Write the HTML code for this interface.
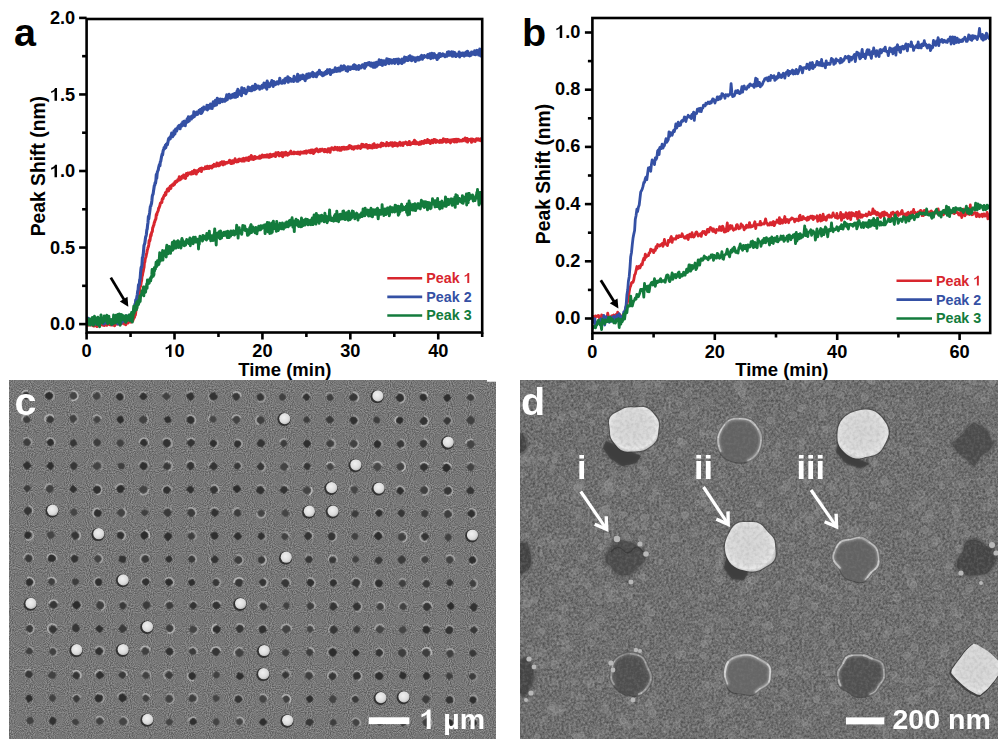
<!DOCTYPE html>
<html><head><meta charset="utf-8"><style>
html,body{margin:0;padding:0;background:#fff;}
#root{position:relative;width:1005px;height:748px;overflow:hidden;background:#fff;font-family:"Liberation Sans",sans-serif;}
.lbl{position:absolute;font-family:"Liberation Sans",sans-serif;font-weight:bold;color:#fff;line-height:1;white-space:nowrap}
</style></head><body><div id="root">
<svg width="1005" height="380" viewBox="0 0 1005 380" style="position:absolute;left:0;top:0">
<defs><clipPath id="ca"><rect x="86.6" y="19.0" width="395.6" height="313.5"/></clipPath>
<clipPath id="cb"><rect x="592.4" y="18.0" width="397.80000000000007" height="315.0"/></clipPath></defs>
<g clip-path="url(#ca)">
<path d="M86.6,324.1 87.0,323.8 87.4,324.4 87.8,325.0 88.2,324.6 88.6,325.1 89.0,324.0 89.4,322.8 89.8,324.6 90.2,324.7 90.6,323.6 91.0,323.7 91.4,324.0 91.7,325.0 92.1,324.1 92.5,323.4 92.9,325.4 93.3,324.6 93.7,326.0 94.1,325.4 94.5,325.9 94.9,324.3 95.3,325.4 95.7,323.8 96.1,323.9 96.5,324.3 96.9,326.6 97.3,324.6 97.7,324.1 98.1,324.0 98.5,325.6 98.9,324.6 99.3,325.1 99.7,324.9 100.1,323.0 100.5,324.9 100.9,324.1 101.3,323.2 101.6,324.7 102.0,324.2 102.4,324.0 102.8,324.0 103.2,325.3 103.6,324.0 104.0,322.7 104.4,325.6 104.8,323.2 105.2,324.0 105.6,324.7 106.0,322.1 106.4,323.3 106.8,325.3 107.2,324.0 107.6,323.5 108.0,324.2 108.4,323.4 108.8,324.1 109.2,323.4 109.6,322.6 110.0,324.7 110.4,323.8 110.8,324.4 111.2,323.8 111.5,325.1 111.9,324.5 112.3,324.1 112.7,323.0 113.1,322.7 113.5,325.1 113.9,324.6 114.3,323.1 114.7,325.7 115.1,324.2 115.5,323.8 115.9,322.4 116.3,322.9 116.7,323.9 117.1,323.9 117.5,323.8 117.9,322.0 118.3,323.9 118.7,323.7 119.1,323.0 119.5,323.5 119.9,323.5 120.3,324.4 120.7,323.2 121.1,323.6 121.4,322.0 121.8,322.5 122.2,323.1 122.6,322.4 123.0,323.3 123.4,321.9 123.8,322.9 124.2,322.2 124.6,324.1 125.0,322.4 125.4,324.4 125.8,324.6 126.2,322.9 126.6,323.4 127.0,322.3 127.4,320.1 127.8,323.1 128.2,322.8 128.6,321.8 129.0,321.4 129.4,321.9 129.8,321.8 130.2,320.7 130.6,320.7 131.0,322.1 131.3,320.9 131.7,320.5 132.1,321.4 132.5,319.8 132.9,320.6 133.3,318.4 133.7,318.5 134.1,317.7 134.5,317.1 134.9,315.1 135.3,315.2 135.7,312.4 136.1,308.9 136.5,309.2 136.9,304.0 137.3,304.4 137.7,299.8 138.1,299.3 138.5,295.7 138.9,294.4 139.3,294.1 139.7,289.3 140.1,287.0 140.5,286.3 140.9,284.3 141.2,282.0 141.6,280.6 142.0,276.2 142.4,275.6 142.8,272.9 143.2,271.4 143.6,269.0 144.0,267.4 144.4,262.7 144.8,262.0 145.2,258.8 145.6,257.8 146.0,256.6 146.4,254.3 146.8,252.8 147.2,250.4 147.6,249.1 148.0,247.3 148.4,246.7 148.8,244.5 149.2,240.4 149.6,241.2 150.0,240.0 150.4,237.0 150.8,234.5 151.1,235.8 151.5,233.1 151.9,232.0 152.3,231.7 152.7,227.8 153.1,227.1 153.5,225.6 153.9,225.0 154.3,222.4 154.7,222.0 155.1,220.2 155.5,219.8 155.9,218.5 156.3,214.6 156.7,215.1 157.1,213.0 157.5,212.1 157.9,211.3 158.3,210.2 158.7,207.9 159.1,207.8 159.5,206.6 159.9,205.5 160.3,203.5 160.7,203.0 161.0,202.5 161.4,202.5 161.8,202.5 162.2,199.3 162.6,198.5 163.0,198.8 163.4,197.3 163.8,196.3 164.2,195.5 164.6,194.7 165.0,195.4 165.4,192.7 165.8,194.8 166.2,192.0 166.6,191.7 167.0,190.7 167.4,189.1 167.8,188.9 168.2,190.9 168.6,190.9 169.0,187.9 169.4,189.2 169.8,187.7 170.2,186.4 170.6,188.4 170.9,188.4 171.3,185.6 171.7,185.4 172.1,185.3 172.5,184.6 172.9,185.1 173.3,185.4 173.7,183.6 174.1,184.1 174.5,184.4 174.9,181.9 175.3,182.1 175.7,181.2 176.1,182.3 176.5,181.6 176.9,181.6 177.3,181.2 177.7,179.8 178.1,180.5 178.5,179.1 178.9,178.8 179.3,176.8 179.7,179.9 180.1,177.4 180.5,178.1 180.8,177.8 181.2,179.0 181.6,177.7 182.0,176.3 182.4,176.9 182.8,176.5 183.2,176.7 183.6,175.0 184.0,176.0 184.4,178.0 184.8,176.3 185.2,177.3 185.6,178.4 186.0,175.5 186.4,173.5 186.8,174.6 187.2,175.7 187.6,175.3 188.0,173.1 188.4,173.9 188.8,173.8 189.2,173.8 189.6,173.6 190.0,172.7 190.4,172.8 190.7,173.0 191.1,174.1 191.5,172.4 191.9,173.5 192.3,171.6 192.7,173.8 193.1,172.5 193.5,172.3 193.9,173.4 194.3,170.3 194.7,170.4 195.1,172.2 195.5,170.8 195.9,171.1 196.3,174.0 196.7,171.0 197.1,171.2 197.5,170.9 197.9,171.9 198.3,171.0 198.7,170.7 199.1,169.3 199.5,170.0 199.9,170.2 200.3,168.5 200.6,170.5 201.0,170.2 201.4,171.5 201.8,168.0 202.2,168.4 202.6,168.4 203.0,168.5 203.4,168.9 203.8,168.7 204.2,169.0 204.6,168.8 205.0,168.4 205.4,166.9 205.8,167.7 206.2,168.2 206.6,168.6 207.0,168.5 207.4,166.2 207.8,167.1 208.2,167.4 208.6,167.7 209.0,168.4 209.4,167.2 209.8,166.2 210.2,167.3 210.5,167.0 210.9,166.9 211.3,166.5 211.7,168.0 212.1,166.6 212.5,167.1 212.9,165.2 213.3,166.8 213.7,165.3 214.1,164.3 214.5,166.0 214.9,166.1 215.3,165.3 215.7,165.3 216.1,166.2 216.5,164.7 216.9,163.0 217.3,165.2 217.7,165.0 218.1,165.7 218.5,164.3 218.9,165.7 219.3,165.5 219.7,163.0 220.1,165.1 220.4,163.0 220.8,162.5 221.2,163.7 221.6,163.3 222.0,161.8 222.4,163.9 222.8,164.2 223.2,164.8 223.6,163.3 224.0,161.8 224.4,162.2 224.8,164.1 225.2,163.9 225.6,163.4 226.0,162.6 226.4,163.0 226.8,162.5 227.2,162.3 227.6,162.8 228.0,162.5 228.4,162.1 228.8,162.3 229.2,161.7 229.6,160.2 230.0,161.4 230.3,161.9 230.7,163.5 231.1,161.4 231.5,163.6 231.9,163.0 232.3,160.7 232.7,160.8 233.1,161.5 233.5,163.0 233.9,161.6 234.3,161.8 234.7,160.4 235.1,158.8 235.5,160.7 235.9,161.6 236.3,161.9 236.7,160.8 237.1,160.8 237.5,161.7 237.9,160.4 238.3,161.6 238.7,159.2 239.1,159.2 239.5,159.1 239.9,160.6 240.2,159.5 240.6,160.1 241.0,160.3 241.4,160.2 241.8,161.1 242.2,161.1 242.6,158.8 243.0,159.7 243.4,159.3 243.8,158.4 244.2,161.1 244.6,160.1 245.0,159.0 245.4,158.8 245.8,159.5 246.2,158.0 246.6,158.7 247.0,160.1 247.4,159.7 247.8,157.9 248.2,158.2 248.6,160.5 249.0,157.2 249.4,157.9 249.8,157.1 250.1,158.7 250.5,158.6 250.9,159.3 251.3,155.6 251.7,158.3 252.1,156.4 252.5,158.6 252.9,157.7 253.3,159.5 253.7,158.1 254.1,156.7 254.5,158.9 254.9,156.5 255.3,157.2 255.7,158.5 256.1,157.9 256.5,157.8 256.9,157.3 257.3,157.7 257.7,158.0 258.1,157.4 258.5,158.0 258.9,158.2 259.3,156.9 259.7,156.0 260.0,158.3 260.4,156.7 260.8,157.3 261.2,157.6 261.6,155.7 262.0,157.0 262.4,154.9 262.8,157.1 263.2,155.9 263.6,156.5 264.0,157.0 264.4,155.6 264.8,156.2 265.2,155.4 265.6,156.0 266.0,157.0 266.4,156.0 266.8,155.8 267.2,154.8 267.6,156.6 268.0,155.7 268.4,157.3 268.8,154.9 269.2,156.6 269.6,157.2 269.9,155.5 270.3,154.2 270.7,156.8 271.1,156.3 271.5,155.9 271.9,156.3 272.3,154.7 272.7,155.8 273.1,155.7 273.5,154.4 273.9,155.6 274.3,154.4 274.7,155.8 275.1,156.0 275.5,156.5 275.9,152.8 276.3,154.9 276.7,154.3 277.1,154.5 277.5,154.3 277.9,154.4 278.3,152.5 278.7,155.4 279.1,155.8 279.5,155.3 279.8,155.5 280.2,153.4 280.6,153.3 281.0,155.0 281.4,155.4 281.8,154.3 282.2,152.6 282.6,156.7 283.0,153.3 283.4,154.9 283.8,152.7 284.2,154.8 284.6,154.0 285.0,155.1 285.4,154.6 285.8,152.2 286.2,152.7 286.6,153.9 287.0,154.3 287.4,155.3 287.8,153.7 288.2,153.3 288.6,153.4 289.0,153.3 289.3,154.3 289.7,153.2 290.1,153.1 290.5,151.8 290.9,151.2 291.3,153.1 291.7,153.7 292.1,153.0 292.5,153.5 292.9,153.6 293.3,152.8 293.7,153.8 294.1,152.1 294.5,152.8 294.9,152.4 295.3,152.8 295.7,153.3 296.1,153.5 296.5,152.7 296.9,153.0 297.3,152.2 297.7,152.4 298.1,153.7 298.5,152.2 298.9,153.6 299.2,152.8 299.6,152.5 300.0,154.2 300.4,152.0 300.8,151.9 301.2,152.2 301.6,152.4 302.0,152.3 302.4,152.9 302.8,152.2 303.2,152.4 303.6,151.7 304.0,153.0 304.4,151.5 304.8,151.6 305.2,151.8 305.6,152.1 306.0,151.1 306.4,153.2 306.8,151.1 307.2,151.3 307.6,151.2 308.0,151.0 308.4,152.0 308.8,151.6 309.1,150.7 309.5,150.9 309.9,151.0 310.3,152.7 310.7,150.7 311.1,150.0 311.5,150.1 311.9,150.9 312.3,152.6 312.7,150.1 313.1,151.1 313.5,153.5 313.9,150.5 314.3,152.4 314.7,152.1 315.1,151.4 315.5,149.5 315.9,151.1 316.3,150.4 316.7,148.9 317.1,149.1 317.5,150.7 317.9,150.8 318.3,151.8 318.7,151.2 319.0,150.1 319.4,150.1 319.8,150.3 320.2,149.4 320.6,151.1 321.0,150.4 321.4,149.6 321.8,149.7 322.2,149.2 322.6,149.8 323.0,150.5 323.4,149.8 323.8,151.1 324.2,151.7 324.6,149.4 325.0,150.0 325.4,149.6 325.8,151.6 326.2,150.3 326.6,150.5 327.0,150.7 327.4,152.0 327.8,150.1 328.2,148.8 328.6,149.3 328.9,150.3 329.3,149.6 329.7,148.8 330.1,152.3 330.5,149.6 330.9,148.9 331.3,148.8 331.7,147.7 332.1,148.3 332.5,149.0 332.9,149.0 333.3,148.5 333.7,149.8 334.1,149.3 334.5,148.3 334.9,147.2 335.3,149.3 335.7,149.1 336.1,148.8 336.5,147.7 336.9,149.0 337.3,147.5 337.7,149.9 338.1,149.1 338.5,149.0 338.8,148.0 339.2,147.7 339.6,150.2 340.0,149.6 340.4,148.3 340.8,149.3 341.2,150.1 341.6,147.5 342.0,148.0 342.4,148.0 342.8,148.9 343.2,147.4 343.6,148.6 344.0,147.3 344.4,149.2 344.8,149.1 345.2,148.0 345.6,148.9 346.0,147.5 346.4,147.9 346.8,149.0 347.2,148.0 347.6,148.4 348.0,147.1 348.4,148.6 348.7,148.4 349.1,146.7 349.5,145.6 349.9,145.8 350.3,147.7 350.7,147.5 351.1,146.2 351.5,147.8 351.9,148.6 352.3,147.5 352.7,147.1 353.1,148.4 353.5,149.1 353.9,148.9 354.3,146.8 354.7,148.1 355.1,147.5 355.5,147.1 355.9,146.7 356.3,147.6 356.7,146.7 357.1,148.1 357.5,147.5 357.9,148.1 358.3,145.9 358.6,147.1 359.0,147.7 359.4,147.3 359.8,147.1 360.2,146.2 360.6,148.4 361.0,147.9 361.4,147.2 361.8,144.2 362.2,145.8 362.6,146.8 363.0,145.9 363.4,144.6 363.8,146.8 364.2,146.9 364.6,145.3 365.0,146.0 365.4,145.8 365.8,146.9 366.2,144.5 366.6,144.6 367.0,145.7 367.4,145.6 367.8,148.2 368.2,145.6 368.5,146.4 368.9,145.7 369.3,145.4 369.7,146.4 370.1,147.7 370.5,145.6 370.9,146.7 371.3,146.3 371.7,146.5 372.1,146.2 372.5,148.1 372.9,144.6 373.3,145.5 373.7,144.6 374.1,143.7 374.5,145.6 374.9,147.4 375.3,146.5 375.7,146.8 376.1,146.0 376.5,145.4 376.9,147.4 377.3,145.1 377.7,146.9 378.1,145.1 378.4,145.4 378.8,145.6 379.2,145.3 379.6,145.8 380.0,145.8 380.4,146.8 380.8,145.2 381.2,143.3 381.6,143.1 382.0,143.7 382.4,144.3 382.8,145.7 383.2,143.5 383.6,145.0 384.0,145.0 384.4,145.1 384.8,144.7 385.2,145.2 385.6,144.9 386.0,145.8 386.4,145.1 386.8,142.4 387.2,144.7 387.6,144.9 388.0,144.1 388.3,143.9 388.7,145.6 389.1,144.7 389.5,143.6 389.9,144.2 390.3,144.3 390.7,142.8 391.1,145.0 391.5,144.3 391.9,144.8 392.3,142.8 392.7,146.2 393.1,144.9 393.5,144.7 393.9,143.5 394.3,143.5 394.7,142.7 395.1,145.6 395.5,143.3 395.9,144.3 396.3,144.7 396.7,143.4 397.1,144.8 397.5,146.0 397.9,144.2 398.2,145.3 398.6,144.5 399.0,143.4 399.4,143.5 399.8,142.2 400.2,143.9 400.6,145.2 401.0,144.4 401.4,144.5 401.8,144.8 402.2,143.1 402.6,144.2 403.0,145.5 403.4,142.8 403.8,143.6 404.2,143.1 404.6,143.3 405.0,142.7 405.4,143.3 405.8,142.1 406.2,142.9 406.6,142.9 407.0,142.8 407.4,144.7 407.8,143.3 408.1,143.4 408.5,142.9 408.9,144.5 409.3,141.4 409.7,142.9 410.1,144.2 410.5,144.7 410.9,143.2 411.3,143.0 411.7,143.6 412.1,142.8 412.5,143.5 412.9,142.3 413.3,143.5 413.7,142.8 414.1,141.8 414.5,140.2 414.9,143.7 415.3,143.1 415.7,143.5 416.1,141.8 416.5,143.7 416.9,143.1 417.3,142.6 417.7,143.5 418.0,143.4 418.4,142.9 418.8,144.5 419.2,143.9 419.6,142.8 420.0,142.2 420.4,142.5 420.8,144.1 421.2,142.8 421.6,141.5 422.0,141.7 422.4,142.3 422.8,143.1 423.2,141.5 423.6,142.7 424.0,143.3 424.4,142.9 424.8,140.6 425.2,141.8 425.6,140.9 426.0,142.5 426.4,141.1 426.8,142.6 427.2,142.1 427.6,139.4 427.9,141.1 428.3,142.4 428.7,141.9 429.1,141.5 429.5,140.6 429.9,142.3 430.3,143.5 430.7,142.0 431.1,141.7 431.5,141.6 431.9,140.4 432.3,141.3 432.7,140.8 433.1,142.7 433.5,140.7 433.9,139.5 434.3,140.8 434.7,141.3 435.1,141.4 435.5,139.7 435.9,142.4 436.3,141.6 436.7,141.0 437.1,140.7 437.5,141.8 437.8,141.1 438.2,141.6 438.6,141.2 439.0,141.4 439.4,142.4 439.8,141.3 440.2,140.4 440.6,142.2 441.0,141.5 441.4,140.5 441.8,142.2 442.2,141.0 442.6,142.2 443.0,140.0 443.4,138.8 443.8,139.1 444.2,141.3 444.6,140.3 445.0,140.9 445.4,140.9 445.8,139.5 446.2,142.3 446.6,139.9 447.0,141.0 447.4,139.5 447.7,140.7 448.1,141.6 448.5,140.6 448.9,140.1 449.3,140.8 449.7,140.4 450.1,141.3 450.5,142.9 450.9,139.9 451.3,140.1 451.7,140.6 452.1,140.7 452.5,139.7 452.9,141.2 453.3,141.4 453.7,140.9 454.1,139.5 454.5,142.0 454.9,139.4 455.3,141.3 455.7,141.7 456.1,139.3 456.5,140.7 456.9,141.9 457.3,140.9 457.6,139.6 458.0,139.3 458.4,140.9 458.8,140.1 459.2,139.8 459.6,141.1 460.0,140.1 460.4,140.5 460.8,140.9 461.2,140.9 461.6,140.3 462.0,140.3 462.4,140.9 462.8,140.8 463.2,139.2 463.6,140.1 464.0,139.4 464.4,139.1 464.8,139.7 465.2,138.0 465.6,141.1 466.0,139.4 466.4,140.5 466.8,138.4 467.2,138.5 467.5,142.1 467.9,141.1 468.3,139.5 468.7,139.4 469.1,139.4 469.5,140.2 469.9,139.6 470.3,139.4 470.7,140.2 471.1,139.0 471.5,142.3 471.9,139.4 472.3,141.1 472.7,139.1 473.1,140.2 473.5,140.9 473.9,139.6 474.3,140.9 474.7,140.9 475.1,141.5 475.5,140.0 475.9,139.4 476.3,138.9 476.7,140.0 477.1,138.9 477.4,139.9 477.8,140.0 478.2,139.3 478.6,138.8 479.0,140.2 479.4,140.1 479.8,140.0 480.2,139.7 480.6,140.7 481.0,138.8 481.4,140.2 481.8,139.3 482.2,140.6" fill="none" stroke="#d8262e" stroke-width="3.0" stroke-linejoin="round"/>
<path d="M86.6,320.5 87.0,320.5 87.4,321.6 87.8,318.1 88.2,320.5 88.6,318.5 89.0,319.6 89.4,322.0 89.8,321.6 90.2,320.4 90.6,320.9 91.0,321.0 91.4,321.5 91.7,323.7 92.1,321.4 92.5,324.3 92.9,320.5 93.3,322.1 93.7,322.1 94.1,321.4 94.5,320.6 94.9,323.1 95.3,323.6 95.7,322.6 96.1,324.0 96.5,322.4 96.9,318.7 97.3,322.6 97.7,320.1 98.1,323.0 98.5,320.6 98.9,321.5 99.3,321.1 99.7,320.2 100.1,318.5 100.5,320.8 100.9,320.9 101.3,322.5 101.6,320.2 102.0,321.4 102.4,319.8 102.8,321.1 103.2,318.5 103.6,323.9 104.0,321.5 104.4,319.8 104.8,321.5 105.2,322.2 105.6,321.4 106.0,323.0 106.4,320.9 106.8,317.5 107.2,319.3 107.6,322.6 108.0,322.3 108.4,321.6 108.8,319.5 109.2,322.2 109.6,322.0 110.0,319.7 110.4,319.7 110.8,321.5 111.2,322.5 111.5,323.1 111.9,321.9 112.3,324.1 112.7,319.7 113.1,321.7 113.5,320.1 113.9,318.0 114.3,319.0 114.7,322.4 115.1,319.4 115.5,319.0 115.9,321.7 116.3,322.0 116.7,320.7 117.1,322.9 117.5,318.4 117.9,324.0 118.3,322.0 118.7,320.8 119.1,320.7 119.5,320.1 119.9,319.9 120.3,320.6 120.7,318.6 121.1,323.3 121.4,320.1 121.8,321.1 122.2,319.8 122.6,319.7 123.0,321.3 123.4,320.8 123.8,318.7 124.2,319.3 124.6,320.7 125.0,316.7 125.4,316.3 125.8,321.7 126.2,319.1 126.6,315.8 127.0,318.2 127.4,318.9 127.8,319.4 128.2,319.7 128.6,319.0 129.0,319.2 129.4,317.1 129.8,318.5 130.2,318.2 130.6,319.0 131.0,317.0 131.3,317.8 131.7,316.3 132.1,313.8 132.5,313.8 132.9,312.4 133.3,311.3 133.7,310.3 134.1,309.0 134.5,307.6 134.9,304.3 135.3,305.2 135.7,300.0 136.1,300.1 136.5,299.3 136.9,296.8 137.3,294.8 137.7,291.3 138.1,290.1 138.5,284.9 138.9,285.1 139.3,284.6 139.7,279.8 140.1,279.0 140.5,273.5 140.9,269.3 141.2,267.3 141.6,267.6 142.0,264.1 142.4,257.6 142.8,257.0 143.2,254.6 143.6,250.3 144.0,245.5 144.4,244.4 144.8,243.3 145.2,240.2 145.6,237.1 146.0,236.2 146.4,234.2 146.8,230.1 147.2,229.0 147.6,225.1 148.0,222.4 148.4,216.6 148.8,218.8 149.2,215.2 149.6,212.9 150.0,209.6 150.4,206.4 150.8,206.3 151.1,204.6 151.5,203.6 151.9,200.4 152.3,196.1 152.7,194.7 153.1,194.1 153.5,191.1 153.9,188.5 154.3,185.7 154.7,185.3 155.1,182.8 155.5,183.2 155.9,180.3 156.3,174.5 156.7,178.3 157.1,173.8 157.5,171.4 157.9,170.7 158.3,169.8 158.7,167.3 159.1,165.8 159.5,164.5 159.9,165.8 160.3,161.9 160.7,161.6 161.0,159.8 161.4,157.4 161.8,155.6 162.2,154.0 162.6,154.8 163.0,151.5 163.4,150.0 163.8,149.0 164.2,147.5 164.6,148.7 165.0,147.7 165.4,145.3 165.8,147.6 166.2,144.4 166.6,144.6 167.0,143.6 167.4,144.8 167.8,142.8 168.2,140.9 168.6,138.9 169.0,138.1 169.4,139.0 169.8,138.6 170.2,138.9 170.6,136.6 170.9,136.9 171.3,135.2 171.7,133.0 172.1,135.0 172.5,136.7 172.9,135.3 173.3,135.6 173.7,134.8 174.1,130.7 174.5,131.8 174.9,133.9 175.3,130.3 175.7,129.0 176.1,131.0 176.5,131.0 176.9,130.1 177.3,128.8 177.7,127.9 178.1,126.7 178.5,126.3 178.9,125.9 179.3,125.3 179.7,126.0 180.1,128.8 180.5,126.4 180.8,125.4 181.2,126.0 181.6,123.8 182.0,125.3 182.4,125.8 182.8,122.0 183.2,122.8 183.6,123.1 184.0,121.7 184.4,121.2 184.8,121.9 185.2,125.7 185.6,122.8 186.0,122.2 186.4,122.6 186.8,120.6 187.2,118.9 187.6,121.0 188.0,121.7 188.4,116.8 188.8,120.1 189.2,120.9 189.6,118.5 190.0,118.0 190.4,119.3 190.7,116.9 191.1,118.4 191.5,118.8 191.9,116.9 192.3,115.8 192.7,117.6 193.1,115.9 193.5,116.2 193.9,111.7 194.3,116.6 194.7,113.3 195.1,115.1 195.5,115.0 195.9,113.5 196.3,113.0 196.7,112.2 197.1,113.3 197.5,114.4 197.9,114.0 198.3,112.2 198.7,111.9 199.1,110.4 199.5,111.6 199.9,110.4 200.3,109.5 200.6,111.2 201.0,113.4 201.4,112.7 201.8,112.8 202.2,108.2 202.6,111.5 203.0,108.2 203.4,108.9 203.8,107.0 204.2,107.8 204.6,109.2 205.0,109.1 205.4,108.5 205.8,108.1 206.2,108.9 206.6,107.9 207.0,105.3 207.4,109.9 207.8,106.8 208.2,108.3 208.6,106.5 209.0,105.3 209.4,106.4 209.8,105.0 210.2,108.2 210.5,104.0 210.9,106.3 211.3,104.3 211.7,104.7 212.1,108.5 212.5,105.7 212.9,104.0 213.3,101.9 213.7,103.5 214.1,103.4 214.5,105.6 214.9,101.2 215.3,100.5 215.7,102.9 216.1,103.0 216.5,104.9 216.9,101.0 217.3,98.2 217.7,100.9 218.1,99.9 218.5,100.8 218.9,102.8 219.3,99.2 219.7,102.8 220.1,101.1 220.4,100.2 220.8,99.1 221.2,99.6 221.6,99.5 222.0,101.0 222.4,101.5 222.8,99.4 223.2,100.3 223.6,101.0 224.0,100.8 224.4,99.5 224.8,101.3 225.2,100.4 225.6,100.6 226.0,97.8 226.4,97.3 226.8,94.8 227.2,99.7 227.6,98.4 228.0,95.9 228.4,97.3 228.8,97.3 229.2,94.2 229.6,97.0 230.0,98.0 230.3,98.1 230.7,95.5 231.1,95.4 231.5,97.7 231.9,97.0 232.3,94.6 232.7,94.4 233.1,96.0 233.5,94.0 233.9,93.9 234.3,97.2 234.7,94.9 235.1,93.7 235.5,94.9 235.9,97.1 236.3,94.2 236.7,92.6 237.1,91.2 237.5,96.5 237.9,89.4 238.3,94.7 238.7,91.5 239.1,91.0 239.5,91.2 239.9,92.3 240.2,94.0 240.6,91.3 241.0,93.1 241.4,95.6 241.8,87.7 242.2,90.6 242.6,88.9 243.0,92.7 243.4,89.1 243.8,88.8 244.2,88.7 244.6,90.9 245.0,92.5 245.4,90.9 245.8,93.7 246.2,92.9 246.6,90.1 247.0,91.6 247.4,90.3 247.8,90.1 248.2,87.0 248.6,87.8 249.0,89.6 249.4,87.7 249.8,90.5 250.1,89.7 250.5,87.8 250.9,90.8 251.3,89.3 251.7,90.7 252.1,88.5 252.5,86.2 252.9,89.5 253.3,88.0 253.7,89.5 254.1,89.8 254.5,89.8 254.9,85.8 255.3,84.4 255.7,87.0 256.1,88.7 256.5,86.5 256.9,87.9 257.3,86.1 257.7,86.8 258.1,86.7 258.5,86.1 258.9,87.8 259.3,87.4 259.7,89.2 260.0,87.3 260.4,88.6 260.8,86.6 261.2,87.7 261.6,86.1 262.0,85.5 262.4,88.1 262.8,87.2 263.2,87.2 263.6,84.7 264.0,83.2 264.4,84.4 264.8,86.0 265.2,83.3 265.6,87.5 266.0,83.1 266.4,86.1 266.8,89.1 267.2,81.1 267.6,82.6 268.0,86.3 268.4,84.4 268.8,84.9 269.2,84.4 269.6,86.6 269.9,85.3 270.3,83.6 270.7,83.8 271.1,82.3 271.5,83.9 271.9,80.5 272.3,84.8 272.7,83.3 273.1,86.4 273.5,85.3 273.9,81.5 274.3,84.7 274.7,82.5 275.1,83.3 275.5,84.6 275.9,83.5 276.3,83.7 276.7,83.6 277.1,81.7 277.5,81.7 277.9,83.4 278.3,83.8 278.7,82.0 279.1,82.5 279.5,80.8 279.8,78.3 280.2,80.9 280.6,82.1 281.0,82.2 281.4,83.1 281.8,83.1 282.2,83.2 282.6,82.2 283.0,82.2 283.4,80.4 283.8,82.0 284.2,81.6 284.6,83.0 285.0,78.8 285.4,80.3 285.8,78.4 286.2,79.8 286.6,78.7 287.0,81.1 287.4,79.6 287.8,76.7 288.2,82.3 288.6,78.7 289.0,77.9 289.3,79.7 289.7,79.1 290.1,78.3 290.5,81.0 290.9,79.4 291.3,81.2 291.7,80.8 292.1,80.6 292.5,79.9 292.9,79.3 293.3,78.8 293.7,81.5 294.1,76.4 294.5,77.5 294.9,78.1 295.3,79.6 295.7,79.1 296.1,78.1 296.5,78.2 296.9,81.2 297.3,77.5 297.7,74.2 298.1,81.2 298.5,76.9 298.9,77.7 299.2,78.4 299.6,76.1 300.0,79.8 300.4,77.7 300.8,75.7 301.2,78.1 301.6,78.3 302.0,77.4 302.4,78.2 302.8,75.1 303.2,78.7 303.6,75.9 304.0,79.0 304.4,76.0 304.8,77.1 305.2,80.7 305.6,76.8 306.0,78.3 306.4,77.3 306.8,74.2 307.2,78.1 307.6,77.9 308.0,74.1 308.4,76.0 308.8,73.7 309.1,75.5 309.5,77.2 309.9,75.9 310.3,73.8 310.7,74.2 311.1,75.5 311.5,75.3 311.9,75.5 312.3,76.1 312.7,72.2 313.1,75.0 313.5,76.6 313.9,75.6 314.3,73.7 314.7,73.7 315.1,74.8 315.5,75.5 315.9,74.4 316.3,76.8 316.7,76.2 317.1,72.9 317.5,74.8 317.9,73.4 318.3,72.0 318.7,72.8 319.0,73.6 319.4,70.4 319.8,72.5 320.2,73.9 320.6,72.2 321.0,72.6 321.4,74.4 321.8,72.9 322.2,73.2 322.6,75.8 323.0,73.0 323.4,73.1 323.8,73.3 324.2,75.0 324.6,73.0 325.0,72.4 325.4,72.1 325.8,73.9 326.2,71.2 326.6,73.8 327.0,72.3 327.4,69.9 327.8,72.8 328.2,72.4 328.6,70.0 328.9,72.1 329.3,71.9 329.7,71.0 330.1,69.7 330.5,74.5 330.9,72.4 331.3,72.5 331.7,72.6 332.1,72.2 332.5,72.1 332.9,70.3 333.3,72.0 333.7,70.4 334.1,69.9 334.5,71.5 334.9,70.2 335.3,67.8 335.7,69.7 336.1,71.1 336.5,70.2 336.9,71.4 337.3,69.5 337.7,68.6 338.1,71.0 338.5,70.0 338.8,68.0 339.2,70.3 339.6,69.2 340.0,70.9 340.4,70.6 340.8,70.0 341.2,66.0 341.6,69.7 342.0,69.8 342.4,69.8 342.8,69.2 343.2,67.9 343.6,68.5 344.0,65.7 344.4,68.3 344.8,66.5 345.2,68.1 345.6,67.6 346.0,70.5 346.4,68.5 346.8,68.3 347.2,68.5 347.6,71.2 348.0,66.8 348.4,68.5 348.7,68.5 349.1,68.2 349.5,68.1 349.9,67.1 350.3,69.5 350.7,68.9 351.1,67.1 351.5,67.2 351.9,67.9 352.3,68.1 352.7,68.4 353.1,67.3 353.5,65.4 353.9,68.6 354.3,64.8 354.7,65.7 355.1,67.5 355.5,65.6 355.9,68.8 356.3,69.2 356.7,68.5 357.1,67.1 357.5,66.9 357.9,67.1 358.3,66.2 358.6,69.4 359.0,65.5 359.4,68.2 359.8,67.0 360.2,66.6 360.6,67.6 361.0,67.9 361.4,67.3 361.8,65.8 362.2,64.9 362.6,64.8 363.0,67.0 363.4,66.7 363.8,66.8 364.2,64.7 364.6,68.3 365.0,63.5 365.4,65.9 365.8,66.3 366.2,64.6 366.6,63.5 367.0,64.5 367.4,63.4 367.8,64.7 368.2,63.0 368.5,62.9 368.9,64.8 369.3,62.5 369.7,64.3 370.1,64.4 370.5,65.8 370.9,64.8 371.3,63.2 371.7,66.2 372.1,63.3 372.5,63.6 372.9,63.7 373.3,67.2 373.7,64.1 374.1,63.0 374.5,65.0 374.9,63.7 375.3,67.2 375.7,62.7 376.1,64.6 376.5,62.3 376.9,66.2 377.3,62.5 377.7,63.8 378.1,62.2 378.4,64.6 378.8,64.1 379.2,59.9 379.6,64.3 380.0,64.1 380.4,63.4 380.8,64.4 381.2,61.2 381.6,60.3 382.0,63.8 382.4,65.3 382.8,61.0 383.2,61.0 383.6,61.4 384.0,60.8 384.4,63.7 384.8,62.7 385.2,64.4 385.6,64.4 386.0,60.8 386.4,63.2 386.8,58.8 387.2,62.0 387.6,63.0 388.0,60.8 388.3,59.3 388.7,61.2 389.1,63.6 389.5,61.2 389.9,59.7 390.3,62.4 390.7,62.7 391.1,60.1 391.5,61.3 391.9,63.1 392.3,62.0 392.7,62.4 393.1,60.9 393.5,61.1 393.9,59.5 394.3,60.1 394.7,63.4 395.1,60.4 395.5,59.7 395.9,60.3 396.3,59.4 396.7,61.6 397.1,62.1 397.5,59.4 397.9,62.2 398.2,63.8 398.6,59.1 399.0,61.6 399.4,60.9 399.8,62.4 400.2,62.3 400.6,62.0 401.0,60.8 401.4,59.7 401.8,63.5 402.2,59.0 402.6,61.8 403.0,61.5 403.4,59.0 403.8,60.0 404.2,62.1 404.6,57.1 405.0,61.0 405.4,59.3 405.8,59.3 406.2,57.5 406.6,60.2 407.0,58.0 407.4,60.5 407.8,57.7 408.1,60.4 408.5,59.8 408.9,56.5 409.3,58.7 409.7,59.0 410.1,55.8 410.5,58.5 410.9,60.2 411.3,57.9 411.7,60.6 412.1,57.2 412.5,57.0 412.9,59.6 413.3,59.6 413.7,58.4 414.1,58.6 414.5,60.0 414.9,57.7 415.3,61.4 415.7,59.0 416.1,58.9 416.5,58.7 416.9,57.8 417.3,60.0 417.7,57.3 418.0,58.4 418.4,59.0 418.8,60.0 419.2,59.7 419.6,57.4 420.0,59.3 420.4,57.7 420.8,56.2 421.2,56.2 421.6,55.4 422.0,58.1 422.4,59.2 422.8,56.1 423.2,57.1 423.6,55.8 424.0,57.4 424.4,55.6 424.8,56.1 425.2,56.3 425.6,56.5 426.0,56.6 426.4,56.8 426.8,56.8 427.2,55.6 427.6,57.8 427.9,54.5 428.3,57.1 428.7,55.5 429.1,57.0 429.5,57.2 429.9,53.8 430.3,57.2 430.7,58.6 431.1,57.7 431.5,57.1 431.9,53.4 432.3,56.2 432.7,55.1 433.1,57.9 433.5,55.9 433.9,55.4 434.3,53.7 434.7,57.3 435.1,55.4 435.5,55.8 435.9,57.7 436.3,56.2 436.7,56.5 437.1,59.5 437.5,55.2 437.8,55.2 438.2,56.6 438.6,57.9 439.0,53.7 439.4,55.5 439.8,54.3 440.2,53.7 440.6,56.5 441.0,54.5 441.4,56.0 441.8,55.7 442.2,55.7 442.6,55.6 443.0,53.9 443.4,55.3 443.8,55.7 444.2,55.8 444.6,54.9 445.0,56.7 445.4,56.1 445.8,55.4 446.2,56.1 446.6,55.4 447.0,56.1 447.4,52.2 447.7,53.2 448.1,54.4 448.5,55.1 448.9,51.8 449.3,54.5 449.7,55.1 450.1,54.5 450.5,54.5 450.9,52.8 451.3,54.9 451.7,51.8 452.1,56.1 452.5,53.7 452.9,56.2 453.3,52.0 453.7,55.1 454.1,54.7 454.5,53.2 454.9,52.7 455.3,56.1 455.7,55.0 456.1,56.5 456.5,54.2 456.9,54.6 457.3,54.9 457.6,55.3 458.0,54.9 458.4,55.4 458.8,53.5 459.2,52.0 459.6,57.0 460.0,54.3 460.4,54.8 460.8,53.4 461.2,55.5 461.6,54.3 462.0,55.5 462.4,53.0 462.8,53.8 463.2,54.2 463.6,53.4 464.0,54.3 464.4,56.1 464.8,53.0 465.2,53.4 465.6,54.0 466.0,52.3 466.4,52.0 466.8,55.3 467.2,54.8 467.5,51.4 467.9,51.6 468.3,54.7 468.7,55.3 469.1,54.5 469.5,54.3 469.9,55.8 470.3,53.4 470.7,55.3 471.1,55.2 471.5,52.1 471.9,54.4 472.3,53.5 472.7,52.4 473.1,52.1 473.5,53.8 473.9,53.2 474.3,54.4 474.7,50.7 475.1,52.2 475.5,54.8 475.9,53.1 476.3,52.1 476.7,52.4 477.1,50.4 477.4,51.1 477.8,53.8 478.2,53.1 478.6,54.9 479.0,52.6 479.4,52.7 479.8,49.0 480.2,52.8 480.6,55.9 481.0,53.8 481.4,52.7 481.8,54.7 482.2,54.1" fill="none" stroke="#3450a4" stroke-width="3.1" stroke-linejoin="round"/>
<path d="M86.6,322.0 87.0,320.1 87.3,321.4 87.7,323.3 88.0,318.9 88.4,322.4 88.8,322.3 89.1,324.5 89.5,323.0 89.8,319.2 90.2,325.1 90.6,321.1 90.9,319.0 91.3,321.9 91.6,320.2 92.0,323.8 92.4,317.4 92.7,317.9 93.1,320.2 93.4,325.4 93.8,323.5 94.2,318.2 94.5,316.3 94.9,320.0 95.2,317.5 95.6,322.3 96.0,321.2 96.3,320.7 96.7,319.5 97.0,324.6 97.4,318.2 97.8,317.2 98.1,323.6 98.5,324.1 98.8,319.6 99.2,322.2 99.6,326.7 99.9,318.4 100.3,320.1 100.6,321.7 101.0,314.9 101.4,320.1 101.7,322.4 102.1,320.1 102.4,323.1 102.8,322.3 103.2,319.3 103.5,321.7 103.9,321.5 104.2,315.9 104.6,318.0 105.0,318.1 105.3,318.8 105.7,318.9 106.0,316.4 106.4,320.2 106.8,315.3 107.1,322.6 107.5,320.8 107.8,323.7 108.2,321.0 108.6,318.7 108.9,316.3 109.3,321.8 109.6,320.0 110.0,320.9 110.4,321.9 110.7,323.1 111.1,319.8 111.4,324.5 111.8,319.6 112.2,319.9 112.5,321.6 112.9,322.5 113.2,323.5 113.6,315.0 114.0,323.3 114.3,315.8 114.7,318.2 115.0,320.7 115.4,322.8 115.8,317.0 116.1,315.2 116.5,322.1 116.8,320.4 117.2,316.9 117.6,318.8 117.9,314.4 118.3,321.1 118.6,318.1 119.0,322.8 119.4,314.0 119.7,321.4 120.1,325.2 120.4,319.7 120.8,319.7 121.2,314.4 121.5,320.2 121.9,319.3 122.2,317.7 122.6,315.1 123.0,319.3 123.3,316.4 123.7,317.7 124.0,319.8 124.4,318.8 124.8,318.9 125.1,321.3 125.5,315.7 125.8,322.4 126.2,315.7 126.6,316.2 126.9,318.8 127.3,320.4 127.6,318.9 128.0,316.9 128.4,316.0 128.7,317.0 129.1,314.9 129.4,318.7 129.8,316.4 130.2,320.8 130.5,314.5 130.9,315.8 131.2,316.9 131.6,312.5 132.0,313.4 132.3,322.1 132.7,314.2 133.0,317.5 133.4,310.4 133.8,306.1 134.1,313.3 134.5,311.0 134.8,311.2 135.2,308.8 135.6,307.3 135.9,304.8 136.3,309.9 136.6,302.4 137.0,308.1 137.4,304.1 137.7,301.0 138.1,301.3 138.4,304.7 138.8,303.3 139.2,301.8 139.5,299.9 139.9,296.0 140.2,301.5 140.6,296.2 141.0,295.1 141.3,294.5 141.7,294.0 142.0,290.6 142.4,292.5 142.8,290.8 143.1,290.9 143.5,287.0 143.8,295.9 144.2,286.9 144.6,290.1 144.9,289.5 145.3,290.6 145.6,292.2 146.0,287.6 146.4,287.7 146.7,283.9 147.1,288.3 147.4,280.0 147.8,282.3 148.2,282.9 148.5,283.4 148.9,282.9 149.2,283.1 149.6,280.8 150.0,278.7 150.3,278.4 150.7,280.9 151.0,277.2 151.4,278.1 151.8,274.7 152.1,269.5 152.5,272.0 152.8,273.7 153.2,276.3 153.6,275.0 153.9,274.9 154.3,267.8 154.6,270.9 155.0,268.0 155.4,269.0 155.7,266.3 156.1,262.2 156.4,266.8 156.8,265.2 157.2,265.7 157.5,260.6 157.9,264.9 158.2,264.5 158.6,264.5 159.0,264.0 159.3,258.5 159.7,252.6 160.0,261.4 160.4,255.8 160.8,257.2 161.1,260.2 161.5,257.6 161.8,257.0 162.2,257.8 162.6,250.5 162.9,260.1 163.3,253.7 163.6,253.5 164.0,255.4 164.4,253.1 164.7,250.9 165.1,252.4 165.4,251.3 165.8,250.2 166.2,257.0 166.5,247.5 166.9,245.1 167.2,248.2 167.6,247.8 168.0,253.8 168.3,250.2 168.7,251.7 169.0,250.8 169.4,246.5 169.8,250.9 170.1,248.9 170.5,253.3 170.8,248.6 171.2,247.7 171.6,249.6 171.9,249.4 172.3,242.5 172.6,250.3 173.0,249.7 173.4,248.9 173.7,243.5 174.1,241.0 174.4,245.5 174.8,248.0 175.2,247.1 175.5,243.1 175.9,248.1 176.2,241.8 176.6,241.7 177.0,245.1 177.3,243.4 177.7,243.0 178.0,240.8 178.4,247.5 178.8,241.5 179.1,245.4 179.5,246.3 179.8,244.0 180.2,244.7 180.6,246.6 180.9,248.0 181.3,246.2 181.6,239.9 182.0,238.4 182.4,241.7 182.7,240.2 183.1,244.5 183.4,243.3 183.8,242.2 184.2,245.7 184.5,245.3 184.9,242.4 185.2,243.4 185.6,245.2 185.9,241.3 186.3,242.9 186.7,239.5 187.0,242.1 187.4,242.8 187.7,241.5 188.1,242.2 188.5,243.4 188.8,242.7 189.2,239.6 189.5,239.8 189.9,238.0 190.3,245.7 190.6,242.2 191.0,242.2 191.3,240.6 191.7,242.1 192.1,242.2 192.4,238.8 192.8,240.2 193.1,243.7 193.5,237.1 193.9,237.9 194.2,241.9 194.6,238.1 194.9,242.1 195.3,237.2 195.7,240.6 196.0,242.1 196.4,240.9 196.7,241.8 197.1,239.3 197.5,239.2 197.8,239.5 198.2,241.0 198.5,249.0 198.9,239.1 199.3,244.2 199.6,238.6 200.0,236.2 200.3,238.4 200.7,240.0 201.1,239.4 201.4,239.2 201.8,240.2 202.1,240.2 202.5,241.0 202.9,235.5 203.2,238.5 203.6,235.9 203.9,239.0 204.3,238.1 204.7,238.7 205.0,236.9 205.4,235.9 205.7,237.4 206.1,239.7 206.5,239.9 206.8,233.5 207.2,238.4 207.5,238.4 207.9,233.8 208.3,234.7 208.6,236.0 209.0,238.4 209.3,231.2 209.7,236.2 210.1,235.7 210.4,237.5 210.8,240.7 211.1,240.4 211.5,235.8 211.9,235.8 212.2,237.4 212.6,239.7 212.9,240.4 213.3,237.4 213.7,240.3 214.0,234.1 214.4,233.3 214.7,228.9 215.1,233.9 215.5,237.7 215.8,238.3 216.2,245.0 216.5,237.5 216.9,236.3 217.3,233.3 217.6,234.1 218.0,234.1 218.3,235.0 218.7,233.8 219.1,231.7 219.4,238.1 219.8,236.5 220.1,238.8 220.5,230.9 220.9,231.7 221.2,233.0 221.6,238.0 221.9,234.4 222.3,235.4 222.7,234.5 223.0,235.1 223.4,233.2 223.7,235.5 224.1,232.2 224.5,233.7 224.8,235.0 225.2,234.5 225.5,235.2 225.9,231.9 226.3,234.6 226.6,233.1 227.0,234.8 227.3,237.6 227.7,231.3 228.1,236.3 228.4,231.7 228.8,232.3 229.1,237.6 229.5,235.7 229.9,234.5 230.2,235.2 230.6,236.1 230.9,231.0 231.3,233.5 231.7,231.7 232.0,233.8 232.4,231.8 232.7,234.5 233.1,232.5 233.5,230.8 233.8,232.2 234.2,233.4 234.5,235.0 234.9,231.6 235.3,231.1 235.6,232.6 236.0,233.8 236.3,230.3 236.7,225.2 237.1,232.4 237.4,230.7 237.8,230.5 238.1,238.1 238.5,231.0 238.9,233.1 239.2,227.6 239.6,231.8 239.9,233.1 240.3,231.6 240.7,230.5 241.0,232.3 241.4,230.9 241.7,234.3 242.1,231.3 242.5,228.6 242.8,225.4 243.2,228.7 243.5,229.7 243.9,227.3 244.3,227.7 244.6,225.9 245.0,227.4 245.3,230.5 245.7,229.5 246.1,229.6 246.4,229.2 246.8,229.5 247.1,232.0 247.5,235.4 247.9,231.6 248.2,235.1 248.6,229.6 248.9,229.7 249.3,234.0 249.7,227.8 250.0,227.3 250.4,229.3 250.7,225.2 251.1,224.6 251.5,232.6 251.8,226.7 252.2,228.2 252.5,228.2 252.9,226.9 253.3,231.1 253.6,230.8 254.0,231.3 254.3,231.1 254.7,229.4 255.1,232.9 255.4,231.8 255.8,227.5 256.1,229.2 256.5,228.0 256.9,233.8 257.2,230.9 257.6,230.3 257.9,228.7 258.3,230.3 258.7,226.3 259.0,228.9 259.4,228.6 259.7,228.6 260.1,226.8 260.5,229.8 260.8,225.6 261.2,227.3 261.5,228.1 261.9,228.4 262.3,227.1 262.6,225.8 263.0,225.9 263.3,227.4 263.7,226.0 264.1,228.0 264.4,225.0 264.8,228.3 265.1,233.6 265.5,224.6 265.9,227.8 266.2,231.1 266.6,228.5 266.9,230.3 267.3,222.5 267.7,226.6 268.0,231.9 268.4,226.4 268.7,228.8 269.1,222.8 269.5,230.4 269.8,233.5 270.2,227.4 270.5,228.5 270.9,228.6 271.3,233.1 271.6,226.3 272.0,223.0 272.3,232.3 272.7,224.3 273.1,228.7 273.4,221.1 273.8,226.0 274.1,227.6 274.5,224.2 274.9,225.6 275.2,228.5 275.6,225.0 275.9,228.2 276.3,231.4 276.7,221.4 277.0,227.6 277.4,228.2 277.7,225.7 278.1,230.6 278.5,230.0 278.8,227.7 279.2,227.7 279.5,226.1 279.9,223.3 280.3,227.4 280.6,224.8 281.0,224.5 281.3,228.8 281.7,225.3 282.1,228.3 282.4,223.0 282.8,224.5 283.1,225.6 283.5,229.1 283.9,225.2 284.2,227.5 284.6,223.6 284.9,225.7 285.3,227.4 285.7,222.8 286.0,223.3 286.4,226.7 286.7,222.0 287.1,225.8 287.5,225.7 287.8,224.5 288.2,226.8 288.5,225.9 288.9,225.1 289.3,220.6 289.6,220.7 290.0,225.2 290.3,220.2 290.7,224.5 291.1,223.3 291.4,221.9 291.8,223.4 292.1,217.8 292.5,223.4 292.9,227.1 293.2,220.6 293.6,225.0 293.9,224.6 294.3,231.6 294.7,221.1 295.0,221.5 295.4,221.5 295.7,221.0 296.1,219.1 296.5,223.5 296.8,220.9 297.2,225.2 297.5,224.2 297.9,220.4 298.3,222.1 298.6,226.5 299.0,222.1 299.3,223.4 299.7,225.0 300.1,221.7 300.4,223.8 300.8,226.8 301.1,225.6 301.5,218.0 301.9,226.5 302.2,221.9 302.6,220.8 302.9,220.7 303.3,225.5 303.7,223.1 304.0,221.8 304.4,220.0 304.7,223.7 305.1,225.0 305.5,219.3 305.8,219.0 306.2,220.9 306.5,223.4 306.9,220.7 307.3,221.4 307.6,219.4 308.0,224.8 308.3,221.2 308.7,221.8 309.1,224.2 309.4,220.7 309.8,221.1 310.1,222.2 310.5,220.1 310.9,224.7 311.2,221.1 311.6,219.8 311.9,220.1 312.3,218.0 312.7,223.9 313.0,224.6 313.4,220.0 313.7,219.4 314.1,215.0 314.5,218.9 314.8,222.7 315.2,218.2 315.5,222.5 315.9,224.1 316.3,213.4 316.6,219.3 317.0,218.2 317.3,218.5 317.7,215.2 318.1,219.1 318.4,216.6 318.8,222.4 319.1,223.3 319.5,215.9 319.9,215.7 320.2,218.2 320.6,218.9 320.9,219.0 321.3,221.1 321.7,215.3 322.0,217.5 322.4,217.9 322.7,218.1 323.1,216.3 323.5,217.7 323.8,217.0 324.2,221.9 324.5,217.5 324.9,213.1 325.3,220.1 325.6,219.0 326.0,216.3 326.3,216.1 326.7,216.9 327.1,222.7 327.4,217.1 327.8,221.4 328.1,220.4 328.5,216.8 328.9,219.0 329.2,216.0 329.6,209.9 329.9,216.0 330.3,216.1 330.7,220.2 331.0,219.5 331.4,220.6 331.7,219.1 332.1,220.5 332.5,219.4 332.8,218.1 333.2,220.2 333.5,221.2 333.9,221.0 334.3,216.2 334.6,217.2 335.0,214.6 335.3,214.5 335.7,218.1 336.1,215.4 336.4,220.8 336.8,211.1 337.1,213.9 337.5,217.5 337.9,219.9 338.2,215.9 338.6,221.7 338.9,218.8 339.3,214.8 339.7,216.5 340.0,217.9 340.4,214.1 340.7,219.2 341.1,215.7 341.5,217.7 341.8,218.6 342.2,215.1 342.5,218.9 342.9,211.3 343.3,217.7 343.6,211.0 344.0,218.9 344.3,214.5 344.7,219.1 345.1,219.5 345.4,215.5 345.8,214.1 346.1,219.1 346.5,212.7 346.9,217.8 347.2,215.3 347.6,214.7 347.9,214.1 348.3,220.2 348.7,211.3 349.0,214.0 349.4,216.5 349.7,218.0 350.1,219.7 350.5,218.8 350.8,213.8 351.2,216.1 351.5,218.1 351.9,216.5 352.3,211.0 352.6,215.9 353.0,216.5 353.3,211.4 353.7,213.7 354.1,214.8 354.4,216.4 354.8,218.8 355.1,217.8 355.5,215.9 355.9,215.2 356.2,213.7 356.6,213.1 356.9,213.9 357.3,213.9 357.7,217.1 358.0,220.0 358.4,215.7 358.7,216.8 359.1,216.0 359.5,215.0 359.8,217.4 360.2,217.0 360.5,214.4 360.9,213.8 361.3,215.7 361.6,212.7 362.0,214.5 362.3,216.6 362.7,213.8 363.1,208.9 363.4,215.5 363.8,210.7 364.1,210.1 364.5,209.8 364.9,215.8 365.2,208.3 365.6,213.2 365.9,214.1 366.3,214.0 366.7,211.8 367.0,213.2 367.4,213.8 367.7,209.9 368.1,215.1 368.5,215.9 368.8,211.1 369.2,211.3 369.5,210.2 369.9,215.8 370.3,210.2 370.6,211.7 371.0,208.3 371.3,216.1 371.7,212.3 372.1,213.5 372.4,216.9 372.8,214.6 373.1,209.7 373.5,213.8 373.9,214.4 374.2,210.3 374.6,209.9 374.9,209.9 375.3,214.4 375.7,212.5 376.0,209.6 376.4,214.0 376.7,214.2 377.1,210.0 377.5,208.1 377.8,215.1 378.2,218.8 378.5,215.8 378.9,214.6 379.3,212.3 379.6,210.3 380.0,212.2 380.3,213.6 380.7,211.3 381.1,214.2 381.4,211.8 381.8,213.3 382.1,204.6 382.5,209.4 382.9,213.6 383.2,214.0 383.6,212.5 383.9,215.6 384.3,213.2 384.6,213.2 385.0,208.9 385.4,212.2 385.7,213.1 386.1,214.5 386.4,214.1 386.8,211.1 387.2,211.5 387.5,207.9 387.9,212.4 388.2,208.0 388.6,210.0 389.0,210.7 389.3,215.8 389.7,213.9 390.0,208.6 390.4,206.8 390.8,209.9 391.1,208.4 391.5,211.4 391.8,211.2 392.2,211.9 392.6,207.6 392.9,209.2 393.3,210.7 393.6,210.9 394.0,208.5 394.4,209.1 394.7,212.0 395.1,205.3 395.4,209.1 395.8,209.7 396.2,205.8 396.5,206.9 396.9,209.8 397.2,208.1 397.6,212.2 398.0,211.1 398.3,215.2 398.7,206.1 399.0,214.2 399.4,207.4 399.8,211.3 400.1,211.6 400.5,209.5 400.8,208.3 401.2,207.3 401.6,204.2 401.9,207.9 402.3,206.4 402.6,210.2 403.0,206.8 403.4,208.2 403.7,209.7 404.1,208.7 404.4,208.6 404.8,207.9 405.2,207.3 405.5,209.6 405.9,210.1 406.2,206.2 406.6,212.5 407.0,209.6 407.3,203.9 407.7,215.0 408.0,209.7 408.4,206.0 408.8,212.0 409.1,200.9 409.5,214.4 409.8,203.8 410.2,203.5 410.6,205.1 410.9,208.0 411.3,206.4 411.6,209.6 412.0,205.1 412.4,210.1 412.7,207.8 413.1,204.5 413.4,209.9 413.8,207.9 414.2,206.5 414.5,210.3 414.9,203.8 415.2,205.8 415.6,210.6 416.0,206.7 416.3,208.6 416.7,208.2 417.0,206.3 417.4,208.2 417.8,203.8 418.1,208.1 418.5,203.7 418.8,206.3 419.2,203.9 419.6,207.5 419.9,207.3 420.3,208.9 420.6,204.4 421.0,203.4 421.4,200.3 421.7,202.4 422.1,205.0 422.4,206.1 422.8,204.5 423.2,205.6 423.5,201.6 423.9,202.9 424.2,207.5 424.6,207.1 425.0,201.6 425.3,204.3 425.7,205.7 426.0,201.9 426.4,206.0 426.8,205.7 427.1,206.1 427.5,209.9 427.8,202.5 428.2,207.8 428.6,206.1 428.9,206.5 429.3,202.6 429.6,204.7 430.0,204.4 430.4,208.7 430.7,204.5 431.1,208.1 431.4,203.4 431.8,203.2 432.2,204.1 432.5,198.7 432.9,202.6 433.2,202.4 433.6,203.5 434.0,204.3 434.3,201.2 434.7,200.8 435.0,207.0 435.4,200.9 435.8,202.2 436.1,201.0 436.5,202.2 436.8,206.6 437.2,206.4 437.6,198.5 437.9,202.6 438.3,206.9 438.6,202.2 439.0,204.0 439.4,207.8 439.7,208.9 440.1,207.1 440.4,202.1 440.8,202.9 441.2,203.4 441.5,202.0 441.9,201.1 442.2,208.1 442.6,203.3 443.0,204.6 443.3,205.7 443.7,203.8 444.0,202.7 444.4,203.0 444.8,206.0 445.1,203.4 445.5,196.9 445.8,204.8 446.2,206.4 446.6,201.3 446.9,200.4 447.3,200.7 447.6,204.7 448.0,199.2 448.4,203.8 448.7,204.6 449.1,203.2 449.4,201.9 449.8,199.7 450.2,199.9 450.5,201.5 450.9,198.9 451.2,201.1 451.6,198.9 452.0,204.9 452.3,205.3 452.7,199.1 453.0,204.7 453.4,201.8 453.8,201.2 454.1,202.2 454.5,202.1 454.8,197.2 455.2,207.4 455.6,198.4 455.9,194.7 456.3,200.6 456.6,200.6 457.0,198.6 457.4,195.7 457.7,203.5 458.1,200.2 458.4,200.8 458.8,198.8 459.2,199.8 459.5,198.5 459.9,201.2 460.2,200.0 460.6,201.8 461.0,201.7 461.3,200.3 461.7,200.3 462.0,202.9 462.4,195.7 462.8,200.1 463.1,203.3 463.5,196.8 463.8,201.5 464.2,198.2 464.6,199.5 464.9,198.8 465.3,199.0 465.6,200.9 466.0,199.2 466.4,194.0 466.7,205.0 467.1,199.0 467.4,198.0 467.8,201.8 468.2,202.6 468.5,193.4 468.9,199.9 469.2,193.5 469.6,197.4 470.0,198.6 470.3,197.5 470.7,197.0 471.0,195.6 471.4,197.5 471.8,198.2 472.1,198.0 472.5,194.9 472.8,196.3 473.2,201.0 473.6,200.0 473.9,197.4 474.3,199.8 474.6,199.1 475.0,200.6 475.4,198.7 475.7,196.9 476.1,195.4 476.4,197.9 476.8,192.5 477.2,198.0 477.5,189.5 477.9,195.1 478.2,196.4 478.6,198.9 479.0,205.0 479.3,198.0 479.7,197.0 480.0,192.5 480.4,201.0 480.8,192.4 481.1,198.0 481.5,195.4 481.8,203.8 482.2,196.8" fill="none" stroke="#137b3c" stroke-width="2.9" stroke-linejoin="round"/>
</g>
<rect x="86.6" y="19.0" width="395.6" height="313.5" fill="none" stroke="#000" stroke-width="2.6"/>
<line x1="79.1" y1="324.1" x2="86.6" y2="324.1" stroke="#000" stroke-width="2.6"/>
<text x="75.2" y="330.3" text-anchor="end" font-size="18.2" font-family="Liberation Sans, sans-serif" font-weight="bold">0.0</text>
<line x1="79.1" y1="247.55" x2="86.6" y2="247.55" stroke="#000" stroke-width="2.6"/>
<text x="75.2" y="253.75" text-anchor="end" font-size="18.2" font-family="Liberation Sans, sans-serif" font-weight="bold">0.5</text>
<line x1="79.1" y1="171.00000000000003" x2="86.6" y2="171.00000000000003" stroke="#000" stroke-width="2.6"/>
<text id="t1_1" x="75.2" y="177.20000000000002" text-anchor="end" font-size="18.2" font-family="Liberation Sans, sans-serif" font-weight="bold"> .0</text><path d="M800,0 L800,1409 L578,1409 C550,1338 502,1272 432,1212 C352,1146 252,1098 140,1064 L140,850 C262,890 420,958 520,1046 L520,0 Z" transform="translate(49.90,177.20) scale(0.00889,-0.00889)" fill="#000"/>
<line x1="79.1" y1="94.45000000000005" x2="86.6" y2="94.45000000000005" stroke="#000" stroke-width="2.6"/>
<text id="t1_2" x="75.2" y="100.65000000000005" text-anchor="end" font-size="18.2" font-family="Liberation Sans, sans-serif" font-weight="bold"> .5</text><path d="M800,0 L800,1409 L578,1409 C550,1338 502,1272 432,1212 C352,1146 252,1098 140,1064 L140,850 C262,890 420,958 520,1046 L520,0 Z" transform="translate(49.90,100.65) scale(0.00889,-0.00889)" fill="#000"/>
<line x1="79.1" y1="17.900000000000034" x2="86.6" y2="17.900000000000034" stroke="#000" stroke-width="2.6"/>
<text x="75.2" y="24.100000000000033" text-anchor="end" font-size="18.2" font-family="Liberation Sans, sans-serif" font-weight="bold">2.0</text>
<line x1="82.1" y1="285.82500000000005" x2="86.6" y2="285.82500000000005" stroke="#000" stroke-width="2.6"/>
<line x1="82.1" y1="209.27500000000003" x2="86.6" y2="209.27500000000003" stroke="#000" stroke-width="2.6"/>
<line x1="82.1" y1="132.72500000000002" x2="86.6" y2="132.72500000000002" stroke="#000" stroke-width="2.6"/>
<line x1="82.1" y1="56.17500000000001" x2="86.6" y2="56.17500000000001" stroke="#000" stroke-width="2.6"/>
<line x1="86.6" y1="332.5" x2="86.6" y2="339.5" stroke="#000" stroke-width="2.6"/>
<text x="86.6" y="357.0" text-anchor="middle" font-size="18.2" font-family="Liberation Sans, sans-serif" font-weight="bold">0</text>
<line x1="174.51111111111112" y1="332.5" x2="174.51111111111112" y2="339.5" stroke="#000" stroke-width="2.6"/>
<text id="t1_3" x="174.51111111111112" y="357.0" text-anchor="middle" font-size="18.2" font-family="Liberation Sans, sans-serif" font-weight="bold"> 0</text><path d="M800,0 L800,1409 L578,1409 C550,1338 502,1272 432,1212 C352,1146 252,1098 140,1064 L140,850 C262,890 420,958 520,1046 L520,0 Z" transform="translate(164.39,357.00) scale(0.00889,-0.00889)" fill="#000"/>
<line x1="262.4222222222222" y1="332.5" x2="262.4222222222222" y2="339.5" stroke="#000" stroke-width="2.6"/>
<text x="262.4222222222222" y="357.0" text-anchor="middle" font-size="18.2" font-family="Liberation Sans, sans-serif" font-weight="bold">20</text>
<line x1="350.33333333333337" y1="332.5" x2="350.33333333333337" y2="339.5" stroke="#000" stroke-width="2.6"/>
<text x="350.33333333333337" y="357.0" text-anchor="middle" font-size="18.2" font-family="Liberation Sans, sans-serif" font-weight="bold">30</text>
<line x1="438.2444444444444" y1="332.5" x2="438.2444444444444" y2="339.5" stroke="#000" stroke-width="2.6"/>
<text x="438.2444444444444" y="357.0" text-anchor="middle" font-size="18.2" font-family="Liberation Sans, sans-serif" font-weight="bold">40</text>
<line x1="130.55555555555554" y1="332.5" x2="130.55555555555554" y2="337.0" stroke="#000" stroke-width="2.6"/>
<line x1="218.46666666666667" y1="332.5" x2="218.46666666666667" y2="337.0" stroke="#000" stroke-width="2.6"/>
<line x1="306.37777777777774" y1="332.5" x2="306.37777777777774" y2="337.0" stroke="#000" stroke-width="2.6"/>
<line x1="394.2888888888889" y1="332.5" x2="394.2888888888889" y2="337.0" stroke="#000" stroke-width="2.6"/>
<line x1="482.20000000000005" y1="332.5" x2="482.20000000000005" y2="337.0" stroke="#000" stroke-width="2.6"/>
<text x="284.8" y="375.8" text-anchor="middle" font-size="18.5" font-family="Liberation Sans, sans-serif" font-weight="bold">Time (min)</text>
<text transform="translate(44.8,166.2) rotate(-90)" text-anchor="middle" font-size="19.3" font-family="Liberation Sans, sans-serif" font-weight="bold">Peak Shift (nm)</text>
<text x="14" y="46" font-size="39.5" font-family="Liberation Sans, sans-serif" font-weight="bold">a</text>
<line x1="387.3" y1="278.3" x2="422.2" y2="278.3" stroke="#d8262e" stroke-width="2.6"/>
<text id="t1_4" x="426.3" y="282.90000000000003" font-size="14.3" fill="#d8262e" font-family="Liberation Sans, sans-serif" font-weight="bold">Peak  </text><path d="M800,0 L800,1409 L578,1409 C550,1338 502,1272 432,1212 C352,1146 252,1098 140,1064 L140,850 C262,890 420,958 520,1046 L520,0 Z" transform="translate(463.66,282.90) scale(0.00698,-0.00698)" fill="#d8262e"/>
<line x1="387.3" y1="296.90000000000003" x2="422.2" y2="296.90000000000003" stroke="#3450a4" stroke-width="2.6"/>
<text x="426.3" y="301.50000000000006" font-size="14.3" fill="#3450a4" font-family="Liberation Sans, sans-serif" font-weight="bold">Peak 2</text>
<line x1="387.3" y1="315.5" x2="422.2" y2="315.5" stroke="#137b3c" stroke-width="2.6"/>
<text x="426.3" y="320.1" font-size="14.3" fill="#137b3c" font-family="Liberation Sans, sans-serif" font-weight="bold">Peak 3</text>
<line x1="110.8" y1="277.6" x2="124.2" y2="299.9" stroke="#000" stroke-width="2.8"/><polygon points="128.3,306.8 119.8,301.4 127.5,296.8" fill="#000"/>
<g clip-path="url(#cb)">
<path d="M592.4,318.3 593.2,316.4 593.9,317.5 594.7,319.7 595.5,315.8 596.2,316.3 597.0,316.5 597.8,315.7 598.5,315.5 599.3,317.6 600.1,320.0 600.8,320.1 601.6,314.9 602.4,316.1 603.1,317.2 603.9,318.2 604.7,317.3 605.4,317.3 606.2,317.9 607.0,318.6 607.7,313.2 608.5,316.8 609.3,318.3 610.0,319.6 610.8,318.5 611.6,315.8 612.3,315.7 613.1,317.5 613.9,315.0 614.6,317.5 615.4,319.0 616.2,314.4 616.9,316.1 617.7,312.1 618.5,318.1 619.2,316.8 620.0,314.8 620.8,316.8 621.5,318.8 622.3,317.8 623.1,315.2 623.8,313.8 624.6,313.4 625.4,309.6 626.1,306.5 626.9,304.3 627.7,301.2 628.4,297.5 629.2,291.8 630.0,287.3 630.7,285.9 631.5,282.8 632.3,282.2 633.0,282.3 633.8,279.8 634.6,274.9 635.3,274.0 636.1,270.3 636.9,266.5 637.6,269.0 638.4,266.8 639.2,266.2 639.9,268.0 640.7,265.9 641.5,264.0 642.2,264.7 643.0,260.6 643.8,258.3 644.5,259.8 645.3,254.1 646.1,257.3 646.8,256.3 647.6,255.5 648.4,255.6 649.1,252.8 649.9,252.8 650.7,249.1 651.4,250.5 652.2,250.0 653.0,250.9 653.7,252.6 654.5,249.6 655.3,250.5 656.0,246.7 656.8,248.1 657.6,244.5 658.3,245.8 659.1,245.2 659.8,246.0 660.6,244.7 661.4,244.5 662.1,243.6 662.9,246.3 663.7,243.7 664.4,239.4 665.2,244.1 666.0,244.1 666.7,244.5 667.5,245.6 668.3,240.3 669.0,242.1 669.8,241.3 670.6,238.1 671.3,236.5 672.1,242.4 672.9,238.5 673.6,238.9 674.4,239.0 675.2,238.5 675.9,239.1 676.7,235.8 677.5,237.3 678.2,237.6 679.0,235.6 679.8,236.0 680.5,236.6 681.3,236.6 682.1,233.8 682.8,235.9 683.6,236.8 684.4,238.0 685.1,236.9 685.9,238.1 686.7,235.8 687.4,235.3 688.2,239.5 689.0,235.5 689.7,234.2 690.5,234.9 691.3,236.9 692.0,232.6 692.8,236.1 693.6,237.0 694.3,236.5 695.1,234.4 695.9,232.4 696.6,231.9 697.4,233.5 698.2,236.0 698.9,234.8 699.7,235.1 700.5,233.6 701.2,236.4 702.0,232.7 702.8,231.5 703.5,232.8 704.3,231.4 705.1,233.8 705.8,234.6 706.6,232.9 707.4,229.4 708.1,229.4 708.9,232.0 709.7,228.8 710.4,227.5 711.2,227.9 712.0,229.7 712.7,231.3 713.5,228.9 714.3,231.7 715.0,231.8 715.8,232.7 716.6,229.4 717.3,229.8 718.1,229.8 718.9,230.3 719.6,226.7 720.4,230.1 721.2,230.5 721.9,226.8 722.7,226.3 723.5,228.2 724.2,232.0 725.0,229.8 725.8,231.7 726.5,228.4 727.3,223.0 728.1,230.8 728.8,226.9 729.6,229.2 730.4,225.5 731.1,228.0 731.9,225.9 732.7,228.9 733.4,230.2 734.2,229.5 735.0,228.5 735.7,229.2 736.5,225.0 737.3,224.6 738.0,227.2 738.8,228.8 739.6,227.0 740.3,228.0 741.1,223.9 741.9,225.9 742.6,225.5 743.4,227.0 744.2,229.9 744.9,227.5 745.7,228.1 746.5,225.2 747.2,225.6 748.0,227.2 748.8,226.3 749.5,222.6 750.3,227.2 751.1,227.0 751.8,225.7 752.6,226.5 753.4,225.9 754.1,224.0 754.9,221.7 755.7,228.5 756.4,224.7 757.2,224.5 758.0,224.7 758.7,224.8 759.5,224.9 760.3,221.4 761.0,225.0 761.8,224.3 762.6,223.9 763.3,223.6 764.1,224.1 764.9,221.8 765.6,218.8 766.4,223.1 767.2,223.4 767.9,225.1 768.7,224.7 769.5,225.0 770.2,222.6 771.0,224.2 771.8,224.7 772.5,222.2 773.3,221.5 774.1,225.7 774.8,224.5 775.6,222.1 776.4,222.3 777.1,220.0 777.9,221.7 778.7,222.9 779.4,217.6 780.2,223.5 781.0,221.6 781.7,219.8 782.5,223.2 783.3,221.3 784.0,220.3 784.8,216.5 785.6,222.5 786.3,220.8 787.1,219.4 787.9,220.4 788.6,222.7 789.4,219.6 790.2,220.0 790.9,219.3 791.7,218.0 792.4,218.1 793.2,219.1 794.0,219.2 794.7,221.8 795.5,219.9 796.3,219.1 797.0,220.2 797.8,219.2 798.6,220.8 799.3,216.4 800.1,215.2 800.9,219.8 801.6,218.3 802.4,219.4 803.2,216.5 803.9,218.0 804.7,218.5 805.5,219.0 806.2,218.3 807.0,220.3 807.8,217.1 808.5,219.7 809.3,217.3 810.1,217.9 810.8,216.1 811.6,218.1 812.4,216.1 813.1,219.6 813.9,216.7 814.7,218.2 815.4,217.4 816.2,217.5 817.0,215.8 817.7,221.3 818.5,216.9 819.3,220.2 820.0,215.1 820.8,221.0 821.6,219.1 822.3,220.3 823.1,214.1 823.9,219.5 824.6,216.8 825.4,218.0 826.2,220.3 826.9,217.5 827.7,215.6 828.5,217.1 829.2,215.0 830.0,217.3 830.8,216.6 831.5,217.3 832.3,215.9 833.1,212.9 833.8,215.7 834.6,216.0 835.4,217.5 836.1,217.7 836.9,213.5 837.7,218.3 838.4,217.9 839.2,216.3 840.0,216.9 840.7,212.4 841.5,220.4 842.3,215.3 843.0,214.6 843.8,217.9 844.6,217.0 845.3,215.0 846.1,212.7 846.9,217.4 847.6,218.6 848.4,213.8 849.2,212.7 849.9,216.1 850.7,219.6 851.5,212.7 852.2,215.8 853.0,213.3 853.8,215.4 854.5,215.9 855.3,216.0 856.1,212.4 856.8,212.5 857.6,219.0 858.4,216.8 859.1,211.7 859.9,215.6 860.7,217.3 861.4,214.8 862.2,217.1 863.0,215.0 863.7,215.6 864.5,215.3 865.3,215.5 866.0,214.0 866.8,216.1 867.6,215.1 868.3,214.8 869.1,212.0 869.9,213.7 870.6,214.6 871.4,213.4 872.2,213.6 872.9,208.9 873.7,213.3 874.5,210.9 875.2,211.7 876.0,214.2 876.8,214.9 877.5,212.5 878.3,213.1 879.1,214.3 879.8,216.8 880.6,217.4 881.4,213.4 882.1,212.6 882.9,212.5 883.7,216.4 884.4,212.0 885.2,214.9 886.0,213.2 886.7,213.1 887.5,215.4 888.3,215.0 889.0,217.7 889.8,215.6 890.6,217.2 891.3,213.0 892.1,213.7 892.9,212.1 893.6,213.1 894.4,216.2 895.2,213.1 895.9,214.5 896.7,212.6 897.5,211.8 898.2,215.6 899.0,213.7 899.8,213.6 900.5,214.2 901.3,212.0 902.1,210.5 902.8,214.3 903.6,214.2 904.4,218.9 905.1,213.8 905.9,214.3 906.7,217.5 907.4,212.9 908.2,212.3 909.0,214.8 909.7,214.1 910.5,215.1 911.3,211.9 912.0,216.1 912.8,213.8 913.6,209.5 914.3,213.0 915.1,212.2 915.9,213.3 916.6,215.1 917.4,212.9 918.2,212.1 918.9,214.7 919.7,212.1 920.5,210.4 921.2,210.6 922.0,215.5 922.8,214.3 923.5,215.5 924.3,210.4 925.0,211.2 925.8,211.0 926.6,213.9 927.3,214.4 928.1,212.1 928.9,212.0 929.6,213.8 930.4,211.9 931.2,210.9 931.9,211.7 932.7,214.0 933.5,216.0 934.2,212.6 935.0,211.8 935.8,212.6 936.5,212.9 937.3,213.5 938.1,208.9 938.8,212.3 939.6,212.0 940.4,214.1 941.1,213.5 941.9,212.1 942.7,214.3 943.4,214.8 944.2,213.1 945.0,210.3 945.7,212.2 946.5,209.9 947.3,213.0 948.0,213.3 948.8,215.4 949.6,213.9 950.3,210.3 951.1,212.4 951.9,211.7 952.6,211.8 953.4,213.2 954.2,213.6 954.9,213.0 955.7,212.0 956.5,212.5 957.2,212.4 958.0,213.1 958.8,214.9 959.5,214.0 960.3,215.3 961.1,211.7 961.8,217.5 962.6,214.0 963.4,209.2 964.1,214.3 964.9,215.7 965.7,213.7 966.4,211.3 967.2,214.0 968.0,212.6 968.7,213.6 969.5,214.5 970.3,205.0 971.0,213.7 971.8,214.8 972.6,214.7 973.3,213.1 974.1,213.1 974.9,212.5 975.6,213.6 976.4,216.6 977.2,213.0 977.9,215.7 978.7,214.5 979.5,216.7 980.2,215.1 981.0,215.4 981.8,214.1 982.5,216.7 983.3,214.0 984.1,213.8 984.8,216.1 985.6,215.2 986.4,215.7 987.1,212.4 987.9,218.8 988.7,214.6 989.4,217.2 990.2,219.0" fill="none" stroke="#d8262e" stroke-width="2.8" stroke-linejoin="round"/>
<path d="M592.4,320.7 593.2,319.4 593.9,322.4 594.7,318.7 595.5,325.4 596.2,324.9 597.0,323.8 597.8,321.7 598.5,320.6 599.3,320.7 600.1,320.6 600.8,318.8 601.6,321.3 602.4,322.9 603.1,322.8 603.9,315.5 604.7,325.0 605.4,320.2 606.2,316.7 607.0,318.7 607.7,321.5 608.5,319.6 609.3,322.4 610.0,317.0 610.8,321.4 611.6,317.8 612.3,318.9 613.1,317.0 613.9,316.3 614.6,320.0 615.4,322.3 616.2,318.3 616.9,315.2 617.7,317.5 618.5,318.4 619.2,313.6 620.0,320.8 620.8,316.5 621.5,319.3 622.3,317.3 623.1,316.3 623.8,311.9 624.6,313.8 625.4,308.4 626.1,305.4 626.9,294.8 627.7,290.1 628.4,281.2 629.2,276.7 630.0,267.1 630.7,256.7 631.5,252.5 632.3,244.3 633.0,238.3 633.8,234.1 634.6,230.5 635.3,219.2 636.1,215.5 636.9,209.1 637.6,211.6 638.4,207.3 639.2,205.0 639.9,199.2 640.7,192.2 641.5,190.6 642.2,189.2 643.0,186.4 643.8,182.5 644.5,182.4 645.3,178.6 646.1,176.9 646.8,179.7 647.6,173.8 648.4,168.0 649.1,169.9 649.9,167.5 650.7,171.3 651.4,164.8 652.2,159.8 653.0,161.3 653.7,161.5 654.5,164.6 655.3,157.8 656.0,159.5 656.8,157.9 657.6,151.1 658.3,150.0 659.1,154.5 659.8,147.4 660.6,147.0 661.4,148.6 662.1,144.2 662.9,148.2 663.7,146.2 664.4,145.7 665.2,142.2 666.0,138.7 666.7,142.4 667.5,141.0 668.3,139.6 669.0,131.9 669.8,136.3 670.6,132.7 671.3,135.0 672.1,135.3 672.9,132.6 673.6,130.4 674.4,131.5 675.2,128.0 675.9,123.8 676.7,128.0 677.5,125.8 678.2,122.2 679.0,125.7 679.8,125.4 680.5,125.2 681.3,121.4 682.1,120.5 682.8,121.2 683.6,120.2 684.4,117.0 685.1,117.2 685.9,121.5 686.7,118.0 687.4,117.2 688.2,115.3 689.0,116.8 689.7,117.2 690.5,116.2 691.3,118.6 692.0,114.3 692.8,115.0 693.6,112.2 694.3,120.3 695.1,113.1 695.9,113.7 696.6,113.4 697.4,109.1 698.2,111.0 698.9,108.6 699.7,111.4 700.5,108.3 701.2,111.6 702.0,108.5 702.8,108.1 703.5,105.2 704.3,105.6 705.1,105.9 705.8,103.3 706.6,104.2 707.4,103.0 708.1,102.1 708.9,103.4 709.7,103.5 710.4,101.7 711.2,102.9 712.0,100.8 712.7,98.9 713.5,99.1 714.3,101.4 715.0,103.0 715.8,100.0 716.6,99.8 717.3,96.9 718.1,99.7 718.9,99.0 719.6,96.7 720.4,99.0 721.2,98.0 721.9,93.7 722.7,93.8 723.5,95.4 724.2,95.9 725.0,98.2 725.8,94.6 726.5,95.4 727.3,94.8 728.1,96.1 728.8,94.7 729.6,94.7 730.4,93.4 731.1,83.7 731.9,92.7 732.7,96.7 733.4,94.9 734.2,95.9 735.0,93.9 735.7,90.8 736.5,90.8 737.3,92.7 738.0,90.5 738.8,92.4 739.6,93.6 740.3,93.2 741.1,91.8 741.9,86.6 742.6,92.2 743.4,86.4 744.2,85.9 744.9,88.9 745.7,88.3 746.5,89.2 747.2,87.7 748.0,85.9 748.8,87.0 749.5,84.6 750.3,83.9 751.1,85.4 751.8,85.2 752.6,85.7 753.4,84.5 754.1,87.4 754.9,83.8 755.7,78.1 756.4,86.0 757.2,79.2 758.0,85.6 758.7,85.1 759.5,82.4 760.3,86.8 761.0,84.1 761.8,85.4 762.6,83.9 763.3,81.8 764.1,80.6 764.9,78.6 765.6,79.0 766.4,77.9 767.2,78.9 767.9,80.9 768.7,77.2 769.5,80.4 770.2,80.4 771.0,75.5 771.8,76.8 772.5,77.7 773.3,76.3 774.1,75.8 774.8,80.3 775.6,77.3 776.4,79.3 777.1,76.3 777.9,77.7 778.7,73.1 779.4,74.6 780.2,77.2 781.0,75.2 781.7,77.5 782.5,74.6 783.3,73.2 784.0,73.6 784.8,78.1 785.6,74.4 786.3,72.3 787.1,72.5 787.9,70.5 788.6,75.5 789.4,71.4 790.2,73.7 790.9,71.6 791.7,71.0 792.4,70.1 793.2,74.1 794.0,70.8 794.7,73.5 795.5,73.8 796.3,69.4 797.0,70.5 797.8,73.7 798.6,71.8 799.3,69.8 800.1,66.3 800.9,67.2 801.6,67.5 802.4,72.9 803.2,69.1 803.9,67.6 804.7,67.6 805.5,67.4 806.2,68.6 807.0,64.2 807.8,64.6 808.5,67.8 809.3,69.5 810.1,62.8 810.8,68.2 811.6,64.3 812.4,62.5 813.1,68.5 813.9,65.6 814.7,66.8 815.4,64.8 816.2,65.0 817.0,61.3 817.7,64.0 818.5,65.1 819.3,62.5 820.0,65.3 820.8,65.3 821.6,59.5 822.3,65.8 823.1,64.9 823.9,63.6 824.6,65.7 825.4,67.8 826.2,60.8 826.9,64.6 827.7,63.9 828.5,63.3 829.2,64.4 830.0,64.4 830.8,61.6 831.5,58.4 832.3,59.9 833.1,59.7 833.8,64.4 834.6,61.0 835.4,63.3 836.1,58.9 836.9,60.9 837.7,60.2 838.4,60.3 839.2,61.1 840.0,63.0 840.7,58.3 841.5,62.4 842.3,61.8 843.0,59.7 843.8,60.4 844.6,58.2 845.3,56.4 846.1,57.9 846.9,57.9 847.6,58.1 848.4,56.1 849.2,61.8 849.9,56.9 850.7,59.5 851.5,60.0 852.2,57.2 853.0,58.2 853.8,55.7 854.5,54.4 855.3,61.6 856.1,56.6 856.8,52.1 857.6,54.3 858.4,52.9 859.1,55.7 859.9,58.8 860.7,58.0 861.4,53.9 862.2,49.3 863.0,56.7 863.7,55.6 864.5,54.3 865.3,58.5 866.0,55.3 866.8,50.9 867.6,49.6 868.3,54.3 869.1,50.0 869.9,54.9 870.6,55.4 871.4,58.3 872.2,51.3 872.9,54.0 873.7,48.0 874.5,52.1 875.2,52.3 876.0,56.4 876.8,50.7 877.5,53.0 878.3,52.4 879.1,56.7 879.8,49.8 880.6,49.5 881.4,52.8 882.1,51.1 882.9,50.4 883.7,49.0 884.4,50.7 885.2,47.1 886.0,51.2 886.7,51.8 887.5,51.4 888.3,55.7 889.0,51.8 889.8,47.8 890.6,49.3 891.3,51.5 892.1,48.8 892.9,53.8 893.6,50.0 894.4,48.1 895.2,47.6 895.9,55.1 896.7,46.9 897.5,44.8 898.2,49.6 899.0,47.0 899.8,51.8 900.5,52.5 901.3,46.9 902.1,48.0 902.8,46.2 903.6,49.1 904.4,48.4 905.1,45.9 905.9,43.9 906.7,47.9 907.4,50.9 908.2,44.5 909.0,45.8 909.7,45.5 910.5,46.5 911.3,41.8 912.0,46.5 912.8,45.5 913.6,50.4 914.3,47.6 915.1,47.7 915.9,46.2 916.6,45.2 917.4,47.5 918.2,42.0 918.9,47.9 919.7,46.5 920.5,44.9 921.2,48.0 922.0,44.0 922.8,43.7 923.5,45.6 924.3,40.7 925.0,44.5 925.8,44.0 926.6,46.5 927.3,48.0 928.1,45.6 928.9,44.8 929.6,45.0 930.4,50.5 931.2,48.9 931.9,46.1 932.7,47.5 933.5,40.5 934.2,44.5 935.0,43.7 935.8,45.4 936.5,41.0 937.3,43.7 938.1,37.6 938.8,45.7 939.6,40.0 940.4,41.5 941.1,41.1 941.9,39.5 942.7,42.4 943.4,42.3 944.2,40.2 945.0,40.8 945.7,42.1 946.5,41.3 947.3,42.4 948.0,39.7 948.8,39.1 949.6,40.9 950.3,36.8 951.1,44.0 951.9,41.1 952.6,36.8 953.4,41.3 954.2,43.7 954.9,37.1 955.7,38.8 956.5,42.5 957.2,38.1 958.0,41.9 958.8,42.5 959.5,39.8 960.3,40.4 961.1,41.6 961.8,39.9 962.6,41.2 963.4,38.8 964.1,38.9 964.9,37.2 965.7,39.6 966.4,41.4 967.2,41.3 968.0,38.9 968.7,35.0 969.5,36.4 970.3,39.5 971.0,36.0 971.8,40.4 972.6,35.7 973.3,38.6 974.1,36.0 974.9,36.2 975.6,38.1 976.4,36.7 977.2,39.6 977.9,37.4 978.7,34.8 979.5,28.3 980.2,35.5 981.0,36.7 981.8,39.0 982.5,34.5 983.3,40.2 984.1,38.3 984.8,35.8 985.6,39.0 986.4,33.1 987.1,34.0 987.9,37.5 988.7,37.4 989.4,38.9 990.2,39.0" fill="none" stroke="#3450a4" stroke-width="2.8" stroke-linejoin="round"/>
<path d="M592.4,328.7 593.2,328.1 593.9,326.3 594.7,326.5 595.5,327.8 596.2,325.6 597.0,324.8 597.8,321.3 598.5,320.1 599.3,322.5 600.1,324.9 600.8,324.6 601.6,329.6 602.4,319.3 603.1,321.5 603.9,322.2 604.7,323.7 605.4,319.8 606.2,321.0 607.0,321.7 607.7,321.2 608.5,317.5 609.3,321.7 610.0,317.4 610.8,318.4 611.6,321.0 612.3,319.1 613.1,321.3 613.9,322.9 614.6,321.6 615.4,323.0 616.2,319.6 616.9,320.7 617.7,319.3 618.5,318.6 619.2,327.5 620.0,319.5 620.8,324.2 621.5,319.5 622.3,321.7 623.1,318.7 623.8,314.2 624.6,319.1 625.4,312.6 626.1,310.8 626.9,312.7 627.7,305.6 628.4,305.9 629.2,306.2 630.0,305.9 630.7,296.1 631.5,303.6 632.3,306.0 633.0,303.1 633.8,300.8 634.6,299.8 635.3,297.9 636.1,299.0 636.9,294.3 637.6,295.6 638.4,296.7 639.2,294.6 639.9,292.8 640.7,289.3 641.5,289.4 642.2,290.6 643.0,289.2 643.8,297.1 644.5,283.5 645.3,289.2 646.1,286.3 646.8,288.8 647.6,291.5 648.4,285.8 649.1,291.8 649.9,286.7 650.7,284.1 651.4,282.7 652.2,282.2 653.0,285.0 653.7,283.9 654.5,278.6 655.3,286.3 656.0,282.9 656.8,281.1 657.6,282.5 658.3,281.0 659.1,281.8 659.8,280.2 660.6,278.7 661.4,281.8 662.1,280.5 662.9,280.8 663.7,281.3 664.4,280.1 665.2,282.3 666.0,277.7 666.7,275.2 667.5,274.9 668.3,275.6 669.0,280.4 669.8,281.6 670.6,279.3 671.3,277.5 672.1,272.9 672.9,279.4 673.6,274.7 674.4,275.8 675.2,274.4 675.9,277.9 676.7,274.7 677.5,276.4 678.2,272.7 679.0,272.0 679.8,277.6 680.5,275.3 681.3,274.5 682.1,276.1 682.8,275.5 683.6,272.3 684.4,272.5 685.1,275.2 685.9,272.2 686.7,269.2 687.4,272.5 688.2,271.3 689.0,265.0 689.7,265.0 690.5,271.2 691.3,270.0 692.0,265.5 692.8,268.6 693.6,265.9 694.3,265.9 695.1,263.0 695.9,269.6 696.6,268.3 697.4,265.6 698.2,259.9 698.9,262.1 699.7,265.1 700.5,259.6 701.2,258.7 702.0,260.4 702.8,260.2 703.5,258.1 704.3,256.0 705.1,258.2 705.8,257.1 706.6,258.2 707.4,258.7 708.1,259.8 708.9,256.9 709.7,258.1 710.4,257.8 711.2,254.9 712.0,255.8 712.7,254.8 713.5,260.3 714.3,255.3 715.0,257.7 715.8,258.1 716.6,258.1 717.3,253.3 718.1,254.0 718.9,257.5 719.6,258.3 720.4,255.6 721.2,256.6 721.9,251.6 722.7,258.6 723.5,259.3 724.2,255.5 725.0,254.7 725.8,254.2 726.5,252.5 727.3,249.2 728.1,254.4 728.8,254.5 729.6,256.9 730.4,251.9 731.1,250.2 731.9,252.3 732.7,248.6 733.4,250.9 734.2,247.1 735.0,249.5 735.7,252.3 736.5,251.0 737.3,252.8 738.0,253.0 738.8,248.2 739.6,246.6 740.3,243.9 741.1,248.3 741.9,248.5 742.6,250.3 743.4,245.3 744.2,246.5 744.9,248.6 745.7,245.5 746.5,245.6 747.2,251.0 748.0,244.8 748.8,246.0 749.5,247.0 750.3,246.9 751.1,241.7 751.8,242.0 752.6,241.1 753.4,247.6 754.1,246.2 754.9,242.4 755.7,246.9 756.4,245.5 757.2,247.7 758.0,239.0 758.7,240.5 759.5,241.6 760.3,241.9 761.0,246.3 761.8,242.8 762.6,240.2 763.3,243.0 764.1,238.3 764.9,242.0 765.6,242.7 766.4,237.6 767.2,240.7 767.9,238.9 768.7,241.0 769.5,245.0 770.2,238.5 771.0,242.7 771.8,237.0 772.5,242.8 773.3,243.4 774.1,238.3 774.8,237.9 775.6,238.5 776.4,241.4 777.1,236.5 777.9,241.8 778.7,239.4 779.4,240.0 780.2,238.9 781.0,236.0 781.7,239.3 782.5,236.4 783.3,236.0 784.0,241.4 784.8,240.0 785.6,238.1 786.3,238.5 787.1,236.3 787.9,241.3 788.6,235.2 789.4,235.0 790.2,237.0 790.9,239.7 791.7,236.4 792.4,237.5 793.2,234.9 794.0,236.3 794.7,234.3 795.5,243.7 796.3,232.5 797.0,241.0 797.8,237.9 798.6,234.4 799.3,238.9 800.1,233.6 800.9,238.0 801.6,234.9 802.4,237.1 803.2,236.0 803.9,234.5 804.7,225.8 805.5,235.5 806.2,229.6 807.0,234.4 807.8,236.6 808.5,232.1 809.3,232.2 810.1,231.2 810.8,229.8 811.6,235.3 812.4,231.2 813.1,230.9 813.9,233.4 814.7,232.7 815.4,240.0 816.2,234.3 817.0,228.8 817.7,236.9 818.5,233.9 819.3,231.8 820.0,231.0 820.8,228.5 821.6,236.1 822.3,231.8 823.1,229.8 823.9,234.6 824.6,231.5 825.4,227.0 826.2,228.1 826.9,231.0 827.7,236.8 828.5,230.9 829.2,229.5 830.0,230.9 830.8,230.2 831.5,222.8 832.3,230.2 833.1,231.7 833.8,228.8 834.6,229.9 835.4,229.7 836.1,229.0 836.9,226.8 837.7,227.9 838.4,230.9 839.2,228.3 840.0,226.7 840.7,228.6 841.5,224.7 842.3,225.4 843.0,229.2 843.8,226.0 844.6,222.0 845.3,222.8 846.1,226.3 846.9,223.9 847.6,227.4 848.4,229.0 849.2,224.3 849.9,224.9 850.7,224.2 851.5,225.3 852.2,224.4 853.0,226.3 853.8,223.9 854.5,223.0 855.3,225.0 856.1,222.9 856.8,228.8 857.6,226.5 858.4,221.3 859.1,220.5 859.9,223.9 860.7,224.7 861.4,227.3 862.2,223.5 863.0,222.5 863.7,227.6 864.5,222.9 865.3,223.0 866.0,223.0 866.8,226.6 867.6,222.7 868.3,227.3 869.1,220.4 869.9,223.5 870.6,226.4 871.4,220.6 872.2,220.9 872.9,225.0 873.7,218.4 874.5,225.7 875.2,222.6 876.0,220.5 876.8,228.3 877.5,218.1 878.3,223.1 879.1,222.9 879.8,225.2 880.6,221.8 881.4,225.0 882.1,224.6 882.9,223.2 883.7,224.9 884.4,218.3 885.2,224.8 886.0,223.4 886.7,222.2 887.5,221.3 888.3,219.4 889.0,219.1 889.8,221.5 890.6,221.6 891.3,220.4 892.1,218.5 892.9,218.6 893.6,221.2 894.4,224.5 895.2,214.8 895.9,217.3 896.7,218.7 897.5,218.4 898.2,223.3 899.0,221.1 899.8,219.4 900.5,219.0 901.3,219.8 902.1,221.5 902.8,218.8 903.6,216.6 904.4,218.9 905.1,217.6 905.9,222.3 906.7,217.9 907.4,217.5 908.2,220.0 909.0,221.0 909.7,216.0 910.5,218.6 911.3,215.6 912.0,217.5 912.8,215.0 913.6,217.1 914.3,219.7 915.1,216.3 915.9,216.8 916.6,214.4 917.4,216.8 918.2,216.6 918.9,213.6 919.7,212.8 920.5,213.6 921.2,212.9 922.0,214.1 922.8,213.3 923.5,212.9 924.3,213.9 925.0,214.6 925.8,214.3 926.6,209.0 927.3,214.4 928.1,214.9 928.9,215.1 929.6,214.2 930.4,213.4 931.2,216.5 931.9,218.3 932.7,213.0 933.5,217.2 934.2,212.8 935.0,213.0 935.8,210.6 936.5,209.3 937.3,212.1 938.1,214.1 938.8,215.4 939.6,214.4 940.4,212.3 941.1,217.0 941.9,212.0 942.7,212.1 943.4,210.4 944.2,212.5 945.0,211.4 945.7,213.2 946.5,206.2 947.3,215.3 948.0,210.8 948.8,207.4 949.6,216.7 950.3,209.9 951.1,212.9 951.9,212.5 952.6,212.1 953.4,208.4 954.2,209.9 954.9,212.2 955.7,207.6 956.5,209.8 957.2,209.3 958.0,208.6 958.8,209.6 959.5,210.3 960.3,208.3 961.1,210.2 961.8,209.1 962.6,210.7 963.4,212.5 964.1,210.5 964.9,210.1 965.7,208.8 966.4,206.1 967.2,212.6 968.0,208.3 968.7,213.6 969.5,210.9 970.3,209.6 971.0,213.5 971.8,212.6 972.6,207.9 973.3,208.0 974.1,208.4 974.9,209.9 975.6,203.1 976.4,208.3 977.2,209.9 977.9,204.0 978.7,206.4 979.5,208.6 980.2,205.0 981.0,207.3 981.8,206.1 982.5,207.0 983.3,209.9 984.1,205.3 984.8,207.1 985.6,209.7 986.4,209.1 987.1,205.2 987.9,208.2 988.7,207.2 989.4,205.8 990.2,207.0" fill="none" stroke="#137b3c" stroke-width="2.8" stroke-linejoin="round"/>
</g>
<rect x="592.4" y="18.0" width="397.80000000000007" height="315.0" fill="none" stroke="#000" stroke-width="2.6"/>
<line x1="584.9" y1="318.5" x2="592.4" y2="318.5" stroke="#000" stroke-width="2.6"/>
<text x="580.4" y="323.9" text-anchor="end" font-size="18.2" font-family="Liberation Sans, sans-serif" font-weight="bold">0.0</text>
<line x1="584.9" y1="261.3" x2="592.4" y2="261.3" stroke="#000" stroke-width="2.6"/>
<text x="580.4" y="266.7" text-anchor="end" font-size="18.2" font-family="Liberation Sans, sans-serif" font-weight="bold">0.2</text>
<line x1="584.9" y1="204.1" x2="592.4" y2="204.1" stroke="#000" stroke-width="2.6"/>
<text x="580.4" y="209.5" text-anchor="end" font-size="18.2" font-family="Liberation Sans, sans-serif" font-weight="bold">0.4</text>
<line x1="584.9" y1="146.9" x2="592.4" y2="146.9" stroke="#000" stroke-width="2.6"/>
<text x="580.4" y="152.3" text-anchor="end" font-size="18.2" font-family="Liberation Sans, sans-serif" font-weight="bold">0.6</text>
<line x1="584.9" y1="89.69999999999999" x2="592.4" y2="89.69999999999999" stroke="#000" stroke-width="2.6"/>
<text x="580.4" y="95.1" text-anchor="end" font-size="18.2" font-family="Liberation Sans, sans-serif" font-weight="bold">0.8</text>
<line x1="584.9" y1="32.5" x2="592.4" y2="32.5" stroke="#000" stroke-width="2.6"/>
<text id="t1_5" x="580.4" y="37.9" text-anchor="end" font-size="18.2" font-family="Liberation Sans, sans-serif" font-weight="bold"> .0</text><path d="M800,0 L800,1409 L578,1409 C550,1338 502,1272 432,1212 C352,1146 252,1098 140,1064 L140,850 C262,890 420,958 520,1046 L520,0 Z" transform="translate(555.10,37.90) scale(0.00889,-0.00889)" fill="#000"/>
<line x1="587.9" y1="289.9" x2="592.4" y2="289.9" stroke="#000" stroke-width="2.6"/>
<line x1="587.9" y1="232.7" x2="592.4" y2="232.7" stroke="#000" stroke-width="2.6"/>
<line x1="587.9" y1="175.5" x2="592.4" y2="175.5" stroke="#000" stroke-width="2.6"/>
<line x1="587.9" y1="118.30000000000001" x2="592.4" y2="118.30000000000001" stroke="#000" stroke-width="2.6"/>
<line x1="587.9" y1="61.099999999999966" x2="592.4" y2="61.099999999999966" stroke="#000" stroke-width="2.6"/>
<line x1="592.4" y1="333.0" x2="592.4" y2="340.0" stroke="#000" stroke-width="2.6"/>
<text x="592.4" y="357.5" text-anchor="middle" font-size="18.2" font-family="Liberation Sans, sans-serif" font-weight="bold">0</text>
<line x1="714.8" y1="333.0" x2="714.8" y2="340.0" stroke="#000" stroke-width="2.6"/>
<text x="714.8" y="357.5" text-anchor="middle" font-size="18.2" font-family="Liberation Sans, sans-serif" font-weight="bold">20</text>
<line x1="837.2" y1="333.0" x2="837.2" y2="340.0" stroke="#000" stroke-width="2.6"/>
<text x="837.2" y="357.5" text-anchor="middle" font-size="18.2" font-family="Liberation Sans, sans-serif" font-weight="bold">40</text>
<line x1="959.6" y1="333.0" x2="959.6" y2="340.0" stroke="#000" stroke-width="2.6"/>
<text x="959.6" y="357.5" text-anchor="middle" font-size="18.2" font-family="Liberation Sans, sans-serif" font-weight="bold">60</text>
<line x1="653.6" y1="333.0" x2="653.6" y2="337.5" stroke="#000" stroke-width="2.6"/>
<line x1="776.0" y1="333.0" x2="776.0" y2="337.5" stroke="#000" stroke-width="2.6"/>
<line x1="898.4000000000001" y1="333.0" x2="898.4000000000001" y2="337.5" stroke="#000" stroke-width="2.6"/>
<text x="781.8" y="375.6" text-anchor="middle" font-size="18.5" font-family="Liberation Sans, sans-serif" font-weight="bold">Time (min)</text>
<text transform="translate(550,174) rotate(-90)" text-anchor="middle" font-size="19.3" font-family="Liberation Sans, sans-serif" font-weight="bold">Peak Shift (nm)</text>
<text x="522" y="46" font-size="39.5" font-family="Liberation Sans, sans-serif" font-weight="bold">b</text>
<line x1="896.5" y1="280.7" x2="932" y2="280.7" stroke="#d8262e" stroke-width="2.6"/>
<text id="t1_6" x="935.9" y="285.59999999999997" font-size="14.3" fill="#d8262e" font-family="Liberation Sans, sans-serif" font-weight="bold">Peak  </text><path d="M800,0 L800,1409 L578,1409 C550,1338 502,1272 432,1212 C352,1146 252,1098 140,1064 L140,850 C262,890 420,958 520,1046 L520,0 Z" transform="translate(973.26,285.60) scale(0.00698,-0.00698)" fill="#d8262e"/>
<line x1="896.5" y1="299.59999999999997" x2="932" y2="299.59999999999997" stroke="#3450a4" stroke-width="2.6"/>
<text x="935.9" y="304.49999999999994" font-size="14.3" fill="#3450a4" font-family="Liberation Sans, sans-serif" font-weight="bold">Peak 2</text>
<line x1="896.5" y1="318.5" x2="932" y2="318.5" stroke="#137b3c" stroke-width="2.6"/>
<text x="935.9" y="323.4" font-size="14.3" fill="#137b3c" font-family="Liberation Sans, sans-serif" font-weight="bold">Peak 3</text>
<line x1="600.8" y1="280.2" x2="614.2" y2="301.7" stroke="#000" stroke-width="2.8"/><polygon points="618.4,308.5 609.8,303.2 617.5,298.5" fill="#000"/>
</svg>
<svg width="487" height="359" viewBox="9 380 487 359" style="position:absolute;left:9px;top:380px;filter:blur(0.4px)">
<defs><filter id="nc" x="0" y="0" width="1" height="1" color-interpolation-filters="sRGB">
<feTurbulence type="fractalNoise" baseFrequency="0.95" numOctaves="1" seed="4"/>
<feColorMatrix type="matrix" values="0.46 0 0 0 0.236  0.46 0 0 0 0.236  0.46 0 0 0 0.236  0 0 0 0 1"/>
</filter>
<radialGradient id="pb" cx="0.42" cy="0.4" r="0.6"><stop offset="0" stop-color="#f0f0f0"/><stop offset="0.7" stop-color="#dcdcdc"/><stop offset="1" stop-color="#bdbdbd"/></radialGradient>
</defs>
<rect x="9" y="380" width="487" height="359" filter="url(#nc)"/>
<polygon points="29.6,395.4 29.1,396.7 28.2,397.6 27.3,398.6 26.0,399.4 24.7,398.7 23.9,397.5 23.2,396.6 22.1,395.4 22.8,394.1 24.0,393.4 24.8,392.4 26.0,392.2 27.3,392.4 28.2,393.2 28.9,394.2" fill="rgb(51,51,51)" stroke="rgb(66,66,66)" stroke-width="0.8" stroke-linejoin="round"/>
<path d="M22.3,392.4 A4.9,4.9 0 0 1 27.4,390.8" fill="none" stroke="rgb(188,188,188)" stroke-width="1.5" opacity="0.80" stroke-linecap="round"/>
<polygon points="52.8,395.9 52.3,397.2 51.5,398.3 50.4,399.1 49.1,399.5 47.8,398.9 46.8,398.1 45.6,397.4 45.6,395.9 45.6,394.5 46.5,393.3 47.9,392.9 49.1,392.1 50.3,392.9 51.6,393.4 52.6,394.5" fill="rgb(44,44,44)" stroke="rgb(59,59,59)" stroke-width="0.8" stroke-linejoin="round"/>
<path d="M44.7,393.3 A5.1,5.1 0 1 1 52.6,399.6" fill="none" stroke="rgb(168,168,168)" stroke-width="1.5" opacity="0.79" stroke-linecap="round"/>
<polygon points="76.8,395.7 77.0,397.2 75.6,398.1 74.6,398.8 73.3,399.3 72.0,398.7 71.0,398.0 70.1,397.0 70.0,395.7 70.1,394.4 71.0,393.4 72.0,392.6 73.3,392.4 74.6,392.6 75.6,393.4 76.2,394.5" fill="rgb(68,68,68)" stroke="rgb(83,83,83)" stroke-width="0.8" stroke-linejoin="round"/>
<path d="M73.2,390.9 A4.8,4.8 0 1 1 71.9,400.3" fill="none" stroke="rgb(199,199,199)" stroke-width="1.5" opacity="0.74" stroke-linecap="round"/>
<polygon points="100.2,396.1 99.7,397.3 99.2,398.5 97.9,399.0 96.7,399.8 95.4,399.3 94.4,398.4 93.6,397.4 92.6,396.1 93.6,394.8 94.5,393.9 95.6,393.3 96.7,392.3 98.0,392.9 99.1,393.6 99.8,394.8" fill="rgb(66,66,66)" stroke="rgb(81,81,81)" stroke-width="0.8" stroke-linejoin="round"/>
<path d="M91.7,395.6 A5.0,5.0 0 1 1 101.7,396.6" fill="none" stroke="rgb(169,169,169)" stroke-width="1.5" opacity="0.66" stroke-linecap="round"/>
<polygon points="123.3,396.9 122.9,398.2 122.3,399.4 121.0,400.0 119.8,400.3 118.5,400.1 117.6,399.1 116.7,398.2 116.1,396.9 116.5,395.6 117.4,394.5 118.4,393.5 119.8,393.8 121.2,393.6 122.1,394.7 122.6,395.8" fill="rgb(46,46,46)" stroke="rgb(61,61,61)" stroke-width="0.8" stroke-linejoin="round"/>
<path d="M116.1,393.7 A4.9,4.9 0 0 1 124.3,398.8" fill="none" stroke="rgb(189,189,189)" stroke-width="1.5" opacity="0.45" stroke-linecap="round"/>
<polygon points="147.2,396.5 146.4,397.8 145.5,398.7 144.6,399.5 143.4,399.7 142.2,399.4 141.1,398.8 140.4,397.7 139.5,396.5 140.4,395.3 141.4,394.5 142.0,393.2 143.4,392.8 144.5,393.7 145.7,394.1 146.2,395.3" fill="rgb(49,49,49)" stroke="rgb(64,64,64)" stroke-width="0.8" stroke-linejoin="round"/>
<path d="M139.0,394.8 A4.6,4.6 0 0 1 146.0,392.7" fill="none" stroke="rgb(182,182,182)" stroke-width="1.5" opacity="0.47" stroke-linecap="round"/>
<polygon points="170.3,396.4 169.6,397.7 168.5,398.5 167.5,399.2 166.4,400.1 165.2,399.3 164.2,398.5 163.7,397.5 162.2,396.4 163.1,395.0 164.3,394.3 165.0,393.1 166.4,392.3 167.4,393.8 168.6,394.2 169.3,395.1" fill="rgb(65,65,65)" stroke="rgb(80,80,80)" stroke-width="0.8" stroke-linejoin="round"/>
<path d="M162.5,393.5 A4.8,4.8 0 0 1 167.3,391.6" fill="none" stroke="rgb(165,165,165)" stroke-width="1.5" opacity="0.55" stroke-linecap="round"/>
<polygon points="194.1,396.4 193.7,397.7 193.0,398.8 191.9,399.7 190.6,400.5 189.2,399.7 188.3,398.6 187.3,397.7 186.7,396.4 186.9,394.9 188.2,394.0 189.4,393.5 190.6,392.9 192.1,392.8 192.9,394.1 193.3,395.3" fill="rgb(50,50,50)" stroke="rgb(65,65,65)" stroke-width="0.8" stroke-linejoin="round"/>
<path d="M186.9,393.0 A5.0,5.0 0 0 1 192.2,391.7" fill="none" stroke="rgb(172,172,172)" stroke-width="1.5" opacity="0.62" stroke-linecap="round"/>
<polygon points="217.4,396.4 217.1,397.9 216.2,399.1 214.8,399.6 213.5,400.1 212.1,399.7 211.0,398.9 210.3,397.7 209.0,396.4 210.0,395.0 210.7,393.7 212.0,392.9 213.5,392.8 215.0,392.6 215.6,394.3 216.7,395.1" fill="rgb(50,50,50)" stroke="rgb(65,65,65)" stroke-width="0.8" stroke-linejoin="round"/>
<path d="M212.7,401.5 A5.1,5.1 0 0 1 209.0,393.9" fill="none" stroke="rgb(167,167,167)" stroke-width="1.5" opacity="0.56" stroke-linecap="round"/>
<polygon points="239.8,396.6 239.2,397.9 238.5,398.9 237.5,400.0 236.2,400.4 234.8,399.9 233.9,398.9 233.4,397.8 232.7,396.6 232.9,395.3 233.8,394.3 235.0,393.7 236.2,393.4 237.5,393.4 238.4,394.4 239.2,395.4" fill="rgb(55,55,55)" stroke="rgb(70,70,70)" stroke-width="0.8" stroke-linejoin="round"/>
<path d="M233.5,392.5 A4.9,4.9 0 0 1 241.0,396.2" fill="none" stroke="rgb(190,190,190)" stroke-width="1.5" opacity="0.74" stroke-linecap="round"/>
<polygon points="263.9,397.1 263.6,398.5 262.8,399.6 261.5,400.0 260.4,400.3 259.0,400.5 258.1,399.4 257.2,398.4 257.1,397.1 256.9,395.7 258.0,394.8 259.1,394.2 260.4,393.6 261.7,394.0 262.6,394.9 263.3,395.9" fill="rgb(54,54,54)" stroke="rgb(69,69,69)" stroke-width="0.8" stroke-linejoin="round"/>
<path d="M261.8,392.6 A4.8,4.8 0 1 1 258.3,401.4" fill="none" stroke="rgb(169,169,169)" stroke-width="1.5" opacity="0.66" stroke-linecap="round"/>
<polygon points="285.9,397.1 285.6,398.5 284.6,399.3 283.6,400.0 282.4,400.6 281.2,400.2 280.1,399.5 279.5,398.3 279.2,397.1 279.2,395.8 280.4,395.1 281.1,393.9 282.4,393.5 283.6,394.2 284.6,395.0 285.5,395.8" fill="rgb(64,64,64)" stroke="rgb(79,79,79)" stroke-width="0.8" stroke-linejoin="round"/>
<polygon points="309.6,397.4 309.1,398.4 308.6,399.4 307.7,400.2 306.6,400.4 305.3,400.3 304.8,399.1 303.8,398.5 302.8,397.4 303.5,396.1 304.3,395.1 305.3,394.2 306.6,393.6 307.8,394.4 308.7,395.2 309.3,396.2" fill="rgb(50,50,50)" stroke="rgb(65,65,65)" stroke-width="0.8" stroke-linejoin="round"/>
<path d="M301.9,397.0 A4.7,4.7 0 0 1 310.6,395.0" fill="none" stroke="rgb(171,171,171)" stroke-width="1.5" opacity="0.55" stroke-linecap="round"/>
<polygon points="333.1,397.4 333.3,398.8 332.2,399.8 331.1,400.5 329.9,400.8 328.7,400.3 327.7,399.6 327.1,398.6 327.0,397.4 326.8,396.2 327.9,395.4 328.8,394.9 329.9,394.1 331.2,394.3 332.0,395.3 332.5,396.3" fill="rgb(62,62,62)" stroke="rgb(77,77,77)" stroke-width="0.8" stroke-linejoin="round"/>
<path d="M325.5,395.7 A4.7,4.7 0 0 1 332.4,393.5" fill="none" stroke="rgb(173,173,173)" stroke-width="1.5" opacity="0.51" stroke-linecap="round"/>
<polygon points="357.5,397.4 356.7,398.8 355.9,399.9 354.6,400.2 353.5,400.6 352.1,400.8 350.9,399.9 349.7,399.0 349.4,397.4 350.1,396.0 351.0,394.9 352.2,394.4 353.5,393.3 354.8,394.3 356.0,394.8 356.9,396.0" fill="rgb(55,55,55)" stroke="rgb(70,70,70)" stroke-width="0.8" stroke-linejoin="round"/>
<path d="M353.3,392.3 A5.1,5.1 0 0 1 356.9,401.2" fill="none" stroke="rgb(192,192,192)" stroke-width="1.5" opacity="0.67" stroke-linecap="round"/>
<circle cx="377.2" cy="396.6" r="6.7" fill="#262626" opacity="0.85"/>
<circle cx="377.9" cy="395.9" r="5.6" fill="url(#pb)"/>
<polygon points="403.5,397.8 403.5,399.3 402.7,400.6 401.2,401.0 399.9,401.7 398.6,401.1 397.4,400.4 396.9,399.1 395.6,397.8 396.6,396.4 397.7,395.6 398.4,394.1 399.9,393.7 401.4,394.3 402.5,395.2 403.1,396.5" fill="rgb(48,48,48)" stroke="rgb(63,63,63)" stroke-width="0.8" stroke-linejoin="round"/>
<path d="M399.0,392.7 A5.2,5.2 0 1 1 400.5,403.0" fill="none" stroke="rgb(194,194,194)" stroke-width="1.5" opacity="0.61" stroke-linecap="round"/>
<polygon points="426.8,397.4 426.6,398.8 425.6,399.8 424.6,400.7 423.3,400.8 422.0,400.4 421.1,399.6 420.1,398.7 420.0,397.4 420.0,396.1 420.9,395.1 421.9,394.3 423.3,394.1 424.5,394.4 425.7,395.0 426.0,396.3" fill="rgb(46,46,46)" stroke="rgb(61,61,61)" stroke-width="0.8" stroke-linejoin="round"/>
<path d="M422.3,392.7 A4.8,4.8 0 0 1 427.8,395.9" fill="none" stroke="rgb(194,194,194)" stroke-width="1.5" opacity="0.76" stroke-linecap="round"/>
<polygon points="451.1,397.8 450.1,399.0 449.4,400.0 448.5,401.0 447.2,401.6 445.9,401.0 444.8,400.2 444.4,399.0 443.6,397.8 444.3,396.6 444.9,395.4 446.0,394.9 447.2,394.4 448.5,394.6 449.8,395.2 450.0,396.6" fill="rgb(46,46,46)" stroke="rgb(61,61,61)" stroke-width="0.8" stroke-linejoin="round"/>
<polygon points="474.0,397.6 473.7,398.9 472.7,399.8 471.7,400.5 470.5,401.1 469.5,400.1 468.5,399.5 467.4,398.8 466.9,397.6 467.6,396.3 468.3,395.4 469.4,394.8 470.5,394.0 471.6,394.9 472.7,395.4 473.2,396.4" fill="rgb(61,61,61)" stroke="rgb(76,76,76)" stroke-width="0.8" stroke-linejoin="round"/>
<path d="M468.6,393.4 A4.6,4.6 0 0 1 475.1,397.8" fill="none" stroke="rgb(173,173,173)" stroke-width="1.5" opacity="0.62" stroke-linecap="round"/>
<polygon points="30.3,419.6 30.0,421.0 28.9,421.9 27.9,422.6 26.6,422.8 25.3,422.7 24.4,421.9 24.0,420.7 23.4,419.6 23.7,418.4 24.4,417.4 25.7,417.3 26.6,416.1 27.9,416.6 28.8,417.4 29.6,418.4" fill="rgb(62,62,62)" stroke="rgb(77,77,77)" stroke-width="0.8" stroke-linejoin="round"/>
<path d="M22.0,420.4 A4.7,4.7 0 0 1 28.5,415.3" fill="none" stroke="rgb(174,174,174)" stroke-width="1.5" opacity="0.78" stroke-linecap="round"/>
<polygon points="53.7,419.7 52.8,420.9 52.2,422.0 51.2,422.8 49.9,422.9 48.9,422.2 47.7,422.0 46.7,421.1 47.1,419.7 47.2,418.6 47.8,417.6 48.6,416.6 49.9,416.3 51.2,416.6 52.4,417.3 53.4,418.3" fill="rgb(56,56,56)" stroke="rgb(71,71,71)" stroke-width="0.8" stroke-linejoin="round"/>
<path d="M45.4,421.2 A4.7,4.7 0 0 1 53.6,416.7" fill="none" stroke="rgb(193,193,193)" stroke-width="1.5" opacity="0.76" stroke-linecap="round"/>
<polygon points="76.8,418.6 76.2,419.9 75.2,420.6 74.5,421.8 73.2,422.6 71.8,422.1 70.9,420.9 70.2,419.9 69.8,418.6 69.9,417.2 70.7,416.1 72.0,415.7 73.2,414.9 74.5,415.5 75.4,416.4 75.7,417.6" fill="rgb(65,65,65)" stroke="rgb(80,80,80)" stroke-width="0.8" stroke-linejoin="round"/>
<path d="M71.9,414.0 A4.8,4.8 0 0 1 74.6,423.3" fill="none" stroke="rgb(168,168,168)" stroke-width="1.5" opacity="0.54" stroke-linecap="round"/>
<polygon points="100.4,419.6 99.8,420.7 99.1,421.7 98.2,422.5 97.0,423.0 95.7,422.7 95.1,421.5 94.1,420.8 93.8,419.6 94.4,418.5 95.3,417.8 95.8,416.6 97.0,416.5 98.1,416.9 99.2,417.4 99.7,418.5" fill="rgb(67,67,67)" stroke="rgb(82,82,82)" stroke-width="0.8" stroke-linejoin="round"/>
<path d="M93.4,416.8 A4.6,4.6 0 0 1 101.4,418.3" fill="none" stroke="rgb(190,190,190)" stroke-width="1.5" opacity="0.63" stroke-linecap="round"/>
<polygon points="123.5,419.5 123.4,420.8 122.7,421.9 121.5,422.4 120.3,423.5 119.0,422.4 118.0,421.7 117.4,420.7 116.9,419.5 117.4,418.3 118.1,417.3 119.0,416.5 120.3,416.2 121.6,416.2 122.7,417.0 122.9,418.4" fill="rgb(44,44,44)" stroke="rgb(59,59,59)" stroke-width="0.8" stroke-linejoin="round"/>
<polygon points="147.4,419.7 146.2,420.9 145.9,422.3 144.6,422.8 143.4,423.7 142.0,423.0 140.7,422.3 139.6,421.2 139.1,419.7 139.7,418.2 141.0,417.3 142.0,416.3 143.4,415.5 144.6,416.7 146.2,416.9 146.5,418.4" fill="rgb(65,65,65)" stroke="rgb(80,80,80)" stroke-width="0.8" stroke-linejoin="round"/>
<path d="M146.4,415.6 A5.1,5.1 0 0 1 147.3,423.0" fill="none" stroke="rgb(170,170,170)" stroke-width="1.5" opacity="0.61" stroke-linecap="round"/>
<polygon points="171.0,419.7 171.0,421.1 170.1,422.1 168.9,422.6 167.7,422.8 166.6,422.5 165.5,422.0 165.2,420.8 164.6,419.7 164.3,418.3 165.5,417.5 166.6,417.0 167.7,416.6 169.1,416.5 170.0,417.5 170.3,418.7" fill="rgb(48,48,48)" stroke="rgb(63,63,63)" stroke-width="0.8" stroke-linejoin="round"/>
<polygon points="194.0,420.1 194.1,421.5 193.1,422.5 192.0,423.4 190.6,423.5 189.3,423.2 188.2,422.5 187.2,421.5 187.2,420.1 187.3,418.7 187.9,417.3 189.2,416.7 190.6,416.6 192.0,416.6 192.8,417.8 194.0,418.6" fill="rgb(48,48,48)" stroke="rgb(63,63,63)" stroke-width="0.8" stroke-linejoin="round"/>
<path d="M187.4,416.1 A5.1,5.1 0 0 1 194.3,423.5" fill="none" stroke="rgb(185,185,185)" stroke-width="1.5" opacity="0.66" stroke-linecap="round"/>
<polygon points="216.2,419.3 215.9,420.5 215.2,421.5 214.2,422.3 213.0,422.3 211.8,422.1 210.9,421.3 210.2,420.4 209.5,419.3 210.4,418.2 210.6,416.9 211.7,416.1 213.0,416.2 214.1,416.4 215.3,417.0 215.7,418.1" fill="rgb(69,69,69)" stroke="rgb(84,84,84)" stroke-width="0.8" stroke-linejoin="round"/>
<path d="M208.5,420.2 A4.6,4.6 0 0 1 209.8,415.9" fill="none" stroke="rgb(192,192,192)" stroke-width="1.5" opacity="0.60" stroke-linecap="round"/>
<polygon points="239.9,419.8 239.7,421.1 238.8,422.1 237.8,422.9 236.5,424.0 235.1,423.1 234.4,421.9 233.6,421.0 232.4,419.8 233.4,418.5 234.1,417.4 235.2,416.8 236.5,416.3 237.8,416.6 239.0,417.3 239.6,418.5" fill="rgb(66,66,66)" stroke="rgb(81,81,81)" stroke-width="0.8" stroke-linejoin="round"/>
<path d="M232.3,417.4 A4.8,4.8 0 0 1 240.6,417.3" fill="none" stroke="rgb(191,191,191)" stroke-width="1.5" opacity="0.64" stroke-linecap="round"/>
<polygon points="264.6,420.2 264.1,421.5 263.2,422.6 262.0,423.2 260.8,424.3 259.5,423.4 258.6,422.4 257.5,421.6 257.0,420.2 257.2,418.7 258.3,417.7 259.5,416.9 260.8,416.5 262.1,417.0 263.4,417.6 263.9,418.9" fill="rgb(63,63,63)" stroke="rgb(78,78,78)" stroke-width="0.8" stroke-linejoin="round"/>
<path d="M258.4,424.6 A5.0,5.0 0 0 1 258.2,415.9" fill="none" stroke="rgb(177,177,177)" stroke-width="1.5" opacity="0.72" stroke-linecap="round"/>
<circle cx="284.1" cy="419.3" r="6.7" fill="#262626" opacity="0.85"/>
<circle cx="284.8" cy="418.6" r="5.6" fill="url(#pb)"/>
<polygon points="309.8,419.9 309.5,421.2 308.7,422.1 307.6,422.5 306.5,422.6 305.5,422.6 304.7,421.8 303.9,421.1 303.5,419.9 303.9,418.8 304.4,417.8 305.4,417.2 306.5,416.6 307.9,416.8 308.6,417.9 309.2,418.8" fill="rgb(61,61,61)" stroke="rgb(76,76,76)" stroke-width="0.8" stroke-linejoin="round"/>
<polygon points="333.6,419.8 333.2,421.2 332.0,422.0 331.1,422.8 329.8,423.1 328.5,423.0 327.5,422.1 326.9,421.0 326.1,419.8 326.0,418.3 327.7,417.7 328.5,416.6 329.8,416.0 331.2,416.4 332.0,417.7 333.1,418.5" fill="rgb(58,58,58)" stroke="rgb(73,73,73)" stroke-width="0.8" stroke-linejoin="round"/>
<polygon points="357.8,420.4 356.8,421.7 356.0,422.9 354.8,423.4 353.5,424.3 352.2,423.7 351.3,422.7 350.7,421.6 350.1,420.4 350.2,419.0 350.9,417.8 352.2,417.1 353.5,417.0 354.9,417.2 355.9,418.0 356.6,419.1" fill="rgb(48,48,48)" stroke="rgb(63,63,63)" stroke-width="0.8" stroke-linejoin="round"/>
<path d="M353.4,415.4 A5.0,5.0 0 0 1 357.1,423.9" fill="none" stroke="rgb(176,176,176)" stroke-width="1.5" opacity="0.54" stroke-linecap="round"/>
<polygon points="380.1,420.0 379.6,421.1 379.3,422.5 378.1,423.2 376.8,422.9 375.6,422.9 374.6,422.2 373.8,421.2 373.6,420.0 373.8,418.8 374.5,417.7 375.5,416.8 376.8,416.9 378.0,417.2 378.8,418.0 379.5,418.9" fill="rgb(61,61,61)" stroke="rgb(76,76,76)" stroke-width="0.8" stroke-linejoin="round"/>
<polygon points="402.8,420.5 402.6,421.6 401.9,422.5 400.9,423.1 399.9,424.1 398.7,423.3 397.6,422.8 396.1,422.0 396.4,420.5 396.9,419.3 397.6,418.2 398.6,417.5 399.9,417.2 401.1,417.6 402.3,418.1 402.9,419.2" fill="rgb(44,44,44)" stroke="rgb(59,59,59)" stroke-width="0.8" stroke-linejoin="round"/>
<path d="M395.7,422.7 A4.8,4.8 0 0 1 397.3,416.5" fill="none" stroke="rgb(196,196,196)" stroke-width="1.5" opacity="0.79" stroke-linecap="round"/>
<polygon points="427.8,421.1 426.6,422.3 426.4,423.7 424.9,424.0 423.7,424.7 422.3,424.6 421.4,423.5 420.1,422.6 419.8,421.1 420.7,419.9 421.3,418.7 422.4,418.0 423.7,416.8 425.3,417.5 426.3,418.6 426.9,419.8" fill="rgb(51,51,51)" stroke="rgb(66,66,66)" stroke-width="0.8" stroke-linejoin="round"/>
<path d="M424.3,416.1 A5.0,5.0 0 1 1 421.1,425.4" fill="none" stroke="rgb(194,194,194)" stroke-width="1.5" opacity="0.67" stroke-linecap="round"/>
<polygon points="450.6,420.8 450.0,421.9 449.3,422.8 448.4,423.5 447.2,424.5 445.9,424.0 445.2,422.7 444.0,422.1 443.6,420.8 444.4,419.6 445.4,419.0 446.0,417.7 447.2,417.5 448.5,417.7 449.4,418.6 450.4,419.5" fill="rgb(56,56,56)" stroke="rgb(71,71,71)" stroke-width="0.8" stroke-linejoin="round"/>
<path d="M446.8,416.1 A4.7,4.7 0 0 1 450.7,423.9" fill="none" stroke="rgb(173,173,173)" stroke-width="1.5" opacity="0.51" stroke-linecap="round"/>
<polygon points="474.6,420.4 474.2,421.9 473.2,423.1 472.2,424.3 470.6,424.3 469.2,423.6 468.0,422.9 467.4,421.7 466.3,420.4 467.3,419.0 468.0,417.8 469.1,416.8 470.6,416.0 472.0,416.9 473.3,417.6 474.2,418.9" fill="rgb(64,64,64)" stroke="rgb(79,79,79)" stroke-width="0.8" stroke-linejoin="round"/>
<polygon points="30.7,442.4 30.0,443.7 29.4,444.9 28.3,445.7 26.9,445.9 25.7,445.3 24.6,444.8 24.1,443.6 23.2,442.4 23.8,441.1 24.5,440.0 25.6,439.3 26.9,438.4 28.1,439.5 29.3,440.1 29.8,441.2" fill="rgb(61,61,61)" stroke="rgb(76,76,76)" stroke-width="0.8" stroke-linejoin="round"/>
<path d="M23.9,438.7 A4.8,4.8 0 0 1 31.1,444.8" fill="none" stroke="rgb(195,195,195)" stroke-width="1.5" opacity="0.47" stroke-linecap="round"/>
<polygon points="53.7,442.5 53.5,443.8 52.5,444.7 51.4,445.2 50.3,446.1 49.1,445.3 48.1,444.7 47.8,443.5 47.0,442.5 47.3,441.3 48.3,440.5 49.1,439.7 50.3,439.0 51.5,439.6 52.7,440.1 53.1,441.4" fill="rgb(45,45,45)" stroke="rgb(60,60,60)" stroke-width="0.8" stroke-linejoin="round"/>
<path d="M46.6,439.8 A4.6,4.6 0 0 1 54.7,443.9" fill="none" stroke="rgb(177,177,177)" stroke-width="1.5" opacity="0.73" stroke-linecap="round"/>
<polygon points="76.8,443.0 76.8,444.4 75.4,445.1 74.6,446.0 73.4,446.6 72.1,446.2 71.0,445.4 70.3,444.3 70.0,443.0 70.5,441.8 71.1,440.7 72.2,440.2 73.4,439.4 74.8,439.7 75.6,440.8 76.1,441.9" fill="rgb(54,54,54)" stroke="rgb(69,69,69)" stroke-width="0.8" stroke-linejoin="round"/>
<polygon points="100.8,442.6 100.3,443.9 99.7,445.1 98.5,445.7 97.2,446.3 95.9,445.6 94.7,445.1 94.4,443.8 93.6,442.6 93.8,441.2 94.6,440.0 95.9,439.5 97.2,438.5 98.3,439.8 99.6,440.1 100.4,441.3" fill="rgb(61,61,61)" stroke="rgb(76,76,76)" stroke-width="0.8" stroke-linejoin="round"/>
<path d="M93.8,446.1 A4.9,4.9 0 0 1 92.5,441.1" fill="none" stroke="rgb(170,170,170)" stroke-width="1.5" opacity="0.48" stroke-linecap="round"/>
<polygon points="123.8,443.0 123.5,444.4 122.5,445.2 121.7,446.3 120.3,446.7 118.8,446.5 118.0,445.3 117.2,444.3 116.7,443.0 117.2,441.8 117.7,440.4 119.1,440.1 120.3,439.6 121.5,440.0 122.7,440.7 123.2,441.8" fill="rgb(65,65,65)" stroke="rgb(80,80,80)" stroke-width="0.8" stroke-linejoin="round"/>
<polygon points="147.2,442.8 147.1,444.1 146.3,445.2 145.1,445.7 143.9,446.3 142.8,445.3 141.8,444.9 140.8,444.1 140.3,442.8 140.9,441.6 141.6,440.5 142.6,439.8 143.9,439.3 145.2,439.5 145.8,440.9 146.6,441.7" fill="rgb(48,48,48)" stroke="rgb(63,63,63)" stroke-width="0.8" stroke-linejoin="round"/>
<path d="M139.2,442.3 A4.7,4.7 0 0 1 148.6,443.3" fill="none" stroke="rgb(187,187,187)" stroke-width="1.5" opacity="0.69" stroke-linecap="round"/>
<polygon points="170.5,443.1 170.1,444.5 169.6,445.8 168.4,446.6 166.9,447.3 165.5,446.6 164.3,445.8 163.7,444.5 162.8,443.1 163.5,441.7 164.1,440.3 165.5,439.6 166.9,439.2 168.3,439.9 169.4,440.6 170.0,441.9" fill="rgb(50,50,50)" stroke="rgb(65,65,65)" stroke-width="0.8" stroke-linejoin="round"/>
<path d="M163.1,439.8 A5.1,5.1 0 1 1 169.0,447.8" fill="none" stroke="rgb(190,190,190)" stroke-width="1.5" opacity="0.61" stroke-linecap="round"/>
<polygon points="194.7,442.8 194.1,444.2 193.1,445.0 192.1,445.6 191.0,446.9 189.7,445.9 188.6,445.2 187.8,444.2 187.1,442.8 188.0,441.6 188.8,440.6 189.8,440.2 191.0,439.2 192.2,439.9 193.2,440.6 194.4,441.4" fill="rgb(52,52,52)" stroke="rgb(67,67,67)" stroke-width="0.8" stroke-linejoin="round"/>
<path d="M187.7,439.4 A4.8,4.8 0 0 1 194.3,439.4" fill="none" stroke="rgb(197,197,197)" stroke-width="1.5" opacity="0.59" stroke-linecap="round"/>
<polygon points="216.6,443.3 216.2,444.4 215.4,445.2 214.8,446.6 213.4,447.1 212.2,446.2 211.1,445.5 210.4,444.5 209.8,443.3 210.4,442.0 211.2,441.1 212.2,440.3 213.4,440.1 214.5,440.5 215.5,441.2 216.4,442.0" fill="rgb(47,47,47)" stroke="rgb(62,62,62)" stroke-width="0.8" stroke-linejoin="round"/>
<path d="M217.0,440.2 A4.7,4.7 0 0 1 214.6,447.8" fill="none" stroke="rgb(187,187,187)" stroke-width="1.5" opacity="0.51" stroke-linecap="round"/>
<polygon points="241.1,443.9 240.3,445.1 239.7,446.1 238.6,446.8 237.4,447.7 236.1,447.0 235.1,446.2 234.5,445.1 234.3,443.9 234.8,442.8 235.2,441.7 236.1,440.8 237.4,441.1 238.6,441.1 239.7,441.5 240.5,442.6" fill="rgb(48,48,48)" stroke="rgb(63,63,63)" stroke-width="0.8" stroke-linejoin="round"/>
<path d="M236.3,439.4 A4.6,4.6 0 0 1 240.5,447.3" fill="none" stroke="rgb(174,174,174)" stroke-width="1.5" opacity="0.73" stroke-linecap="round"/>
<polygon points="264.9,443.1 264.5,444.7 263.3,445.7 262.4,446.9 260.8,446.8 259.4,446.4 258.1,445.8 257.2,444.6 257.0,443.1 257.9,441.9 258.5,440.9 259.4,439.7 260.8,439.5 262.2,439.9 263.2,440.7 264.3,441.7" fill="rgb(52,52,52)" stroke="rgb(67,67,67)" stroke-width="0.8" stroke-linejoin="round"/>
<polygon points="287.2,443.4 286.7,444.6 286.0,445.4 285.1,446.3 283.9,446.9 282.6,446.7 281.8,445.5 280.8,444.7 280.7,443.4 281.0,442.2 281.9,441.4 282.7,440.5 283.9,439.9 285.2,440.5 286.0,441.4 286.5,442.4" fill="rgb(61,61,61)" stroke="rgb(76,76,76)" stroke-width="0.8" stroke-linejoin="round"/>
<path d="M279.8,441.4 A4.6,4.6 0 0 1 285.6,439.1" fill="none" stroke="rgb(180,180,180)" stroke-width="1.5" opacity="0.72" stroke-linecap="round"/>
<polygon points="310.7,443.7 310.1,445.0 309.1,445.8 308.3,446.9 307.0,447.5 305.5,447.1 304.8,445.9 303.9,445.0 303.5,443.7 303.8,442.3 304.7,441.4 305.6,440.4 307.0,440.0 308.3,440.4 309.2,441.4 310.2,442.3" fill="rgb(47,47,47)" stroke="rgb(62,62,62)" stroke-width="0.8" stroke-linejoin="round"/>
<polygon points="333.8,443.6 333.3,444.9 332.3,445.6 331.5,446.5 330.3,446.9 329.1,446.7 328.0,445.9 326.9,445.0 326.6,443.6 326.9,442.2 328.3,441.6 329.0,440.4 330.3,440.0 331.5,440.9 332.4,441.6 333.6,442.3" fill="rgb(62,62,62)" stroke="rgb(77,77,77)" stroke-width="0.8" stroke-linejoin="round"/>
<path d="M331.7,439.0 A4.8,4.8 0 0 1 331.6,448.3" fill="none" stroke="rgb(181,181,181)" stroke-width="1.5" opacity="0.66" stroke-linecap="round"/>
<polygon points="357.5,443.8 356.8,445.1 356.1,446.3 354.9,446.7 353.7,447.7 352.5,446.7 351.6,445.9 350.3,445.2 349.8,443.8 350.3,442.4 351.3,441.5 352.3,440.6 353.7,440.0 355.0,440.6 355.9,441.6 357.1,442.4" fill="rgb(65,65,65)" stroke="rgb(80,80,80)" stroke-width="0.8" stroke-linejoin="round"/>
<path d="M356.8,440.1 A4.9,4.9 0 0 1 351.0,447.9" fill="none" stroke="rgb(180,180,180)" stroke-width="1.5" opacity="0.65" stroke-linecap="round"/>
<polygon points="381.2,444.3 380.0,445.4 379.8,446.8 378.7,447.6 377.4,447.6 376.1,447.4 374.9,446.7 374.5,445.5 373.8,444.3 374.3,443.0 375.0,441.9 376.0,441.0 377.4,440.6 378.7,441.2 379.8,441.9 380.6,443.0" fill="rgb(45,45,45)" stroke="rgb(60,60,60)" stroke-width="0.8" stroke-linejoin="round"/>
<path d="M379.2,439.8 A4.9,4.9 0 0 1 382.2,444.9" fill="none" stroke="rgb(174,174,174)" stroke-width="1.5" opacity="0.56" stroke-linecap="round"/>
<polygon points="404.1,444.0 403.9,445.4 402.9,446.4 401.5,446.6 400.4,447.6 399.0,447.3 398.2,446.2 397.3,445.3 396.9,444.0 397.2,442.6 398.4,441.9 399.3,441.3 400.4,440.5 401.7,440.8 402.9,441.5 403.4,442.7" fill="rgb(56,56,56)" stroke="rgb(71,71,71)" stroke-width="0.8" stroke-linejoin="round"/>
<path d="M400.5,439.1 A4.9,4.9 0 0 1 401.2,448.8" fill="none" stroke="rgb(199,199,199)" stroke-width="1.5" opacity="0.45" stroke-linecap="round"/>
<polygon points="426.9,443.7 426.4,445.0 425.6,446.0 424.7,447.1 423.3,447.6 421.9,447.0 420.8,446.2 420.4,444.9 419.9,443.7 420.2,442.5 420.8,441.2 422.0,440.7 423.3,440.0 424.6,440.4 426.0,440.9 426.7,442.3" fill="rgb(56,56,56)" stroke="rgb(71,71,71)" stroke-width="0.8" stroke-linejoin="round"/>
<path d="M424.1,438.7 A5.1,5.1 0 0 1 428.1,442.3" fill="none" stroke="rgb(183,183,183)" stroke-width="1.5" opacity="0.57" stroke-linecap="round"/>
<circle cx="447.6" cy="442.8" r="6.7" fill="#262626" opacity="0.85"/>
<circle cx="448.3" cy="442.1" r="5.6" fill="url(#pb)"/>
<polygon points="474.6,444.5 474.0,445.9 473.1,446.9 472.1,448.0 470.7,448.7 469.3,447.9 468.4,446.8 467.0,446.0 467.1,444.5 467.4,443.1 468.0,441.8 469.3,441.2 470.7,440.1 472.2,440.7 473.4,441.7 474.2,443.0" fill="rgb(68,68,68)" stroke="rgb(83,83,83)" stroke-width="0.8" stroke-linejoin="round"/>
<path d="M465.7,443.1 A5.2,5.2 0 0 1 472.8,439.8" fill="none" stroke="rgb(197,197,197)" stroke-width="1.5" opacity="0.65" stroke-linecap="round"/>
<polygon points="31.4,465.5 30.4,466.9 29.4,467.9 28.4,468.9 27.0,469.5 25.6,468.8 24.6,467.8 24.1,466.7 23.1,465.5 23.3,464.0 24.9,463.4 25.7,462.5 27.0,461.5 28.3,462.2 29.4,463.0 29.7,464.4" fill="rgb(48,48,48)" stroke="rgb(63,63,63)" stroke-width="0.8" stroke-linejoin="round"/>
<polygon points="53.8,465.9 53.4,467.1 52.5,468.0 51.8,469.3 50.4,469.4 49.1,469.0 48.5,467.8 47.1,467.3 46.7,465.9 47.7,464.7 48.4,463.8 49.0,462.5 50.4,462.5 51.9,462.3 52.7,463.7 53.0,464.8" fill="rgb(46,46,46)" stroke="rgb(61,61,61)" stroke-width="0.8" stroke-linejoin="round"/>
<polygon points="77.2,466.0 76.6,467.2 76.3,468.5 75.0,469.0 73.8,470.0 72.5,469.2 71.5,468.3 70.7,467.3 70.7,466.0 70.3,464.5 71.5,463.8 72.5,462.9 73.8,462.0 75.2,462.7 76.3,463.5 77.0,464.7" fill="rgb(55,55,55)" stroke="rgb(70,70,70)" stroke-width="0.8" stroke-linejoin="round"/>
<polygon points="100.8,466.0 100.7,467.5 99.2,468.1 98.4,469.3 97.1,470.0 95.6,469.4 94.6,468.4 93.4,467.5 92.5,466.0 93.8,464.6 94.9,463.8 95.8,462.9 97.1,462.2 98.4,462.6 99.5,463.5 100.6,464.5" fill="rgb(67,67,67)" stroke="rgb(82,82,82)" stroke-width="0.8" stroke-linejoin="round"/>
<path d="M93.1,462.7 A5.2,5.2 0 1 1 100.4,469.9" fill="none" stroke="rgb(166,166,166)" stroke-width="1.5" opacity="0.47" stroke-linecap="round"/>
<polygon points="124.5,465.9 124.2,467.1 123.8,468.5 122.6,469.1 121.3,468.9 120.1,468.9 119.0,468.2 118.3,467.2 118.2,465.9 117.9,464.5 118.9,463.5 120.2,463.3 121.3,463.0 122.4,463.2 123.6,463.7 124.3,464.7" fill="rgb(63,63,63)" stroke="rgb(78,78,78)" stroke-width="0.8" stroke-linejoin="round"/>
<polygon points="147.1,466.0 146.9,467.5 146.0,468.5 145.0,469.6 143.5,469.5 142.1,469.4 141.3,468.2 140.0,467.5 140.0,466.0 140.3,464.7 141.2,463.7 142.0,462.4 143.5,462.4 144.7,463.0 146.0,463.5 147.0,464.6" fill="rgb(46,46,46)" stroke="rgb(61,61,61)" stroke-width="0.8" stroke-linejoin="round"/>
<path d="M138.5,465.1 A5.1,5.1 0 0 1 148.6,465.9" fill="none" stroke="rgb(169,169,169)" stroke-width="1.5" opacity="0.61" stroke-linecap="round"/>
<polygon points="170.5,466.3 169.9,467.5 169.5,468.8 168.2,469.2 167.0,470.0 165.8,469.0 164.5,468.7 163.5,467.7 163.5,466.3 164.1,465.1 164.8,464.1 165.6,462.9 167.0,463.0 168.0,463.7 169.0,464.2 170.4,464.8" fill="rgb(56,56,56)" stroke="rgb(71,71,71)" stroke-width="0.8" stroke-linejoin="round"/>
<path d="M165.1,461.8 A4.9,4.9 0 1 1 168.2,470.9" fill="none" stroke="rgb(187,187,187)" stroke-width="1.5" opacity="0.60" stroke-linecap="round"/>
<polygon points="194.0,466.0 193.6,467.3 193.0,468.5 191.8,469.0 190.5,470.0 189.1,469.5 188.5,468.0 187.7,467.1 186.6,466.0 187.5,464.7 188.1,463.6 189.1,462.7 190.5,462.3 191.9,462.6 193.1,463.4 193.8,464.6" fill="rgb(52,52,52)" stroke="rgb(67,67,67)" stroke-width="0.8" stroke-linejoin="round"/>
<path d="M186.4,463.2 A4.9,4.9 0 0 1 195.4,466.3" fill="none" stroke="rgb(186,186,186)" stroke-width="1.5" opacity="0.57" stroke-linecap="round"/>
<polygon points="217.3,466.4 216.8,467.7 216.0,468.8 214.8,469.5 213.5,470.0 212.2,469.6 211.4,468.5 210.2,467.7 209.7,466.4 210.4,465.0 211.6,464.4 212.0,462.7 213.5,462.2 214.9,463.0 215.9,464.0 216.8,465.0" fill="rgb(51,51,51)" stroke="rgb(66,66,66)" stroke-width="0.8" stroke-linejoin="round"/>
<path d="M208.7,465.6 A4.9,4.9 0 0 1 212.2,461.7" fill="none" stroke="rgb(166,166,166)" stroke-width="1.5" opacity="0.76" stroke-linecap="round"/>
<polygon points="240.6,466.1 240.1,467.3 239.1,467.9 238.4,468.9 237.3,469.3 236.1,468.9 234.9,468.5 234.5,467.3 234.3,466.1 234.5,465.0 235.2,464.0 236.2,463.4 237.3,462.9 238.6,462.9 239.4,464.0 240.1,464.9" fill="rgb(55,55,55)" stroke="rgb(70,70,70)" stroke-width="0.8" stroke-linejoin="round"/>
<path d="M236.4,461.7 A4.5,4.5 0 0 1 240.9,468.8" fill="none" stroke="rgb(166,166,166)" stroke-width="1.5" opacity="0.66" stroke-linecap="round"/>
<polygon points="264.5,466.6 263.4,467.7 263.1,469.0 262.0,469.8 260.7,470.1 259.4,469.6 258.4,468.8 257.7,467.8 256.8,466.6 257.8,465.4 258.6,464.5 259.5,463.6 260.7,462.5 261.9,463.6 262.8,464.5 263.5,465.4" fill="rgb(55,55,55)" stroke="rgb(70,70,70)" stroke-width="0.8" stroke-linejoin="round"/>
<path d="M262.0,462.0 A4.8,4.8 0 0 1 262.0,471.1" fill="none" stroke="rgb(165,165,165)" stroke-width="1.5" opacity="0.82" stroke-linecap="round"/>
<polygon points="288.6,466.7 287.0,467.9 286.3,468.9 285.5,470.3 284.0,470.6 282.7,469.9 281.6,469.2 280.5,468.2 280.3,466.7 280.9,465.4 281.8,464.4 282.7,463.5 284.0,463.0 285.5,463.2 286.5,464.2 287.5,465.3" fill="rgb(67,67,67)" stroke="rgb(82,82,82)" stroke-width="0.8" stroke-linejoin="round"/>
<path d="M284.8,461.7 A5.1,5.1 0 0 1 287.5,470.4" fill="none" stroke="rgb(171,171,171)" stroke-width="1.5" opacity="0.49" stroke-linecap="round"/>
<polygon points="310.3,466.4 309.6,467.4 309.1,468.4 308.4,469.7 307.0,469.5 305.8,469.3 305.1,468.3 304.1,467.6 303.8,466.4 304.3,465.2 304.8,464.2 305.7,463.1 307.0,463.2 308.3,463.4 309.2,464.2 310.1,465.1" fill="rgb(52,52,52)" stroke="rgb(67,67,67)" stroke-width="0.8" stroke-linejoin="round"/>
<path d="M302.5,465.8 A4.5,4.5 0 0 1 305.3,462.2" fill="none" stroke="rgb(172,172,172)" stroke-width="1.5" opacity="0.55" stroke-linecap="round"/>
<polygon points="333.4,466.8 333.1,468.0 332.4,469.0 331.4,469.7 330.2,469.9 329.1,469.6 328.4,468.7 327.5,467.9 326.7,466.8 327.3,465.6 328.1,464.7 329.1,464.1 330.2,463.6 331.5,463.7 332.0,465.0 332.9,465.7" fill="rgb(69,69,69)" stroke="rgb(84,84,84)" stroke-width="0.8" stroke-linejoin="round"/>
<path d="M326.7,464.0 A4.5,4.5 0 0 1 334.2,464.7" fill="none" stroke="rgb(191,191,191)" stroke-width="1.5" opacity="0.80" stroke-linecap="round"/>
<circle cx="355.2" cy="465.5" r="6.7" fill="#262626" opacity="0.85"/>
<circle cx="355.9" cy="464.8" r="5.6" fill="url(#pb)"/>
<polygon points="381.0,466.9 380.8,468.4 379.9,469.5 378.7,470.2 377.3,471.1 376.0,470.2 374.9,469.3 373.7,468.4 373.2,466.9 374.1,465.6 375.1,464.7 375.9,463.5 377.3,463.1 378.8,463.4 379.7,464.6 380.9,465.4" fill="rgb(69,69,69)" stroke="rgb(84,84,84)" stroke-width="0.8" stroke-linejoin="round"/>
<path d="M373.9,463.0 A5.1,5.1 0 0 1 382.0,464.7" fill="none" stroke="rgb(194,194,194)" stroke-width="1.5" opacity="0.73" stroke-linecap="round"/>
<polygon points="404.0,466.6 403.5,467.9 402.9,469.2 401.6,469.6 400.3,470.2 398.9,470.1 397.9,468.9 396.9,468.0 396.8,466.6 397.1,465.2 398.0,464.2 399.2,463.7 400.3,463.3 401.8,463.1 402.4,464.5 403.7,465.2" fill="rgb(66,66,66)" stroke="rgb(81,81,81)" stroke-width="0.8" stroke-linejoin="round"/>
<path d="M401.8,461.9 A4.9,4.9 0 0 1 402.2,471.1" fill="none" stroke="rgb(198,198,198)" stroke-width="1.5" opacity="0.79" stroke-linecap="round"/>
<polygon points="427.9,467.2 427.3,468.5 426.2,469.4 425.1,469.9 424.0,471.4 422.8,470.2 421.8,469.4 420.7,468.6 420.2,467.2 420.6,465.8 421.6,464.8 422.7,464.1 424.0,463.7 425.3,464.0 426.5,464.7 427.4,465.8" fill="rgb(51,51,51)" stroke="rgb(66,66,66)" stroke-width="0.8" stroke-linejoin="round"/>
<path d="M420.4,463.8 A5.0,5.0 0 0 1 428.3,464.5" fill="none" stroke="rgb(194,194,194)" stroke-width="1.5" opacity="0.75" stroke-linecap="round"/>
<polygon points="450.4,467.8 449.8,469.2 448.9,470.2 447.8,471.1 446.5,471.9 445.1,471.2 443.6,470.6 443.2,469.2 442.7,467.8 443.3,466.5 444.0,465.3 445.1,464.5 446.5,463.8 447.8,464.5 448.9,465.4 449.9,466.4" fill="rgb(44,44,44)" stroke="rgb(59,59,59)" stroke-width="0.8" stroke-linejoin="round"/>
<path d="M444.3,463.2 A5.1,5.1 0 0 1 451.2,466.0" fill="none" stroke="rgb(193,193,193)" stroke-width="1.5" opacity="0.82" stroke-linecap="round"/>
<polygon points="474.1,467.3 473.7,468.5 473.0,469.5 472.2,470.6 470.8,471.0 469.6,470.3 468.4,469.7 467.6,468.6 466.7,467.3 467.5,466.0 468.4,464.9 469.5,464.2 470.8,463.3 472.0,464.3 472.9,465.2 474.2,465.9" fill="rgb(66,66,66)" stroke="rgb(81,81,81)" stroke-width="0.8" stroke-linejoin="round"/>
<path d="M467.3,463.8 A4.9,4.9 0 0 1 474.2,463.8" fill="none" stroke="rgb(189,189,189)" stroke-width="1.5" opacity="0.50" stroke-linecap="round"/>
<polygon points="30.5,488.5 29.9,489.6 29.3,490.5 28.3,490.9 27.2,491.9 25.9,491.6 25.3,490.3 24.6,489.6 23.6,488.5 24.3,487.2 25.2,486.4 26.0,485.4 27.2,485.5 28.4,485.6 29.3,486.3 30.0,487.3" fill="rgb(59,59,59)" stroke="rgb(74,74,74)" stroke-width="0.8" stroke-linejoin="round"/>
<polygon points="53.3,488.9 52.9,490.2 52.2,491.4 51.0,491.9 49.8,492.5 48.3,492.4 47.4,491.3 46.2,490.4 46.0,488.9 46.5,487.6 47.5,486.7 48.5,485.8 49.8,484.9 51.2,485.4 52.5,486.2 53.3,487.5" fill="rgb(65,65,65)" stroke="rgb(80,80,80)" stroke-width="0.8" stroke-linejoin="round"/>
<path d="M44.7,488.4 A5.1,5.1 0 0 1 51.2,484.1" fill="none" stroke="rgb(188,188,188)" stroke-width="1.5" opacity="0.62" stroke-linecap="round"/>
<polygon points="76.6,489.1 76.4,490.5 75.0,491.0 74.3,492.0 73.1,492.9 72.1,491.7 71.1,491.2 70.3,490.3 69.8,489.1 70.7,488.1 71.0,487.0 71.9,486.2 73.1,485.2 74.3,486.4 75.1,487.1 76.0,487.9" fill="rgb(48,48,48)" stroke="rgb(63,63,63)" stroke-width="0.8" stroke-linejoin="round"/>
<polygon points="101.1,489.7 100.1,490.9 99.9,492.3 98.5,492.8 97.2,493.4 95.7,493.2 94.8,492.1 94.0,491.0 92.9,489.7 93.9,488.3 94.6,487.1 95.9,486.5 97.2,486.2 98.5,486.4 99.8,487.0 100.4,488.3" fill="rgb(47,47,47)" stroke="rgb(62,62,62)" stroke-width="0.8" stroke-linejoin="round"/>
<path d="M96.4,484.7 A5.0,5.0 0 1 1 97.1,494.7" fill="none" stroke="rgb(191,191,191)" stroke-width="1.5" opacity="0.62" stroke-linecap="round"/>
<polygon points="124.6,489.0 123.2,490.1 123.0,491.5 121.9,492.3 120.5,492.4 118.9,492.8 118.0,491.5 117.4,490.3 116.7,489.0 117.1,487.6 118.1,486.6 119.3,486.1 120.5,485.2 122.0,485.6 123.1,486.5 124.0,487.6" fill="rgb(45,45,45)" stroke="rgb(60,60,60)" stroke-width="0.8" stroke-linejoin="round"/>
<path d="M115.5,488.0 A5.1,5.1 0 0 1 122.7,484.4" fill="none" stroke="rgb(175,175,175)" stroke-width="1.5" opacity="0.77" stroke-linecap="round"/>
<polygon points="147.3,489.5 146.6,490.8 146.0,492.0 144.8,492.7 143.5,493.1 142.2,492.7 140.9,492.1 139.9,491.0 139.3,489.5 139.9,488.0 141.1,487.1 142.2,486.2 143.5,485.8 144.8,486.4 146.3,486.8 147.0,488.1" fill="rgb(67,67,67)" stroke="rgb(82,82,82)" stroke-width="0.8" stroke-linejoin="round"/>
<path d="M148.6,489.7 A5.1,5.1 0 0 1 140.4,493.6" fill="none" stroke="rgb(198,198,198)" stroke-width="1.5" opacity="0.58" stroke-linecap="round"/>
<polygon points="171.0,489.8 169.6,490.9 169.4,492.2 168.3,493.2 166.9,493.4 165.6,493.0 164.2,492.5 163.7,491.1 163.4,489.8 163.6,488.4 164.5,487.3 165.7,486.8 166.9,486.1 168.2,486.7 169.0,487.7 169.9,488.5" fill="rgb(48,48,48)" stroke="rgb(63,63,63)" stroke-width="0.8" stroke-linejoin="round"/>
<path d="M162.3,491.1 A4.8,4.8 0 1 1 171.8,489.7" fill="none" stroke="rgb(166,166,166)" stroke-width="1.5" opacity="0.75" stroke-linecap="round"/>
<polygon points="193.7,489.6 193.5,490.9 192.3,491.5 191.8,492.9 190.4,493.1 189.2,492.4 188.4,491.6 187.6,490.7 186.3,489.6 187.4,488.3 188.2,487.3 189.1,486.5 190.4,486.2 191.8,486.2 192.3,487.7 193.7,488.2" fill="rgb(48,48,48)" stroke="rgb(63,63,63)" stroke-width="0.8" stroke-linejoin="round"/>
<polygon points="217.6,489.7 217.1,491.0 216.2,492.0 215.3,493.1 213.9,493.5 212.4,493.2 211.4,492.2 211.2,490.8 210.2,489.7 210.4,488.2 211.7,487.5 212.8,486.9 213.9,486.6 215.4,486.0 216.1,487.5 217.1,488.4" fill="rgb(53,53,53)" stroke="rgb(68,68,68)" stroke-width="0.8" stroke-linejoin="round"/>
<path d="M211.8,485.2 A5.0,5.0 0 0 1 218.1,492.3" fill="none" stroke="rgb(181,181,181)" stroke-width="1.5" opacity="0.70" stroke-linecap="round"/>
<polygon points="240.7,489.0 240.1,490.3 239.0,491.0 238.3,492.1 237.0,492.5 235.6,492.2 234.9,491.1 234.0,490.2 233.0,489.0 233.4,487.5 234.5,486.5 235.7,485.9 237.0,485.6 238.3,485.8 239.3,486.7 240.0,487.7" fill="rgb(44,44,44)" stroke="rgb(59,59,59)" stroke-width="0.8" stroke-linejoin="round"/>
<polygon points="264.5,490.2 263.7,491.6 262.9,492.8 261.7,493.7 260.3,493.9 259.1,493.2 257.8,492.6 256.6,491.7 256.5,490.2 257.2,488.9 257.4,487.3 259.1,487.2 260.3,486.3 261.6,487.0 262.6,487.8 263.5,488.8" fill="rgb(49,49,49)" stroke="rgb(64,64,64)" stroke-width="0.8" stroke-linejoin="round"/>
<path d="M257.2,486.0 A5.1,5.1 0 0 1 265.4,490.1" fill="none" stroke="rgb(181,181,181)" stroke-width="1.5" opacity="0.47" stroke-linecap="round"/>
<polygon points="287.9,489.9 286.9,491.1 286.1,492.0 285.2,492.7 284.0,493.9 282.8,492.8 281.7,492.2 280.7,491.3 279.8,489.9 281.0,488.7 281.7,487.6 282.7,486.8 284.0,486.5 285.2,487.0 286.7,487.2 287.1,488.7" fill="rgb(51,51,51)" stroke="rgb(66,66,66)" stroke-width="0.8" stroke-linejoin="round"/>
<path d="M283.4,485.1 A4.8,4.8 0 0 1 288.5,488.0" fill="none" stroke="rgb(189,189,189)" stroke-width="1.5" opacity="0.51" stroke-linecap="round"/>
<polygon points="310.5,490.5 310.3,491.9 309.3,492.9 308.1,493.4 306.9,494.0 305.5,493.8 304.8,492.5 303.5,491.9 302.9,490.5 303.5,489.1 304.4,488.0 305.7,487.7 306.9,486.6 308.4,486.9 309.4,487.9 310.3,489.0" fill="rgb(67,67,67)" stroke="rgb(82,82,82)" stroke-width="0.8" stroke-linejoin="round"/>
<path d="M311.2,487.7 A5.1,5.1 0 0 1 309.5,494.9" fill="none" stroke="rgb(197,197,197)" stroke-width="1.5" opacity="0.85" stroke-linecap="round"/>
<circle cx="331.0" cy="488.3" r="6.7" fill="#262626" opacity="0.85"/>
<circle cx="331.7" cy="487.6" r="5.6" fill="url(#pb)"/>
<polygon points="357.7,489.7 357.1,490.9 356.5,491.9 355.9,493.4 354.3,493.5 352.9,493.0 352.3,491.7 351.6,490.8 351.0,489.7 351.0,488.3 351.8,487.1 353.1,486.9 354.3,486.5 355.7,486.4 356.7,487.3 357.7,488.3" fill="rgb(69,69,69)" stroke="rgb(84,84,84)" stroke-width="0.8" stroke-linejoin="round"/>
<path d="M349.5,490.7 A5.0,5.0 0 0 1 352.9,484.9" fill="none" stroke="rgb(167,167,167)" stroke-width="1.5" opacity="0.66" stroke-linecap="round"/>
<circle cx="378.4" cy="488.8" r="6.7" fill="#262626" opacity="0.85"/>
<circle cx="379.1" cy="488.1" r="5.6" fill="url(#pb)"/>
<polygon points="403.4,490.8 403.2,492.1 402.2,492.9 401.4,493.9 400.1,494.5 398.9,493.7 398.2,492.7 397.0,492.1 396.8,490.8 397.5,489.7 397.9,488.6 398.8,487.8 400.1,487.3 401.4,487.7 402.0,488.9 403.2,489.5" fill="rgb(46,46,46)" stroke="rgb(61,61,61)" stroke-width="0.8" stroke-linejoin="round"/>
<path d="M396.3,488.0 A4.7,4.7 0 0 1 404.7,489.8" fill="none" stroke="rgb(174,174,174)" stroke-width="1.5" opacity="0.79" stroke-linecap="round"/>
<polygon points="427.7,490.1 427.9,491.7 426.4,492.5 425.4,493.4 424.0,493.4 422.7,493.3 421.6,492.5 420.8,491.5 420.3,490.1 420.9,488.8 421.7,487.8 422.8,487.0 424.0,486.6 425.4,486.8 426.6,487.6 427.4,488.7" fill="rgb(63,63,63)" stroke="rgb(78,78,78)" stroke-width="0.8" stroke-linejoin="round"/>
<path d="M425.8,485.5 A5.0,5.0 0 0 1 423.0,495.0" fill="none" stroke="rgb(174,174,174)" stroke-width="1.5" opacity="0.81" stroke-linecap="round"/>
<polygon points="451.6,490.8 451.0,492.1 449.9,492.9 449.2,494.1 447.8,494.4 446.6,493.8 445.1,493.5 444.4,492.2 444.2,490.8 444.3,489.3 445.4,488.4 446.4,487.5 447.8,487.6 449.2,487.5 450.4,488.2 451.6,489.2" fill="rgb(55,55,55)" stroke="rgb(70,70,70)" stroke-width="0.8" stroke-linejoin="round"/>
<path d="M448.4,485.8 A5.0,5.0 0 1 1 446.8,495.7" fill="none" stroke="rgb(181,181,181)" stroke-width="1.5" opacity="0.70" stroke-linecap="round"/>
<polygon points="474.1,490.7 473.6,492.1 473.1,493.5 471.6,493.8 470.3,494.0 469.1,493.5 467.7,493.2 467.0,492.0 466.6,490.7 467.4,489.5 467.9,488.4 469.0,487.7 470.3,486.8 471.6,487.5 472.6,488.4 473.5,489.3" fill="rgb(53,53,53)" stroke="rgb(68,68,68)" stroke-width="0.8" stroke-linejoin="round"/>
<polygon points="31.5,510.8 31.0,512.2 30.1,513.2 29.1,514.1 27.7,515.3 26.3,514.1 25.2,513.4 24.6,512.1 23.9,510.8 24.7,509.6 25.3,508.4 26.4,507.6 27.7,506.9 29.1,507.4 30.2,508.3 31.2,509.4" fill="rgb(53,53,53)" stroke="rgb(68,68,68)" stroke-width="0.8" stroke-linejoin="round"/>
<path d="M29.4,505.9 A5.2,5.2 0 0 1 32.7,512.2" fill="none" stroke="rgb(191,191,191)" stroke-width="1.5" opacity="0.66" stroke-linecap="round"/>
<circle cx="52.0" cy="510.9" r="6.7" fill="#262626" opacity="0.85"/>
<circle cx="52.7" cy="510.2" r="5.6" fill="url(#pb)"/>
<polygon points="77.0,512.2 77.1,513.6 76.0,514.5 75.1,515.7 73.7,515.8 72.4,515.3 71.4,514.5 71.0,513.3 70.0,512.2 71.0,511.1 71.5,510.0 72.5,509.2 73.7,508.5 75.0,509.1 76.2,509.7 76.9,510.9" fill="rgb(69,69,69)" stroke="rgb(84,84,84)" stroke-width="0.8" stroke-linejoin="round"/>
<polygon points="101.2,513.2 100.9,514.4 100.3,515.6 99.3,516.5 97.9,516.6 96.7,516.2 95.4,515.7 94.3,514.7 94.2,513.2 94.6,511.8 95.5,510.7 96.5,509.6 97.9,510.0 99.1,510.3 100.3,510.9 101.2,511.8" fill="rgb(47,47,47)" stroke="rgb(62,62,62)" stroke-width="0.8" stroke-linejoin="round"/>
<path d="M95.0,517.0 A4.8,4.8 0 0 1 98.8,508.4" fill="none" stroke="rgb(179,179,179)" stroke-width="1.5" opacity="0.84" stroke-linecap="round"/>
<polygon points="124.9,512.8 124.5,514.2 123.4,515.2 122.4,516.2 121.0,516.5 119.6,516.0 118.8,515.0 117.8,514.1 116.8,512.8 117.9,511.5 118.6,510.4 119.6,509.5 121.0,509.0 122.4,509.3 123.2,510.6 124.4,511.4" fill="rgb(67,67,67)" stroke="rgb(82,82,82)" stroke-width="0.8" stroke-linejoin="round"/>
<path d="M124.2,508.9 A5.0,5.0 0 0 1 123.3,517.3" fill="none" stroke="rgb(186,186,186)" stroke-width="1.5" opacity="0.69" stroke-linecap="round"/>
<polygon points="147.9,512.8 147.3,513.9 146.6,514.7 145.8,515.5 144.6,516.0 143.6,515.4 142.6,514.9 142.0,513.9 141.1,512.8 141.7,511.6 142.4,510.6 143.6,510.3 144.6,509.7 145.7,510.2 146.8,510.6 148.1,511.4" fill="rgb(64,64,64)" stroke="rgb(79,79,79)" stroke-width="0.8" stroke-linejoin="round"/>
<polygon points="171.4,512.7 170.5,513.9 170.1,515.2 169.1,516.3 167.6,516.8 166.3,515.8 165.2,515.1 164.4,514.0 163.4,512.7 164.3,511.3 165.0,510.0 166.3,509.4 167.6,508.8 169.2,509.0 169.9,510.4 170.7,511.4" fill="rgb(58,58,58)" stroke="rgb(73,73,73)" stroke-width="0.8" stroke-linejoin="round"/>
<path d="M164.9,508.3 A5.1,5.1 0 0 1 172.0,510.0" fill="none" stroke="rgb(177,177,177)" stroke-width="1.5" opacity="0.50" stroke-linecap="round"/>
<polygon points="195.0,512.8 195.1,514.4 193.4,515.1 192.8,516.7 191.1,516.7 189.7,516.2 188.9,515.0 187.6,514.2 187.6,512.8 188.2,511.5 188.5,510.1 189.8,509.6 191.1,509.1 192.5,509.4 193.4,510.5 194.2,511.5" fill="rgb(60,60,60)" stroke="rgb(75,75,75)" stroke-width="0.8" stroke-linejoin="round"/>
<path d="M188.4,508.5 A5.1,5.1 0 0 1 195.0,516.0" fill="none" stroke="rgb(188,188,188)" stroke-width="1.5" opacity="0.68" stroke-linecap="round"/>
<polygon points="218.2,512.7 218.2,514.1 217.0,515.0 216.1,515.9 214.7,516.7 213.4,515.8 212.3,515.1 211.6,513.9 211.3,512.7 211.8,511.4 212.5,510.4 213.2,508.9 214.7,509.1 215.9,509.9 217.0,510.4 218.3,511.2" fill="rgb(50,50,50)" stroke="rgb(65,65,65)" stroke-width="0.8" stroke-linejoin="round"/>
<path d="M210.7,509.4 A5.1,5.1 0 0 1 217.8,508.5" fill="none" stroke="rgb(199,199,199)" stroke-width="1.5" opacity="0.48" stroke-linecap="round"/>
<polygon points="240.5,513.0 241.2,514.5 239.9,515.3 238.8,516.2 237.5,516.4 236.3,515.8 235.2,515.2 234.3,514.3 234.2,513.0 234.4,511.7 235.2,510.7 236.2,509.9 237.5,509.4 238.8,509.7 239.8,510.6 240.2,511.8" fill="rgb(60,60,60)" stroke="rgb(75,75,75)" stroke-width="0.8" stroke-linejoin="round"/>
<path d="M232.8,511.9 A4.8,4.8 0 0 1 238.4,508.2" fill="none" stroke="rgb(181,181,181)" stroke-width="1.5" opacity="0.71" stroke-linecap="round"/>
<polygon points="264.7,513.2 263.9,514.3 263.4,515.4 262.2,515.7 261.2,516.4 260.0,515.9 259.0,515.4 258.5,514.3 257.9,513.2 258.3,512.0 259.1,511.1 260.0,510.4 261.2,509.9 262.3,510.5 263.4,510.9 264.1,511.9" fill="rgb(68,68,68)" stroke="rgb(83,83,83)" stroke-width="0.8" stroke-linejoin="round"/>
<path d="M265.3,511.2 A4.6,4.6 0 1 1 256.6,513.2" fill="none" stroke="rgb(192,192,192)" stroke-width="1.5" opacity="0.56" stroke-linecap="round"/>
<polygon points="288.8,513.2 288.5,514.5 287.9,515.7 286.6,516.2 285.3,516.8 284.1,516.0 283.2,515.3 282.1,514.5 281.8,513.2 282.2,511.9 282.9,510.7 284.1,510.2 285.3,509.2 286.6,510.2 287.5,511.0 288.2,512.0" fill="rgb(69,69,69)" stroke="rgb(84,84,84)" stroke-width="0.8" stroke-linejoin="round"/>
<circle cx="308.7" cy="511.9" r="6.7" fill="#262626" opacity="0.85"/>
<circle cx="309.4" cy="511.2" r="5.6" fill="url(#pb)"/>
<circle cx="332.4" cy="511.8" r="6.7" fill="#262626" opacity="0.85"/>
<circle cx="333.1" cy="511.1" r="5.6" fill="url(#pb)"/>
<polygon points="358.6,513.9 357.8,515.0 357.3,516.2 356.2,517.0 354.9,517.2 353.8,516.5 352.6,516.2 351.6,515.2 351.8,513.9 352.0,512.7 353.0,511.9 353.6,510.6 354.9,510.8 356.2,510.7 357.3,511.5 358.2,512.5" fill="rgb(60,60,60)" stroke="rgb(75,75,75)" stroke-width="0.8" stroke-linejoin="round"/>
<polygon points="382.0,513.1 382.2,514.5 381.2,515.2 380.2,515.8 379.1,516.7 377.9,516.0 376.8,515.4 376.4,514.2 375.5,513.1 376.0,511.9 377.0,511.1 377.9,510.4 379.1,509.9 380.3,510.2 381.1,511.0 382.3,511.8" fill="rgb(46,46,46)" stroke="rgb(61,61,61)" stroke-width="0.8" stroke-linejoin="round"/>
<path d="M374.8,511.2 A4.7,4.7 0 0 1 382.8,510.3" fill="none" stroke="rgb(181,181,181)" stroke-width="1.5" opacity="0.45" stroke-linecap="round"/>
<polygon points="404.8,513.3 404.1,514.5 403.7,515.7 402.6,516.4 401.3,516.9 400.2,516.2 399.4,515.3 398.5,514.5 397.9,513.3 398.3,512.1 399.0,511.0 400.0,510.1 401.3,509.7 402.6,510.3 403.7,511.0 404.4,512.0" fill="rgb(54,54,54)" stroke="rgb(69,69,69)" stroke-width="0.8" stroke-linejoin="round"/>
<polygon points="428.0,513.6 427.6,514.9 427.1,516.0 426.0,516.9 424.7,517.5 423.6,516.3 422.1,516.2 421.7,514.9 421.4,513.6 421.6,512.3 422.4,511.3 423.3,510.4 424.7,510.1 426.0,510.5 427.2,511.2 428.0,512.2" fill="rgb(62,62,62)" stroke="rgb(77,77,77)" stroke-width="0.8" stroke-linejoin="round"/>
<polygon points="451.6,514.2 451.7,515.8 450.1,516.6 449.1,517.3 447.8,517.7 446.3,518.0 445.5,516.6 444.6,515.6 444.5,514.2 444.8,513.0 445.3,511.7 446.5,510.9 447.8,510.3 449.2,510.8 450.2,511.9 450.9,513.0" fill="rgb(62,62,62)" stroke="rgb(77,77,77)" stroke-width="0.8" stroke-linejoin="round"/>
<path d="M443.3,512.2 A5.0,5.0 0 1 1 451.5,517.7" fill="none" stroke="rgb(166,166,166)" stroke-width="1.5" opacity="0.68" stroke-linecap="round"/>
<polygon points="474.6,513.5 474.7,514.9 473.9,516.1 472.7,516.7 471.4,517.5 470.2,516.4 469.1,515.8 468.0,514.9 467.7,513.5 468.2,512.2 469.5,511.7 470.0,510.3 471.4,510.1 472.6,510.5 473.4,511.5 474.3,512.3" fill="rgb(48,48,48)" stroke="rgb(63,63,63)" stroke-width="0.8" stroke-linejoin="round"/>
<path d="M470.0,508.9 A4.8,4.8 0 0 1 473.0,518.1" fill="none" stroke="rgb(193,193,193)" stroke-width="1.5" opacity="0.63" stroke-linecap="round"/>
<polygon points="31.1,535.2 30.9,536.4 29.8,537.1 29.1,538.0 27.9,538.4 26.7,538.2 25.5,537.6 24.8,536.5 24.5,535.2 25.1,534.0 25.5,532.8 26.6,532.0 27.9,531.9 29.2,532.3 30.2,532.9 31.2,533.8" fill="rgb(45,45,45)" stroke="rgb(60,60,60)" stroke-width="0.8" stroke-linejoin="round"/>
<path d="M30.4,531.1 A4.7,4.7 0 0 1 26.7,539.8" fill="none" stroke="rgb(189,189,189)" stroke-width="1.5" opacity="0.66" stroke-linecap="round"/>
<polygon points="54.6,535.1 54.2,536.5 53.2,537.4 52.2,538.3 50.8,538.6 49.3,538.7 48.4,537.5 47.6,536.4 47.3,535.1 46.9,533.4 48.2,532.4 49.5,531.9 50.8,531.6 52.3,531.5 53.4,532.5 53.8,533.9" fill="rgb(69,69,69)" stroke="rgb(84,84,84)" stroke-width="0.8" stroke-linejoin="round"/>
<polygon points="78.8,535.6 78.7,537.0 77.7,538.0 76.6,538.7 75.3,539.5 73.8,539.2 73.2,537.6 72.0,536.9 71.5,535.6 71.6,534.0 72.7,533.0 74.0,532.4 75.3,531.8 76.6,532.2 77.4,533.4 78.4,534.3" fill="rgb(54,54,54)" stroke="rgb(69,69,69)" stroke-width="0.8" stroke-linejoin="round"/>
<path d="M78.8,531.9 A5.0,5.0 0 0 1 78.6,539.4" fill="none" stroke="rgb(186,186,186)" stroke-width="1.5" opacity="0.75" stroke-linecap="round"/>
<circle cx="98.1" cy="534.4" r="6.7" fill="#262626" opacity="0.85"/>
<circle cx="98.8" cy="533.7" r="5.6" fill="url(#pb)"/>
<polygon points="124.0,535.5 123.2,536.5 123.0,537.8 122.1,538.9 120.7,538.8 119.5,538.2 118.4,537.8 117.3,536.9 117.2,535.5 117.5,534.1 118.1,532.9 119.3,532.2 120.7,532.2 121.8,532.7 122.9,533.2 123.8,534.2" fill="rgb(48,48,48)" stroke="rgb(63,63,63)" stroke-width="0.8" stroke-linejoin="round"/>
<path d="M118.4,531.3 A4.7,4.7 0 1 1 122.8,539.7" fill="none" stroke="rgb(183,183,183)" stroke-width="1.5" opacity="0.78" stroke-linecap="round"/>
<polygon points="147.9,535.4 147.9,536.8 146.9,537.8 145.7,538.3 144.5,539.5 143.0,539.0 142.0,537.9 141.1,536.8 140.9,535.4 140.9,533.9 142.1,533.0 143.1,532.1 144.5,531.4 145.9,532.0 146.8,533.1 147.8,534.0" fill="rgb(44,44,44)" stroke="rgb(59,59,59)" stroke-width="0.8" stroke-linejoin="round"/>
<path d="M145.7,530.5 A5.1,5.1 0 0 1 148.9,537.9" fill="none" stroke="rgb(199,199,199)" stroke-width="1.5" opacity="0.77" stroke-linecap="round"/>
<polygon points="171.8,536.5 171.1,537.8 170.4,538.9 169.3,539.7 168.0,541.0 166.5,540.1 165.9,538.6 164.7,537.9 164.2,536.5 164.6,535.1 165.5,534.0 166.6,533.2 168.0,532.4 169.3,533.3 170.7,533.8 171.3,535.1" fill="rgb(46,46,46)" stroke="rgb(61,61,61)" stroke-width="0.8" stroke-linejoin="round"/>
<polygon points="194.7,536.1 194.4,537.4 193.6,538.4 192.4,538.7 191.3,539.5 190.1,538.9 189.0,538.4 188.3,537.4 187.9,536.1 188.4,534.9 189.1,533.9 190.3,533.7 191.3,532.6 192.7,532.8 193.3,534.1 194.0,535.0" fill="rgb(62,62,62)" stroke="rgb(77,77,77)" stroke-width="0.8" stroke-linejoin="round"/>
<path d="M189.3,531.8 A4.7,4.7 0 0 1 194.8,539.3" fill="none" stroke="rgb(167,167,167)" stroke-width="1.5" opacity="0.66" stroke-linecap="round"/>
<polygon points="218.2,535.7 217.9,537.1 217.1,538.2 215.9,539.0 214.5,539.2 213.1,539.0 212.2,537.9 211.4,536.9 211.1,535.7 210.8,534.1 212.0,533.2 213.3,532.6 214.5,532.3 215.9,532.2 217.0,533.1 217.6,534.4" fill="rgb(47,47,47)" stroke="rgb(62,62,62)" stroke-width="0.8" stroke-linejoin="round"/>
<polygon points="241.8,536.2 241.0,537.5 240.3,538.6 239.1,539.1 237.9,540.0 236.6,539.2 235.7,538.4 234.7,537.5 233.9,536.2 234.8,534.9 235.6,533.9 236.5,532.9 237.9,532.8 239.3,532.9 240.0,534.1 240.5,535.1" fill="rgb(47,47,47)" stroke="rgb(62,62,62)" stroke-width="0.8" stroke-linejoin="round"/>
<polygon points="264.5,536.1 264.2,537.3 263.3,538.1 262.5,538.9 261.3,539.4 260.0,539.2 259.2,538.2 258.1,537.4 258.0,536.1 258.7,535.0 258.9,533.6 260.2,533.4 261.3,532.3 262.4,533.4 263.6,533.8 264.1,534.9" fill="rgb(49,49,49)" stroke="rgb(64,64,64)" stroke-width="0.8" stroke-linejoin="round"/>
<path d="M265.2,533.5 A4.7,4.7 0 0 1 264.0,539.9" fill="none" stroke="rgb(166,166,166)" stroke-width="1.5" opacity="0.60" stroke-linecap="round"/>
<polygon points="288.3,536.6 287.4,537.8 286.8,538.9 285.9,539.6 284.6,540.0 283.5,539.4 282.5,538.7 282.0,537.7 281.5,536.6 282.0,535.5 282.3,534.3 283.4,533.7 284.6,533.3 285.6,534.1 286.8,534.5 287.9,535.3" fill="rgb(65,65,65)" stroke="rgb(80,80,80)" stroke-width="0.8" stroke-linejoin="round"/>
<path d="M284.8,532.0 A4.6,4.6 0 0 1 289.1,535.9" fill="none" stroke="rgb(170,170,170)" stroke-width="1.5" opacity="0.74" stroke-linecap="round"/>
<polygon points="311.8,536.1 311.0,537.3 310.4,538.5 309.2,538.9 308.0,539.8 306.6,539.5 305.7,538.4 305.0,537.3 304.2,536.1 304.8,534.7 305.8,533.9 306.6,532.6 308.0,532.2 309.4,532.7 310.4,533.7 311.3,534.7" fill="rgb(51,51,51)" stroke="rgb(66,66,66)" stroke-width="0.8" stroke-linejoin="round"/>
<path d="M307.8,531.1 A4.9,4.9 0 0 1 312.5,538.1" fill="none" stroke="rgb(183,183,183)" stroke-width="1.5" opacity="0.68" stroke-linecap="round"/>
<polygon points="334.9,536.3 335.0,537.7 334.2,538.9 333.1,540.0 331.6,540.1 330.1,539.9 329.2,538.7 328.3,537.6 328.1,536.3 328.3,534.9 329.2,533.9 330.2,533.0 331.6,532.7 332.9,533.0 333.8,534.0 335.1,534.8" fill="rgb(53,53,53)" stroke="rgb(68,68,68)" stroke-width="0.8" stroke-linejoin="round"/>
<path d="M334.9,532.4 A5.1,5.1 0 0 1 331.9,541.3" fill="none" stroke="rgb(181,181,181)" stroke-width="1.5" opacity="0.61" stroke-linecap="round"/>
<polygon points="358.2,536.2 357.7,537.3 357.2,538.5 356.3,539.4 354.9,539.5 353.6,539.3 352.8,538.3 352.0,537.4 351.5,536.2 352.1,535.0 352.8,534.1 353.8,533.4 354.9,532.7 356.0,533.5 357.1,534.0 357.7,535.0" fill="rgb(65,65,65)" stroke="rgb(80,80,80)" stroke-width="0.8" stroke-linejoin="round"/>
<polygon points="382.0,536.1 381.8,537.6 380.5,538.4 379.6,539.5 378.2,540.0 377.0,539.0 375.7,538.6 375.3,537.3 374.1,536.1 374.9,534.7 375.7,533.7 376.9,533.0 378.2,531.8 379.7,532.5 380.4,533.8 381.3,534.8" fill="rgb(44,44,44)" stroke="rgb(59,59,59)" stroke-width="0.8" stroke-linejoin="round"/>
<path d="M373.5,534.4 A5.0,5.0 0 0 1 383.2,536.1" fill="none" stroke="rgb(181,181,181)" stroke-width="1.5" opacity="0.53" stroke-linecap="round"/>
<polygon points="405.9,537.0 405.1,538.4 404.2,539.5 403.0,540.3 401.7,540.5 400.2,540.4 399.0,539.6 398.2,538.4 398.1,537.0 398.5,535.7 399.0,534.3 400.4,534.0 401.7,533.3 403.2,533.2 403.9,534.7 404.8,535.7" fill="rgb(65,65,65)" stroke="rgb(80,80,80)" stroke-width="0.8" stroke-linejoin="round"/>
<path d="M401.0,531.9 A5.1,5.1 0 0 1 403.0,541.9" fill="none" stroke="rgb(194,194,194)" stroke-width="1.5" opacity="0.66" stroke-linecap="round"/>
<polygon points="428.7,536.6 428.2,537.9 427.0,538.6 426.2,539.6 425.0,540.4 423.7,539.7 422.9,538.6 422.3,537.7 421.7,536.6 421.8,535.3 422.8,534.4 423.7,533.6 425.0,533.4 426.3,533.4 427.1,534.5 428.2,535.3" fill="rgb(52,52,52)" stroke="rgb(67,67,67)" stroke-width="0.8" stroke-linejoin="round"/>
<path d="M426.7,541.0 A4.7,4.7 0 0 1 422.6,532.5" fill="none" stroke="rgb(195,195,195)" stroke-width="1.5" opacity="0.58" stroke-linecap="round"/>
<polygon points="451.3,537.4 451.0,538.5 450.3,539.4 449.4,540.1 448.2,541.6 446.9,540.4 446.2,539.4 445.1,538.7 444.7,537.4 445.6,536.3 445.9,535.0 447.1,534.5 448.2,533.8 449.6,534.0 450.2,535.3 451.4,536.1" fill="rgb(63,63,63)" stroke="rgb(78,78,78)" stroke-width="0.8" stroke-linejoin="round"/>
<circle cx="471.8" cy="535.7" r="6.7" fill="#262626" opacity="0.85"/>
<circle cx="472.5" cy="535.0" r="5.6" fill="url(#pb)"/>
<polygon points="32.2,558.6 31.6,559.9 30.7,560.9 29.9,562.0 28.5,562.1 27.2,561.5 26.3,560.7 25.6,559.8 24.9,558.6 25.8,557.5 26.1,556.3 27.1,555.4 28.5,554.4 29.7,555.7 31.0,556.0 31.8,557.2" fill="rgb(58,58,58)" stroke="rgb(73,73,73)" stroke-width="0.8" stroke-linejoin="round"/>
<path d="M23.5,557.8 A5.0,5.0 0 1 1 33.4,559.4" fill="none" stroke="rgb(196,196,196)" stroke-width="1.5" opacity="0.50" stroke-linecap="round"/>
<polygon points="55.6,558.4 55.1,559.7 54.3,560.8 53.2,561.4 52.0,561.6 50.7,561.6 49.3,561.0 48.2,560.0 48.3,558.4 48.8,557.1 49.3,555.7 50.4,554.6 52.0,554.6 53.3,555.3 54.3,556.0 55.2,557.1" fill="rgb(46,46,46)" stroke="rgb(61,61,61)" stroke-width="0.8" stroke-linejoin="round"/>
<path d="M47.0,557.3 A5.1,5.1 0 0 1 56.9,559.5" fill="none" stroke="rgb(181,181,181)" stroke-width="1.5" opacity="0.78" stroke-linecap="round"/>
<polygon points="77.8,558.7 77.9,560.1 77.0,561.1 75.9,561.8 74.6,562.3 73.2,562.2 72.3,561.0 71.6,560.0 71.0,558.7 71.5,557.4 72.3,556.4 73.3,555.5 74.6,555.0 75.8,555.9 77.0,556.3 78.0,557.3" fill="rgb(50,50,50)" stroke="rgb(65,65,65)" stroke-width="0.8" stroke-linejoin="round"/>
<path d="M70.9,555.6 A4.9,4.9 0 0 1 75.3,553.9" fill="none" stroke="rgb(178,178,178)" stroke-width="1.5" opacity="0.50" stroke-linecap="round"/>
<polygon points="101.6,558.8 100.9,560.0 100.0,560.9 99.2,561.8 97.9,562.7 96.5,562.1 95.6,561.0 94.9,560.0 94.1,558.8 94.8,557.5 95.6,556.4 96.6,555.7 97.9,555.5 99.0,556.1 100.1,556.5 100.7,557.6" fill="rgb(67,67,67)" stroke="rgb(82,82,82)" stroke-width="0.8" stroke-linejoin="round"/>
<path d="M98.1,554.0 A4.8,4.8 0 0 1 100.2,562.9" fill="none" stroke="rgb(174,174,174)" stroke-width="1.5" opacity="0.80" stroke-linecap="round"/>
<polygon points="126.0,559.0 125.5,560.4 125.1,561.8 123.8,562.7 122.3,562.5 121.0,562.1 119.9,561.4 118.7,560.5 119.3,559.0 119.4,557.8 119.6,556.4 121.0,556.0 122.3,556.0 123.5,556.0 124.7,556.6 125.8,557.6" fill="rgb(51,51,51)" stroke="rgb(66,66,66)" stroke-width="0.8" stroke-linejoin="round"/>
<polygon points="149.0,559.2 148.6,560.6 147.8,561.7 146.5,562.0 145.3,562.6 143.8,562.8 143.3,561.2 142.0,560.6 141.9,559.2 142.2,557.9 143.0,556.9 144.0,555.9 145.3,555.8 146.7,555.8 148.0,556.5 148.0,558.1" fill="rgb(57,57,57)" stroke="rgb(72,72,72)" stroke-width="0.8" stroke-linejoin="round"/>
<path d="M141.2,562.1 A5.0,5.0 0 0 1 149.3,556.2" fill="none" stroke="rgb(173,173,173)" stroke-width="1.5" opacity="0.74" stroke-linecap="round"/>
<polygon points="172.1,559.2 171.8,560.3 170.9,561.1 170.2,562.0 169.0,562.2 167.9,562.0 166.8,561.4 166.3,560.3 165.6,559.2 166.1,557.9 167.1,557.2 167.9,556.3 169.0,556.0 170.3,556.0 171.0,557.2 171.9,558.0" fill="rgb(49,49,49)" stroke="rgb(64,64,64)" stroke-width="0.8" stroke-linejoin="round"/>
<polygon points="195.7,559.4 194.4,560.6 193.9,561.7 192.7,562.1 191.6,562.8 190.5,562.0 189.1,561.9 189.2,560.4 188.1,559.4 188.8,558.2 189.4,557.1 190.5,556.6 191.6,555.4 192.9,556.3 193.8,557.2 194.6,558.2" fill="rgb(58,58,58)" stroke="rgb(73,73,73)" stroke-width="0.8" stroke-linejoin="round"/>
<path d="M189.9,555.1 A4.6,4.6 0 0 1 195.5,561.9" fill="none" stroke="rgb(167,167,167)" stroke-width="1.5" opacity="0.81" stroke-linecap="round"/>
<polygon points="218.6,559.5 217.7,560.6 217.2,561.9 216.1,562.6 214.8,563.0 213.4,562.9 212.5,561.8 211.9,560.6 210.8,559.5 211.7,558.2 213.0,557.6 213.5,556.2 214.8,555.7 216.1,556.3 217.1,557.2 217.8,558.2" fill="rgb(51,51,51)" stroke="rgb(66,66,66)" stroke-width="0.8" stroke-linejoin="round"/>
<path d="M211.1,562.6 A4.9,4.9 0 0 1 210.2,557.9" fill="none" stroke="rgb(185,185,185)" stroke-width="1.5" opacity="0.55" stroke-linecap="round"/>
<polygon points="242.2,560.1 242.0,561.5 240.8,562.3 239.8,563.2 238.5,563.7 237.2,563.2 236.1,562.5 234.8,561.6 234.5,560.1 234.9,558.6 236.1,557.6 237.1,556.6 238.5,556.4 239.8,557.0 241.2,557.3 241.8,558.7" fill="rgb(61,61,61)" stroke="rgb(76,76,76)" stroke-width="0.8" stroke-linejoin="round"/>
<path d="M237.5,555.1 A5.0,5.0 0 1 1 238.5,565.1" fill="none" stroke="rgb(175,175,175)" stroke-width="1.5" opacity="0.72" stroke-linecap="round"/>
<polygon points="265.4,559.9 264.4,561.1 263.6,561.9 262.9,563.0 261.6,563.4 260.3,562.9 259.2,562.4 258.4,561.3 258.3,559.9 258.3,558.5 259.1,557.4 260.4,557.1 261.6,556.3 262.7,557.1 264.0,557.5 264.5,558.7" fill="rgb(57,57,57)" stroke="rgb(72,72,72)" stroke-width="0.8" stroke-linejoin="round"/>
<path d="M264.5,556.3 A4.7,4.7 0 0 1 261.8,564.6" fill="none" stroke="rgb(180,180,180)" stroke-width="1.5" opacity="0.84" stroke-linecap="round"/>
<circle cx="285.6" cy="557.9" r="6.7" fill="#262626" opacity="0.85"/>
<circle cx="286.3" cy="557.2" r="5.6" fill="url(#pb)"/>
<polygon points="312.4,559.4 311.9,560.7 311.2,561.7 310.2,562.5 309.0,563.0 307.7,562.6 306.5,561.9 305.8,560.7 305.3,559.4 306.0,558.2 307.0,557.5 307.7,556.4 309.0,556.3 310.2,556.4 311.2,557.2 312.0,558.2" fill="rgb(54,54,54)" stroke="rgb(69,69,69)" stroke-width="0.8" stroke-linejoin="round"/>
<path d="M305.3,556.4 A4.7,4.7 0 0 1 311.9,555.7" fill="none" stroke="rgb(177,177,177)" stroke-width="1.5" opacity="0.51" stroke-linecap="round"/>
<polygon points="335.9,560.1 335.2,561.1 334.8,562.2 333.8,562.9 332.6,563.0 331.5,562.8 330.3,562.3 329.7,561.3 329.4,560.1 329.7,558.9 330.4,557.9 331.5,557.4 332.6,557.0 333.8,557.2 334.7,557.9 336.0,558.7" fill="rgb(56,56,56)" stroke="rgb(71,71,71)" stroke-width="0.8" stroke-linejoin="round"/>
<path d="M328.1,560.0 A4.6,4.6 0 1 1 337.0,561.5" fill="none" stroke="rgb(199,199,199)" stroke-width="1.5" opacity="0.54" stroke-linecap="round"/>
<polygon points="359.0,559.4 358.6,560.6 357.7,561.4 356.8,562.1 355.6,562.8 354.5,562.2 353.4,561.6 352.8,560.6 352.5,559.4 352.7,558.1 353.6,557.4 354.4,556.3 355.6,556.1 356.9,556.4 357.8,557.2 358.5,558.2" fill="rgb(65,65,65)" stroke="rgb(80,80,80)" stroke-width="0.8" stroke-linejoin="round"/>
<polygon points="382.4,560.5 381.6,561.7 381.0,562.8 379.9,563.4 378.7,564.0 377.3,563.8 376.5,562.6 375.1,561.9 374.9,560.5 375.7,559.2 376.2,557.9 377.5,557.6 378.7,556.7 380.0,557.3 381.1,558.0 382.2,559.0" fill="rgb(56,56,56)" stroke="rgb(71,71,71)" stroke-width="0.8" stroke-linejoin="round"/>
<polygon points="405.8,559.6 405.0,560.9 404.4,562.3 403.0,562.6 401.7,564.1 400.2,563.2 399.1,562.2 398.4,561.0 397.8,559.6 398.4,558.2 399.3,557.2 400.4,556.4 401.7,555.8 403.2,556.0 404.2,557.1 405.2,558.2" fill="rgb(59,59,59)" stroke="rgb(74,74,74)" stroke-width="0.8" stroke-linejoin="round"/>
<polygon points="428.3,559.8 428.0,561.0 427.3,562.0 426.2,562.5 425.1,562.8 423.8,563.1 422.9,562.0 422.3,561.0 421.3,559.8 421.7,558.4 422.9,557.6 423.9,556.9 425.1,555.7 426.3,556.9 427.5,557.4 428.2,558.5" fill="rgb(66,66,66)" stroke="rgb(81,81,81)" stroke-width="0.8" stroke-linejoin="round"/>
<path d="M420.5,560.3 A4.7,4.7 0 0 1 425.6,555.2" fill="none" stroke="rgb(171,171,171)" stroke-width="1.5" opacity="0.51" stroke-linecap="round"/>
<polygon points="453.4,559.9 452.7,561.0 452.0,562.1 451.0,562.9 449.8,563.6 448.5,563.1 447.4,562.2 446.8,561.1 446.1,559.9 446.6,558.6 447.4,557.4 448.5,556.7 449.8,556.6 451.1,556.7 452.0,557.7 452.8,558.6" fill="rgb(66,66,66)" stroke="rgb(81,81,81)" stroke-width="0.8" stroke-linejoin="round"/>
<path d="M446.8,556.1 A4.8,4.8 0 0 1 454.6,560.1" fill="none" stroke="rgb(175,175,175)" stroke-width="1.5" opacity="0.79" stroke-linecap="round"/>
<polygon points="475.9,560.0 475.5,561.3 474.7,562.4 473.3,562.6 472.3,563.5 470.9,563.3 469.9,562.3 469.6,561.1 468.8,560.0 469.3,558.7 470.2,558.0 470.9,556.7 472.3,556.9 473.7,556.5 474.5,557.8 475.2,558.8" fill="rgb(46,46,46)" stroke="rgb(61,61,61)" stroke-width="0.8" stroke-linejoin="round"/>
<path d="M473.4,555.3 A4.8,4.8 0 1 1 470.0,564.2" fill="none" stroke="rgb(183,183,183)" stroke-width="1.5" opacity="0.57" stroke-linecap="round"/>
<polygon points="33.4,582.2 32.3,583.4 31.8,584.7 30.6,585.2 29.4,585.7 28.0,585.5 27.0,584.6 26.6,583.4 26.2,582.2 26.3,581.0 27.0,579.9 28.1,579.2 29.4,578.4 30.6,579.2 31.6,580.0 32.6,580.9" fill="rgb(46,46,46)" stroke="rgb(61,61,61)" stroke-width="0.8" stroke-linejoin="round"/>
<path d="M27.6,577.7 A4.9,4.9 0 0 1 32.8,585.7" fill="none" stroke="rgb(188,188,188)" stroke-width="1.5" opacity="0.81" stroke-linecap="round"/>
<polygon points="54.9,581.9 54.1,582.9 53.7,584.1 52.7,584.7 51.5,585.3 50.4,584.6 49.6,583.8 48.5,583.1 48.1,581.9 48.7,580.7 49.3,579.7 50.2,578.7 51.5,578.5 52.7,578.9 53.9,579.5 54.3,580.7" fill="rgb(63,63,63)" stroke="rgb(78,78,78)" stroke-width="0.8" stroke-linejoin="round"/>
<path d="M48.3,578.6 A4.6,4.6 0 0 1 56.1,582.4" fill="none" stroke="rgb(196,196,196)" stroke-width="1.5" opacity="0.67" stroke-linecap="round"/>
<polygon points="78.8,581.8 78.5,583.1 77.5,583.9 76.6,584.6 75.4,585.2 74.1,584.9 73.3,583.9 72.6,582.9 72.3,581.8 72.2,580.5 73.1,579.5 74.0,578.6 75.4,579.2 76.7,578.6 77.6,579.5 78.7,580.4" fill="rgb(60,60,60)" stroke="rgb(75,75,75)" stroke-width="0.8" stroke-linejoin="round"/>
<polygon points="101.9,582.1 101.6,583.3 101.2,584.6 100.0,585.3 98.7,585.4 97.3,585.6 96.4,584.4 95.8,583.3 95.1,582.1 95.6,580.8 96.3,579.6 97.4,579.0 98.7,578.7 100.0,579.1 101.1,579.7 101.6,580.9" fill="rgb(46,46,46)" stroke="rgb(61,61,61)" stroke-width="0.8" stroke-linejoin="round"/>
<path d="M97.9,586.9 A4.8,4.8 0 1 1 99.7,577.4" fill="none" stroke="rgb(169,169,169)" stroke-width="1.5" opacity="0.70" stroke-linecap="round"/>
<circle cx="122.6" cy="580.6" r="6.7" fill="#262626" opacity="0.85"/>
<circle cx="123.3" cy="579.9" r="5.6" fill="url(#pb)"/>
<polygon points="149.2,581.8 148.9,583.2 147.9,584.0 147.1,585.1 145.7,585.5 144.4,584.9 143.5,584.0 142.8,583.0 141.9,581.8 142.8,580.6 143.5,579.7 144.6,579.3 145.7,578.4 147.1,578.4 148.0,579.5 149.0,580.4" fill="rgb(49,49,49)" stroke="rgb(64,64,64)" stroke-width="0.8" stroke-linejoin="round"/>
<path d="M141.5,584.0 A4.7,4.7 0 1 1 150.2,580.4" fill="none" stroke="rgb(186,186,186)" stroke-width="1.5" opacity="0.51" stroke-linecap="round"/>
<polygon points="172.9,582.3 172.2,583.6 171.1,584.4 170.1,584.9 169.0,585.9 167.8,585.2 166.6,584.7 166.1,583.4 165.1,582.3 166.0,581.0 166.5,579.8 167.7,579.2 169.0,579.1 170.0,579.7 171.3,579.9 171.8,581.1" fill="rgb(44,44,44)" stroke="rgb(59,59,59)" stroke-width="0.8" stroke-linejoin="round"/>
<path d="M165.3,579.1 A4.8,4.8 0 1 1 172.6,585.5" fill="none" stroke="rgb(186,186,186)" stroke-width="1.5" opacity="0.68" stroke-linecap="round"/>
<polygon points="194.9,582.6 194.7,583.8 194.0,584.8 192.7,585.0 191.7,585.5 190.3,585.9 189.8,584.5 189.0,583.7 188.7,582.6 188.5,581.3 189.7,580.6 190.7,580.1 191.7,579.6 193.1,579.3 193.7,580.6 194.6,581.4" fill="rgb(46,46,46)" stroke="rgb(61,61,61)" stroke-width="0.8" stroke-linejoin="round"/>
<path d="M189.4,578.7 A4.5,4.5 0 0 1 194.4,579.0" fill="none" stroke="rgb(167,167,167)" stroke-width="1.5" opacity="0.48" stroke-linecap="round"/>
<polygon points="219.5,582.6 218.5,583.7 218.2,585.0 217.1,585.6 215.9,586.5 214.7,585.4 213.7,584.8 213.3,583.7 212.6,582.6 213.1,581.4 213.7,580.5 214.6,579.6 215.9,579.3 217.0,579.8 218.1,580.4 218.4,581.6" fill="rgb(55,55,55)" stroke="rgb(70,70,70)" stroke-width="0.8" stroke-linejoin="round"/>
<path d="M215.1,578.2 A4.5,4.5 0 1 1 216.0,587.1" fill="none" stroke="rgb(169,169,169)" stroke-width="1.5" opacity="0.66" stroke-linecap="round"/>
<polygon points="242.4,582.8 241.9,584.0 241.5,585.4 240.6,586.6 239.0,586.5 237.7,586.1 236.4,585.4 235.4,584.3 235.3,582.8 235.8,581.5 236.3,580.1 237.7,579.6 239.0,579.3 240.4,579.6 242.0,579.9 242.3,581.5" fill="rgb(55,55,55)" stroke="rgb(70,70,70)" stroke-width="0.8" stroke-linejoin="round"/>
<path d="M234.0,582.3 A5.1,5.1 0 0 1 243.0,579.6" fill="none" stroke="rgb(199,199,199)" stroke-width="1.5" opacity="0.80" stroke-linecap="round"/>
<polygon points="265.9,582.5 265.6,583.7 264.9,584.8 263.9,585.6 262.6,585.9 261.5,585.4 260.7,584.5 260.1,583.6 259.1,582.5 259.4,581.2 260.4,580.2 261.4,579.4 262.6,579.0 263.9,579.5 264.9,580.3 266.0,581.2" fill="rgb(52,52,52)" stroke="rgb(67,67,67)" stroke-width="0.8" stroke-linejoin="round"/>
<path d="M264.0,578.0 A4.7,4.7 0 1 1 261.1,587.0" fill="none" stroke="rgb(177,177,177)" stroke-width="1.5" opacity="0.80" stroke-linecap="round"/>
<polygon points="289.4,583.3 288.4,584.6 288.0,586.0 286.8,586.9 285.4,587.0 284.1,586.4 283.2,585.5 282.4,584.6 281.1,583.3 281.9,581.9 282.7,580.6 283.9,579.9 285.4,579.2 286.8,579.9 287.7,581.0 288.7,581.9" fill="rgb(55,55,55)" stroke="rgb(70,70,70)" stroke-width="0.8" stroke-linejoin="round"/>
<path d="M282.7,579.1 A5.0,5.0 0 0 1 290.3,584.2" fill="none" stroke="rgb(170,170,170)" stroke-width="1.5" opacity="0.72" stroke-linecap="round"/>
<polygon points="314.3,582.6 313.3,583.9 312.7,585.0 311.6,585.7 310.3,586.4 309.1,585.7 308.2,584.8 307.4,583.8 306.9,582.6 307.3,581.4 308.0,580.3 309.0,579.5 310.3,579.2 311.5,579.7 312.5,580.4 313.6,581.2" fill="rgb(47,47,47)" stroke="rgb(62,62,62)" stroke-width="0.8" stroke-linejoin="round"/>
<path d="M308.6,578.2 A4.8,4.8 0 0 1 313.1,586.5" fill="none" stroke="rgb(199,199,199)" stroke-width="1.5" opacity="0.54" stroke-linecap="round"/>
<polygon points="337.0,583.0 336.2,584.2 335.2,585.0 334.4,586.0 333.2,586.4 332.0,586.0 331.0,585.2 330.6,584.1 329.8,583.0 330.3,581.8 331.0,580.7 332.0,580.1 333.2,579.6 334.5,579.8 335.6,580.6 336.1,581.8" fill="rgb(49,49,49)" stroke="rgb(64,64,64)" stroke-width="0.8" stroke-linejoin="round"/>
<path d="M328.6,582.0 A4.7,4.7 0 0 1 337.8,583.8" fill="none" stroke="rgb(168,168,168)" stroke-width="1.5" opacity="0.45" stroke-linecap="round"/>
<polygon points="359.6,583.2 359.1,584.5 358.2,585.4 357.7,587.3 356.0,586.8 354.9,586.1 353.7,585.6 352.5,584.7 352.2,583.2 352.8,581.9 353.7,580.9 354.4,579.2 356.0,579.5 357.5,579.6 358.8,580.5 359.8,581.7" fill="rgb(54,54,54)" stroke="rgb(69,69,69)" stroke-width="0.8" stroke-linejoin="round"/>
<path d="M351.7,580.4 A5.2,5.2 0 1 1 359.2,587.3" fill="none" stroke="rgb(193,193,193)" stroke-width="1.5" opacity="0.49" stroke-linecap="round"/>
<polygon points="382.5,583.3 382.1,584.6 381.5,585.9 380.4,586.8 378.9,587.0 377.6,586.5 376.4,585.8 375.9,584.6 375.1,583.3 375.6,581.9 376.4,580.8 377.6,580.1 378.9,579.8 380.1,580.3 381.5,580.7 382.2,582.0" fill="rgb(46,46,46)" stroke="rgb(61,61,61)" stroke-width="0.8" stroke-linejoin="round"/>
<path d="M376.6,587.8 A5.0,5.0 0 0 1 375.7,579.4" fill="none" stroke="rgb(168,168,168)" stroke-width="1.5" opacity="0.72" stroke-linecap="round"/>
<polygon points="405.9,583.5 405.5,584.9 404.7,585.9 403.6,586.5 402.3,587.0 401.1,586.6 400.5,585.4 399.4,584.7 398.9,583.5 399.2,582.2 400.3,581.5 401.0,580.3 402.3,580.0 403.6,580.4 404.8,581.1 405.4,582.3" fill="rgb(63,63,63)" stroke="rgb(78,78,78)" stroke-width="0.8" stroke-linejoin="round"/>
<path d="M399.7,579.6 A4.8,4.8 0 0 1 405.8,580.2" fill="none" stroke="rgb(190,190,190)" stroke-width="1.5" opacity="0.50" stroke-linecap="round"/>
<polygon points="430.0,583.8 429.6,585.2 428.7,586.2 427.7,587.2 426.3,587.3 425.1,586.9 423.9,586.3 423.2,585.1 422.6,583.8 423.4,582.6 424.2,581.7 425.0,580.6 426.3,580.4 427.6,580.8 428.7,581.5 429.4,582.5" fill="rgb(58,58,58)" stroke="rgb(73,73,73)" stroke-width="0.8" stroke-linejoin="round"/>
<path d="M422.0,581.9 A4.7,4.7 0 0 1 427.8,579.3" fill="none" stroke="rgb(171,171,171)" stroke-width="1.5" opacity="0.53" stroke-linecap="round"/>
<polygon points="453.0,582.8 452.7,584.0 451.6,584.6 451.0,585.8 449.8,585.8 448.5,585.7 447.8,584.8 446.7,584.0 446.7,582.8 447.1,581.7 447.4,580.5 448.7,580.1 449.8,579.4 451.0,579.8 451.7,580.9 452.8,581.5" fill="rgb(54,54,54)" stroke="rgb(69,69,69)" stroke-width="0.8" stroke-linejoin="round"/>
<polygon points="475.9,583.7 475.4,584.8 475.1,586.0 474.0,586.7 472.8,586.6 471.6,586.6 470.6,585.8 470.5,584.6 469.6,583.7 469.6,582.4 470.8,581.7 471.5,580.6 472.8,579.9 474.0,580.8 474.8,581.7 475.6,582.5" fill="rgb(63,63,63)" stroke="rgb(78,78,78)" stroke-width="0.8" stroke-linejoin="round"/>
<path d="M474.2,579.3 A4.6,4.6 0 0 1 473.4,588.2" fill="none" stroke="rgb(173,173,173)" stroke-width="1.5" opacity="0.68" stroke-linecap="round"/>
<circle cx="30.3" cy="604.1" r="6.7" fill="#262626" opacity="0.85"/>
<circle cx="31.0" cy="603.4" r="5.6" fill="url(#pb)"/>
<polygon points="57.1,604.8 57.1,606.3 55.8,607.2 54.7,607.9 53.5,608.2 52.3,607.7 51.0,607.3 50.2,606.2 49.4,604.8 50.5,603.6 51.0,602.4 52.3,602.0 53.5,601.0 54.8,601.6 55.8,602.5 56.5,603.6" fill="rgb(54,54,54)" stroke="rgb(69,69,69)" stroke-width="0.8" stroke-linejoin="round"/>
<path d="M49.0,602.9 A4.9,4.9 0 0 1 57.7,602.4" fill="none" stroke="rgb(197,197,197)" stroke-width="1.5" opacity="0.69" stroke-linecap="round"/>
<polygon points="80.7,605.1 80.1,606.6 78.9,607.5 77.9,608.2 76.6,609.2 75.2,608.4 74.0,607.7 73.2,606.5 72.5,605.1 73.0,603.7 74.1,602.6 75.2,601.7 76.6,601.2 78.1,601.5 79.1,602.6 79.7,603.9" fill="rgb(44,44,44)" stroke="rgb(59,59,59)" stroke-width="0.8" stroke-linejoin="round"/>
<path d="M80.3,601.7 A5.1,5.1 0 0 1 79.4,609.3" fill="none" stroke="rgb(171,171,171)" stroke-width="1.5" opacity="0.54" stroke-linecap="round"/>
<polygon points="104.1,605.4 103.0,606.6 102.4,607.9 101.6,609.3 100.0,609.1 98.5,608.8 97.4,607.9 96.7,606.7 96.5,605.4 96.7,604.0 97.6,603.1 98.4,601.6 100.0,601.6 101.1,602.5 102.5,602.8 103.4,604.0" fill="rgb(62,62,62)" stroke="rgb(77,77,77)" stroke-width="0.8" stroke-linejoin="round"/>
<path d="M99.5,600.3 A5.1,5.1 0 0 1 101.5,610.2" fill="none" stroke="rgb(186,186,186)" stroke-width="1.5" opacity="0.66" stroke-linecap="round"/>
<polygon points="126.0,605.8 125.8,607.1 124.8,607.9 124.1,609.1 122.7,609.2 121.5,608.9 120.5,608.0 120.1,606.9 119.8,605.8 119.7,604.6 120.4,603.4 121.5,602.8 122.7,602.5 124.0,602.7 124.9,603.7 125.9,604.5" fill="rgb(56,56,56)" stroke="rgb(71,71,71)" stroke-width="0.8" stroke-linejoin="round"/>
<path d="M120.4,601.8 A4.7,4.7 0 0 1 125.8,602.3" fill="none" stroke="rgb(167,167,167)" stroke-width="1.5" opacity="0.64" stroke-linecap="round"/>
<polygon points="150.0,605.3 149.8,606.6 148.9,607.7 147.7,608.1 146.5,609.4 145.1,608.7 144.0,607.8 143.4,606.6 142.8,605.3 143.1,603.8 144.0,602.8 145.2,602.1 146.5,601.2 147.9,602.0 149.2,602.6 149.9,603.9" fill="rgb(59,59,59)" stroke="rgb(74,74,74)" stroke-width="0.8" stroke-linejoin="round"/>
<polygon points="173.2,605.6 173.0,607.1 171.6,607.7 170.7,608.5 169.5,609.1 168.1,608.9 167.2,607.9 166.6,606.8 166.6,605.6 166.0,604.2 167.1,603.2 168.3,602.7 169.5,602.2 170.8,602.5 172.0,603.2 172.5,604.4" fill="rgb(60,60,60)" stroke="rgb(75,75,75)" stroke-width="0.8" stroke-linejoin="round"/>
<path d="M164.8,604.3 A4.8,4.8 0 0 1 171.9,601.4" fill="none" stroke="rgb(181,181,181)" stroke-width="1.5" opacity="0.62" stroke-linecap="round"/>
<polygon points="196.3,605.8 196.0,607.0 195.3,608.0 194.3,608.6 193.1,609.4 192.0,608.5 191.1,607.8 190.0,607.1 190.0,605.8 190.1,604.6 191.0,603.7 191.9,603.0 193.1,602.1 194.5,602.5 195.3,603.6 196.3,604.5" fill="rgb(51,51,51)" stroke="rgb(66,66,66)" stroke-width="0.8" stroke-linejoin="round"/>
<path d="M190.2,602.2 A4.6,4.6 0 0 1 196.9,603.2" fill="none" stroke="rgb(176,176,176)" stroke-width="1.5" opacity="0.48" stroke-linecap="round"/>
<polygon points="220.3,605.6 219.8,607.0 218.6,607.9 217.6,608.5 216.3,609.3 215.1,608.7 214.2,607.8 213.1,606.9 212.9,605.6 213.1,604.2 213.6,602.9 215.0,602.4 216.3,601.8 217.7,602.3 218.6,603.4 219.6,604.2" fill="rgb(50,50,50)" stroke="rgb(65,65,65)" stroke-width="0.8" stroke-linejoin="round"/>
<path d="M212.2,602.9 A5.0,5.0 0 0 1 220.8,603.3" fill="none" stroke="rgb(196,196,196)" stroke-width="1.5" opacity="0.51" stroke-linecap="round"/>
<circle cx="239.9" cy="604.2" r="6.7" fill="#262626" opacity="0.85"/>
<circle cx="240.6" cy="603.5" r="5.6" fill="url(#pb)"/>
<polygon points="267.2,606.6 266.5,607.9 265.8,609.0 264.6,609.7 263.3,610.2 262.0,609.7 261.3,608.6 260.4,607.8 260.1,606.6 259.9,605.1 260.9,604.2 261.9,603.1 263.3,603.4 264.5,603.7 265.6,604.3 266.4,605.3" fill="rgb(57,57,57)" stroke="rgb(72,72,72)" stroke-width="0.8" stroke-linejoin="round"/>
<path d="M258.7,608.3 A4.9,4.9 0 0 1 267.5,603.9" fill="none" stroke="rgb(167,167,167)" stroke-width="1.5" opacity="0.64" stroke-linecap="round"/>
<polygon points="289.0,605.8 289.3,607.0 288.4,607.8 287.7,608.9 286.4,609.1 285.2,608.6 284.6,607.6 283.5,606.9 283.1,605.8 283.7,604.6 284.2,603.6 285.1,602.8 286.4,602.6 287.6,602.9 288.7,603.4 289.3,604.5" fill="rgb(65,65,65)" stroke="rgb(80,80,80)" stroke-width="0.8" stroke-linejoin="round"/>
<polygon points="314.0,606.0 313.6,607.4 312.4,608.2 311.4,608.9 310.2,609.5 308.9,609.2 307.9,608.3 307.3,607.2 307.3,606.0 307.1,604.7 307.9,603.7 308.9,602.9 310.2,602.6 311.3,603.5 312.4,603.9 313.1,604.8" fill="rgb(62,62,62)" stroke="rgb(77,77,77)" stroke-width="0.8" stroke-linejoin="round"/>
<path d="M312.8,602.0 A4.8,4.8 0 0 1 314.5,608.2" fill="none" stroke="rgb(175,175,175)" stroke-width="1.5" opacity="0.83" stroke-linecap="round"/>
<polygon points="337.1,606.5 336.8,607.9 335.6,608.8 334.6,609.6 333.3,610.6 331.9,609.8 330.9,608.9 329.7,608.0 330.2,606.5 330.4,605.3 331.0,604.2 331.9,603.0 333.3,602.3 334.7,603.2 335.6,604.2 336.2,605.3" fill="rgb(52,52,52)" stroke="rgb(67,67,67)" stroke-width="0.8" stroke-linejoin="round"/>
<path d="M332.0,601.7 A4.9,4.9 0 0 1 338.2,606.3" fill="none" stroke="rgb(177,177,177)" stroke-width="1.5" opacity="0.75" stroke-linecap="round"/>
<polygon points="360.4,606.5 360.3,608.0 359.0,608.8 358.2,610.2 356.6,610.6 355.2,610.0 354.3,608.9 353.6,607.8 352.9,606.5 353.3,605.1 354.3,604.2 355.3,603.3 356.6,603.1 358.2,602.6 358.7,604.4 360.2,605.0" fill="rgb(51,51,51)" stroke="rgb(66,66,66)" stroke-width="0.8" stroke-linejoin="round"/>
<path d="M358.6,601.9 A5.0,5.0 0 0 1 356.0,611.5" fill="none" stroke="rgb(168,168,168)" stroke-width="1.5" opacity="0.76" stroke-linecap="round"/>
<polygon points="383.4,606.6 383.3,608.0 382.4,608.9 381.4,609.6 380.1,609.9 378.9,609.7 378.1,608.7 377.0,607.9 376.7,606.6 377.7,605.6 377.9,604.4 378.9,603.7 380.1,603.3 381.4,603.5 382.1,604.7 383.1,605.4" fill="rgb(63,63,63)" stroke="rgb(78,78,78)" stroke-width="0.8" stroke-linejoin="round"/>
<path d="M378.0,602.6 A4.6,4.6 0 0 1 384.5,608.1" fill="none" stroke="rgb(185,185,185)" stroke-width="1.5" opacity="0.75" stroke-linecap="round"/>
<polygon points="406.4,606.6 406.0,607.8 405.2,608.8 404.4,609.8 403.0,609.9 401.8,609.5 401.1,608.5 399.8,607.9 399.8,606.6 400.2,605.4 401.1,604.6 401.8,603.5 403.0,603.1 404.3,603.6 405.0,604.5 405.9,605.4" fill="rgb(65,65,65)" stroke="rgb(80,80,80)" stroke-width="0.8" stroke-linejoin="round"/>
<path d="M399.0,609.0 A4.7,4.7 0 1 1 407.5,604.9" fill="none" stroke="rgb(172,172,172)" stroke-width="1.5" opacity="0.60" stroke-linecap="round"/>
<polygon points="431.2,606.8 430.4,608.2 429.4,609.0 428.5,610.1 427.2,610.7 425.7,610.4 424.5,609.5 423.7,608.3 423.1,606.8 423.9,605.5 424.5,604.2 425.7,603.3 427.2,603.1 428.5,603.6 429.4,604.6 430.3,605.5" fill="rgb(53,53,53)" stroke="rgb(68,68,68)" stroke-width="0.8" stroke-linejoin="round"/>
<path d="M423.0,603.9 A5.1,5.1 0 0 1 432.2,606.5" fill="none" stroke="rgb(196,196,196)" stroke-width="1.5" opacity="0.63" stroke-linecap="round"/>
<polygon points="454.1,606.1 453.7,607.4 453.2,608.5 451.9,608.9 450.7,609.7 449.5,609.1 449.0,607.8 448.0,607.3 447.2,606.1 447.9,604.9 448.6,604.0 449.6,603.5 450.7,602.2 452.0,603.1 452.9,604.0 453.5,605.0" fill="rgb(44,44,44)" stroke="rgb(59,59,59)" stroke-width="0.8" stroke-linejoin="round"/>
<polygon points="477.0,607.1 476.5,608.2 476.2,609.5 475.2,610.8 473.7,611.2 472.3,610.6 471.4,609.4 470.5,608.4 469.6,607.1 470.8,605.9 471.4,604.7 472.4,603.9 473.7,602.9 475.2,603.4 476.1,604.7 477.4,605.6" fill="rgb(50,50,50)" stroke="rgb(65,65,65)" stroke-width="0.8" stroke-linejoin="round"/>
<polygon points="32.7,628.7 31.9,629.7 32.1,631.3 30.8,631.9 29.5,632.5 28.4,631.3 27.5,630.6 26.1,630.1 26.2,628.7 26.6,627.5 27.3,626.5 28.3,625.9 29.5,625.5 30.9,625.3 31.5,626.6 32.9,627.3" fill="rgb(58,58,58)" stroke="rgb(73,73,73)" stroke-width="0.8" stroke-linejoin="round"/>
<path d="M29.0,624.0 A4.7,4.7 0 1 1 28.1,633.2" fill="none" stroke="rgb(189,189,189)" stroke-width="1.5" opacity="0.58" stroke-linecap="round"/>
<polygon points="56.8,629.3 56.2,630.6 55.3,631.6 54.4,632.6 53.0,633.1 51.7,632.5 50.6,631.7 50.1,630.5 49.4,629.3 49.8,627.9 50.6,626.9 51.6,625.8 53.0,626.1 54.2,626.3 55.2,627.1 56.1,628.0" fill="rgb(53,53,53)" stroke="rgb(68,68,68)" stroke-width="0.8" stroke-linejoin="round"/>
<path d="M49.6,632.7 A4.9,4.9 0 1 1 56.5,625.9" fill="none" stroke="rgb(194,194,194)" stroke-width="1.5" opacity="0.69" stroke-linecap="round"/>
<polygon points="79.6,628.2 79.1,629.5 78.6,630.9 77.4,631.9 75.9,631.9 74.5,631.4 73.3,630.7 72.4,629.6 72.2,628.2 72.4,626.7 73.2,625.5 74.3,624.5 75.9,623.7 77.3,624.6 78.3,625.7 78.9,626.9" fill="rgb(54,54,54)" stroke="rgb(69,69,69)" stroke-width="0.8" stroke-linejoin="round"/>
<polygon points="103.3,628.9 102.2,630.0 101.6,631.1 100.7,632.1 99.3,632.5 98.2,631.6 97.3,630.9 96.5,630.1 95.7,628.9 96.3,627.6 97.2,626.8 98.1,625.8 99.3,625.3 100.4,626.2 101.4,626.8 102.4,627.6" fill="rgb(48,48,48)" stroke="rgb(63,63,63)" stroke-width="0.8" stroke-linejoin="round"/>
<polygon points="126.6,628.6 126.4,630.1 125.1,630.9 124.1,631.6 122.9,632.7 121.3,632.4 120.4,631.1 119.4,630.1 118.7,628.6 119.6,627.3 120.6,626.3 121.4,625.1 122.9,624.7 124.1,625.7 125.1,626.4 126.0,627.3" fill="rgb(58,58,58)" stroke="rgb(73,73,73)" stroke-width="0.8" stroke-linejoin="round"/>
<circle cx="146.9" cy="627.3" r="6.7" fill="#262626" opacity="0.85"/>
<circle cx="147.6" cy="626.6" r="5.6" fill="url(#pb)"/>
<polygon points="173.2,628.3 172.5,629.5 171.8,630.5 171.0,631.9 169.5,631.6 168.4,631.0 167.4,630.4 166.5,629.5 166.0,628.3 166.4,627.0 167.1,625.8 168.2,625.2 169.5,624.7 170.7,625.5 171.8,626.1 172.8,626.9" fill="rgb(62,62,62)" stroke="rgb(77,77,77)" stroke-width="0.8" stroke-linejoin="round"/>
<path d="M172.8,624.7 A4.8,4.8 0 0 1 168.0,632.8" fill="none" stroke="rgb(190,190,190)" stroke-width="1.5" opacity="0.79" stroke-linecap="round"/>
<polygon points="196.9,629.5 196.1,630.7 195.1,631.4 194.3,632.4 193.1,633.0 191.9,632.5 190.5,632.0 189.8,630.8 189.7,629.5 189.9,628.1 190.8,627.2 191.6,625.8 193.1,625.9 194.3,626.5 195.5,627.1 196.7,628.0" fill="rgb(67,67,67)" stroke="rgb(82,82,82)" stroke-width="0.8" stroke-linejoin="round"/>
<path d="M195.7,625.3 A4.9,4.9 0 0 1 193.9,634.3" fill="none" stroke="rgb(177,177,177)" stroke-width="1.5" opacity="0.47" stroke-linecap="round"/>
<polygon points="220.0,629.3 220.2,630.8 219.3,631.8 218.2,632.6 216.8,633.5 215.7,632.1 214.5,631.7 213.2,630.8 212.9,629.3 213.3,627.9 214.4,626.9 215.6,626.3 216.8,625.8 218.2,626.1 219.0,627.2 220.5,627.8" fill="rgb(46,46,46)" stroke="rgb(61,61,61)" stroke-width="0.8" stroke-linejoin="round"/>
<path d="M213.7,633.3 A5.1,5.1 0 0 1 216.2,624.3" fill="none" stroke="rgb(197,197,197)" stroke-width="1.5" opacity="0.75" stroke-linecap="round"/>
<polygon points="243.2,628.9 243.1,630.3 241.8,631.0 241.0,632.2 239.7,632.4 238.2,632.4 237.5,631.1 236.7,630.1 235.9,628.9 236.3,627.5 237.3,626.5 238.3,625.5 239.7,625.1 241.0,625.6 242.4,626.1 243.1,627.4" fill="rgb(54,54,54)" stroke="rgb(69,69,69)" stroke-width="0.8" stroke-linejoin="round"/>
<path d="M237.1,624.5 A5.1,5.1 0 0 1 244.2,626.6" fill="none" stroke="rgb(198,198,198)" stroke-width="1.5" opacity="0.60" stroke-linecap="round"/>
<polygon points="266.0,629.5 266.5,631.1 264.9,631.8 263.9,632.6 262.6,633.0 261.0,633.1 259.9,632.1 259.4,630.8 259.4,629.5 258.9,628.0 260.4,627.3 261.1,626.1 262.6,625.8 264.1,625.7 265.0,627.1 265.8,628.1" fill="rgb(48,48,48)" stroke="rgb(63,63,63)" stroke-width="0.8" stroke-linejoin="round"/>
<path d="M257.6,628.8 A5.0,5.0 0 0 1 267.2,627.8" fill="none" stroke="rgb(182,182,182)" stroke-width="1.5" opacity="0.50" stroke-linecap="round"/>
<polygon points="290.6,629.3 289.8,630.8 288.5,631.5 287.5,632.1 286.3,633.2 284.9,632.7 283.8,631.8 283.1,630.6 281.7,629.3 283.1,628.0 283.6,626.6 285.1,626.4 286.3,625.2 287.6,626.1 288.9,626.7 290.2,627.7" fill="rgb(66,66,66)" stroke="rgb(81,81,81)" stroke-width="0.8" stroke-linejoin="round"/>
<path d="M281.3,628.3 A5.1,5.1 0 0 1 291.4,629.5" fill="none" stroke="rgb(179,179,179)" stroke-width="1.5" opacity="0.75" stroke-linecap="round"/>
<polygon points="312.8,629.1 312.9,630.4 312.0,631.3 311.0,631.9 309.8,632.5 308.8,631.6 307.7,631.3 307.3,630.2 307.2,629.1 307.0,628.0 307.7,627.0 308.9,626.8 309.8,625.9 311.0,626.4 311.8,627.2 312.8,627.9" fill="rgb(67,67,67)" stroke="rgb(82,82,82)" stroke-width="0.8" stroke-linejoin="round"/>
<path d="M308.8,624.8 A4.5,4.5 0 0 1 314.3,628.8" fill="none" stroke="rgb(179,179,179)" stroke-width="1.5" opacity="0.80" stroke-linecap="round"/>
<polygon points="337.7,629.7 337.0,631.1 336.2,632.3 334.9,632.8 333.6,634.1 332.2,632.9 331.0,632.2 330.3,631.0 330.2,629.7 330.4,628.4 331.2,627.3 332.3,626.6 333.6,625.1 334.9,626.6 336.0,627.2 336.9,628.3" fill="rgb(54,54,54)" stroke="rgb(69,69,69)" stroke-width="0.8" stroke-linejoin="round"/>
<path d="M329.3,632.3 A5.0,5.0 0 0 1 333.5,624.7" fill="none" stroke="rgb(189,189,189)" stroke-width="1.5" opacity="0.47" stroke-linecap="round"/>
<polygon points="359.8,629.6 359.4,630.8 358.8,631.7 358.0,632.7 356.7,632.9 355.6,632.2 354.2,632.1 354.0,630.7 353.4,629.6 353.8,628.5 354.8,627.8 355.4,626.5 356.7,625.9 358.0,626.4 358.9,627.4 360.2,628.2" fill="rgb(59,59,59)" stroke="rgb(74,74,74)" stroke-width="0.8" stroke-linejoin="round"/>
<polygon points="383.7,629.5 383.0,630.8 382.3,631.9 381.3,632.8 379.9,633.3 378.5,633.0 377.6,631.9 376.4,631.0 375.7,629.5 376.7,628.2 377.7,627.3 378.5,626.2 379.9,625.3 381.0,626.8 382.3,627.2 383.7,627.9" fill="rgb(68,68,68)" stroke="rgb(83,83,83)" stroke-width="0.8" stroke-linejoin="round"/>
<path d="M374.9,629.2 A5.0,5.0 0 0 1 383.8,626.3" fill="none" stroke="rgb(170,170,170)" stroke-width="1.5" opacity="0.82" stroke-linecap="round"/>
<polygon points="406.6,629.8 405.9,631.0 405.0,632.0 404.1,632.9 402.8,633.3 401.4,633.1 400.3,632.2 399.4,631.2 399.0,629.8 399.6,628.4 400.5,627.5 401.7,627.1 402.8,626.2 404.3,626.2 405.2,627.4 405.7,628.6" fill="rgb(68,68,68)" stroke="rgb(83,83,83)" stroke-width="0.8" stroke-linejoin="round"/>
<polygon points="429.8,629.8 429.8,631.2 428.6,632.0 427.9,633.3 426.5,633.1 425.1,633.1 424.0,632.3 422.9,631.3 422.9,629.8 423.3,628.5 423.6,627.0 425.0,626.3 426.5,626.5 427.8,626.6 428.7,627.6 429.8,628.5" fill="rgb(46,46,46)" stroke="rgb(61,61,61)" stroke-width="0.8" stroke-linejoin="round"/>
<path d="M423.3,625.8 A5.1,5.1 0 0 1 429.7,625.9" fill="none" stroke="rgb(175,175,175)" stroke-width="1.5" opacity="0.64" stroke-linecap="round"/>
<polygon points="453.0,630.3 452.3,631.5 451.8,632.8 450.7,633.7 449.3,633.8 447.8,633.8 446.7,632.9 445.8,631.7 445.5,630.3 446.1,628.9 447.2,628.1 448.0,627.0 449.3,626.5 450.6,627.1 452.1,627.5 452.6,628.9" fill="rgb(50,50,50)" stroke="rgb(65,65,65)" stroke-width="0.8" stroke-linejoin="round"/>
<path d="M445.8,626.7 A5.0,5.0 0 0 1 453.4,627.3" fill="none" stroke="rgb(180,180,180)" stroke-width="1.5" opacity="0.64" stroke-linecap="round"/>
<polygon points="477.6,630.2 476.6,631.4 475.9,632.3 474.9,633.1 473.7,633.3 472.6,632.8 471.9,632.0 470.7,631.4 470.4,630.2 470.6,628.9 471.6,628.1 472.7,627.6 473.7,626.8 475.0,627.1 475.8,628.1 476.6,629.0" fill="rgb(56,56,56)" stroke="rgb(71,71,71)" stroke-width="0.8" stroke-linejoin="round"/>
<path d="M469.5,628.4 A4.6,4.6 0 1 1 477.9,632.0" fill="none" stroke="rgb(174,174,174)" stroke-width="1.5" opacity="0.46" stroke-linecap="round"/>
<polygon points="32.8,651.1 32.2,652.4 31.4,653.4 30.3,654.0 29.1,654.0 27.9,654.0 27.1,653.1 26.1,652.4 25.9,651.1 26.5,650.1 27.3,649.4 27.9,648.2 29.1,647.8 30.3,648.3 31.3,648.9 31.6,650.1" fill="rgb(63,63,63)" stroke="rgb(78,78,78)" stroke-width="0.8" stroke-linejoin="round"/>
<path d="M29.2,646.6 A4.5,4.5 0 0 1 33.3,649.5" fill="none" stroke="rgb(195,195,195)" stroke-width="1.5" opacity="0.46" stroke-linecap="round"/>
<polygon points="56.6,651.8 55.5,652.9 54.9,654.0 53.9,654.7 52.8,655.4 51.7,654.4 50.6,653.9 50.2,652.9 49.4,651.8 50.0,650.6 50.6,649.6 51.5,648.7 52.8,648.2 54.0,648.8 55.0,649.6 55.6,650.6" fill="rgb(65,65,65)" stroke="rgb(80,80,80)" stroke-width="0.8" stroke-linejoin="round"/>
<path d="M50.5,647.7 A4.6,4.6 0 1 1 53.2,656.4" fill="none" stroke="rgb(166,166,166)" stroke-width="1.5" opacity="0.62" stroke-linecap="round"/>
<circle cx="76.1" cy="650.4" r="6.7" fill="#262626" opacity="0.85"/>
<circle cx="76.8" cy="649.7" r="5.6" fill="url(#pb)"/>
<polygon points="103.0,651.3 101.9,652.5 101.3,653.5 100.5,654.7 99.1,654.9 97.9,654.3 96.7,653.8 95.7,652.7 95.5,651.3 95.9,650.0 96.8,649.0 97.8,648.2 99.1,647.6 100.4,648.3 101.1,649.3 102.2,650.0" fill="rgb(48,48,48)" stroke="rgb(63,63,63)" stroke-width="0.8" stroke-linejoin="round"/>
<path d="M95.6,647.9 A4.9,4.9 0 0 1 103.1,654.3" fill="none" stroke="rgb(185,185,185)" stroke-width="1.5" opacity="0.64" stroke-linecap="round"/>
<circle cx="122.5" cy="650.2" r="6.7" fill="#262626" opacity="0.85"/>
<circle cx="123.2" cy="649.5" r="5.6" fill="url(#pb)"/>
<polygon points="149.0,651.4 148.6,652.7 147.4,653.5 146.7,654.8 145.3,654.6 143.8,655.0 142.9,653.8 142.5,652.5 141.4,651.4 142.4,650.2 142.9,648.9 143.8,647.6 145.3,647.5 146.4,648.6 147.7,649.0 148.5,650.0" fill="rgb(64,64,64)" stroke="rgb(79,79,79)" stroke-width="0.8" stroke-linejoin="round"/>
<path d="M140.8,649.3 A4.9,4.9 0 0 1 150.0,649.8" fill="none" stroke="rgb(199,199,199)" stroke-width="1.5" opacity="0.67" stroke-linecap="round"/>
<polygon points="173.2,651.7 172.6,652.9 172.0,654.0 170.8,654.7 169.6,655.1 168.3,654.8 167.1,654.1 166.6,652.9 165.7,651.7 166.2,650.2 167.1,649.1 168.2,648.3 169.6,647.9 170.9,648.5 172.1,649.1 172.4,650.5" fill="rgb(49,49,49)" stroke="rgb(64,64,64)" stroke-width="0.8" stroke-linejoin="round"/>
<path d="M170.6,646.8 A5.0,5.0 0 0 1 171.3,656.3" fill="none" stroke="rgb(166,166,166)" stroke-width="1.5" opacity="0.65" stroke-linecap="round"/>
<polygon points="195.9,651.7 195.9,653.1 195.0,654.1 193.7,654.3 192.7,654.8 191.5,654.6 190.6,653.8 190.0,652.9 189.4,651.7 189.6,650.5 190.4,649.4 191.6,649.2 192.7,648.3 193.9,648.8 194.6,649.8 195.4,650.6" fill="rgb(59,59,59)" stroke="rgb(74,74,74)" stroke-width="0.8" stroke-linejoin="round"/>
<path d="M189.6,648.4 A4.5,4.5 0 0 1 196.9,653.3" fill="none" stroke="rgb(185,185,185)" stroke-width="1.5" opacity="0.62" stroke-linecap="round"/>
<polygon points="220.1,652.0 219.1,653.3 218.3,654.3 217.4,655.5 216.0,656.0 214.6,655.1 213.4,654.5 212.7,653.3 211.9,652.0 212.5,650.5 213.5,649.5 214.6,648.7 216.0,647.8 217.4,648.4 218.5,649.5 219.3,650.6" fill="rgb(53,53,53)" stroke="rgb(68,68,68)" stroke-width="0.8" stroke-linejoin="round"/>
<path d="M210.9,651.1 A5.1,5.1 0 0 1 220.7,650.2" fill="none" stroke="rgb(196,196,196)" stroke-width="1.5" opacity="0.66" stroke-linecap="round"/>
<polygon points="243.4,652.8 243.0,654.3 242.1,655.5 240.8,656.2 239.4,657.1 238.0,656.2 236.6,655.6 236.2,654.1 235.6,652.8 235.6,651.2 237.2,650.6 237.9,649.3 239.4,648.6 240.7,649.7 241.8,650.4 242.9,651.3" fill="rgb(65,65,65)" stroke="rgb(80,80,80)" stroke-width="0.8" stroke-linejoin="round"/>
<path d="M234.7,655.0 A5.2,5.2 0 0 1 242.1,648.4" fill="none" stroke="rgb(196,196,196)" stroke-width="1.5" opacity="0.63" stroke-linecap="round"/>
<circle cx="263.6" cy="651.2" r="6.7" fill="#262626" opacity="0.85"/>
<circle cx="264.3" cy="650.5" r="5.6" fill="url(#pb)"/>
<polygon points="289.2,652.9 288.5,654.0 287.9,655.1 287.0,656.1 285.7,656.3 284.4,655.8 283.4,655.1 282.5,654.2 282.2,652.9 282.5,651.6 283.2,650.4 284.5,650.0 285.7,649.4 286.9,649.8 288.2,650.4 288.8,651.6" fill="rgb(64,64,64)" stroke="rgb(79,79,79)" stroke-width="0.8" stroke-linejoin="round"/>
<polygon points="313.1,652.5 312.3,653.6 311.8,654.6 310.9,655.6 309.6,656.2 308.5,655.2 307.6,654.5 306.5,653.8 306.5,652.5 306.4,651.2 307.3,650.2 308.2,649.1 309.6,649.3 310.9,649.3 311.8,650.4 312.6,651.3" fill="rgb(61,61,61)" stroke="rgb(76,76,76)" stroke-width="0.8" stroke-linejoin="round"/>
<path d="M309.6,647.8 A4.7,4.7 0 0 1 314.3,652.0" fill="none" stroke="rgb(185,185,185)" stroke-width="1.5" opacity="0.77" stroke-linecap="round"/>
<polygon points="336.8,652.5 336.0,653.8 335.4,655.1 334.2,656.0 332.8,656.4 331.4,655.9 330.3,655.0 329.5,653.8 329.0,652.5 329.1,651.0 330.4,650.1 331.3,648.9 332.8,648.4 334.2,649.0 335.4,649.9 336.2,651.1" fill="rgb(44,44,44)" stroke="rgb(59,59,59)" stroke-width="0.8" stroke-linejoin="round"/>
<path d="M328.6,655.4 A5.1,5.1 0 0 1 335.5,648.1" fill="none" stroke="rgb(185,185,185)" stroke-width="1.5" opacity="0.45" stroke-linecap="round"/>
<polygon points="359.1,652.9 358.6,654.0 358.1,655.0 357.1,655.6 356.0,656.3 354.8,655.8 354.0,654.9 353.2,654.0 352.7,652.9 353.0,651.6 353.8,650.7 354.8,650.1 356.0,649.6 357.0,650.3 358.0,650.8 358.7,651.8" fill="rgb(44,44,44)" stroke="rgb(59,59,59)" stroke-width="0.8" stroke-linejoin="round"/>
<polygon points="383.1,652.8 381.9,653.9 381.4,654.9 380.5,655.7 379.3,656.5 378.1,655.7 376.8,655.2 375.8,654.2 376.2,652.8 376.0,651.4 376.9,650.4 377.9,649.5 379.3,649.0 380.5,649.8 381.5,650.6 382.3,651.6" fill="rgb(51,51,51)" stroke="rgb(66,66,66)" stroke-width="0.8" stroke-linejoin="round"/>
<path d="M376.4,648.9 A4.8,4.8 0 1 1 381.4,657.1" fill="none" stroke="rgb(196,196,196)" stroke-width="1.5" opacity="0.45" stroke-linecap="round"/>
<polygon points="406.4,652.9 405.4,654.3 404.7,655.4 403.7,656.6 402.2,657.1 400.7,656.4 399.8,655.3 398.6,654.4 398.2,652.9 398.5,651.4 399.3,650.1 400.8,649.7 402.2,648.8 403.6,649.5 404.9,650.1 405.2,651.6" fill="rgb(62,62,62)" stroke="rgb(77,77,77)" stroke-width="0.8" stroke-linejoin="round"/>
<path d="M403.2,647.8 A5.2,5.2 0 0 1 407.1,654.5" fill="none" stroke="rgb(170,170,170)" stroke-width="1.5" opacity="0.65" stroke-linecap="round"/>
<polygon points="430.2,653.0 429.4,654.3 428.7,655.5 427.7,656.5 426.3,656.7 424.9,656.3 424.1,655.2 423.0,654.4 422.2,653.0 422.8,651.6 423.3,650.0 425.0,649.9 426.3,649.1 427.6,649.8 428.5,650.7 429.5,651.7" fill="rgb(62,62,62)" stroke="rgb(77,77,77)" stroke-width="0.8" stroke-linejoin="round"/>
<path d="M421.9,650.5 A5.0,5.0 0 0 1 431.0,654.7" fill="none" stroke="rgb(197,197,197)" stroke-width="1.5" opacity="0.80" stroke-linecap="round"/>
<polygon points="453.8,653.7 452.8,654.9 452.5,656.2 451.2,656.7 450.0,657.5 448.5,657.1 447.6,656.0 447.2,654.8 446.8,653.7 446.6,652.3 447.8,651.5 448.8,650.9 450.0,650.2 451.3,650.5 452.5,651.1 452.8,652.5" fill="rgb(64,64,64)" stroke="rgb(79,79,79)" stroke-width="0.8" stroke-linejoin="round"/>
<path d="M446.9,649.9 A4.9,4.9 0 0 1 454.6,652.1" fill="none" stroke="rgb(190,190,190)" stroke-width="1.5" opacity="0.60" stroke-linecap="round"/>
<polygon points="476.3,653.3 476.0,654.7 475.0,655.6 473.9,656.1 472.8,656.6 471.6,656.2 470.6,655.5 470.1,654.4 469.7,653.3 469.7,652.1 470.5,651.1 471.5,650.2 472.8,650.1 474.0,650.3 475.0,651.1 475.7,652.1" fill="rgb(56,56,56)" stroke="rgb(71,71,71)" stroke-width="0.8" stroke-linejoin="round"/>
<polygon points="32.3,674.4 32.0,675.7 31.3,676.8 30.4,677.8 29.0,678.0 27.8,677.3 26.8,676.6 25.5,675.9 25.5,674.4 26.1,673.3 26.4,671.9 27.5,671.0 29.0,671.0 30.2,671.4 31.2,672.3 32.2,673.1" fill="rgb(54,54,54)" stroke="rgb(69,69,69)" stroke-width="0.8" stroke-linejoin="round"/>
<path d="M24.8,671.8 A4.9,4.9 0 0 1 30.2,669.7" fill="none" stroke="rgb(179,179,179)" stroke-width="1.5" opacity="0.70" stroke-linecap="round"/>
<polygon points="56.1,675.2 55.3,676.5 54.9,678.0 53.5,678.6 52.1,678.4 50.9,678.1 49.6,677.6 48.3,676.8 48.0,675.2 49.0,673.9 49.8,672.9 50.9,672.2 52.1,671.2 53.3,672.4 54.6,672.6 55.6,673.7" fill="rgb(65,65,65)" stroke="rgb(80,80,80)" stroke-width="0.8" stroke-linejoin="round"/>
<polygon points="79.4,675.6 79.0,676.8 78.4,677.9 77.6,679.2 76.1,678.9 75.0,678.4 74.0,677.7 72.9,676.9 72.6,675.6 73.4,674.5 73.9,673.4 74.8,672.4 76.1,672.2 77.4,672.6 78.2,673.5 79.1,674.3" fill="rgb(52,52,52)" stroke="rgb(67,67,67)" stroke-width="0.8" stroke-linejoin="round"/>
<path d="M73.4,671.6 A4.8,4.8 0 0 1 80.5,677.6" fill="none" stroke="rgb(196,196,196)" stroke-width="1.5" opacity="0.77" stroke-linecap="round"/>
<polygon points="103.8,675.2 103.3,676.6 102.1,677.5 100.9,678.0 99.8,678.9 98.4,678.6 97.4,677.6 96.6,676.5 96.3,675.2 96.6,673.9 97.5,672.9 98.6,672.2 99.8,671.1 101.1,672.1 102.1,672.9 103.3,673.8" fill="rgb(48,48,48)" stroke="rgb(63,63,63)" stroke-width="0.8" stroke-linejoin="round"/>
<path d="M95.1,673.7 A4.9,4.9 0 0 1 102.1,670.8" fill="none" stroke="rgb(194,194,194)" stroke-width="1.5" opacity="0.72" stroke-linecap="round"/>
<polygon points="125.3,675.1 125.3,676.3 124.4,677.2 123.6,678.2 122.3,678.5 121.1,677.8 120.3,677.1 119.1,676.4 118.7,675.1 119.2,673.8 120.1,672.9 121.2,672.4 122.3,671.7 123.5,672.1 124.5,672.8 125.4,673.8" fill="rgb(58,58,58)" stroke="rgb(73,73,73)" stroke-width="0.8" stroke-linejoin="round"/>
<path d="M122.2,670.4 A4.7,4.7 0 0 1 126.9,675.2" fill="none" stroke="rgb(191,191,191)" stroke-width="1.5" opacity="0.67" stroke-linecap="round"/>
<polygon points="149.6,675.4 148.9,676.6 148.3,677.7 147.3,678.5 146.0,678.4 144.6,678.8 144.1,677.4 142.7,676.8 142.4,675.4 143.3,674.3 143.8,673.2 144.8,672.6 146.0,671.8 147.1,672.8 148.1,673.3 148.4,674.4" fill="rgb(65,65,65)" stroke="rgb(80,80,80)" stroke-width="0.8" stroke-linejoin="round"/>
<path d="M141.6,674.1 A4.6,4.6 0 0 1 150.5,676.6" fill="none" stroke="rgb(176,176,176)" stroke-width="1.5" opacity="0.61" stroke-linecap="round"/>
<polygon points="172.8,675.2 171.9,676.4 171.2,677.4 170.3,678.4 168.9,679.0 167.8,677.9 166.7,677.4 166.1,676.4 165.3,675.2 165.9,673.9 167.0,673.2 167.8,672.3 168.9,671.8 170.3,672.0 170.9,673.2 172.2,673.8" fill="rgb(59,59,59)" stroke="rgb(74,74,74)" stroke-width="0.8" stroke-linejoin="round"/>
<path d="M165.5,678.6 A4.8,4.8 0 0 1 171.7,671.2" fill="none" stroke="rgb(180,180,180)" stroke-width="1.5" opacity="0.61" stroke-linecap="round"/>
<polygon points="195.8,676.0 195.3,677.2 194.5,678.3 193.6,679.1 192.3,679.5 190.9,679.3 189.9,678.3 189.1,677.3 188.8,676.0 188.7,674.5 189.9,673.6 190.9,672.7 192.3,672.5 193.5,672.9 194.6,673.7 195.3,674.7" fill="rgb(47,47,47)" stroke="rgb(62,62,62)" stroke-width="0.8" stroke-linejoin="round"/>
<path d="M193.7,680.6 A4.9,4.9 0 0 1 188.1,673.4" fill="none" stroke="rgb(185,185,185)" stroke-width="1.5" opacity="0.69" stroke-linecap="round"/>
<polygon points="219.5,675.3 219.1,676.4 218.4,677.3 217.5,678.0 216.4,678.1 215.3,678.1 214.4,677.3 213.5,676.5 213.1,675.3 213.8,674.2 214.2,673.1 215.2,672.3 216.4,671.5 217.7,672.2 218.7,673.0 219.6,674.0" fill="rgb(65,65,65)" stroke="rgb(80,80,80)" stroke-width="0.8" stroke-linejoin="round"/>
<polygon points="243.9,676.2 243.0,677.5 242.1,678.4 241.1,679.1 239.9,679.6 238.6,679.2 237.6,678.4 236.5,677.6 236.4,676.2 237.1,675.0 237.5,673.8 238.3,672.4 239.9,673.3 241.1,673.2 242.3,673.8 242.9,674.9" fill="rgb(46,46,46)" stroke="rgb(61,61,61)" stroke-width="0.8" stroke-linejoin="round"/>
<circle cx="263.0" cy="674.4" r="6.7" fill="#262626" opacity="0.85"/>
<circle cx="263.7" cy="673.7" r="5.6" fill="url(#pb)"/>
<polygon points="289.2,675.1 288.4,676.3 287.5,677.0 286.7,677.8 285.6,678.3 284.4,678.0 283.5,677.2 282.8,676.2 282.1,675.1 282.7,673.9 283.6,673.1 284.5,672.5 285.6,671.7 286.7,672.4 287.7,672.9 288.2,674.0" fill="rgb(54,54,54)" stroke="rgb(69,69,69)" stroke-width="0.8" stroke-linejoin="round"/>
<path d="M281.9,672.4 A4.5,4.5 0 0 1 289.9,676.6" fill="none" stroke="rgb(192,192,192)" stroke-width="1.5" opacity="0.46" stroke-linecap="round"/>
<polygon points="312.7,675.7 312.0,677.0 311.3,678.0 310.4,679.1 309.0,680.0 307.8,678.6 306.6,678.1 305.5,677.2 305.3,675.7 305.9,674.5 306.1,672.9 307.6,672.4 309.0,672.2 310.1,673.0 311.2,673.5 312.1,674.4" fill="rgb(62,62,62)" stroke="rgb(77,77,77)" stroke-width="0.8" stroke-linejoin="round"/>
<path d="M305.4,672.3 A5.0,5.0 0 0 1 314.0,675.8" fill="none" stroke="rgb(180,180,180)" stroke-width="1.5" opacity="0.69" stroke-linecap="round"/>
<polygon points="336.0,676.2 335.6,677.5 334.9,678.6 333.9,679.4 332.5,680.0 331.2,679.6 330.2,678.5 329.2,677.6 328.7,676.2 329.6,675.0 330.3,674.0 331.4,673.5 332.5,672.7 333.6,673.6 334.7,674.1 335.8,674.8" fill="rgb(54,54,54)" stroke="rgb(69,69,69)" stroke-width="0.8" stroke-linejoin="round"/>
<path d="M328.1,678.3 A4.9,4.9 0 1 1 337.4,676.0" fill="none" stroke="rgb(181,181,181)" stroke-width="1.5" opacity="0.77" stroke-linecap="round"/>
<polygon points="360.6,675.9 360.3,677.4 359.2,678.3 358.1,679.1 356.8,679.1 355.3,679.5 354.1,678.6 353.8,677.2 353.3,675.9 353.4,674.6 354.4,673.6 355.6,673.1 356.8,672.6 358.2,672.5 359.4,673.3 359.8,674.7" fill="rgb(49,49,49)" stroke="rgb(64,64,64)" stroke-width="0.8" stroke-linejoin="round"/>
<path d="M354.7,671.4 A5.0,5.0 0 1 1 358.7,680.6" fill="none" stroke="rgb(189,189,189)" stroke-width="1.5" opacity="0.60" stroke-linecap="round"/>
<polygon points="383.3,676.0 382.5,677.4 382.0,678.8 380.6,679.5 379.2,679.8 377.8,679.3 376.7,678.5 375.5,677.5 375.3,676.0 375.6,674.5 376.6,673.4 377.9,672.9 379.2,671.9 380.5,672.8 381.6,673.6 382.5,674.6" fill="rgb(46,46,46)" stroke="rgb(61,61,61)" stroke-width="0.8" stroke-linejoin="round"/>
<path d="M375.0,672.9 A5.2,5.2 0 0 1 381.5,671.4" fill="none" stroke="rgb(175,175,175)" stroke-width="1.5" opacity="0.64" stroke-linecap="round"/>
<polygon points="406.2,675.7 405.9,677.0 405.0,677.9 404.2,679.0 402.8,678.9 401.7,678.5 400.5,678.0 399.8,677.0 399.4,675.7 400.1,674.6 400.4,673.3 401.2,671.8 402.8,672.4 404.1,672.7 405.1,673.4 406.1,674.3" fill="rgb(47,47,47)" stroke="rgb(62,62,62)" stroke-width="0.8" stroke-linejoin="round"/>
<polygon points="430.0,676.1 429.3,677.3 428.8,678.4 427.7,678.9 426.5,679.6 425.0,679.6 424.2,678.3 423.6,677.3 422.9,676.1 423.5,674.8 424.2,673.8 425.1,672.7 426.5,672.2 427.8,672.9 428.8,673.8 429.7,674.7" fill="rgb(47,47,47)" stroke="rgb(62,62,62)" stroke-width="0.8" stroke-linejoin="round"/>
<polygon points="452.5,676.1 452.6,677.4 451.4,678.1 450.5,678.7 449.4,679.7 448.1,679.2 447.3,678.1 446.7,677.2 445.9,676.1 446.5,674.9 447.1,673.8 448.1,673.1 449.4,672.8 450.3,673.7 451.5,673.9 452.2,674.9" fill="rgb(62,62,62)" stroke="rgb(77,77,77)" stroke-width="0.8" stroke-linejoin="round"/>
<polygon points="475.8,676.4 475.4,677.6 474.7,678.6 473.6,679.1 472.5,679.5 471.2,679.5 470.4,678.5 469.6,677.6 468.9,676.4 469.4,675.1 470.5,674.5 471.4,673.8 472.5,673.5 473.7,673.6 474.5,674.4 475.4,675.2" fill="rgb(60,60,60)" stroke="rgb(75,75,75)" stroke-width="0.8" stroke-linejoin="round"/>
<path d="M470.7,672.2 A4.6,4.6 0 1 1 472.5,681.0" fill="none" stroke="rgb(168,168,168)" stroke-width="1.5" opacity="0.48" stroke-linecap="round"/>
<polygon points="32.3,698.4 32.2,699.6 31.5,700.7 30.2,701.0 29.1,702.3 27.7,701.8 27.1,700.4 26.4,699.5 25.9,698.4 26.1,697.1 27.1,696.3 27.8,695.1 29.1,695.0 30.3,695.4 31.4,696.1 31.9,697.2" fill="rgb(45,45,45)" stroke="rgb(60,60,60)" stroke-width="0.8" stroke-linejoin="round"/>
<polygon points="55.9,698.1 55.5,699.3 54.5,700.1 53.8,701.3 52.5,701.8 51.3,701.0 50.3,700.3 49.8,699.2 48.8,698.1 49.7,696.9 50.1,695.7 51.3,695.3 52.5,694.1 53.7,695.1 54.6,696.0 55.6,696.7" fill="rgb(65,65,65)" stroke="rgb(80,80,80)" stroke-width="0.8" stroke-linejoin="round"/>
<polygon points="79.9,698.8 79.0,699.8 78.6,700.9 77.6,701.5 76.5,702.3 75.2,701.9 74.6,700.7 74.0,699.8 73.2,698.8 73.7,697.6 74.3,696.6 75.4,696.1 76.5,695.2 77.9,695.6 78.4,696.9 79.1,697.7" fill="rgb(58,58,58)" stroke="rgb(73,73,73)" stroke-width="0.8" stroke-linejoin="round"/>
<path d="M72.6,696.5 A4.5,4.5 0 0 1 80.7,697.1" fill="none" stroke="rgb(187,187,187)" stroke-width="1.5" opacity="0.52" stroke-linecap="round"/>
<polygon points="102.3,698.4 101.9,699.7 101.2,700.9 100.0,701.6 98.6,702.1 97.3,701.7 96.0,701.0 95.4,699.7 94.9,698.4 95.3,697.0 96.1,695.9 97.1,694.7 98.6,695.0 99.9,695.3 101.6,695.5 102.5,696.8" fill="rgb(45,45,45)" stroke="rgb(60,60,60)" stroke-width="0.8" stroke-linejoin="round"/>
<path d="M96.4,693.7 A5.1,5.1 0 0 1 101.5,702.7" fill="none" stroke="rgb(182,182,182)" stroke-width="1.5" opacity="0.58" stroke-linecap="round"/>
<polygon points="126.3,697.7 126.2,699.2 125.3,700.5 123.8,700.8 122.5,702.2 121.0,701.2 119.9,700.2 118.9,699.2 119.2,697.7 119.1,696.3 119.7,694.9 121.1,694.4 122.5,693.4 123.8,694.5 124.8,695.4 126.0,696.2" fill="rgb(45,45,45)" stroke="rgb(60,60,60)" stroke-width="0.8" stroke-linejoin="round"/>
<path d="M117.5,696.6 A5.1,5.1 0 0 1 124.1,692.8" fill="none" stroke="rgb(188,188,188)" stroke-width="1.5" opacity="0.52" stroke-linecap="round"/>
<polygon points="149.1,698.4 148.5,699.5 147.9,700.4 147.1,701.4 145.9,701.7 144.8,701.2 144.0,700.4 143.1,699.6 142.7,698.4 143.3,697.3 143.7,696.3 144.6,695.2 145.9,695.0 147.0,695.9 147.9,696.4 148.9,697.2" fill="rgb(64,64,64)" stroke="rgb(79,79,79)" stroke-width="0.8" stroke-linejoin="round"/>
<path d="M142.9,695.0 A4.5,4.5 0 0 1 150.0,696.6" fill="none" stroke="rgb(189,189,189)" stroke-width="1.5" opacity="0.71" stroke-linecap="round"/>
<polygon points="173.1,698.7 172.1,700.0 171.5,701.1 170.4,702.1 169.0,702.4 167.7,701.9 166.5,701.2 165.8,700.0 165.8,698.7 166.0,697.4 166.7,696.4 167.7,695.5 169.0,694.7 170.2,695.9 171.5,696.2 172.0,697.5" fill="rgb(65,65,65)" stroke="rgb(80,80,80)" stroke-width="0.8" stroke-linejoin="round"/>
<path d="M167.2,694.1 A5.0,5.0 0 1 1 169.2,703.7" fill="none" stroke="rgb(169,169,169)" stroke-width="1.5" opacity="0.68" stroke-linecap="round"/>
<polygon points="196.0,698.4 195.7,699.7 195.0,700.9 193.5,700.9 192.5,701.9 191.2,701.7 190.0,700.9 188.9,699.9 189.0,698.4 189.7,697.3 190.1,696.1 191.1,695.1 192.5,695.0 193.7,695.5 194.7,696.3 195.9,697.0" fill="rgb(62,62,62)" stroke="rgb(77,77,77)" stroke-width="0.8" stroke-linejoin="round"/>
<path d="M189.1,694.8 A5.0,5.0 0 1 1 195.4,702.5" fill="none" stroke="rgb(174,174,174)" stroke-width="1.5" opacity="0.71" stroke-linecap="round"/>
<polygon points="219.3,698.2 219.1,699.5 218.2,700.4 217.1,700.8 216.0,701.7 214.6,701.5 214.1,700.0 213.0,699.4 213.2,698.2 212.9,696.9 213.6,695.8 214.9,695.5 216.0,695.0 217.2,695.2 217.6,696.5 219.2,696.9" fill="rgb(67,67,67)" stroke="rgb(82,82,82)" stroke-width="0.8" stroke-linejoin="round"/>
<polygon points="242.4,699.3 241.6,700.6 240.6,701.4 239.7,702.4 238.4,702.6 237.0,702.6 236.1,701.6 235.0,700.7 235.1,699.3 235.3,698.0 235.8,696.6 237.2,696.2 238.4,695.6 239.7,696.3 240.6,697.1 241.6,697.9" fill="rgb(51,51,51)" stroke="rgb(66,66,66)" stroke-width="0.8" stroke-linejoin="round"/>
<path d="M233.5,699.5 A4.9,4.9 0 1 1 243.3,699.2" fill="none" stroke="rgb(166,166,166)" stroke-width="1.5" opacity="0.55" stroke-linecap="round"/>
<polygon points="266.4,699.0 265.9,700.3 265.3,701.5 264.3,702.5 262.8,702.5 261.5,702.2 260.5,701.3 259.9,700.2 259.4,699.0 259.7,697.7 260.5,696.6 261.4,695.7 262.8,695.6 264.1,696.0 264.8,697.0 266.2,697.6" fill="rgb(68,68,68)" stroke="rgb(83,83,83)" stroke-width="0.8" stroke-linejoin="round"/>
<path d="M260.4,694.7 A4.9,4.9 0 0 1 267.7,698.4" fill="none" stroke="rgb(186,186,186)" stroke-width="1.5" opacity="0.61" stroke-linecap="round"/>
<polygon points="289.6,699.1 289.2,700.3 288.5,701.3 287.5,701.9 286.3,702.8 285.1,702.2 284.1,701.4 284.0,700.1 283.1,699.1 283.2,697.8 284.2,697.0 285.1,696.2 286.3,695.5 287.5,696.3 288.4,697.1 289.1,698.0" fill="rgb(65,65,65)" stroke="rgb(80,80,80)" stroke-width="0.8" stroke-linejoin="round"/>
<path d="M282.3,696.8 A4.6,4.6 0 1 1 289.3,702.7" fill="none" stroke="rgb(199,199,199)" stroke-width="1.5" opacity="0.73" stroke-linecap="round"/>
<polygon points="312.9,699.1 312.5,700.3 311.9,701.3 310.8,701.8 309.7,702.6 308.4,702.3 307.7,701.1 307.1,700.2 306.4,699.1 306.5,697.8 307.5,696.9 308.5,696.2 309.7,695.7 311.0,695.9 311.7,697.1 312.8,697.8" fill="rgb(46,46,46)" stroke="rgb(61,61,61)" stroke-width="0.8" stroke-linejoin="round"/>
<polygon points="336.4,699.3 335.5,700.4 335.3,701.9 334.1,702.8 332.6,703.0 331.2,702.6 330.4,701.5 329.6,700.5 329.0,699.3 329.5,698.0 330.5,697.1 331.2,695.8 332.6,695.3 334.1,695.7 335.2,696.7 336.1,697.8" fill="rgb(67,67,67)" stroke="rgb(82,82,82)" stroke-width="0.8" stroke-linejoin="round"/>
<polygon points="358.8,699.5 358.2,700.7 357.5,701.7 356.4,702.2 355.3,702.5 354.1,702.3 353.2,701.6 353.0,700.5 351.9,699.5 351.9,698.1 353.0,697.3 354.1,696.8 355.3,695.9 356.5,696.6 357.4,697.4 358.0,698.4" fill="rgb(58,58,58)" stroke="rgb(73,73,73)" stroke-width="0.8" stroke-linejoin="round"/>
<path d="M351.0,701.1 A4.6,4.6 0 0 1 358.0,695.9" fill="none" stroke="rgb(175,175,175)" stroke-width="1.5" opacity="0.56" stroke-linecap="round"/>
<circle cx="380.3" cy="698.3" r="6.7" fill="#262626" opacity="0.85"/>
<circle cx="381.0" cy="697.6" r="5.6" fill="url(#pb)"/>
<circle cx="403.3" cy="697.5" r="6.7" fill="#262626" opacity="0.85"/>
<circle cx="404.0" cy="696.8" r="5.6" fill="url(#pb)"/>
<polygon points="430.0,699.2 428.8,700.3 428.4,701.6 427.4,702.4 426.0,703.5 424.7,702.5 423.5,701.7 422.8,700.5 421.8,699.2 423.0,697.9 423.4,696.5 424.6,695.7 426.0,695.8 427.3,696.1 428.6,696.6 429.5,697.8" fill="rgb(60,60,60)" stroke="rgb(75,75,75)" stroke-width="0.8" stroke-linejoin="round"/>
<polygon points="452.7,699.9 453.2,701.4 452.2,702.6 450.7,702.9 449.5,703.2 448.1,703.2 447.0,702.3 446.1,701.2 445.9,699.9 446.4,698.6 446.8,697.2 448.2,696.9 449.5,696.5 450.8,696.7 452.0,697.3 452.5,698.6" fill="rgb(50,50,50)" stroke="rgb(65,65,65)" stroke-width="0.8" stroke-linejoin="round"/>
<path d="M449.7,694.9 A5.0,5.0 0 0 1 453.4,702.9" fill="none" stroke="rgb(178,178,178)" stroke-width="1.5" opacity="0.50" stroke-linecap="round"/>
<polygon points="476.2,699.8 475.6,700.9 475.4,702.1 474.3,702.9 473.1,703.5 471.8,702.8 470.9,701.9 469.7,701.2 470.0,699.8 470.0,698.6 470.7,697.5 471.8,696.9 473.1,696.8 474.2,697.0 475.1,697.8 476.1,698.6" fill="rgb(46,46,46)" stroke="rgb(61,61,61)" stroke-width="0.8" stroke-linejoin="round"/>
<path d="M470.8,695.8 A4.6,4.6 0 0 1 477.5,701.0" fill="none" stroke="rgb(177,177,177)" stroke-width="1.5" opacity="0.58" stroke-linecap="round"/>
<polygon points="33.5,720.6 33.4,722.0 32.5,723.1 31.2,723.6 29.9,724.4 28.5,724.0 27.7,722.8 27.0,721.8 26.2,720.6 27.1,719.4 27.6,718.3 28.7,717.6 29.9,717.1 31.2,717.3 32.6,717.9 32.9,719.3" fill="rgb(65,65,65)" stroke="rgb(80,80,80)" stroke-width="0.8" stroke-linejoin="round"/>
<polygon points="55.9,720.9 55.8,722.2 55.0,723.2 54.1,724.2 52.7,724.9 51.4,724.0 50.2,723.3 49.6,722.1 49.5,720.9 49.8,719.7 50.4,718.6 51.2,717.4 52.7,717.1 54.1,717.4 54.9,718.6 56.2,719.4" fill="rgb(49,49,49)" stroke="rgb(64,64,64)" stroke-width="0.8" stroke-linejoin="round"/>
<polygon points="79.0,721.9 78.6,723.2 77.7,724.1 76.7,724.9 75.4,725.1 74.4,724.3 73.3,723.9 72.9,722.9 72.2,721.9 72.4,720.6 73.3,719.7 74.3,719.3 75.4,718.9 76.5,719.3 77.6,719.7 77.8,720.9" fill="rgb(65,65,65)" stroke="rgb(80,80,80)" stroke-width="0.8" stroke-linejoin="round"/>
<polygon points="103.6,721.2 102.8,722.5 102.1,723.7 100.8,724.1 99.6,724.8 98.3,724.3 97.6,723.2 96.6,722.4 96.1,721.2 96.6,719.9 97.4,719.0 98.5,718.6 99.6,717.6 100.8,718.3 101.8,718.9 102.4,720.0" fill="rgb(64,64,64)" stroke="rgb(79,79,79)" stroke-width="0.8" stroke-linejoin="round"/>
<path d="M96.3,717.7 A4.8,4.8 0 0 1 104.0,719.5" fill="none" stroke="rgb(176,176,176)" stroke-width="1.5" opacity="0.78" stroke-linecap="round"/>
<polygon points="127.1,721.7 126.3,723.1 125.5,724.2 124.3,724.9 123.0,725.4 121.7,724.7 120.3,724.3 119.6,723.1 119.0,721.7 119.7,720.3 120.5,719.2 121.7,718.5 123.0,717.5 124.4,718.2 125.5,719.2 126.2,720.3" fill="rgb(68,68,68)" stroke="rgb(83,83,83)" stroke-width="0.8" stroke-linejoin="round"/>
<path d="M121.7,716.7 A5.1,5.1 0 0 1 127.2,724.5" fill="none" stroke="rgb(184,184,184)" stroke-width="1.5" opacity="0.56" stroke-linecap="round"/>
<circle cx="147.0" cy="720.1" r="6.7" fill="#262626" opacity="0.85"/>
<circle cx="147.7" cy="719.4" r="5.6" fill="url(#pb)"/>
<polygon points="173.0,722.1 172.0,723.1 171.6,724.2 170.6,724.8 169.5,725.0 168.2,725.4 167.4,724.2 166.3,723.4 165.9,722.1 166.4,720.8 167.4,719.9 168.4,719.3 169.5,718.2 170.6,719.6 171.4,720.2 172.7,720.8" fill="rgb(67,67,67)" stroke="rgb(82,82,82)" stroke-width="0.8" stroke-linejoin="round"/>
<polygon points="196.4,721.7 196.4,723.0 195.2,723.8 194.4,724.6 193.1,724.8 191.9,724.7 190.8,724.0 190.1,722.9 189.7,721.7 190.2,720.5 191.1,719.7 192.0,718.9 193.1,718.2 194.4,718.6 195.1,719.7 196.2,720.4" fill="rgb(47,47,47)" stroke="rgb(62,62,62)" stroke-width="0.8" stroke-linejoin="round"/>
<path d="M188.6,721.0 A4.6,4.6 0 0 1 195.8,718.0" fill="none" stroke="rgb(194,194,194)" stroke-width="1.5" opacity="0.61" stroke-linecap="round"/>
<polygon points="219.1,722.0 219.0,723.2 218.4,724.2 217.4,725.0 216.2,725.7 215.0,724.8 214.2,724.0 213.2,723.2 212.7,722.0 213.5,720.9 213.8,719.6 214.9,718.9 216.2,718.5 217.6,718.4 218.2,719.9 219.2,720.8" fill="rgb(67,67,67)" stroke="rgb(82,82,82)" stroke-width="0.8" stroke-linejoin="round"/>
<polygon points="242.6,721.8 242.3,722.9 241.5,723.7 240.6,724.4 239.5,724.9 238.4,724.5 237.2,724.1 236.9,722.9 236.4,721.8 236.2,720.4 237.3,719.6 238.6,719.6 239.5,718.6 240.7,719.0 241.4,720.0 242.0,720.8" fill="rgb(68,68,68)" stroke="rgb(83,83,83)" stroke-width="0.8" stroke-linejoin="round"/>
<path d="M237.4,717.8 A4.5,4.5 0 0 1 243.9,723.0" fill="none" stroke="rgb(186,186,186)" stroke-width="1.5" opacity="0.74" stroke-linecap="round"/>
<polygon points="266.9,722.1 266.1,723.4 265.1,724.2 264.3,725.3 263.0,725.3 261.8,725.0 260.7,724.3 259.9,723.4 259.3,722.1 260.3,721.0 260.7,719.8 261.7,719.0 263.0,718.7 264.4,718.7 265.2,719.9 265.9,720.8" fill="rgb(46,46,46)" stroke="rgb(61,61,61)" stroke-width="0.8" stroke-linejoin="round"/>
<circle cx="287.0" cy="721.0" r="6.7" fill="#262626" opacity="0.85"/>
<circle cx="287.7" cy="720.3" r="5.6" fill="url(#pb)"/>
<polygon points="313.5,722.3 312.2,723.5 311.6,724.6 310.9,725.8 309.4,725.9 308.3,725.0 306.9,724.8 305.9,723.8 305.9,722.3 306.4,721.1 307.0,720.0 308.1,719.2 309.4,719.1 310.7,719.2 312.1,719.7 313.0,720.8" fill="rgb(55,55,55)" stroke="rgb(70,70,70)" stroke-width="0.8" stroke-linejoin="round"/>
<polygon points="336.3,722.5 336.3,723.8 335.2,724.5 334.3,725.1 333.3,726.1 332.1,725.3 331.1,724.7 330.0,723.9 330.2,722.5 330.4,721.4 331.1,720.4 332.1,719.6 333.3,719.3 334.4,719.8 335.4,720.3 336.1,721.4" fill="rgb(62,62,62)" stroke="rgb(77,77,77)" stroke-width="0.8" stroke-linejoin="round"/>
<polygon points="359.2,722.5 359.2,723.8 358.1,724.6 357.2,725.5 355.9,726.5 354.8,725.3 353.8,724.6 353.2,723.6 352.8,722.5 352.7,721.2 353.7,720.3 354.7,719.5 355.9,718.9 357.1,719.7 358.1,720.3 359.0,721.2" fill="rgb(67,67,67)" stroke="rgb(82,82,82)" stroke-width="0.8" stroke-linejoin="round"/>
<path d="M352.2,719.7 A4.7,4.7 0 0 1 359.8,725.1" fill="none" stroke="rgb(174,174,174)" stroke-width="1.5" opacity="0.67" stroke-linecap="round"/>
<polygon points="383.7,722.4 383.2,723.7 382.1,724.5 381.2,725.1 380.1,725.8 378.7,725.7 377.7,724.8 377.0,723.7 376.0,722.4 377.0,721.1 377.8,720.2 378.8,719.3 380.1,718.8 381.3,719.4 382.5,720.0 383.1,721.1" fill="rgb(69,69,69)" stroke="rgb(84,84,84)" stroke-width="0.8" stroke-linejoin="round"/>
<path d="M378.0,718.1 A4.8,4.8 0 0 1 384.2,720.0" fill="none" stroke="rgb(167,167,167)" stroke-width="1.5" opacity="0.58" stroke-linecap="round"/>
<polygon points="406.1,722.4 405.9,723.6 405.4,724.9 404.1,725.3 402.9,726.2 401.6,725.6 401.0,724.3 399.8,723.7 399.4,722.4 400.4,721.4 400.6,720.1 401.7,719.3 402.9,718.9 404.3,719.1 405.2,720.1 406.1,721.1" fill="rgb(48,48,48)" stroke="rgb(63,63,63)" stroke-width="0.8" stroke-linejoin="round"/>
<path d="M402.2,717.7 A4.8,4.8 0 0 1 407.2,724.6" fill="none" stroke="rgb(184,184,184)" stroke-width="1.5" opacity="0.65" stroke-linecap="round"/>
<polygon points="431.1,722.7 429.9,724.1 428.9,725.0 428.0,726.3 426.6,726.5 425.2,726.1 424.0,725.3 423.3,724.0 422.6,722.7 423.0,721.2 423.8,720.0 425.3,719.6 426.6,718.1 428.0,719.2 428.9,720.3 429.7,721.4" fill="rgb(64,64,64)" stroke="rgb(79,79,79)" stroke-width="0.8" stroke-linejoin="round"/>
<path d="M430.3,719.1 A5.2,5.2 0 0 1 430.6,725.9" fill="none" stroke="rgb(171,171,171)" stroke-width="1.5" opacity="0.74" stroke-linecap="round"/>
<polygon points="453.1,723.0 452.6,724.3 451.7,725.4 450.9,726.5 449.4,726.5 448.3,725.8 447.4,725.0 446.1,724.4 446.0,723.0 446.2,721.7 447.0,720.6 448.0,719.7 449.4,719.6 450.7,720.0 451.9,720.5 452.5,721.8" fill="rgb(44,44,44)" stroke="rgb(59,59,59)" stroke-width="0.8" stroke-linejoin="round"/>
<path d="M445.3,720.3 A4.9,4.9 0 0 1 451.7,718.7" fill="none" stroke="rgb(175,175,175)" stroke-width="1.5" opacity="0.53" stroke-linecap="round"/>
<polygon points="476.9,722.9 476.1,724.2 475.5,725.3 474.3,725.8 473.1,726.8 471.8,726.1 470.7,725.3 470.1,724.2 469.4,722.9 469.8,721.5 470.4,720.3 471.7,719.6 473.1,719.0 474.4,719.9 475.6,720.4 476.1,721.7" fill="rgb(46,46,46)" stroke="rgb(61,61,61)" stroke-width="0.8" stroke-linejoin="round"/>
<path d="M468.5,721.0 A5.0,5.0 0 0 1 477.0,719.8" fill="none" stroke="rgb(184,184,184)" stroke-width="1.5" opacity="0.82" stroke-linecap="round"/>
<rect x="487" y="380" width="9" height="1.7" fill="#fff"/>
<text x="14.5" y="415.3" font-size="39.5" font-family="Liberation Sans, sans-serif" font-weight="bold" fill="#fff">c</text>
<rect x="368.7" y="717.3" width="40.7" height="6.8" fill="#fff"/>
<text id="t1_c" x="419.5" y="729.1" font-size="28.5" font-family="Liberation Sans, sans-serif" font-weight="bold" fill="#fff">  µm</text><path d="M800,0 L800,1409 L578,1409 C550,1338 502,1272 432,1212 C352,1146 252,1098 140,1064 L140,850 C262,890 420,958 520,1046 L520,0 Z" transform="translate(419.50,729.10) scale(0.01392,-0.01392)" fill="#fff"/>
</svg>
<svg width="478" height="359" viewBox="520 380 478 359" style="position:absolute;left:520px;top:380px;filter:blur(0.45px)">
<defs>
<filter id="nd" x="0" y="0" width="1" height="1" color-interpolation-filters="sRGB">
<feTurbulence type="fractalNoise" baseFrequency="0.42" numOctaves="3" seed="9"/>
<feColorMatrix type="matrix" values="0.36 0 0 0 0.253  0.36 0 0 0 0.253  0.36 0 0 0 0.253  0 0 0 0 1"/>
</filter>
<filter id="tx" x="-0.1" y="-0.1" width="1.2" height="1.2" color-interpolation-filters="sRGB">
<feTurbulence type="fractalNoise" baseFrequency="0.35" numOctaves="2" seed="3" result="t"/>
<feColorMatrix in="t" type="matrix" values="0 0 0 0 0.5  0 0 0 0 0.5  0 0 0 0 0.5  0.9 0 0 0 -0.35" result="tt"/>
<feComposite in="tt" in2="SourceGraphic" operator="in" result="tc"/>
<feMerge><feMergeNode in="SourceGraphic"/><feMergeNode in="tc"/></feMerge>
</filter>
<filter id="tx2" x="-0.1" y="-0.1" width="1.2" height="1.2" color-interpolation-filters="sRGB">
<feTurbulence type="fractalNoise" baseFrequency="0.3" numOctaves="2" seed="5" result="t"/>
<feColorMatrix in="t" type="matrix" values="0 0 0 0 0.62  0 0 0 0 0.62  0 0 0 0 0.62  0.7 0 0 0 -0.27" result="tt"/>
<feComposite in="tt" in2="SourceGraphic" operator="in" result="tc"/>
<feMerge><feMergeNode in="SourceGraphic"/><feMergeNode in="tc"/></feMerge>
</filter>
<filter id="bs" x="-0.2" y="-0.2" width="1.4" height="1.4"><feGaussianBlur stdDeviation="0.9"/></filter>
<filter id="bl" x="-0.3" y="-0.3" width="1.6" height="1.6"><feGaussianBlur stdDeviation="1.6"/></filter>
<radialGradient id="gb" cx="0.48" cy="0.45" r="0.55"><stop offset="0" stop-color="#d6d6d6"/><stop offset="0.7" stop-color="#dbdbdb"/><stop offset="0.9" stop-color="#e8e8e8"/><stop offset="1" stop-color="#c8c8c8"/></radialGradient>
<radialGradient id="gr" cx="0.5" cy="0.52" r="0.52"><stop offset="0" stop-color="#606060"/><stop offset="0.72" stop-color="#6a6a6a"/><stop offset="0.9" stop-color="#909090"/><stop offset="1" stop-color="#b8b8b8"/></radialGradient>
<radialGradient id="gk" cx="0.5" cy="0.5" r="0.52"><stop offset="0" stop-color="#4c4c4c"/><stop offset="0.8" stop-color="#525252"/><stop offset="1" stop-color="#7a7a7a"/></radialGradient>
</defs>
<rect x="520" y="380" width="478" height="359" filter="url(#nd)"/>
<circle cx="581.5" cy="559.2" r="3.3" fill="rgb(132,132,132)" fill-opacity="0.15" stroke="#a8a8a8" stroke-width="0.8" stroke-opacity="0.38"/>
<circle cx="553.7" cy="426.6" r="3.9" fill="rgb(150,150,150)" fill-opacity="0.19" stroke="#a8a8a8" stroke-width="0.8" stroke-opacity="0.28"/>
<circle cx="836.8" cy="478.8" r="2.4" fill="rgb(155,155,155)" fill-opacity="0.25" stroke="#a8a8a8" stroke-width="0.8" stroke-opacity="0.28"/>
<circle cx="910.4" cy="577.1" r="4.0" fill="rgb(138,138,138)" fill-opacity="0.23" stroke="#a8a8a8" stroke-width="0.8" stroke-opacity="0.27"/>
<circle cx="688.9" cy="592.4" r="2.6" fill="rgb(156,156,156)" fill-opacity="0.29" stroke="#a8a8a8" stroke-width="0.8" stroke-opacity="0.18"/>
<circle cx="743.3" cy="479.5" r="2.3" fill="rgb(158,158,158)" fill-opacity="0.21" stroke="#a8a8a8" stroke-width="0.8" stroke-opacity="0.19"/>
<circle cx="841.9" cy="452.6" r="3.8" fill="rgb(138,138,138)" fill-opacity="0.13" stroke="#a8a8a8" stroke-width="0.8" stroke-opacity="0.20"/>
<circle cx="685.3" cy="548.3" r="3.8" fill="rgb(152,152,152)" fill-opacity="0.19" stroke="#a8a8a8" stroke-width="0.8" stroke-opacity="0.15"/>
<circle cx="596.4" cy="737.7" r="3.0" fill="rgb(152,152,152)" fill-opacity="0.13" stroke="#a8a8a8" stroke-width="0.8" stroke-opacity="0.16"/>
<circle cx="924.3" cy="591.0" r="2.8" fill="rgb(141,141,141)" fill-opacity="0.14" stroke="#a8a8a8" stroke-width="0.8" stroke-opacity="0.19"/>
<circle cx="531.8" cy="681.2" r="3.0" fill="rgb(135,135,135)" fill-opacity="0.27" stroke="#a8a8a8" stroke-width="0.8" stroke-opacity="0.20"/>
<circle cx="549.6" cy="594.8" r="3.8" fill="rgb(132,132,132)" fill-opacity="0.28" stroke="#a8a8a8" stroke-width="0.8" stroke-opacity="0.20"/>
<circle cx="564.4" cy="386.4" r="2.7" fill="rgb(153,153,153)" fill-opacity="0.22" stroke="#a8a8a8" stroke-width="0.8" stroke-opacity="0.36"/>
<circle cx="623.8" cy="493.2" r="2.7" fill="rgb(161,161,161)" fill-opacity="0.31" stroke="#a8a8a8" stroke-width="0.8" stroke-opacity="0.24"/>
<circle cx="728.4" cy="492.8" r="3.5" fill="rgb(133,133,133)" fill-opacity="0.13" stroke="#a8a8a8" stroke-width="0.8" stroke-opacity="0.25"/>
<circle cx="637.2" cy="683.4" r="3.5" fill="rgb(148,148,148)" fill-opacity="0.25" stroke="#a8a8a8" stroke-width="0.8" stroke-opacity="0.32"/>
<circle cx="893.3" cy="713.0" r="2.5" fill="rgb(150,150,150)" fill-opacity="0.15" stroke="#a8a8a8" stroke-width="0.8" stroke-opacity="0.26"/>
<circle cx="895.8" cy="701.2" r="3.6" fill="rgb(133,133,133)" fill-opacity="0.19" stroke="#a8a8a8" stroke-width="0.8" stroke-opacity="0.19"/>
<circle cx="997.4" cy="431.7" r="2.6" fill="rgb(142,142,142)" fill-opacity="0.13" stroke="#a8a8a8" stroke-width="0.8" stroke-opacity="0.37"/>
<circle cx="824.2" cy="437.3" r="3.1" fill="rgb(134,134,134)" fill-opacity="0.24" stroke="#a8a8a8" stroke-width="0.8" stroke-opacity="0.21"/>
<circle cx="538.5" cy="421.4" r="3.2" fill="rgb(151,151,151)" fill-opacity="0.18" stroke="#a8a8a8" stroke-width="0.8" stroke-opacity="0.31"/>
<circle cx="688.3" cy="426.9" r="2.8" fill="rgb(143,143,143)" fill-opacity="0.30" stroke="#a8a8a8" stroke-width="0.8" stroke-opacity="0.18"/>
<circle cx="561.2" cy="581.6" r="3.9" fill="rgb(159,159,159)" fill-opacity="0.26" stroke="#a8a8a8" stroke-width="0.8" stroke-opacity="0.17"/>
<circle cx="905.5" cy="625.3" r="2.5" fill="rgb(145,145,145)" fill-opacity="0.13" stroke="#a8a8a8" stroke-width="0.8" stroke-opacity="0.35"/>
<circle cx="863.5" cy="668.9" r="3.6" fill="rgb(140,140,140)" fill-opacity="0.28" stroke="#a8a8a8" stroke-width="0.8" stroke-opacity="0.21"/>
<circle cx="585.9" cy="520.2" r="3.1" fill="rgb(140,140,140)" fill-opacity="0.24" stroke="#a8a8a8" stroke-width="0.8" stroke-opacity="0.30"/>
<circle cx="634.6" cy="603.5" r="2.8" fill="rgb(154,154,154)" fill-opacity="0.18" stroke="#a8a8a8" stroke-width="0.8" stroke-opacity="0.35"/>
<circle cx="718.4" cy="578.6" r="3.4" fill="rgb(147,147,147)" fill-opacity="0.17" stroke="#a8a8a8" stroke-width="0.8" stroke-opacity="0.39"/>
<circle cx="565.9" cy="496.6" r="3.2" fill="rgb(132,132,132)" fill-opacity="0.15" stroke="#a8a8a8" stroke-width="0.8" stroke-opacity="0.35"/>
<circle cx="894.7" cy="608.7" r="3.8" fill="rgb(154,154,154)" fill-opacity="0.18" stroke="#a8a8a8" stroke-width="0.8" stroke-opacity="0.31"/>
<circle cx="682.6" cy="649.2" r="2.9" fill="rgb(136,136,136)" fill-opacity="0.30" stroke="#a8a8a8" stroke-width="0.8" stroke-opacity="0.32"/>
<circle cx="876.0" cy="580.9" r="3.6" fill="rgb(145,145,145)" fill-opacity="0.23" stroke="#a8a8a8" stroke-width="0.8" stroke-opacity="0.17"/>
<circle cx="785.3" cy="672.4" r="3.5" fill="rgb(156,156,156)" fill-opacity="0.22" stroke="#a8a8a8" stroke-width="0.8" stroke-opacity="0.37"/>
<circle cx="571.8" cy="694.4" r="2.9" fill="rgb(134,134,134)" fill-opacity="0.24" stroke="#a8a8a8" stroke-width="0.8" stroke-opacity="0.26"/>
<circle cx="724.8" cy="685.9" r="2.4" fill="rgb(150,150,150)" fill-opacity="0.20" stroke="#a8a8a8" stroke-width="0.8" stroke-opacity="0.28"/>
<circle cx="758.7" cy="428.2" r="3.1" fill="rgb(157,157,157)" fill-opacity="0.15" stroke="#a8a8a8" stroke-width="0.8" stroke-opacity="0.15"/>
<circle cx="552.3" cy="545.1" r="4.0" fill="rgb(133,133,133)" fill-opacity="0.32" stroke="#a8a8a8" stroke-width="0.8" stroke-opacity="0.28"/>
<circle cx="577.4" cy="530.3" r="2.6" fill="rgb(153,153,153)" fill-opacity="0.23" stroke="#a8a8a8" stroke-width="0.8" stroke-opacity="0.22"/>
<circle cx="642.1" cy="691.2" r="3.6" fill="rgb(145,145,145)" fill-opacity="0.20" stroke="#a8a8a8" stroke-width="0.8" stroke-opacity="0.33"/>
<circle cx="984.0" cy="408.6" r="2.5" fill="rgb(142,142,142)" fill-opacity="0.22" stroke="#a8a8a8" stroke-width="0.8" stroke-opacity="0.17"/>
<circle cx="545.6" cy="458.8" r="2.9" fill="rgb(154,154,154)" fill-opacity="0.24" stroke="#a8a8a8" stroke-width="0.8" stroke-opacity="0.16"/>
<circle cx="541.5" cy="542.3" r="3.8" fill="rgb(159,159,159)" fill-opacity="0.19" stroke="#a8a8a8" stroke-width="0.8" stroke-opacity="0.37"/>
<circle cx="964.1" cy="526.0" r="3.5" fill="rgb(142,142,142)" fill-opacity="0.15" stroke="#a8a8a8" stroke-width="0.8" stroke-opacity="0.29"/>
<circle cx="561.3" cy="618.1" r="3.7" fill="rgb(159,159,159)" fill-opacity="0.21" stroke="#a8a8a8" stroke-width="0.8" stroke-opacity="0.18"/>
<circle cx="951.4" cy="692.5" r="3.9" fill="rgb(149,149,149)" fill-opacity="0.25" stroke="#a8a8a8" stroke-width="0.8" stroke-opacity="0.24"/>
<circle cx="607.5" cy="484.7" r="3.5" fill="rgb(141,141,141)" fill-opacity="0.26" stroke="#a8a8a8" stroke-width="0.8" stroke-opacity="0.28"/>
<circle cx="734.6" cy="727.4" r="2.5" fill="rgb(146,146,146)" fill-opacity="0.15" stroke="#a8a8a8" stroke-width="0.8" stroke-opacity="0.38"/>
<circle cx="753.6" cy="499.2" r="2.5" fill="rgb(149,149,149)" fill-opacity="0.20" stroke="#a8a8a8" stroke-width="0.8" stroke-opacity="0.18"/>
<circle cx="535.5" cy="520.5" r="3.2" fill="rgb(147,147,147)" fill-opacity="0.30" stroke="#a8a8a8" stroke-width="0.8" stroke-opacity="0.38"/>
<circle cx="967.6" cy="667.1" r="3.1" fill="rgb(147,147,147)" fill-opacity="0.20" stroke="#a8a8a8" stroke-width="0.8" stroke-opacity="0.25"/>
<circle cx="539.9" cy="666.8" r="2.6" fill="rgb(132,132,132)" fill-opacity="0.21" stroke="#a8a8a8" stroke-width="0.8" stroke-opacity="0.33"/>
<circle cx="728.4" cy="510.7" r="3.4" fill="rgb(136,136,136)" fill-opacity="0.12" stroke="#a8a8a8" stroke-width="0.8" stroke-opacity="0.30"/>
<circle cx="773.6" cy="690.8" r="2.9" fill="rgb(155,155,155)" fill-opacity="0.12" stroke="#a8a8a8" stroke-width="0.8" stroke-opacity="0.16"/>
<circle cx="806.1" cy="461.2" r="2.3" fill="rgb(135,135,135)" fill-opacity="0.19" stroke="#a8a8a8" stroke-width="0.8" stroke-opacity="0.23"/>
<circle cx="789.5" cy="698.6" r="2.9" fill="rgb(137,137,137)" fill-opacity="0.24" stroke="#a8a8a8" stroke-width="0.8" stroke-opacity="0.15"/>
<circle cx="703.9" cy="493.9" r="2.9" fill="rgb(133,133,133)" fill-opacity="0.23" stroke="#a8a8a8" stroke-width="0.8" stroke-opacity="0.31"/>
<circle cx="878.2" cy="723.7" r="2.8" fill="rgb(151,151,151)" fill-opacity="0.21" stroke="#a8a8a8" stroke-width="0.8" stroke-opacity="0.20"/>
<circle cx="945.1" cy="647.8" r="3.9" fill="rgb(156,156,156)" fill-opacity="0.30" stroke="#a8a8a8" stroke-width="0.8" stroke-opacity="0.18"/>
<circle cx="527.5" cy="451.3" r="2.9" fill="rgb(152,152,152)" fill-opacity="0.21" stroke="#a8a8a8" stroke-width="0.8" stroke-opacity="0.28"/>
<circle cx="883.8" cy="405.3" r="3.4" fill="rgb(133,133,133)" fill-opacity="0.17" stroke="#a8a8a8" stroke-width="0.8" stroke-opacity="0.33"/>
<circle cx="846.5" cy="525.5" r="2.7" fill="rgb(156,156,156)" fill-opacity="0.17" stroke="#a8a8a8" stroke-width="0.8" stroke-opacity="0.16"/>
<circle cx="638.2" cy="387.6" r="3.7" fill="rgb(135,135,135)" fill-opacity="0.31" stroke="#a8a8a8" stroke-width="0.8" stroke-opacity="0.20"/>
<circle cx="666.3" cy="590.1" r="2.8" fill="rgb(143,143,143)" fill-opacity="0.14" stroke="#a8a8a8" stroke-width="0.8" stroke-opacity="0.25"/>
<circle cx="532.1" cy="460.4" r="3.8" fill="rgb(140,140,140)" fill-opacity="0.17" stroke="#a8a8a8" stroke-width="0.8" stroke-opacity="0.32"/>
<circle cx="942.0" cy="486.2" r="2.9" fill="rgb(153,153,153)" fill-opacity="0.28" stroke="#a8a8a8" stroke-width="0.8" stroke-opacity="0.30"/>
<circle cx="605.6" cy="444.9" r="3.6" fill="rgb(153,153,153)" fill-opacity="0.30" stroke="#a8a8a8" stroke-width="0.8" stroke-opacity="0.34"/>
<circle cx="721.3" cy="427.8" r="3.8" fill="rgb(152,152,152)" fill-opacity="0.24" stroke="#a8a8a8" stroke-width="0.8" stroke-opacity="0.32"/>
<circle cx="704.1" cy="503.2" r="3.2" fill="rgb(146,146,146)" fill-opacity="0.26" stroke="#a8a8a8" stroke-width="0.8" stroke-opacity="0.38"/>
<circle cx="925.0" cy="519.1" r="2.9" fill="rgb(159,159,159)" fill-opacity="0.20" stroke="#a8a8a8" stroke-width="0.8" stroke-opacity="0.35"/>
<circle cx="564.3" cy="541.9" r="3.1" fill="rgb(156,156,156)" fill-opacity="0.30" stroke="#a8a8a8" stroke-width="0.8" stroke-opacity="0.19"/>
<circle cx="815.0" cy="605.9" r="2.5" fill="rgb(157,157,157)" fill-opacity="0.23" stroke="#a8a8a8" stroke-width="0.8" stroke-opacity="0.39"/>
<circle cx="609.1" cy="568.5" r="2.8" fill="rgb(151,151,151)" fill-opacity="0.24" stroke="#a8a8a8" stroke-width="0.8" stroke-opacity="0.28"/>
<circle cx="675.3" cy="560.9" r="2.9" fill="rgb(158,158,158)" fill-opacity="0.21" stroke="#a8a8a8" stroke-width="0.8" stroke-opacity="0.27"/>
<circle cx="643.6" cy="471.1" r="3.9" fill="rgb(141,141,141)" fill-opacity="0.29" stroke="#a8a8a8" stroke-width="0.8" stroke-opacity="0.30"/>
<circle cx="988.7" cy="438.9" r="3.9" fill="rgb(155,155,155)" fill-opacity="0.23" stroke="#a8a8a8" stroke-width="0.8" stroke-opacity="0.33"/>
<circle cx="865.3" cy="541.0" r="3.3" fill="rgb(138,138,138)" fill-opacity="0.12" stroke="#a8a8a8" stroke-width="0.8" stroke-opacity="0.32"/>
<circle cx="746.8" cy="705.1" r="2.7" fill="rgb(156,156,156)" fill-opacity="0.32" stroke="#a8a8a8" stroke-width="0.8" stroke-opacity="0.37"/>
<circle cx="981.0" cy="437.1" r="2.5" fill="rgb(138,138,138)" fill-opacity="0.19" stroke="#a8a8a8" stroke-width="0.8" stroke-opacity="0.18"/>
<circle cx="592.0" cy="386.6" r="3.9" fill="rgb(142,142,142)" fill-opacity="0.25" stroke="#a8a8a8" stroke-width="0.8" stroke-opacity="0.26"/>
<circle cx="875.2" cy="669.4" r="2.9" fill="rgb(148,148,148)" fill-opacity="0.14" stroke="#a8a8a8" stroke-width="0.8" stroke-opacity="0.22"/>
<circle cx="626.5" cy="490.8" r="2.8" fill="rgb(149,149,149)" fill-opacity="0.19" stroke="#a8a8a8" stroke-width="0.8" stroke-opacity="0.23"/>
<circle cx="917.4" cy="384.4" r="2.2" fill="rgb(133,133,133)" fill-opacity="0.29" stroke="#a8a8a8" stroke-width="0.8" stroke-opacity="0.31"/>
<circle cx="868.0" cy="723.8" r="2.6" fill="rgb(159,159,159)" fill-opacity="0.17" stroke="#a8a8a8" stroke-width="0.8" stroke-opacity="0.28"/>
<circle cx="845.6" cy="666.2" r="2.6" fill="rgb(146,146,146)" fill-opacity="0.13" stroke="#a8a8a8" stroke-width="0.8" stroke-opacity="0.22"/>
<circle cx="988.9" cy="704.9" r="3.2" fill="rgb(155,155,155)" fill-opacity="0.30" stroke="#a8a8a8" stroke-width="0.8" stroke-opacity="0.23"/>
<circle cx="988.7" cy="541.0" r="2.5" fill="rgb(147,147,147)" fill-opacity="0.24" stroke="#a8a8a8" stroke-width="0.8" stroke-opacity="0.32"/>
<circle cx="840.7" cy="394.9" r="3.4" fill="rgb(159,159,159)" fill-opacity="0.25" stroke="#a8a8a8" stroke-width="0.8" stroke-opacity="0.39"/>
<circle cx="764.5" cy="670.9" r="2.5" fill="rgb(158,158,158)" fill-opacity="0.21" stroke="#a8a8a8" stroke-width="0.8" stroke-opacity="0.37"/>
<circle cx="673.4" cy="604.1" r="3.7" fill="rgb(153,153,153)" fill-opacity="0.24" stroke="#a8a8a8" stroke-width="0.8" stroke-opacity="0.39"/>
<circle cx="562.1" cy="416.6" r="3.2" fill="rgb(160,160,160)" fill-opacity="0.26" stroke="#a8a8a8" stroke-width="0.8" stroke-opacity="0.23"/>
<circle cx="571.5" cy="540.9" r="3.1" fill="rgb(146,146,146)" fill-opacity="0.24" stroke="#a8a8a8" stroke-width="0.8" stroke-opacity="0.22"/>
<circle cx="940.8" cy="483.5" r="2.4" fill="rgb(142,142,142)" fill-opacity="0.31" stroke="#a8a8a8" stroke-width="0.8" stroke-opacity="0.19"/>
<circle cx="652.7" cy="712.6" r="2.8" fill="rgb(157,157,157)" fill-opacity="0.13" stroke="#a8a8a8" stroke-width="0.8" stroke-opacity="0.37"/>
<circle cx="633.4" cy="444.8" r="3.5" fill="rgb(161,161,161)" fill-opacity="0.31" stroke="#a8a8a8" stroke-width="0.8" stroke-opacity="0.34"/>
<circle cx="957.0" cy="734.4" r="3.2" fill="rgb(136,136,136)" fill-opacity="0.29" stroke="#a8a8a8" stroke-width="0.8" stroke-opacity="0.25"/>
<circle cx="669.4" cy="559.8" r="2.3" fill="rgb(132,132,132)" fill-opacity="0.17" stroke="#a8a8a8" stroke-width="0.8" stroke-opacity="0.30"/>
<circle cx="878.2" cy="723.6" r="3.7" fill="rgb(160,160,160)" fill-opacity="0.25" stroke="#a8a8a8" stroke-width="0.8" stroke-opacity="0.33"/>
<circle cx="800.8" cy="409.2" r="2.3" fill="rgb(154,154,154)" fill-opacity="0.16" stroke="#a8a8a8" stroke-width="0.8" stroke-opacity="0.35"/>
<circle cx="741.8" cy="382.5" r="3.2" fill="rgb(145,145,145)" fill-opacity="0.13" stroke="#a8a8a8" stroke-width="0.8" stroke-opacity="0.22"/>
<circle cx="666.6" cy="504.1" r="3.5" fill="rgb(137,137,137)" fill-opacity="0.21" stroke="#a8a8a8" stroke-width="0.8" stroke-opacity="0.30"/>
<circle cx="972.3" cy="421.3" r="2.3" fill="rgb(137,137,137)" fill-opacity="0.16" stroke="#a8a8a8" stroke-width="0.8" stroke-opacity="0.19"/>
<circle cx="556.3" cy="455.2" r="2.6" fill="rgb(146,146,146)" fill-opacity="0.25" stroke="#a8a8a8" stroke-width="0.8" stroke-opacity="0.24"/>
<circle cx="600.4" cy="414.0" r="2.7" fill="rgb(137,137,137)" fill-opacity="0.22" stroke="#a8a8a8" stroke-width="0.8" stroke-opacity="0.37"/>
<circle cx="862.5" cy="453.0" r="2.3" fill="rgb(134,134,134)" fill-opacity="0.21" stroke="#a8a8a8" stroke-width="0.8" stroke-opacity="0.24"/>
<circle cx="846.2" cy="410.1" r="2.7" fill="rgb(152,152,152)" fill-opacity="0.23" stroke="#a8a8a8" stroke-width="0.8" stroke-opacity="0.28"/>
<circle cx="951.0" cy="420.7" r="2.6" fill="rgb(148,148,148)" fill-opacity="0.23" stroke="#a8a8a8" stroke-width="0.8" stroke-opacity="0.40"/>
<circle cx="987.2" cy="590.8" r="3.6" fill="rgb(152,152,152)" fill-opacity="0.15" stroke="#a8a8a8" stroke-width="0.8" stroke-opacity="0.30"/>
<circle cx="666.2" cy="508.9" r="2.5" fill="rgb(132,132,132)" fill-opacity="0.29" stroke="#a8a8a8" stroke-width="0.8" stroke-opacity="0.33"/>
<circle cx="879.6" cy="483.4" r="3.0" fill="rgb(137,137,137)" fill-opacity="0.24" stroke="#a8a8a8" stroke-width="0.8" stroke-opacity="0.36"/>
<circle cx="892.3" cy="715.2" r="2.7" fill="rgb(153,153,153)" fill-opacity="0.15" stroke="#a8a8a8" stroke-width="0.8" stroke-opacity="0.28"/>
<circle cx="572.7" cy="574.0" r="3.2" fill="rgb(142,142,142)" fill-opacity="0.19" stroke="#a8a8a8" stroke-width="0.8" stroke-opacity="0.33"/>
<circle cx="749.9" cy="526.3" r="2.4" fill="rgb(140,140,140)" fill-opacity="0.29" stroke="#a8a8a8" stroke-width="0.8" stroke-opacity="0.39"/>
<circle cx="698.4" cy="692.6" r="3.8" fill="rgb(138,138,138)" fill-opacity="0.17" stroke="#a8a8a8" stroke-width="0.8" stroke-opacity="0.32"/>
<circle cx="666.3" cy="723.0" r="2.9" fill="rgb(153,153,153)" fill-opacity="0.26" stroke="#a8a8a8" stroke-width="0.8" stroke-opacity="0.20"/>
<circle cx="933.9" cy="498.0" r="2.4" fill="rgb(133,133,133)" fill-opacity="0.21" stroke="#a8a8a8" stroke-width="0.8" stroke-opacity="0.31"/>
<circle cx="649.7" cy="682.2" r="2.7" fill="rgb(157,157,157)" fill-opacity="0.13" stroke="#a8a8a8" stroke-width="0.8" stroke-opacity="0.22"/>
<circle cx="596.2" cy="540.7" r="2.8" fill="rgb(143,143,143)" fill-opacity="0.29" stroke="#a8a8a8" stroke-width="0.8" stroke-opacity="0.29"/>
<circle cx="809.4" cy="520.0" r="3.7" fill="rgb(147,147,147)" fill-opacity="0.27" stroke="#a8a8a8" stroke-width="0.8" stroke-opacity="0.38"/>
<circle cx="812.5" cy="536.2" r="2.7" fill="rgb(159,159,159)" fill-opacity="0.27" stroke="#a8a8a8" stroke-width="0.8" stroke-opacity="0.35"/>
<circle cx="625.8" cy="536.8" r="3.8" fill="rgb(139,139,139)" fill-opacity="0.28" stroke="#a8a8a8" stroke-width="0.8" stroke-opacity="0.28"/>
<circle cx="624.6" cy="514.8" r="2.3" fill="rgb(152,152,152)" fill-opacity="0.27" stroke="#a8a8a8" stroke-width="0.8" stroke-opacity="0.16"/>
<circle cx="664.1" cy="656.0" r="2.6" fill="rgb(148,148,148)" fill-opacity="0.28" stroke="#a8a8a8" stroke-width="0.8" stroke-opacity="0.29"/>
<circle cx="578.4" cy="706.4" r="3.5" fill="rgb(148,148,148)" fill-opacity="0.19" stroke="#a8a8a8" stroke-width="0.8" stroke-opacity="0.30"/>
<circle cx="707.2" cy="422.6" r="2.4" fill="rgb(133,133,133)" fill-opacity="0.15" stroke="#a8a8a8" stroke-width="0.8" stroke-opacity="0.21"/>
<circle cx="823.7" cy="588.3" r="3.3" fill="rgb(156,156,156)" fill-opacity="0.14" stroke="#a8a8a8" stroke-width="0.8" stroke-opacity="0.25"/>
<circle cx="557.9" cy="530.3" r="2.3" fill="rgb(133,133,133)" fill-opacity="0.14" stroke="#a8a8a8" stroke-width="0.8" stroke-opacity="0.25"/>
<circle cx="884.8" cy="481.2" r="3.5" fill="rgb(138,138,138)" fill-opacity="0.18" stroke="#a8a8a8" stroke-width="0.8" stroke-opacity="0.27"/>
<circle cx="555.8" cy="541.1" r="3.3" fill="rgb(156,156,156)" fill-opacity="0.13" stroke="#a8a8a8" stroke-width="0.8" stroke-opacity="0.35"/>
<circle cx="792.3" cy="587.6" r="2.3" fill="rgb(158,158,158)" fill-opacity="0.18" stroke="#a8a8a8" stroke-width="0.8" stroke-opacity="0.29"/>
<circle cx="777.5" cy="706.7" r="3.3" fill="rgb(161,161,161)" fill-opacity="0.17" stroke="#a8a8a8" stroke-width="0.8" stroke-opacity="0.32"/>
<circle cx="795.7" cy="564.4" r="3.3" fill="rgb(148,148,148)" fill-opacity="0.19" stroke="#a8a8a8" stroke-width="0.8" stroke-opacity="0.31"/>
<circle cx="559.9" cy="552.0" r="3.0" fill="rgb(138,138,138)" fill-opacity="0.23" stroke="#a8a8a8" stroke-width="0.8" stroke-opacity="0.32"/>
<circle cx="579.8" cy="486.6" r="2.3" fill="rgb(149,149,149)" fill-opacity="0.14" stroke="#a8a8a8" stroke-width="0.8" stroke-opacity="0.21"/>
<circle cx="734.1" cy="542.2" r="2.3" fill="rgb(160,160,160)" fill-opacity="0.17" stroke="#a8a8a8" stroke-width="0.8" stroke-opacity="0.30"/>
<circle cx="626.2" cy="593.9" r="2.8" fill="rgb(141,141,141)" fill-opacity="0.21" stroke="#a8a8a8" stroke-width="0.8" stroke-opacity="0.30"/>
<circle cx="805.9" cy="627.2" r="2.7" fill="rgb(134,134,134)" fill-opacity="0.17" stroke="#a8a8a8" stroke-width="0.8" stroke-opacity="0.23"/>
<circle cx="810.3" cy="528.8" r="2.8" fill="rgb(134,134,134)" fill-opacity="0.24" stroke="#a8a8a8" stroke-width="0.8" stroke-opacity="0.18"/>
<circle cx="767.1" cy="627.1" r="3.3" fill="rgb(136,136,136)" fill-opacity="0.19" stroke="#a8a8a8" stroke-width="0.8" stroke-opacity="0.39"/>
<circle cx="563.4" cy="623.7" r="3.0" fill="rgb(150,150,150)" fill-opacity="0.20" stroke="#a8a8a8" stroke-width="0.8" stroke-opacity="0.18"/>
<circle cx="788.8" cy="382.2" r="3.8" fill="rgb(155,155,155)" fill-opacity="0.19" stroke="#a8a8a8" stroke-width="0.8" stroke-opacity="0.28"/>
<circle cx="772.1" cy="731.7" r="2.3" fill="rgb(140,140,140)" fill-opacity="0.20" stroke="#a8a8a8" stroke-width="0.8" stroke-opacity="0.35"/>
<circle cx="868.9" cy="532.0" r="2.2" fill="rgb(151,151,151)" fill-opacity="0.20" stroke="#a8a8a8" stroke-width="0.8" stroke-opacity="0.18"/>
<circle cx="821.6" cy="539.7" r="2.8" fill="rgb(140,140,140)" fill-opacity="0.22" stroke="#a8a8a8" stroke-width="0.8" stroke-opacity="0.21"/>
<circle cx="708.0" cy="718.2" r="3.1" fill="rgb(139,139,139)" fill-opacity="0.22" stroke="#a8a8a8" stroke-width="0.8" stroke-opacity="0.38"/>
<circle cx="934.1" cy="623.1" r="3.8" fill="rgb(154,154,154)" fill-opacity="0.26" stroke="#a8a8a8" stroke-width="0.8" stroke-opacity="0.26"/>
<circle cx="591.4" cy="642.8" r="3.3" fill="rgb(161,161,161)" fill-opacity="0.18" stroke="#a8a8a8" stroke-width="0.8" stroke-opacity="0.37"/>
<circle cx="624.5" cy="719.7" r="4.0" fill="rgb(133,133,133)" fill-opacity="0.18" stroke="#a8a8a8" stroke-width="0.8" stroke-opacity="0.40"/>
<circle cx="982.9" cy="620.8" r="2.4" fill="rgb(132,132,132)" fill-opacity="0.17" stroke="#a8a8a8" stroke-width="0.8" stroke-opacity="0.39"/>
<circle cx="904.7" cy="533.8" r="3.6" fill="rgb(159,159,159)" fill-opacity="0.18" stroke="#a8a8a8" stroke-width="0.8" stroke-opacity="0.37"/>
<circle cx="648.8" cy="498.0" r="2.3" fill="rgb(136,136,136)" fill-opacity="0.23" stroke="#a8a8a8" stroke-width="0.8" stroke-opacity="0.16"/>
<circle cx="780.9" cy="441.0" r="3.5" fill="rgb(135,135,135)" fill-opacity="0.16" stroke="#a8a8a8" stroke-width="0.8" stroke-opacity="0.22"/>
<circle cx="798.5" cy="670.2" r="3.6" fill="rgb(154,154,154)" fill-opacity="0.26" stroke="#a8a8a8" stroke-width="0.8" stroke-opacity="0.29"/>
<circle cx="683.8" cy="444.6" r="3.8" fill="rgb(144,144,144)" fill-opacity="0.25" stroke="#a8a8a8" stroke-width="0.8" stroke-opacity="0.17"/>
<circle cx="692.5" cy="416.0" r="2.8" fill="rgb(153,153,153)" fill-opacity="0.19" stroke="#a8a8a8" stroke-width="0.8" stroke-opacity="0.32"/>
<circle cx="578.9" cy="518.2" r="2.9" fill="rgb(147,147,147)" fill-opacity="0.17" stroke="#a8a8a8" stroke-width="0.8" stroke-opacity="0.32"/>
<circle cx="941.7" cy="671.7" r="2.3" fill="rgb(146,146,146)" fill-opacity="0.19" stroke="#a8a8a8" stroke-width="0.8" stroke-opacity="0.29"/>
<circle cx="559.8" cy="641.9" r="3.0" fill="rgb(160,160,160)" fill-opacity="0.12" stroke="#a8a8a8" stroke-width="0.8" stroke-opacity="0.25"/>
<circle cx="752.6" cy="678.4" r="3.6" fill="rgb(137,137,137)" fill-opacity="0.18" stroke="#a8a8a8" stroke-width="0.8" stroke-opacity="0.33"/>
<circle cx="720.6" cy="474.4" r="3.9" fill="rgb(157,157,157)" fill-opacity="0.19" stroke="#a8a8a8" stroke-width="0.8" stroke-opacity="0.29"/>
<circle cx="964.2" cy="457.7" r="3.8" fill="rgb(158,158,158)" fill-opacity="0.27" stroke="#a8a8a8" stroke-width="0.8" stroke-opacity="0.32"/>
<circle cx="847.4" cy="575.4" r="3.2" fill="rgb(137,137,137)" fill-opacity="0.23" stroke="#a8a8a8" stroke-width="0.8" stroke-opacity="0.32"/>
<circle cx="752.1" cy="623.9" r="3.0" fill="rgb(156,156,156)" fill-opacity="0.26" stroke="#a8a8a8" stroke-width="0.8" stroke-opacity="0.17"/>
<circle cx="887.7" cy="482.2" r="2.3" fill="rgb(135,135,135)" fill-opacity="0.18" stroke="#a8a8a8" stroke-width="0.8" stroke-opacity="0.28"/>
<circle cx="677.8" cy="453.0" r="3.6" fill="rgb(143,143,143)" fill-opacity="0.29" stroke="#a8a8a8" stroke-width="0.8" stroke-opacity="0.21"/>
<circle cx="849.8" cy="508.3" r="3.7" fill="rgb(151,151,151)" fill-opacity="0.26" stroke="#a8a8a8" stroke-width="0.8" stroke-opacity="0.17"/>
<circle cx="879.2" cy="507.2" r="3.5" fill="rgb(157,157,157)" fill-opacity="0.14" stroke="#a8a8a8" stroke-width="0.8" stroke-opacity="0.15"/>
<circle cx="882.3" cy="727.7" r="3.8" fill="rgb(145,145,145)" fill-opacity="0.29" stroke="#a8a8a8" stroke-width="0.8" stroke-opacity="0.16"/>
<circle cx="548.0" cy="588.7" r="3.1" fill="rgb(156,156,156)" fill-opacity="0.17" stroke="#a8a8a8" stroke-width="0.8" stroke-opacity="0.27"/>
<circle cx="993.0" cy="488.7" r="2.9" fill="rgb(150,150,150)" fill-opacity="0.32" stroke="#a8a8a8" stroke-width="0.8" stroke-opacity="0.20"/>
<circle cx="850.3" cy="528.7" r="2.9" fill="rgb(139,139,139)" fill-opacity="0.21" stroke="#a8a8a8" stroke-width="0.8" stroke-opacity="0.29"/>
<circle cx="707.5" cy="561.5" r="3.3" fill="rgb(157,157,157)" fill-opacity="0.23" stroke="#a8a8a8" stroke-width="0.8" stroke-opacity="0.25"/>
<circle cx="979.6" cy="441.9" r="2.3" fill="rgb(159,159,159)" fill-opacity="0.17" stroke="#a8a8a8" stroke-width="0.8" stroke-opacity="0.19"/>
<circle cx="704.2" cy="503.1" r="2.8" fill="rgb(157,157,157)" fill-opacity="0.18" stroke="#a8a8a8" stroke-width="0.8" stroke-opacity="0.18"/>
<circle cx="623.1" cy="720.9" r="3.0" fill="rgb(142,142,142)" fill-opacity="0.28" stroke="#a8a8a8" stroke-width="0.8" stroke-opacity="0.38"/>
<circle cx="763.9" cy="672.4" r="2.7" fill="rgb(142,142,142)" fill-opacity="0.24" stroke="#a8a8a8" stroke-width="0.8" stroke-opacity="0.21"/>
<circle cx="651.6" cy="447.3" r="2.7" fill="rgb(157,157,157)" fill-opacity="0.28" stroke="#a8a8a8" stroke-width="0.8" stroke-opacity="0.18"/>
<circle cx="686.8" cy="639.3" r="3.7" fill="rgb(148,148,148)" fill-opacity="0.27" stroke="#a8a8a8" stroke-width="0.8" stroke-opacity="0.21"/>
<circle cx="893.7" cy="674.7" r="2.9" fill="rgb(139,139,139)" fill-opacity="0.13" stroke="#a8a8a8" stroke-width="0.8" stroke-opacity="0.31"/>
<circle cx="822.4" cy="380.4" r="3.1" fill="rgb(160,160,160)" fill-opacity="0.13" stroke="#a8a8a8" stroke-width="0.8" stroke-opacity="0.18"/>
<circle cx="547.6" cy="536.7" r="2.9" fill="rgb(158,158,158)" fill-opacity="0.13" stroke="#a8a8a8" stroke-width="0.8" stroke-opacity="0.20"/>
<circle cx="968.4" cy="386.8" r="2.7" fill="rgb(143,143,143)" fill-opacity="0.12" stroke="#a8a8a8" stroke-width="0.8" stroke-opacity="0.22"/>
<circle cx="808.2" cy="600.9" r="3.3" fill="rgb(151,151,151)" fill-opacity="0.24" stroke="#a8a8a8" stroke-width="0.8" stroke-opacity="0.16"/>
<circle cx="833.0" cy="589.6" r="2.6" fill="rgb(144,144,144)" fill-opacity="0.17" stroke="#a8a8a8" stroke-width="0.8" stroke-opacity="0.37"/>
<circle cx="653.3" cy="438.5" r="3.6" fill="rgb(154,154,154)" fill-opacity="0.29" stroke="#a8a8a8" stroke-width="0.8" stroke-opacity="0.32"/>
<circle cx="719.2" cy="550.7" r="3.2" fill="rgb(149,149,149)" fill-opacity="0.31" stroke="#a8a8a8" stroke-width="0.8" stroke-opacity="0.22"/>
<circle cx="887.3" cy="386.1" r="2.5" fill="rgb(160,160,160)" fill-opacity="0.17" stroke="#a8a8a8" stroke-width="0.8" stroke-opacity="0.28"/>
<circle cx="958.1" cy="615.0" r="3.1" fill="rgb(153,153,153)" fill-opacity="0.32" stroke="#a8a8a8" stroke-width="0.8" stroke-opacity="0.39"/>
<circle cx="606.6" cy="430.3" r="2.7" fill="rgb(136,136,136)" fill-opacity="0.27" stroke="#a8a8a8" stroke-width="0.8" stroke-opacity="0.36"/>
<circle cx="587.3" cy="406.3" r="2.8" fill="rgb(152,152,152)" fill-opacity="0.27" stroke="#a8a8a8" stroke-width="0.8" stroke-opacity="0.27"/>
<circle cx="825.5" cy="709.4" r="3.8" fill="rgb(135,135,135)" fill-opacity="0.26" stroke="#a8a8a8" stroke-width="0.8" stroke-opacity="0.34"/>
<circle cx="953.7" cy="530.1" r="2.5" fill="rgb(146,146,146)" fill-opacity="0.19" stroke="#a8a8a8" stroke-width="0.8" stroke-opacity="0.25"/>
<circle cx="903.7" cy="614.0" r="3.4" fill="rgb(151,151,151)" fill-opacity="0.15" stroke="#a8a8a8" stroke-width="0.8" stroke-opacity="0.16"/>
<circle cx="708.8" cy="685.1" r="3.4" fill="rgb(155,155,155)" fill-opacity="0.24" stroke="#a8a8a8" stroke-width="0.8" stroke-opacity="0.35"/>
<circle cx="996.2" cy="636.1" r="3.8" fill="rgb(161,161,161)" fill-opacity="0.27" stroke="#a8a8a8" stroke-width="0.8" stroke-opacity="0.35"/>
<circle cx="557.6" cy="393.1" r="3.9" fill="rgb(139,139,139)" fill-opacity="0.18" stroke="#a8a8a8" stroke-width="0.8" stroke-opacity="0.18"/>
<circle cx="823.3" cy="390.7" r="3.6" fill="rgb(140,140,140)" fill-opacity="0.27" stroke="#a8a8a8" stroke-width="0.8" stroke-opacity="0.38"/>
<circle cx="850.0" cy="532.4" r="3.3" fill="rgb(157,157,157)" fill-opacity="0.26" stroke="#a8a8a8" stroke-width="0.8" stroke-opacity="0.21"/>
<circle cx="523.6" cy="695.8" r="3.3" fill="rgb(133,133,133)" fill-opacity="0.23" stroke="#a8a8a8" stroke-width="0.8" stroke-opacity="0.30"/>
<circle cx="660.2" cy="698.1" r="2.6" fill="rgb(136,136,136)" fill-opacity="0.18" stroke="#a8a8a8" stroke-width="0.8" stroke-opacity="0.23"/>
<circle cx="942.6" cy="615.9" r="2.4" fill="rgb(143,143,143)" fill-opacity="0.14" stroke="#a8a8a8" stroke-width="0.8" stroke-opacity="0.33"/>
<circle cx="928.7" cy="413.6" r="3.1" fill="rgb(139,139,139)" fill-opacity="0.18" stroke="#a8a8a8" stroke-width="0.8" stroke-opacity="0.34"/>
<circle cx="987.0" cy="480.1" r="3.2" fill="rgb(141,141,141)" fill-opacity="0.13" stroke="#a8a8a8" stroke-width="0.8" stroke-opacity="0.30"/>
<circle cx="594.3" cy="626.9" r="3.5" fill="rgb(136,136,136)" fill-opacity="0.24" stroke="#a8a8a8" stroke-width="0.8" stroke-opacity="0.20"/>
<circle cx="884.8" cy="482.7" r="3.4" fill="rgb(151,151,151)" fill-opacity="0.24" stroke="#a8a8a8" stroke-width="0.8" stroke-opacity="0.20"/>
<circle cx="918.8" cy="507.4" r="3.6" fill="rgb(146,146,146)" fill-opacity="0.21" stroke="#a8a8a8" stroke-width="0.8" stroke-opacity="0.33"/>
<circle cx="682.9" cy="654.1" r="3.0" fill="rgb(154,154,154)" fill-opacity="0.26" stroke="#a8a8a8" stroke-width="0.8" stroke-opacity="0.39"/>
<circle cx="715.3" cy="505.3" r="4.0" fill="rgb(147,147,147)" fill-opacity="0.20" stroke="#a8a8a8" stroke-width="0.8" stroke-opacity="0.33"/>
<circle cx="639.6" cy="723.8" r="3.6" fill="rgb(151,151,151)" fill-opacity="0.18" stroke="#a8a8a8" stroke-width="0.8" stroke-opacity="0.35"/>
<circle cx="959.3" cy="664.1" r="3.8" fill="rgb(134,134,134)" fill-opacity="0.27" stroke="#a8a8a8" stroke-width="0.8" stroke-opacity="0.37"/>
<circle cx="747.6" cy="408.8" r="3.2" fill="rgb(139,139,139)" fill-opacity="0.13" stroke="#a8a8a8" stroke-width="0.8" stroke-opacity="0.38"/>
<circle cx="917.8" cy="607.8" r="3.5" fill="rgb(152,152,152)" fill-opacity="0.21" stroke="#a8a8a8" stroke-width="0.8" stroke-opacity="0.18"/>
<circle cx="658.0" cy="561.7" r="3.2" fill="rgb(141,141,141)" fill-opacity="0.15" stroke="#a8a8a8" stroke-width="0.8" stroke-opacity="0.24"/>
<circle cx="608.7" cy="714.1" r="2.6" fill="rgb(143,143,143)" fill-opacity="0.23" stroke="#a8a8a8" stroke-width="0.8" stroke-opacity="0.21"/>
<circle cx="756.6" cy="578.4" r="2.3" fill="rgb(160,160,160)" fill-opacity="0.23" stroke="#a8a8a8" stroke-width="0.8" stroke-opacity="0.19"/>
<circle cx="989.6" cy="440.4" r="3.5" fill="rgb(146,146,146)" fill-opacity="0.17" stroke="#a8a8a8" stroke-width="0.8" stroke-opacity="0.24"/>
<circle cx="750.0" cy="513.2" r="2.6" fill="rgb(144,144,144)" fill-opacity="0.21" stroke="#a8a8a8" stroke-width="0.8" stroke-opacity="0.32"/>
<circle cx="614.4" cy="396.3" r="3.7" fill="rgb(134,134,134)" fill-opacity="0.25" stroke="#a8a8a8" stroke-width="0.8" stroke-opacity="0.29"/>
<circle cx="986.1" cy="448.2" r="3.8" fill="rgb(135,135,135)" fill-opacity="0.15" stroke="#a8a8a8" stroke-width="0.8" stroke-opacity="0.31"/>
<circle cx="599.2" cy="590.6" r="3.4" fill="rgb(135,135,135)" fill-opacity="0.28" stroke="#a8a8a8" stroke-width="0.8" stroke-opacity="0.26"/>
<circle cx="982.3" cy="384.1" r="2.3" fill="rgb(150,150,150)" fill-opacity="0.17" stroke="#a8a8a8" stroke-width="0.8" stroke-opacity="0.25"/>
<circle cx="954.4" cy="503.4" r="2.3" fill="rgb(136,136,136)" fill-opacity="0.23" stroke="#a8a8a8" stroke-width="0.8" stroke-opacity="0.34"/>
<circle cx="882.2" cy="549.3" r="2.6" fill="rgb(135,135,135)" fill-opacity="0.16" stroke="#a8a8a8" stroke-width="0.8" stroke-opacity="0.20"/>
<circle cx="953.7" cy="526.4" r="2.4" fill="rgb(151,151,151)" fill-opacity="0.21" stroke="#a8a8a8" stroke-width="0.8" stroke-opacity="0.16"/>
<circle cx="988.3" cy="719.7" r="2.7" fill="rgb(156,156,156)" fill-opacity="0.21" stroke="#a8a8a8" stroke-width="0.8" stroke-opacity="0.32"/>
<circle cx="832.3" cy="642.7" r="3.0" fill="rgb(136,136,136)" fill-opacity="0.28" stroke="#a8a8a8" stroke-width="0.8" stroke-opacity="0.26"/>
<circle cx="731.3" cy="652.6" r="3.4" fill="rgb(161,161,161)" fill-opacity="0.20" stroke="#a8a8a8" stroke-width="0.8" stroke-opacity="0.31"/>
<circle cx="560.0" cy="420.4" r="2.7" fill="rgb(140,140,140)" fill-opacity="0.21" stroke="#a8a8a8" stroke-width="0.8" stroke-opacity="0.21"/>
<circle cx="967.5" cy="533.7" r="2.9" fill="rgb(159,159,159)" fill-opacity="0.28" stroke="#a8a8a8" stroke-width="0.8" stroke-opacity="0.34"/>
<circle cx="956.9" cy="644.4" r="2.8" fill="rgb(160,160,160)" fill-opacity="0.13" stroke="#a8a8a8" stroke-width="0.8" stroke-opacity="0.37"/>
<circle cx="720.5" cy="501.2" r="3.1" fill="rgb(143,143,143)" fill-opacity="0.29" stroke="#a8a8a8" stroke-width="0.8" stroke-opacity="0.35"/>
<circle cx="876.9" cy="463.5" r="3.0" fill="rgb(134,134,134)" fill-opacity="0.27" stroke="#a8a8a8" stroke-width="0.8" stroke-opacity="0.16"/>
<circle cx="709.3" cy="434.2" r="3.7" fill="rgb(159,159,159)" fill-opacity="0.18" stroke="#a8a8a8" stroke-width="0.8" stroke-opacity="0.37"/>
<circle cx="605.1" cy="635.3" r="2.7" fill="rgb(145,145,145)" fill-opacity="0.24" stroke="#a8a8a8" stroke-width="0.8" stroke-opacity="0.24"/>
<circle cx="614.6" cy="591.0" r="3.6" fill="rgb(161,161,161)" fill-opacity="0.18" stroke="#a8a8a8" stroke-width="0.8" stroke-opacity="0.21"/>
<circle cx="556.5" cy="453.5" r="2.2" fill="rgb(139,139,139)" fill-opacity="0.27" stroke="#a8a8a8" stroke-width="0.8" stroke-opacity="0.18"/>
<circle cx="829.0" cy="485.9" r="2.6" fill="rgb(146,146,146)" fill-opacity="0.21" stroke="#a8a8a8" stroke-width="0.8" stroke-opacity="0.26"/>
<circle cx="576.2" cy="582.7" r="3.8" fill="rgb(132,132,132)" fill-opacity="0.14" stroke="#a8a8a8" stroke-width="0.8" stroke-opacity="0.30"/>
<circle cx="672.3" cy="470.4" r="4.0" fill="rgb(141,141,141)" fill-opacity="0.30" stroke="#a8a8a8" stroke-width="0.8" stroke-opacity="0.30"/>
<circle cx="534.5" cy="475.5" r="2.3" fill="rgb(148,148,148)" fill-opacity="0.30" stroke="#a8a8a8" stroke-width="0.8" stroke-opacity="0.16"/>
<circle cx="533.4" cy="390.5" r="2.7" fill="rgb(136,136,136)" fill-opacity="0.31" stroke="#a8a8a8" stroke-width="0.8" stroke-opacity="0.34"/>
<circle cx="969.0" cy="588.2" r="3.7" fill="rgb(153,153,153)" fill-opacity="0.18" stroke="#a8a8a8" stroke-width="0.8" stroke-opacity="0.31"/>
<circle cx="658.3" cy="546.7" r="3.7" fill="rgb(138,138,138)" fill-opacity="0.15" stroke="#a8a8a8" stroke-width="0.8" stroke-opacity="0.36"/>
<circle cx="741.4" cy="442.4" r="2.8" fill="rgb(140,140,140)" fill-opacity="0.30" stroke="#a8a8a8" stroke-width="0.8" stroke-opacity="0.27"/>
<circle cx="959.8" cy="548.8" r="3.9" fill="rgb(159,159,159)" fill-opacity="0.23" stroke="#a8a8a8" stroke-width="0.8" stroke-opacity="0.35"/>
<circle cx="657.3" cy="421.5" r="3.3" fill="rgb(133,133,133)" fill-opacity="0.21" stroke="#a8a8a8" stroke-width="0.8" stroke-opacity="0.31"/>
<circle cx="886.9" cy="701.9" r="2.6" fill="rgb(157,157,157)" fill-opacity="0.22" stroke="#a8a8a8" stroke-width="0.8" stroke-opacity="0.31"/>
<circle cx="740.8" cy="684.4" r="2.7" fill="rgb(132,132,132)" fill-opacity="0.29" stroke="#a8a8a8" stroke-width="0.8" stroke-opacity="0.32"/>
<circle cx="862.5" cy="424.6" r="2.6" fill="rgb(150,150,150)" fill-opacity="0.27" stroke="#a8a8a8" stroke-width="0.8" stroke-opacity="0.32"/>
<circle cx="804.9" cy="615.1" r="2.5" fill="rgb(145,145,145)" fill-opacity="0.19" stroke="#a8a8a8" stroke-width="0.8" stroke-opacity="0.33"/>
<circle cx="767.3" cy="638.5" r="3.5" fill="rgb(159,159,159)" fill-opacity="0.29" stroke="#a8a8a8" stroke-width="0.8" stroke-opacity="0.16"/>
<circle cx="839.2" cy="514.1" r="2.4" fill="rgb(146,146,146)" fill-opacity="0.29" stroke="#a8a8a8" stroke-width="0.8" stroke-opacity="0.35"/>
<circle cx="570.6" cy="452.6" r="3.5" fill="rgb(161,161,161)" fill-opacity="0.14" stroke="#a8a8a8" stroke-width="0.8" stroke-opacity="0.17"/>
<circle cx="852.5" cy="601.1" r="3.7" fill="rgb(137,137,137)" fill-opacity="0.22" stroke="#a8a8a8" stroke-width="0.8" stroke-opacity="0.35"/>
<circle cx="702.8" cy="523.5" r="2.3" fill="rgb(155,155,155)" fill-opacity="0.21" stroke="#a8a8a8" stroke-width="0.8" stroke-opacity="0.24"/>
<circle cx="833.3" cy="686.2" r="3.8" fill="rgb(142,142,142)" fill-opacity="0.24" stroke="#a8a8a8" stroke-width="0.8" stroke-opacity="0.25"/>
<circle cx="921.0" cy="664.9" r="3.4" fill="rgb(156,156,156)" fill-opacity="0.22" stroke="#a8a8a8" stroke-width="0.8" stroke-opacity="0.29"/>
<circle cx="597.7" cy="634.1" r="2.7" fill="rgb(148,148,148)" fill-opacity="0.12" stroke="#a8a8a8" stroke-width="0.8" stroke-opacity="0.25"/>
<circle cx="814.4" cy="606.4" r="3.2" fill="rgb(139,139,139)" fill-opacity="0.25" stroke="#a8a8a8" stroke-width="0.8" stroke-opacity="0.32"/>
<circle cx="802.0" cy="515.4" r="2.5" fill="rgb(148,148,148)" fill-opacity="0.13" stroke="#a8a8a8" stroke-width="0.8" stroke-opacity="0.38"/>
<circle cx="688.5" cy="481.6" r="3.0" fill="rgb(135,135,135)" fill-opacity="0.30" stroke="#a8a8a8" stroke-width="0.8" stroke-opacity="0.39"/>
<circle cx="913.5" cy="586.0" r="3.9" fill="rgb(141,141,141)" fill-opacity="0.21" stroke="#a8a8a8" stroke-width="0.8" stroke-opacity="0.19"/>
<circle cx="723.0" cy="713.0" r="3.4" fill="rgb(148,148,148)" fill-opacity="0.23" stroke="#a8a8a8" stroke-width="0.8" stroke-opacity="0.31"/>
<circle cx="811.5" cy="542.5" r="3.1" fill="rgb(135,135,135)" fill-opacity="0.21" stroke="#a8a8a8" stroke-width="0.8" stroke-opacity="0.32"/>
<circle cx="626.8" cy="479.4" r="3.6" fill="rgb(136,136,136)" fill-opacity="0.16" stroke="#a8a8a8" stroke-width="0.8" stroke-opacity="0.35"/>
<circle cx="577.8" cy="487.9" r="3.8" fill="rgb(144,144,144)" fill-opacity="0.28" stroke="#a8a8a8" stroke-width="0.8" stroke-opacity="0.34"/>
<circle cx="529.5" cy="458.8" r="3.8" fill="rgb(141,141,141)" fill-opacity="0.20" stroke="#a8a8a8" stroke-width="0.8" stroke-opacity="0.38"/>
<circle cx="572.4" cy="728.8" r="3.4" fill="rgb(150,150,150)" fill-opacity="0.12" stroke="#a8a8a8" stroke-width="0.8" stroke-opacity="0.31"/>
<circle cx="913.0" cy="521.5" r="2.3" fill="rgb(135,135,135)" fill-opacity="0.14" stroke="#a8a8a8" stroke-width="0.8" stroke-opacity="0.25"/>
<circle cx="910.6" cy="401.1" r="2.9" fill="rgb(144,144,144)" fill-opacity="0.20" stroke="#a8a8a8" stroke-width="0.8" stroke-opacity="0.28"/>
<circle cx="775.9" cy="453.3" r="3.6" fill="rgb(147,147,147)" fill-opacity="0.19" stroke="#a8a8a8" stroke-width="0.8" stroke-opacity="0.39"/>
<circle cx="857.4" cy="438.5" r="3.9" fill="rgb(149,149,149)" fill-opacity="0.19" stroke="#a8a8a8" stroke-width="0.8" stroke-opacity="0.21"/>
<circle cx="552.4" cy="467.6" r="2.7" fill="rgb(142,142,142)" fill-opacity="0.32" stroke="#a8a8a8" stroke-width="0.8" stroke-opacity="0.30"/>
<circle cx="611.9" cy="513.0" r="3.0" fill="rgb(134,134,134)" fill-opacity="0.21" stroke="#a8a8a8" stroke-width="0.8" stroke-opacity="0.28"/>
<circle cx="954.8" cy="535.5" r="3.4" fill="rgb(152,152,152)" fill-opacity="0.15" stroke="#a8a8a8" stroke-width="0.8" stroke-opacity="0.29"/>
<circle cx="734.6" cy="438.4" r="2.2" fill="rgb(161,161,161)" fill-opacity="0.14" stroke="#a8a8a8" stroke-width="0.8" stroke-opacity="0.37"/>
<circle cx="695.2" cy="409.3" r="3.9" fill="rgb(151,151,151)" fill-opacity="0.20" stroke="#a8a8a8" stroke-width="0.8" stroke-opacity="0.36"/>
<circle cx="858.3" cy="529.2" r="3.5" fill="rgb(154,154,154)" fill-opacity="0.15" stroke="#a8a8a8" stroke-width="0.8" stroke-opacity="0.33"/>
<circle cx="958.1" cy="626.9" r="3.6" fill="rgb(161,161,161)" fill-opacity="0.28" stroke="#a8a8a8" stroke-width="0.8" stroke-opacity="0.27"/>
<circle cx="788.7" cy="655.3" r="3.3" fill="rgb(134,134,134)" fill-opacity="0.13" stroke="#a8a8a8" stroke-width="0.8" stroke-opacity="0.22"/>
<circle cx="911.1" cy="459.6" r="2.8" fill="rgb(156,156,156)" fill-opacity="0.15" stroke="#a8a8a8" stroke-width="0.8" stroke-opacity="0.22"/>
<circle cx="642.6" cy="397.0" r="3.5" fill="rgb(141,141,141)" fill-opacity="0.20" stroke="#a8a8a8" stroke-width="0.8" stroke-opacity="0.23"/>
<circle cx="551.5" cy="683.3" r="2.4" fill="rgb(140,140,140)" fill-opacity="0.26" stroke="#a8a8a8" stroke-width="0.8" stroke-opacity="0.24"/>
<circle cx="762.3" cy="498.5" r="3.2" fill="rgb(141,141,141)" fill-opacity="0.21" stroke="#a8a8a8" stroke-width="0.8" stroke-opacity="0.15"/>
<circle cx="527.3" cy="562.0" r="3.7" fill="rgb(161,161,161)" fill-opacity="0.28" stroke="#a8a8a8" stroke-width="0.8" stroke-opacity="0.28"/>
<circle cx="828.0" cy="621.0" r="3.5" fill="rgb(161,161,161)" fill-opacity="0.19" stroke="#a8a8a8" stroke-width="0.8" stroke-opacity="0.26"/>
<circle cx="892.4" cy="457.6" r="2.4" fill="rgb(158,158,158)" fill-opacity="0.12" stroke="#a8a8a8" stroke-width="0.8" stroke-opacity="0.37"/>
<circle cx="957.3" cy="439.5" r="3.6" fill="rgb(140,140,140)" fill-opacity="0.17" stroke="#a8a8a8" stroke-width="0.8" stroke-opacity="0.40"/>
<circle cx="944.0" cy="654.4" r="3.0" fill="rgb(161,161,161)" fill-opacity="0.23" stroke="#a8a8a8" stroke-width="0.8" stroke-opacity="0.40"/>
<circle cx="864.8" cy="396.8" r="3.6" fill="rgb(157,157,157)" fill-opacity="0.30" stroke="#a8a8a8" stroke-width="0.8" stroke-opacity="0.31"/>
<circle cx="538.0" cy="691.4" r="3.0" fill="rgb(137,137,137)" fill-opacity="0.16" stroke="#a8a8a8" stroke-width="0.8" stroke-opacity="0.20"/>
<circle cx="909.9" cy="406.1" r="3.9" fill="rgb(132,132,132)" fill-opacity="0.26" stroke="#a8a8a8" stroke-width="0.8" stroke-opacity="0.21"/>
<circle cx="766.1" cy="443.6" r="3.8" fill="rgb(136,136,136)" fill-opacity="0.21" stroke="#a8a8a8" stroke-width="0.8" stroke-opacity="0.30"/>
<circle cx="736.6" cy="457.6" r="2.7" fill="rgb(160,160,160)" fill-opacity="0.15" stroke="#a8a8a8" stroke-width="0.8" stroke-opacity="0.15"/>
<circle cx="954.4" cy="698.2" r="3.4" fill="rgb(146,146,146)" fill-opacity="0.31" stroke="#a8a8a8" stroke-width="0.8" stroke-opacity="0.25"/>
<circle cx="526.2" cy="536.2" r="3.2" fill="rgb(148,148,148)" fill-opacity="0.30" stroke="#a8a8a8" stroke-width="0.8" stroke-opacity="0.17"/>
<circle cx="928.3" cy="567.5" r="3.5" fill="rgb(144,144,144)" fill-opacity="0.18" stroke="#a8a8a8" stroke-width="0.8" stroke-opacity="0.23"/>
<circle cx="651.2" cy="542.8" r="3.3" fill="rgb(156,156,156)" fill-opacity="0.15" stroke="#a8a8a8" stroke-width="0.8" stroke-opacity="0.26"/>
<circle cx="774.3" cy="673.7" r="3.5" fill="rgb(150,150,150)" fill-opacity="0.25" stroke="#a8a8a8" stroke-width="0.8" stroke-opacity="0.26"/>
<circle cx="905.5" cy="680.6" r="3.2" fill="rgb(135,135,135)" fill-opacity="0.21" stroke="#a8a8a8" stroke-width="0.8" stroke-opacity="0.22"/>
<circle cx="611.7" cy="486.5" r="3.7" fill="rgb(142,142,142)" fill-opacity="0.21" stroke="#a8a8a8" stroke-width="0.8" stroke-opacity="0.25"/>
<circle cx="608.2" cy="585.1" r="3.0" fill="rgb(160,160,160)" fill-opacity="0.24" stroke="#a8a8a8" stroke-width="0.8" stroke-opacity="0.39"/>
<circle cx="930.5" cy="556.2" r="2.2" fill="rgb(138,138,138)" fill-opacity="0.14" stroke="#a8a8a8" stroke-width="0.8" stroke-opacity="0.33"/>
<circle cx="585.8" cy="611.6" r="2.8" fill="rgb(146,146,146)" fill-opacity="0.27" stroke="#a8a8a8" stroke-width="0.8" stroke-opacity="0.22"/>
<circle cx="602.1" cy="483.4" r="3.9" fill="rgb(148,148,148)" fill-opacity="0.18" stroke="#a8a8a8" stroke-width="0.8" stroke-opacity="0.19"/>
<circle cx="552.6" cy="499.9" r="3.3" fill="rgb(145,145,145)" fill-opacity="0.28" stroke="#a8a8a8" stroke-width="0.8" stroke-opacity="0.40"/>
<circle cx="792.6" cy="503.8" r="3.6" fill="rgb(134,134,134)" fill-opacity="0.27" stroke="#a8a8a8" stroke-width="0.8" stroke-opacity="0.37"/>
<circle cx="891.0" cy="415.4" r="3.2" fill="rgb(156,156,156)" fill-opacity="0.20" stroke="#a8a8a8" stroke-width="0.8" stroke-opacity="0.36"/>
<circle cx="599.4" cy="569.8" r="3.2" fill="rgb(155,155,155)" fill-opacity="0.20" stroke="#a8a8a8" stroke-width="0.8" stroke-opacity="0.21"/>
<circle cx="860.4" cy="421.0" r="2.9" fill="rgb(146,146,146)" fill-opacity="0.28" stroke="#a8a8a8" stroke-width="0.8" stroke-opacity="0.26"/>
<circle cx="788.7" cy="623.5" r="3.4" fill="rgb(160,160,160)" fill-opacity="0.21" stroke="#a8a8a8" stroke-width="0.8" stroke-opacity="0.29"/>
<circle cx="529.3" cy="448.9" r="2.6" fill="rgb(138,138,138)" fill-opacity="0.22" stroke="#a8a8a8" stroke-width="0.8" stroke-opacity="0.20"/>
<circle cx="792.5" cy="676.5" r="2.3" fill="rgb(139,139,139)" fill-opacity="0.22" stroke="#a8a8a8" stroke-width="0.8" stroke-opacity="0.16"/>
<circle cx="588.5" cy="586.4" r="2.9" fill="rgb(159,159,159)" fill-opacity="0.23" stroke="#a8a8a8" stroke-width="0.8" stroke-opacity="0.34"/>
<circle cx="685.3" cy="515.4" r="3.7" fill="rgb(150,150,150)" fill-opacity="0.30" stroke="#a8a8a8" stroke-width="0.8" stroke-opacity="0.21"/>
<circle cx="574.8" cy="623.1" r="2.4" fill="rgb(134,134,134)" fill-opacity="0.20" stroke="#a8a8a8" stroke-width="0.8" stroke-opacity="0.32"/>
<circle cx="692.3" cy="650.4" r="3.0" fill="rgb(140,140,140)" fill-opacity="0.23" stroke="#a8a8a8" stroke-width="0.8" stroke-opacity="0.30"/>
<circle cx="591.7" cy="592.4" r="2.5" fill="rgb(161,161,161)" fill-opacity="0.23" stroke="#a8a8a8" stroke-width="0.8" stroke-opacity="0.20"/>
<circle cx="540.3" cy="457.0" r="2.8" fill="rgb(149,149,149)" fill-opacity="0.25" stroke="#a8a8a8" stroke-width="0.8" stroke-opacity="0.33"/>
<circle cx="730.9" cy="606.2" r="3.2" fill="rgb(140,140,140)" fill-opacity="0.16" stroke="#a8a8a8" stroke-width="0.8" stroke-opacity="0.25"/>
<circle cx="849.6" cy="428.3" r="3.3" fill="rgb(132,132,132)" fill-opacity="0.16" stroke="#a8a8a8" stroke-width="0.8" stroke-opacity="0.32"/>
<circle cx="906.3" cy="655.4" r="3.4" fill="rgb(139,139,139)" fill-opacity="0.32" stroke="#a8a8a8" stroke-width="0.8" stroke-opacity="0.30"/>
<circle cx="955.0" cy="716.2" r="2.6" fill="rgb(161,161,161)" fill-opacity="0.14" stroke="#a8a8a8" stroke-width="0.8" stroke-opacity="0.31"/>
<circle cx="642.7" cy="413.8" r="3.2" fill="rgb(138,138,138)" fill-opacity="0.28" stroke="#a8a8a8" stroke-width="0.8" stroke-opacity="0.27"/>
<circle cx="648.9" cy="384.2" r="3.4" fill="rgb(151,151,151)" fill-opacity="0.28" stroke="#a8a8a8" stroke-width="0.8" stroke-opacity="0.25"/>
<circle cx="957.3" cy="388.5" r="3.9" fill="rgb(154,154,154)" fill-opacity="0.14" stroke="#a8a8a8" stroke-width="0.8" stroke-opacity="0.40"/>
<circle cx="562.9" cy="649.6" r="2.6" fill="rgb(152,152,152)" fill-opacity="0.29" stroke="#a8a8a8" stroke-width="0.8" stroke-opacity="0.18"/>
<circle cx="675.1" cy="701.4" r="3.1" fill="rgb(136,136,136)" fill-opacity="0.14" stroke="#a8a8a8" stroke-width="0.8" stroke-opacity="0.18"/>
<circle cx="570.6" cy="508.1" r="3.6" fill="rgb(145,145,145)" fill-opacity="0.14" stroke="#a8a8a8" stroke-width="0.8" stroke-opacity="0.24"/>
<circle cx="751.2" cy="540.9" r="3.4" fill="rgb(152,152,152)" fill-opacity="0.27" stroke="#a8a8a8" stroke-width="0.8" stroke-opacity="0.28"/>
<circle cx="534.3" cy="656.3" r="3.6" fill="rgb(153,153,153)" fill-opacity="0.21" stroke="#a8a8a8" stroke-width="0.8" stroke-opacity="0.37"/>
<circle cx="566.0" cy="645.7" r="3.3" fill="rgb(153,153,153)" fill-opacity="0.13" stroke="#a8a8a8" stroke-width="0.8" stroke-opacity="0.39"/>
<circle cx="534.5" cy="443.5" r="3.1" fill="rgb(149,149,149)" fill-opacity="0.16" stroke="#a8a8a8" stroke-width="0.8" stroke-opacity="0.22"/>
<circle cx="957.4" cy="495.4" r="3.0" fill="rgb(135,135,135)" fill-opacity="0.23" stroke="#a8a8a8" stroke-width="0.8" stroke-opacity="0.33"/>
<circle cx="874.1" cy="463.5" r="2.9" fill="rgb(151,151,151)" fill-opacity="0.31" stroke="#a8a8a8" stroke-width="0.8" stroke-opacity="0.34"/>
<circle cx="624.8" cy="403.5" r="2.8" fill="rgb(147,147,147)" fill-opacity="0.17" stroke="#a8a8a8" stroke-width="0.8" stroke-opacity="0.35"/>
<circle cx="642.6" cy="424.5" r="3.3" fill="rgb(154,154,154)" fill-opacity="0.16" stroke="#a8a8a8" stroke-width="0.8" stroke-opacity="0.23"/>
<circle cx="644.2" cy="390.3" r="3.4" fill="rgb(133,133,133)" fill-opacity="0.24" stroke="#a8a8a8" stroke-width="0.8" stroke-opacity="0.31"/>
<circle cx="773.4" cy="395.2" r="2.3" fill="rgb(147,147,147)" fill-opacity="0.22" stroke="#a8a8a8" stroke-width="0.8" stroke-opacity="0.15"/>
<circle cx="525.1" cy="657.6" r="2.8" fill="rgb(153,153,153)" fill-opacity="0.16" stroke="#a8a8a8" stroke-width="0.8" stroke-opacity="0.22"/>
<circle cx="949.3" cy="451.0" r="2.9" fill="rgb(146,146,146)" fill-opacity="0.26" stroke="#a8a8a8" stroke-width="0.8" stroke-opacity="0.23"/>
<circle cx="830.4" cy="459.8" r="3.4" fill="rgb(132,132,132)" fill-opacity="0.16" stroke="#a8a8a8" stroke-width="0.8" stroke-opacity="0.17"/>
<circle cx="568.8" cy="648.6" r="3.0" fill="rgb(155,155,155)" fill-opacity="0.31" stroke="#a8a8a8" stroke-width="0.8" stroke-opacity="0.20"/>
<circle cx="887.6" cy="728.9" r="2.8" fill="rgb(134,134,134)" fill-opacity="0.21" stroke="#a8a8a8" stroke-width="0.8" stroke-opacity="0.29"/>
<circle cx="848.9" cy="584.9" r="2.7" fill="rgb(136,136,136)" fill-opacity="0.19" stroke="#a8a8a8" stroke-width="0.8" stroke-opacity="0.27"/>
<circle cx="608.7" cy="487.2" r="3.8" fill="rgb(144,144,144)" fill-opacity="0.15" stroke="#a8a8a8" stroke-width="0.8" stroke-opacity="0.32"/>
<circle cx="689.7" cy="564.9" r="2.9" fill="rgb(135,135,135)" fill-opacity="0.27" stroke="#a8a8a8" stroke-width="0.8" stroke-opacity="0.29"/>
<circle cx="992.7" cy="381.7" r="3.2" fill="rgb(144,144,144)" fill-opacity="0.21" stroke="#a8a8a8" stroke-width="0.8" stroke-opacity="0.33"/>
<circle cx="635.9" cy="523.6" r="2.4" fill="rgb(149,149,149)" fill-opacity="0.21" stroke="#a8a8a8" stroke-width="0.8" stroke-opacity="0.16"/>
<circle cx="630.1" cy="521.9" r="3.2" fill="rgb(134,134,134)" fill-opacity="0.24" stroke="#a8a8a8" stroke-width="0.8" stroke-opacity="0.35"/>
<circle cx="679.1" cy="404.0" r="2.5" fill="rgb(154,154,154)" fill-opacity="0.23" stroke="#a8a8a8" stroke-width="0.8" stroke-opacity="0.18"/>
<circle cx="600.3" cy="679.1" r="3.4" fill="rgb(152,152,152)" fill-opacity="0.15" stroke="#a8a8a8" stroke-width="0.8" stroke-opacity="0.40"/>
<circle cx="641.4" cy="507.1" r="2.6" fill="rgb(160,160,160)" fill-opacity="0.25" stroke="#a8a8a8" stroke-width="0.8" stroke-opacity="0.29"/>
<circle cx="718.0" cy="637.5" r="3.0" fill="rgb(145,145,145)" fill-opacity="0.15" stroke="#a8a8a8" stroke-width="0.8" stroke-opacity="0.36"/>
<circle cx="551.6" cy="705.8" r="3.8" fill="rgb(147,147,147)" fill-opacity="0.15" stroke="#a8a8a8" stroke-width="0.8" stroke-opacity="0.20"/>
<circle cx="586.8" cy="631.6" r="2.9" fill="rgb(161,161,161)" fill-opacity="0.19" stroke="#a8a8a8" stroke-width="0.8" stroke-opacity="0.23"/>
<circle cx="843.5" cy="695.3" r="3.1" fill="rgb(135,135,135)" fill-opacity="0.15" stroke="#a8a8a8" stroke-width="0.8" stroke-opacity="0.33"/>
<circle cx="886.0" cy="735.4" r="3.2" fill="rgb(155,155,155)" fill-opacity="0.25" stroke="#a8a8a8" stroke-width="0.8" stroke-opacity="0.29"/>
<circle cx="906.3" cy="453.2" r="2.5" fill="rgb(141,141,141)" fill-opacity="0.20" stroke="#a8a8a8" stroke-width="0.8" stroke-opacity="0.39"/>
<circle cx="914.3" cy="647.2" r="3.8" fill="rgb(143,143,143)" fill-opacity="0.32" stroke="#a8a8a8" stroke-width="0.8" stroke-opacity="0.38"/>
<circle cx="608.5" cy="515.6" r="2.8" fill="rgb(137,137,137)" fill-opacity="0.31" stroke="#a8a8a8" stroke-width="0.8" stroke-opacity="0.25"/>
<circle cx="935.4" cy="594.1" r="2.3" fill="rgb(145,145,145)" fill-opacity="0.28" stroke="#a8a8a8" stroke-width="0.8" stroke-opacity="0.23"/>
<circle cx="659.9" cy="413.6" r="3.1" fill="rgb(160,160,160)" fill-opacity="0.12" stroke="#a8a8a8" stroke-width="0.8" stroke-opacity="0.37"/>
<circle cx="806.7" cy="480.6" r="3.8" fill="rgb(159,159,159)" fill-opacity="0.31" stroke="#a8a8a8" stroke-width="0.8" stroke-opacity="0.27"/>
<circle cx="718.1" cy="618.6" r="3.8" fill="rgb(142,142,142)" fill-opacity="0.19" stroke="#a8a8a8" stroke-width="0.8" stroke-opacity="0.25"/>
<circle cx="530.1" cy="681.6" r="3.0" fill="rgb(146,146,146)" fill-opacity="0.25" stroke="#a8a8a8" stroke-width="0.8" stroke-opacity="0.35"/>
<circle cx="857.2" cy="499.8" r="2.7" fill="rgb(141,141,141)" fill-opacity="0.23" stroke="#a8a8a8" stroke-width="0.8" stroke-opacity="0.35"/>
<circle cx="523.8" cy="597.3" r="3.7" fill="rgb(148,148,148)" fill-opacity="0.20" stroke="#a8a8a8" stroke-width="0.8" stroke-opacity="0.27"/>
<circle cx="766.0" cy="605.1" r="2.3" fill="rgb(155,155,155)" fill-opacity="0.23" stroke="#a8a8a8" stroke-width="0.8" stroke-opacity="0.22"/>
<circle cx="957.6" cy="523.1" r="3.6" fill="rgb(140,140,140)" fill-opacity="0.23" stroke="#a8a8a8" stroke-width="0.8" stroke-opacity="0.20"/>
<circle cx="650.8" cy="498.2" r="2.5" fill="rgb(154,154,154)" fill-opacity="0.21" stroke="#a8a8a8" stroke-width="0.8" stroke-opacity="0.24"/>
<circle cx="799.7" cy="462.5" r="3.0" fill="rgb(149,149,149)" fill-opacity="0.24" stroke="#a8a8a8" stroke-width="0.8" stroke-opacity="0.26"/>
<circle cx="875.2" cy="691.2" r="3.9" fill="rgb(148,148,148)" fill-opacity="0.31" stroke="#a8a8a8" stroke-width="0.8" stroke-opacity="0.38"/>
<circle cx="833.2" cy="428.3" r="3.4" fill="rgb(147,147,147)" fill-opacity="0.26" stroke="#a8a8a8" stroke-width="0.8" stroke-opacity="0.22"/>
<circle cx="994.7" cy="504.3" r="4.0" fill="rgb(140,140,140)" fill-opacity="0.22" stroke="#a8a8a8" stroke-width="0.8" stroke-opacity="0.32"/>
<circle cx="644.2" cy="526.0" r="3.4" fill="rgb(154,154,154)" fill-opacity="0.30" stroke="#a8a8a8" stroke-width="0.8" stroke-opacity="0.29"/>
<circle cx="980.2" cy="481.2" r="3.3" fill="rgb(154,154,154)" fill-opacity="0.14" stroke="#a8a8a8" stroke-width="0.8" stroke-opacity="0.35"/>
<circle cx="911.5" cy="582.0" r="3.9" fill="rgb(152,152,152)" fill-opacity="0.19" stroke="#a8a8a8" stroke-width="0.8" stroke-opacity="0.35"/>
<circle cx="768.0" cy="625.3" r="4.0" fill="rgb(152,152,152)" fill-opacity="0.28" stroke="#a8a8a8" stroke-width="0.8" stroke-opacity="0.35"/>
<circle cx="615.8" cy="393.5" r="2.3" fill="rgb(145,145,145)" fill-opacity="0.31" stroke="#a8a8a8" stroke-width="0.8" stroke-opacity="0.26"/>
<circle cx="961.6" cy="485.3" r="2.5" fill="rgb(144,144,144)" fill-opacity="0.29" stroke="#a8a8a8" stroke-width="0.8" stroke-opacity="0.39"/>
<circle cx="777.4" cy="516.5" r="3.6" fill="rgb(144,144,144)" fill-opacity="0.18" stroke="#a8a8a8" stroke-width="0.8" stroke-opacity="0.34"/>
<circle cx="559.7" cy="658.9" r="3.9" fill="rgb(135,135,135)" fill-opacity="0.28" stroke="#a8a8a8" stroke-width="0.8" stroke-opacity="0.16"/>
<circle cx="579.7" cy="485.1" r="4.0" fill="rgb(133,133,133)" fill-opacity="0.21" stroke="#a8a8a8" stroke-width="0.8" stroke-opacity="0.26"/>
<circle cx="604.6" cy="731.1" r="2.6" fill="rgb(159,159,159)" fill-opacity="0.23" stroke="#a8a8a8" stroke-width="0.8" stroke-opacity="0.33"/>
<circle cx="875.4" cy="622.2" r="3.7" fill="rgb(158,158,158)" fill-opacity="0.15" stroke="#a8a8a8" stroke-width="0.8" stroke-opacity="0.17"/>
<circle cx="736.8" cy="418.6" r="3.3" fill="rgb(160,160,160)" fill-opacity="0.22" stroke="#a8a8a8" stroke-width="0.8" stroke-opacity="0.19"/>
<circle cx="575.8" cy="571.0" r="3.5" fill="rgb(156,156,156)" fill-opacity="0.27" stroke="#a8a8a8" stroke-width="0.8" stroke-opacity="0.27"/>
<circle cx="938.4" cy="574.2" r="3.4" fill="rgb(132,132,132)" fill-opacity="0.22" stroke="#a8a8a8" stroke-width="0.8" stroke-opacity="0.17"/>
<circle cx="621.6" cy="488.1" r="3.2" fill="rgb(134,134,134)" fill-opacity="0.26" stroke="#a8a8a8" stroke-width="0.8" stroke-opacity="0.25"/>
<circle cx="624.2" cy="723.1" r="3.4" fill="rgb(142,142,142)" fill-opacity="0.14" stroke="#a8a8a8" stroke-width="0.8" stroke-opacity="0.27"/>
<circle cx="888.8" cy="563.8" r="2.8" fill="rgb(135,135,135)" fill-opacity="0.16" stroke="#a8a8a8" stroke-width="0.8" stroke-opacity="0.35"/>
<circle cx="596.3" cy="732.2" r="3.5" fill="rgb(144,144,144)" fill-opacity="0.16" stroke="#a8a8a8" stroke-width="0.8" stroke-opacity="0.27"/>
<circle cx="975.3" cy="422.7" r="2.6" fill="rgb(134,134,134)" fill-opacity="0.26" stroke="#a8a8a8" stroke-width="0.8" stroke-opacity="0.39"/>
<circle cx="786.1" cy="486.9" r="3.9" fill="rgb(149,149,149)" fill-opacity="0.31" stroke="#a8a8a8" stroke-width="0.8" stroke-opacity="0.24"/>
<circle cx="589.6" cy="405.1" r="2.7" fill="rgb(144,144,144)" fill-opacity="0.27" stroke="#a8a8a8" stroke-width="0.8" stroke-opacity="0.27"/>
<circle cx="648.7" cy="703.3" r="3.2" fill="rgb(150,150,150)" fill-opacity="0.28" stroke="#a8a8a8" stroke-width="0.8" stroke-opacity="0.32"/>
<circle cx="635.5" cy="722.0" r="2.5" fill="rgb(136,136,136)" fill-opacity="0.25" stroke="#a8a8a8" stroke-width="0.8" stroke-opacity="0.30"/>
<circle cx="629.6" cy="632.1" r="2.4" fill="rgb(146,146,146)" fill-opacity="0.31" stroke="#a8a8a8" stroke-width="0.8" stroke-opacity="0.37"/>
<circle cx="808.6" cy="664.8" r="3.4" fill="rgb(138,138,138)" fill-opacity="0.29" stroke="#a8a8a8" stroke-width="0.8" stroke-opacity="0.30"/>
<circle cx="804.8" cy="722.2" r="3.2" fill="rgb(141,141,141)" fill-opacity="0.20" stroke="#a8a8a8" stroke-width="0.8" stroke-opacity="0.29"/>
<circle cx="936.8" cy="682.4" r="2.9" fill="rgb(146,146,146)" fill-opacity="0.13" stroke="#a8a8a8" stroke-width="0.8" stroke-opacity="0.31"/>
<circle cx="903.6" cy="451.0" r="3.3" fill="rgb(136,136,136)" fill-opacity="0.29" stroke="#a8a8a8" stroke-width="0.8" stroke-opacity="0.33"/>
<circle cx="966.7" cy="481.9" r="2.5" fill="rgb(149,149,149)" fill-opacity="0.13" stroke="#a8a8a8" stroke-width="0.8" stroke-opacity="0.36"/>
<circle cx="617.7" cy="427.9" r="2.5" fill="rgb(153,153,153)" fill-opacity="0.13" stroke="#a8a8a8" stroke-width="0.8" stroke-opacity="0.26"/>
<circle cx="606.8" cy="660.2" r="2.3" fill="rgb(137,137,137)" fill-opacity="0.27" stroke="#a8a8a8" stroke-width="0.8" stroke-opacity="0.28"/>
<circle cx="575.0" cy="735.4" r="2.9" fill="rgb(144,144,144)" fill-opacity="0.27" stroke="#a8a8a8" stroke-width="0.8" stroke-opacity="0.27"/>
<circle cx="916.6" cy="572.4" r="2.6" fill="rgb(148,148,148)" fill-opacity="0.29" stroke="#a8a8a8" stroke-width="0.8" stroke-opacity="0.22"/>
<circle cx="823.9" cy="588.1" r="3.4" fill="rgb(142,142,142)" fill-opacity="0.17" stroke="#a8a8a8" stroke-width="0.8" stroke-opacity="0.32"/>
<circle cx="925.2" cy="549.2" r="2.4" fill="rgb(156,156,156)" fill-opacity="0.23" stroke="#a8a8a8" stroke-width="0.8" stroke-opacity="0.32"/>
<circle cx="568.4" cy="661.7" r="2.9" fill="rgb(158,158,158)" fill-opacity="0.17" stroke="#a8a8a8" stroke-width="0.8" stroke-opacity="0.15"/>
<circle cx="672.6" cy="639.9" r="3.5" fill="rgb(157,157,157)" fill-opacity="0.16" stroke="#a8a8a8" stroke-width="0.8" stroke-opacity="0.30"/>
<circle cx="554.8" cy="460.6" r="2.3" fill="rgb(150,150,150)" fill-opacity="0.30" stroke="#a8a8a8" stroke-width="0.8" stroke-opacity="0.30"/>
<circle cx="808.1" cy="704.4" r="2.8" fill="rgb(148,148,148)" fill-opacity="0.28" stroke="#a8a8a8" stroke-width="0.8" stroke-opacity="0.20"/>
<circle cx="856.1" cy="407.7" r="2.9" fill="rgb(137,137,137)" fill-opacity="0.21" stroke="#a8a8a8" stroke-width="0.8" stroke-opacity="0.20"/>
<circle cx="549.3" cy="539.6" r="2.9" fill="rgb(154,154,154)" fill-opacity="0.12" stroke="#a8a8a8" stroke-width="0.8" stroke-opacity="0.31"/>
<circle cx="541.2" cy="554.4" r="2.2" fill="rgb(159,159,159)" fill-opacity="0.22" stroke="#a8a8a8" stroke-width="0.8" stroke-opacity="0.27"/>
<circle cx="553.9" cy="662.4" r="2.7" fill="rgb(146,146,146)" fill-opacity="0.26" stroke="#a8a8a8" stroke-width="0.8" stroke-opacity="0.35"/>
<circle cx="704.6" cy="401.8" r="4.0" fill="rgb(139,139,139)" fill-opacity="0.13" stroke="#a8a8a8" stroke-width="0.8" stroke-opacity="0.30"/>
<circle cx="937.5" cy="411.5" r="2.3" fill="rgb(152,152,152)" fill-opacity="0.23" stroke="#a8a8a8" stroke-width="0.8" stroke-opacity="0.21"/>
<circle cx="646.7" cy="655.5" r="2.2" fill="rgb(139,139,139)" fill-opacity="0.19" stroke="#a8a8a8" stroke-width="0.8" stroke-opacity="0.34"/>
<circle cx="670.2" cy="399.5" r="3.5" fill="rgb(152,152,152)" fill-opacity="0.15" stroke="#a8a8a8" stroke-width="0.8" stroke-opacity="0.33"/>
<circle cx="817.9" cy="512.1" r="3.2" fill="rgb(147,147,147)" fill-opacity="0.28" stroke="#a8a8a8" stroke-width="0.8" stroke-opacity="0.39"/>
<circle cx="683.0" cy="412.4" r="2.9" fill="rgb(149,149,149)" fill-opacity="0.17" stroke="#a8a8a8" stroke-width="0.8" stroke-opacity="0.19"/>
<circle cx="621.3" cy="684.6" r="3.5" fill="rgb(135,135,135)" fill-opacity="0.18" stroke="#a8a8a8" stroke-width="0.8" stroke-opacity="0.22"/>
<circle cx="573.7" cy="681.2" r="2.7" fill="rgb(148,148,148)" fill-opacity="0.20" stroke="#a8a8a8" stroke-width="0.8" stroke-opacity="0.17"/>
<circle cx="537.4" cy="629.4" r="3.3" fill="rgb(146,146,146)" fill-opacity="0.16" stroke="#a8a8a8" stroke-width="0.8" stroke-opacity="0.24"/>
<circle cx="762.3" cy="457.5" r="3.2" fill="rgb(157,157,157)" fill-opacity="0.16" stroke="#a8a8a8" stroke-width="0.8" stroke-opacity="0.38"/>
<circle cx="762.7" cy="731.0" r="3.9" fill="rgb(133,133,133)" fill-opacity="0.26" stroke="#a8a8a8" stroke-width="0.8" stroke-opacity="0.21"/>
<circle cx="816.8" cy="699.4" r="3.0" fill="rgb(151,151,151)" fill-opacity="0.25" stroke="#a8a8a8" stroke-width="0.8" stroke-opacity="0.20"/>
<circle cx="723.5" cy="484.5" r="3.1" fill="rgb(154,154,154)" fill-opacity="0.15" stroke="#a8a8a8" stroke-width="0.8" stroke-opacity="0.29"/>
<circle cx="761.0" cy="518.2" r="3.7" fill="rgb(142,142,142)" fill-opacity="0.28" stroke="#a8a8a8" stroke-width="0.8" stroke-opacity="0.17"/>
<circle cx="730.0" cy="419.1" r="3.7" fill="rgb(151,151,151)" fill-opacity="0.16" stroke="#a8a8a8" stroke-width="0.8" stroke-opacity="0.24"/>
<circle cx="580.8" cy="697.7" r="3.8" fill="rgb(158,158,158)" fill-opacity="0.24" stroke="#a8a8a8" stroke-width="0.8" stroke-opacity="0.22"/>
<circle cx="737.9" cy="618.7" r="3.0" fill="rgb(133,133,133)" fill-opacity="0.23" stroke="#a8a8a8" stroke-width="0.8" stroke-opacity="0.17"/>
<circle cx="632.4" cy="673.3" r="3.3" fill="rgb(155,155,155)" fill-opacity="0.26" stroke="#a8a8a8" stroke-width="0.8" stroke-opacity="0.31"/>
<circle cx="638.2" cy="634.2" r="2.4" fill="rgb(132,132,132)" fill-opacity="0.19" stroke="#a8a8a8" stroke-width="0.8" stroke-opacity="0.19"/>
<circle cx="852.2" cy="482.6" r="2.3" fill="rgb(155,155,155)" fill-opacity="0.31" stroke="#a8a8a8" stroke-width="0.8" stroke-opacity="0.33"/>
<circle cx="976.6" cy="661.1" r="3.9" fill="rgb(152,152,152)" fill-opacity="0.28" stroke="#a8a8a8" stroke-width="0.8" stroke-opacity="0.35"/>
<circle cx="575.8" cy="494.9" r="3.3" fill="rgb(141,141,141)" fill-opacity="0.29" stroke="#a8a8a8" stroke-width="0.8" stroke-opacity="0.16"/>
<circle cx="581.2" cy="497.7" r="2.8" fill="rgb(156,156,156)" fill-opacity="0.12" stroke="#a8a8a8" stroke-width="0.8" stroke-opacity="0.36"/>
<circle cx="984.8" cy="397.8" r="3.9" fill="rgb(151,151,151)" fill-opacity="0.15" stroke="#a8a8a8" stroke-width="0.8" stroke-opacity="0.36"/>
<circle cx="577.0" cy="517.9" r="2.6" fill="rgb(143,143,143)" fill-opacity="0.15" stroke="#a8a8a8" stroke-width="0.8" stroke-opacity="0.24"/>
<circle cx="791.9" cy="546.7" r="3.1" fill="rgb(158,158,158)" fill-opacity="0.29" stroke="#a8a8a8" stroke-width="0.8" stroke-opacity="0.18"/>
<circle cx="871.3" cy="665.8" r="3.8" fill="rgb(143,143,143)" fill-opacity="0.30" stroke="#a8a8a8" stroke-width="0.8" stroke-opacity="0.29"/>
<circle cx="744.0" cy="562.5" r="2.9" fill="rgb(152,152,152)" fill-opacity="0.23" stroke="#a8a8a8" stroke-width="0.8" stroke-opacity="0.37"/>
<circle cx="744.2" cy="398.8" r="2.5" fill="rgb(144,144,144)" fill-opacity="0.21" stroke="#a8a8a8" stroke-width="0.8" stroke-opacity="0.35"/>
<circle cx="802.3" cy="440.8" r="2.7" fill="rgb(148,148,148)" fill-opacity="0.28" stroke="#a8a8a8" stroke-width="0.8" stroke-opacity="0.33"/>
<circle cx="826.1" cy="471.7" r="3.2" fill="rgb(139,139,139)" fill-opacity="0.13" stroke="#a8a8a8" stroke-width="0.8" stroke-opacity="0.34"/>
<circle cx="830.8" cy="734.8" r="3.5" fill="rgb(139,139,139)" fill-opacity="0.13" stroke="#a8a8a8" stroke-width="0.8" stroke-opacity="0.26"/>
<circle cx="682.5" cy="565.1" r="2.9" fill="rgb(133,133,133)" fill-opacity="0.13" stroke="#a8a8a8" stroke-width="0.8" stroke-opacity="0.24"/>
<circle cx="801.6" cy="443.0" r="2.5" fill="rgb(138,138,138)" fill-opacity="0.27" stroke="#a8a8a8" stroke-width="0.8" stroke-opacity="0.34"/>
<circle cx="752.9" cy="399.6" r="3.9" fill="rgb(158,158,158)" fill-opacity="0.18" stroke="#a8a8a8" stroke-width="0.8" stroke-opacity="0.15"/>
<circle cx="755.1" cy="440.4" r="2.9" fill="rgb(143,143,143)" fill-opacity="0.18" stroke="#a8a8a8" stroke-width="0.8" stroke-opacity="0.38"/>
<circle cx="706.2" cy="420.2" r="3.2" fill="rgb(158,158,158)" fill-opacity="0.17" stroke="#a8a8a8" stroke-width="0.8" stroke-opacity="0.28"/>
<circle cx="700.6" cy="622.5" r="2.8" fill="rgb(139,139,139)" fill-opacity="0.31" stroke="#a8a8a8" stroke-width="0.8" stroke-opacity="0.36"/>
<circle cx="856.1" cy="615.6" r="3.9" fill="rgb(133,133,133)" fill-opacity="0.21" stroke="#a8a8a8" stroke-width="0.8" stroke-opacity="0.31"/>
<circle cx="581.6" cy="737.4" r="3.4" fill="rgb(154,154,154)" fill-opacity="0.31" stroke="#a8a8a8" stroke-width="0.8" stroke-opacity="0.29"/>
<circle cx="956.4" cy="513.9" r="3.9" fill="rgb(147,147,147)" fill-opacity="0.28" stroke="#a8a8a8" stroke-width="0.8" stroke-opacity="0.22"/>
<circle cx="747.7" cy="579.7" r="3.1" fill="rgb(159,159,159)" fill-opacity="0.21" stroke="#a8a8a8" stroke-width="0.8" stroke-opacity="0.37"/>
<circle cx="573.1" cy="455.6" r="2.5" fill="rgb(137,137,137)" fill-opacity="0.24" stroke="#a8a8a8" stroke-width="0.8" stroke-opacity="0.18"/>
<circle cx="841.9" cy="692.9" r="3.9" fill="rgb(133,133,133)" fill-opacity="0.17" stroke="#a8a8a8" stroke-width="0.8" stroke-opacity="0.26"/>
<circle cx="526.9" cy="621.9" r="3.0" fill="rgb(144,144,144)" fill-opacity="0.15" stroke="#a8a8a8" stroke-width="0.8" stroke-opacity="0.17"/>
<circle cx="942.6" cy="594.8" r="2.8" fill="rgb(158,158,158)" fill-opacity="0.14" stroke="#a8a8a8" stroke-width="0.8" stroke-opacity="0.25"/>
<circle cx="555.0" cy="664.9" r="3.8" fill="rgb(140,140,140)" fill-opacity="0.28" stroke="#a8a8a8" stroke-width="0.8" stroke-opacity="0.39"/>
<circle cx="630.1" cy="726.7" r="2.8" fill="rgb(153,153,153)" fill-opacity="0.23" stroke="#a8a8a8" stroke-width="0.8" stroke-opacity="0.24"/>
<circle cx="807.5" cy="380.1" r="3.1" fill="rgb(146,146,146)" fill-opacity="0.25" stroke="#a8a8a8" stroke-width="0.8" stroke-opacity="0.34"/>
<circle cx="940.7" cy="667.9" r="3.8" fill="rgb(143,143,143)" fill-opacity="0.14" stroke="#a8a8a8" stroke-width="0.8" stroke-opacity="0.31"/>
<circle cx="541.6" cy="722.7" r="3.1" fill="rgb(139,139,139)" fill-opacity="0.13" stroke="#a8a8a8" stroke-width="0.8" stroke-opacity="0.36"/>
<circle cx="918.6" cy="428.1" r="3.6" fill="rgb(134,134,134)" fill-opacity="0.26" stroke="#a8a8a8" stroke-width="0.8" stroke-opacity="0.28"/>
<circle cx="826.4" cy="429.3" r="3.6" fill="rgb(155,155,155)" fill-opacity="0.29" stroke="#a8a8a8" stroke-width="0.8" stroke-opacity="0.25"/>
<circle cx="643.8" cy="577.4" r="3.5" fill="rgb(154,154,154)" fill-opacity="0.21" stroke="#a8a8a8" stroke-width="0.8" stroke-opacity="0.30"/>
<circle cx="828.9" cy="592.3" r="3.5" fill="rgb(141,141,141)" fill-opacity="0.17" stroke="#a8a8a8" stroke-width="0.8" stroke-opacity="0.22"/>
<circle cx="898.5" cy="727.7" r="2.8" fill="rgb(151,151,151)" fill-opacity="0.24" stroke="#a8a8a8" stroke-width="0.8" stroke-opacity="0.37"/>
<circle cx="527.2" cy="603.3" r="3.8" fill="rgb(160,160,160)" fill-opacity="0.20" stroke="#a8a8a8" stroke-width="0.8" stroke-opacity="0.27"/>
<circle cx="921.4" cy="715.5" r="2.6" fill="rgb(158,158,158)" fill-opacity="0.14" stroke="#a8a8a8" stroke-width="0.8" stroke-opacity="0.16"/>
<circle cx="535.7" cy="407.0" r="2.4" fill="rgb(139,139,139)" fill-opacity="0.18" stroke="#a8a8a8" stroke-width="0.8" stroke-opacity="0.39"/>
<circle cx="903.5" cy="417.2" r="2.5" fill="rgb(152,152,152)" fill-opacity="0.24" stroke="#a8a8a8" stroke-width="0.8" stroke-opacity="0.26"/>
<circle cx="723.4" cy="647.8" r="3.1" fill="rgb(153,153,153)" fill-opacity="0.12" stroke="#a8a8a8" stroke-width="0.8" stroke-opacity="0.18"/>
<circle cx="608.8" cy="592.7" r="3.2" fill="rgb(158,158,158)" fill-opacity="0.30" stroke="#a8a8a8" stroke-width="0.8" stroke-opacity="0.35"/>
<circle cx="678.3" cy="401.2" r="3.8" fill="rgb(159,159,159)" fill-opacity="0.12" stroke="#a8a8a8" stroke-width="0.8" stroke-opacity="0.15"/>
<circle cx="605.0" cy="509.5" r="3.5" fill="rgb(145,145,145)" fill-opacity="0.25" stroke="#a8a8a8" stroke-width="0.8" stroke-opacity="0.35"/>
<circle cx="604.3" cy="491.3" r="3.9" fill="rgb(148,148,148)" fill-opacity="0.22" stroke="#a8a8a8" stroke-width="0.8" stroke-opacity="0.29"/>
<circle cx="781.6" cy="640.2" r="3.8" fill="rgb(150,150,150)" fill-opacity="0.25" stroke="#a8a8a8" stroke-width="0.8" stroke-opacity="0.29"/>
<circle cx="634.3" cy="654.3" r="2.6" fill="rgb(139,139,139)" fill-opacity="0.19" stroke="#a8a8a8" stroke-width="0.8" stroke-opacity="0.28"/>
<circle cx="911.1" cy="508.0" r="3.3" fill="rgb(145,145,145)" fill-opacity="0.21" stroke="#a8a8a8" stroke-width="0.8" stroke-opacity="0.39"/>
<circle cx="829.6" cy="386.3" r="3.8" fill="rgb(147,147,147)" fill-opacity="0.31" stroke="#a8a8a8" stroke-width="0.8" stroke-opacity="0.18"/>
<circle cx="978.7" cy="615.3" r="3.3" fill="rgb(146,146,146)" fill-opacity="0.31" stroke="#a8a8a8" stroke-width="0.8" stroke-opacity="0.36"/>
<circle cx="770.4" cy="514.7" r="2.9" fill="rgb(146,146,146)" fill-opacity="0.16" stroke="#a8a8a8" stroke-width="0.8" stroke-opacity="0.21"/>
<circle cx="836.3" cy="656.9" r="3.8" fill="rgb(136,136,136)" fill-opacity="0.18" stroke="#a8a8a8" stroke-width="0.8" stroke-opacity="0.20"/>
<circle cx="819.3" cy="488.4" r="2.8" fill="rgb(134,134,134)" fill-opacity="0.27" stroke="#a8a8a8" stroke-width="0.8" stroke-opacity="0.38"/>
<circle cx="585.2" cy="556.0" r="3.6" fill="rgb(158,158,158)" fill-opacity="0.19" stroke="#a8a8a8" stroke-width="0.8" stroke-opacity="0.16"/>
<circle cx="886.2" cy="634.7" r="2.9" fill="rgb(161,161,161)" fill-opacity="0.26" stroke="#a8a8a8" stroke-width="0.8" stroke-opacity="0.29"/>
<circle cx="802.0" cy="408.7" r="3.9" fill="rgb(161,161,161)" fill-opacity="0.15" stroke="#a8a8a8" stroke-width="0.8" stroke-opacity="0.34"/>
<circle cx="796.9" cy="521.5" r="3.3" fill="rgb(135,135,135)" fill-opacity="0.19" stroke="#a8a8a8" stroke-width="0.8" stroke-opacity="0.23"/>
<circle cx="845.7" cy="569.5" r="2.2" fill="rgb(140,140,140)" fill-opacity="0.20" stroke="#a8a8a8" stroke-width="0.8" stroke-opacity="0.24"/>
<circle cx="896.1" cy="677.5" r="3.9" fill="rgb(160,160,160)" fill-opacity="0.22" stroke="#a8a8a8" stroke-width="0.8" stroke-opacity="0.29"/>
<circle cx="808.3" cy="562.1" r="2.3" fill="rgb(135,135,135)" fill-opacity="0.28" stroke="#a8a8a8" stroke-width="0.8" stroke-opacity="0.34"/>
<circle cx="668.5" cy="451.0" r="3.2" fill="rgb(157,157,157)" fill-opacity="0.13" stroke="#a8a8a8" stroke-width="0.8" stroke-opacity="0.31"/>
<circle cx="627.7" cy="471.9" r="3.0" fill="rgb(136,136,136)" fill-opacity="0.27" stroke="#a8a8a8" stroke-width="0.8" stroke-opacity="0.17"/>
<circle cx="756.7" cy="619.9" r="3.7" fill="rgb(148,148,148)" fill-opacity="0.15" stroke="#a8a8a8" stroke-width="0.8" stroke-opacity="0.35"/>
<circle cx="968.7" cy="390.8" r="3.8" fill="rgb(150,150,150)" fill-opacity="0.24" stroke="#a8a8a8" stroke-width="0.8" stroke-opacity="0.25"/>
<circle cx="597.8" cy="595.6" r="3.8" fill="rgb(132,132,132)" fill-opacity="0.23" stroke="#a8a8a8" stroke-width="0.8" stroke-opacity="0.31"/>
<circle cx="959.4" cy="385.4" r="2.9" fill="rgb(135,135,135)" fill-opacity="0.18" stroke="#a8a8a8" stroke-width="0.8" stroke-opacity="0.38"/>
<circle cx="606.1" cy="508.9" r="3.7" fill="rgb(154,154,154)" fill-opacity="0.30" stroke="#a8a8a8" stroke-width="0.8" stroke-opacity="0.18"/>
<circle cx="554.3" cy="459.7" r="3.1" fill="rgb(152,152,152)" fill-opacity="0.14" stroke="#a8a8a8" stroke-width="0.8" stroke-opacity="0.31"/>
<circle cx="626.2" cy="725.6" r="3.2" fill="rgb(136,136,136)" fill-opacity="0.29" stroke="#a8a8a8" stroke-width="0.8" stroke-opacity="0.27"/>
<circle cx="888.1" cy="574.7" r="3.8" fill="rgb(140,140,140)" fill-opacity="0.31" stroke="#a8a8a8" stroke-width="0.8" stroke-opacity="0.15"/>
<circle cx="700.2" cy="436.5" r="4.0" fill="rgb(132,132,132)" fill-opacity="0.18" stroke="#a8a8a8" stroke-width="0.8" stroke-opacity="0.25"/>
<circle cx="556.0" cy="709.6" r="3.6" fill="rgb(148,148,148)" fill-opacity="0.20" stroke="#a8a8a8" stroke-width="0.8" stroke-opacity="0.20"/>
<circle cx="598.8" cy="525.9" r="3.3" fill="rgb(157,157,157)" fill-opacity="0.17" stroke="#a8a8a8" stroke-width="0.8" stroke-opacity="0.37"/>
<circle cx="836.3" cy="437.2" r="2.3" fill="rgb(132,132,132)" fill-opacity="0.31" stroke="#a8a8a8" stroke-width="0.8" stroke-opacity="0.21"/>
<circle cx="551.5" cy="616.6" r="2.7" fill="rgb(160,160,160)" fill-opacity="0.25" stroke="#a8a8a8" stroke-width="0.8" stroke-opacity="0.37"/>
<circle cx="831.1" cy="642.9" r="3.0" fill="rgb(144,144,144)" fill-opacity="0.28" stroke="#a8a8a8" stroke-width="0.8" stroke-opacity="0.20"/>
<circle cx="551.5" cy="707.1" r="2.9" fill="rgb(148,148,148)" fill-opacity="0.20" stroke="#a8a8a8" stroke-width="0.8" stroke-opacity="0.34"/>
<circle cx="891.3" cy="445.9" r="3.6" fill="rgb(141,141,141)" fill-opacity="0.23" stroke="#a8a8a8" stroke-width="0.8" stroke-opacity="0.27"/>
<circle cx="924.5" cy="530.0" r="3.7" fill="rgb(160,160,160)" fill-opacity="0.24" stroke="#a8a8a8" stroke-width="0.8" stroke-opacity="0.35"/>
<circle cx="944.1" cy="462.0" r="3.0" fill="rgb(159,159,159)" fill-opacity="0.27" stroke="#a8a8a8" stroke-width="0.8" stroke-opacity="0.36"/>
<circle cx="807.9" cy="516.2" r="3.6" fill="rgb(142,142,142)" fill-opacity="0.24" stroke="#a8a8a8" stroke-width="0.8" stroke-opacity="0.20"/>
<circle cx="711.6" cy="541.1" r="2.4" fill="rgb(135,135,135)" fill-opacity="0.30" stroke="#a8a8a8" stroke-width="0.8" stroke-opacity="0.40"/>
<circle cx="597.3" cy="511.4" r="3.4" fill="rgb(136,136,136)" fill-opacity="0.13" stroke="#a8a8a8" stroke-width="0.8" stroke-opacity="0.38"/>
<circle cx="654.8" cy="723.2" r="3.1" fill="rgb(149,149,149)" fill-opacity="0.23" stroke="#a8a8a8" stroke-width="0.8" stroke-opacity="0.28"/>
<circle cx="648.3" cy="604.9" r="3.0" fill="rgb(157,157,157)" fill-opacity="0.18" stroke="#a8a8a8" stroke-width="0.8" stroke-opacity="0.20"/>
<circle cx="931.5" cy="572.4" r="2.6" fill="rgb(155,155,155)" fill-opacity="0.18" stroke="#a8a8a8" stroke-width="0.8" stroke-opacity="0.33"/>
<circle cx="833.5" cy="484.9" r="3.4" fill="rgb(146,146,146)" fill-opacity="0.13" stroke="#a8a8a8" stroke-width="0.8" stroke-opacity="0.39"/>
<circle cx="644.7" cy="517.9" r="3.8" fill="rgb(152,152,152)" fill-opacity="0.15" stroke="#a8a8a8" stroke-width="0.8" stroke-opacity="0.31"/>
<circle cx="530.4" cy="648.8" r="3.3" fill="rgb(151,151,151)" fill-opacity="0.23" stroke="#a8a8a8" stroke-width="0.8" stroke-opacity="0.24"/>
<circle cx="833.4" cy="545.1" r="3.5" fill="rgb(133,133,133)" fill-opacity="0.17" stroke="#a8a8a8" stroke-width="0.8" stroke-opacity="0.19"/>
<circle cx="764.5" cy="603.0" r="2.6" fill="rgb(160,160,160)" fill-opacity="0.19" stroke="#a8a8a8" stroke-width="0.8" stroke-opacity="0.15"/>
<circle cx="867.2" cy="420.2" r="2.2" fill="rgb(140,140,140)" fill-opacity="0.21" stroke="#a8a8a8" stroke-width="0.8" stroke-opacity="0.21"/>
<circle cx="678.0" cy="427.2" r="2.8" fill="rgb(155,155,155)" fill-opacity="0.18" stroke="#a8a8a8" stroke-width="0.8" stroke-opacity="0.30"/>
<circle cx="620.5" cy="424.7" r="2.8" fill="rgb(132,132,132)" fill-opacity="0.21" stroke="#a8a8a8" stroke-width="0.8" stroke-opacity="0.33"/>
<circle cx="721.5" cy="461.0" r="2.8" fill="rgb(156,156,156)" fill-opacity="0.17" stroke="#a8a8a8" stroke-width="0.8" stroke-opacity="0.23"/>
<circle cx="848.4" cy="469.5" r="3.9" fill="rgb(137,137,137)" fill-opacity="0.12" stroke="#a8a8a8" stroke-width="0.8" stroke-opacity="0.26"/>
<circle cx="778.3" cy="584.4" r="2.8" fill="rgb(155,155,155)" fill-opacity="0.29" stroke="#a8a8a8" stroke-width="0.8" stroke-opacity="0.27"/>
<circle cx="911.9" cy="668.9" r="2.5" fill="rgb(136,136,136)" fill-opacity="0.15" stroke="#a8a8a8" stroke-width="0.8" stroke-opacity="0.17"/>
<circle cx="891.4" cy="517.1" r="2.5" fill="rgb(148,148,148)" fill-opacity="0.18" stroke="#a8a8a8" stroke-width="0.8" stroke-opacity="0.16"/>
<circle cx="718.2" cy="676.6" r="3.5" fill="rgb(161,161,161)" fill-opacity="0.21" stroke="#a8a8a8" stroke-width="0.8" stroke-opacity="0.39"/>
<circle cx="702.8" cy="555.8" r="3.5" fill="rgb(145,145,145)" fill-opacity="0.15" stroke="#a8a8a8" stroke-width="0.8" stroke-opacity="0.33"/>
<circle cx="957.9" cy="507.9" r="2.9" fill="rgb(141,141,141)" fill-opacity="0.26" stroke="#a8a8a8" stroke-width="0.8" stroke-opacity="0.27"/>
<circle cx="629.9" cy="702.5" r="2.2" fill="rgb(157,157,157)" fill-opacity="0.29" stroke="#a8a8a8" stroke-width="0.8" stroke-opacity="0.17"/>
<circle cx="528.1" cy="612.2" r="3.3" fill="rgb(137,137,137)" fill-opacity="0.21" stroke="#a8a8a8" stroke-width="0.8" stroke-opacity="0.17"/>
<circle cx="717.7" cy="568.5" r="3.8" fill="rgb(143,143,143)" fill-opacity="0.15" stroke="#a8a8a8" stroke-width="0.8" stroke-opacity="0.39"/>
<circle cx="824.6" cy="428.4" r="2.3" fill="rgb(143,143,143)" fill-opacity="0.17" stroke="#a8a8a8" stroke-width="0.8" stroke-opacity="0.24"/>
<circle cx="649.9" cy="707.6" r="3.7" fill="rgb(152,152,152)" fill-opacity="0.14" stroke="#a8a8a8" stroke-width="0.8" stroke-opacity="0.35"/>
<circle cx="710.0" cy="691.8" r="2.3" fill="rgb(136,136,136)" fill-opacity="0.15" stroke="#a8a8a8" stroke-width="0.8" stroke-opacity="0.35"/>
<circle cx="975.9" cy="647.8" r="2.8" fill="rgb(133,133,133)" fill-opacity="0.31" stroke="#a8a8a8" stroke-width="0.8" stroke-opacity="0.19"/>
<circle cx="907.4" cy="549.3" r="2.8" fill="rgb(144,144,144)" fill-opacity="0.14" stroke="#a8a8a8" stroke-width="0.8" stroke-opacity="0.18"/>
<circle cx="934.5" cy="542.6" r="3.4" fill="rgb(141,141,141)" fill-opacity="0.22" stroke="#a8a8a8" stroke-width="0.8" stroke-opacity="0.35"/>
<circle cx="828.7" cy="523.1" r="3.0" fill="rgb(161,161,161)" fill-opacity="0.13" stroke="#a8a8a8" stroke-width="0.8" stroke-opacity="0.25"/>
<circle cx="582.3" cy="417.6" r="2.3" fill="rgb(154,154,154)" fill-opacity="0.21" stroke="#a8a8a8" stroke-width="0.8" stroke-opacity="0.29"/>
<circle cx="664.2" cy="521.7" r="3.0" fill="rgb(156,156,156)" fill-opacity="0.14" stroke="#a8a8a8" stroke-width="0.8" stroke-opacity="0.19"/>
<circle cx="601.1" cy="547.1" r="3.1" fill="rgb(152,152,152)" fill-opacity="0.32" stroke="#a8a8a8" stroke-width="0.8" stroke-opacity="0.38"/>
<circle cx="634.8" cy="526.4" r="3.2" fill="rgb(155,155,155)" fill-opacity="0.22" stroke="#a8a8a8" stroke-width="0.8" stroke-opacity="0.19"/>
<circle cx="543.9" cy="502.1" r="3.3" fill="rgb(137,137,137)" fill-opacity="0.21" stroke="#a8a8a8" stroke-width="0.8" stroke-opacity="0.25"/>
<circle cx="979.0" cy="631.2" r="4.0" fill="rgb(147,147,147)" fill-opacity="0.22" stroke="#a8a8a8" stroke-width="0.8" stroke-opacity="0.39"/>
<circle cx="714.9" cy="578.6" r="2.2" fill="rgb(137,137,137)" fill-opacity="0.18" stroke="#a8a8a8" stroke-width="0.8" stroke-opacity="0.21"/>
<circle cx="727.2" cy="699.2" r="2.6" fill="rgb(133,133,133)" fill-opacity="0.23" stroke="#a8a8a8" stroke-width="0.8" stroke-opacity="0.24"/>
<circle cx="542.3" cy="652.8" r="3.9" fill="rgb(154,154,154)" fill-opacity="0.28" stroke="#a8a8a8" stroke-width="0.8" stroke-opacity="0.34"/>
<circle cx="987.8" cy="430.1" r="3.8" fill="rgb(153,153,153)" fill-opacity="0.31" stroke="#a8a8a8" stroke-width="0.8" stroke-opacity="0.36"/>
<circle cx="784.0" cy="616.2" r="2.6" fill="rgb(142,142,142)" fill-opacity="0.15" stroke="#a8a8a8" stroke-width="0.8" stroke-opacity="0.25"/>
<circle cx="915.0" cy="502.5" r="3.8" fill="rgb(137,137,137)" fill-opacity="0.25" stroke="#a8a8a8" stroke-width="0.8" stroke-opacity="0.21"/>
<circle cx="824.3" cy="662.3" r="3.8" fill="rgb(154,154,154)" fill-opacity="0.15" stroke="#a8a8a8" stroke-width="0.8" stroke-opacity="0.32"/>
<circle cx="660.6" cy="561.7" r="2.5" fill="rgb(145,145,145)" fill-opacity="0.25" stroke="#a8a8a8" stroke-width="0.8" stroke-opacity="0.18"/>
<circle cx="801.5" cy="697.8" r="3.1" fill="rgb(141,141,141)" fill-opacity="0.16" stroke="#a8a8a8" stroke-width="0.8" stroke-opacity="0.27"/>
<circle cx="708.6" cy="629.1" r="3.5" fill="rgb(152,152,152)" fill-opacity="0.27" stroke="#a8a8a8" stroke-width="0.8" stroke-opacity="0.35"/>
<circle cx="866.8" cy="469.8" r="3.2" fill="rgb(143,143,143)" fill-opacity="0.14" stroke="#a8a8a8" stroke-width="0.8" stroke-opacity="0.31"/>
<circle cx="587.8" cy="626.1" r="3.2" fill="rgb(134,134,134)" fill-opacity="0.20" stroke="#a8a8a8" stroke-width="0.8" stroke-opacity="0.29"/>
<circle cx="639.1" cy="714.2" r="3.9" fill="rgb(135,135,135)" fill-opacity="0.26" stroke="#a8a8a8" stroke-width="0.8" stroke-opacity="0.26"/>
<circle cx="918.4" cy="716.4" r="3.1" fill="rgb(151,151,151)" fill-opacity="0.19" stroke="#a8a8a8" stroke-width="0.8" stroke-opacity="0.32"/>
<circle cx="993.6" cy="499.3" r="2.3" fill="rgb(161,161,161)" fill-opacity="0.13" stroke="#a8a8a8" stroke-width="0.8" stroke-opacity="0.32"/>
<circle cx="797.2" cy="525.0" r="3.9" fill="rgb(135,135,135)" fill-opacity="0.17" stroke="#a8a8a8" stroke-width="0.8" stroke-opacity="0.36"/>
<circle cx="523.3" cy="474.3" r="2.5" fill="rgb(144,144,144)" fill-opacity="0.27" stroke="#a8a8a8" stroke-width="0.8" stroke-opacity="0.39"/>
<circle cx="636.8" cy="384.7" r="3.5" fill="rgb(159,159,159)" fill-opacity="0.12" stroke="#a8a8a8" stroke-width="0.8" stroke-opacity="0.30"/>
<circle cx="803.8" cy="579.3" r="3.3" fill="rgb(140,140,140)" fill-opacity="0.30" stroke="#a8a8a8" stroke-width="0.8" stroke-opacity="0.21"/>
<circle cx="971.8" cy="721.6" r="3.7" fill="rgb(143,143,143)" fill-opacity="0.31" stroke="#a8a8a8" stroke-width="0.8" stroke-opacity="0.20"/>
<circle cx="755.0" cy="561.2" r="2.5" fill="rgb(161,161,161)" fill-opacity="0.16" stroke="#a8a8a8" stroke-width="0.8" stroke-opacity="0.27"/>
<circle cx="561.1" cy="480.9" r="3.7" fill="rgb(152,152,152)" fill-opacity="0.19" stroke="#a8a8a8" stroke-width="0.8" stroke-opacity="0.31"/>
<circle cx="601.4" cy="616.9" r="3.8" fill="rgb(132,132,132)" fill-opacity="0.18" stroke="#a8a8a8" stroke-width="0.8" stroke-opacity="0.21"/>
<circle cx="562.1" cy="708.6" r="3.4" fill="rgb(150,150,150)" fill-opacity="0.24" stroke="#a8a8a8" stroke-width="0.8" stroke-opacity="0.32"/>
<circle cx="656.3" cy="452.2" r="2.3" fill="rgb(136,136,136)" fill-opacity="0.16" stroke="#a8a8a8" stroke-width="0.8" stroke-opacity="0.35"/>
<circle cx="674.0" cy="518.8" r="3.5" fill="rgb(161,161,161)" fill-opacity="0.14" stroke="#a8a8a8" stroke-width="0.8" stroke-opacity="0.30"/>
<circle cx="719.6" cy="445.1" r="2.8" fill="rgb(155,155,155)" fill-opacity="0.17" stroke="#a8a8a8" stroke-width="0.8" stroke-opacity="0.29"/>
<circle cx="737.8" cy="386.5" r="3.7" fill="rgb(157,157,157)" fill-opacity="0.29" stroke="#a8a8a8" stroke-width="0.8" stroke-opacity="0.26"/>
<circle cx="725.2" cy="621.7" r="4.0" fill="rgb(146,146,146)" fill-opacity="0.18" stroke="#a8a8a8" stroke-width="0.8" stroke-opacity="0.27"/>
<circle cx="793.4" cy="606.0" r="3.9" fill="rgb(149,149,149)" fill-opacity="0.28" stroke="#a8a8a8" stroke-width="0.8" stroke-opacity="0.27"/>
<circle cx="736.6" cy="705.4" r="2.7" fill="rgb(141,141,141)" fill-opacity="0.23" stroke="#a8a8a8" stroke-width="0.8" stroke-opacity="0.18"/>
<circle cx="598.8" cy="565.4" r="3.4" fill="rgb(161,161,161)" fill-opacity="0.14" stroke="#a8a8a8" stroke-width="0.8" stroke-opacity="0.16"/>
<circle cx="849.0" cy="701.6" r="2.4" fill="rgb(140,140,140)" fill-opacity="0.26" stroke="#a8a8a8" stroke-width="0.8" stroke-opacity="0.31"/>
<circle cx="935.7" cy="617.9" r="3.9" fill="rgb(140,140,140)" fill-opacity="0.27" stroke="#a8a8a8" stroke-width="0.8" stroke-opacity="0.30"/>
<circle cx="708.1" cy="638.7" r="3.7" fill="rgb(149,149,149)" fill-opacity="0.26" stroke="#a8a8a8" stroke-width="0.8" stroke-opacity="0.25"/>
<circle cx="931.2" cy="518.1" r="3.3" fill="rgb(149,149,149)" fill-opacity="0.22" stroke="#a8a8a8" stroke-width="0.8" stroke-opacity="0.38"/>
<circle cx="856.3" cy="591.6" r="3.5" fill="rgb(153,153,153)" fill-opacity="0.19" stroke="#a8a8a8" stroke-width="0.8" stroke-opacity="0.23"/>
<circle cx="811.4" cy="430.1" r="3.7" fill="rgb(155,155,155)" fill-opacity="0.25" stroke="#a8a8a8" stroke-width="0.8" stroke-opacity="0.23"/>
<circle cx="987.8" cy="646.4" r="3.8" fill="rgb(153,153,153)" fill-opacity="0.23" stroke="#a8a8a8" stroke-width="0.8" stroke-opacity="0.22"/>
<circle cx="606.3" cy="673.1" r="3.3" fill="rgb(139,139,139)" fill-opacity="0.16" stroke="#a8a8a8" stroke-width="0.8" stroke-opacity="0.27"/>
<circle cx="823.5" cy="653.5" r="3.1" fill="rgb(139,139,139)" fill-opacity="0.26" stroke="#a8a8a8" stroke-width="0.8" stroke-opacity="0.18"/>
<circle cx="602.1" cy="513.5" r="3.2" fill="rgb(132,132,132)" fill-opacity="0.15" stroke="#a8a8a8" stroke-width="0.8" stroke-opacity="0.33"/>
<circle cx="716.5" cy="540.5" r="3.0" fill="rgb(137,137,137)" fill-opacity="0.31" stroke="#a8a8a8" stroke-width="0.8" stroke-opacity="0.38"/>
<circle cx="823.2" cy="412.9" r="3.4" fill="rgb(156,156,156)" fill-opacity="0.19" stroke="#a8a8a8" stroke-width="0.8" stroke-opacity="0.19"/>
<circle cx="867.3" cy="608.1" r="2.9" fill="rgb(140,140,140)" fill-opacity="0.31" stroke="#a8a8a8" stroke-width="0.8" stroke-opacity="0.17"/>
<circle cx="668.3" cy="552.0" r="3.3" fill="rgb(139,139,139)" fill-opacity="0.24" stroke="#a8a8a8" stroke-width="0.8" stroke-opacity="0.18"/>
<circle cx="774.1" cy="410.5" r="2.9" fill="rgb(153,153,153)" fill-opacity="0.16" stroke="#a8a8a8" stroke-width="0.8" stroke-opacity="0.19"/>
<circle cx="981.5" cy="534.0" r="2.3" fill="rgb(144,144,144)" fill-opacity="0.17" stroke="#a8a8a8" stroke-width="0.8" stroke-opacity="0.35"/>
<circle cx="940.2" cy="653.6" r="3.4" fill="rgb(149,149,149)" fill-opacity="0.13" stroke="#a8a8a8" stroke-width="0.8" stroke-opacity="0.31"/>
<circle cx="705.1" cy="481.2" r="3.2" fill="rgb(139,139,139)" fill-opacity="0.32" stroke="#a8a8a8" stroke-width="0.8" stroke-opacity="0.30"/>
<circle cx="877.9" cy="419.0" r="2.3" fill="rgb(137,137,137)" fill-opacity="0.16" stroke="#a8a8a8" stroke-width="0.8" stroke-opacity="0.29"/>
<circle cx="833.5" cy="701.5" r="2.4" fill="rgb(146,146,146)" fill-opacity="0.25" stroke="#a8a8a8" stroke-width="0.8" stroke-opacity="0.25"/>
<circle cx="554.5" cy="414.7" r="2.2" fill="rgb(141,141,141)" fill-opacity="0.15" stroke="#a8a8a8" stroke-width="0.8" stroke-opacity="0.39"/>
<circle cx="821.5" cy="415.2" r="3.4" fill="rgb(147,147,147)" fill-opacity="0.29" stroke="#a8a8a8" stroke-width="0.8" stroke-opacity="0.20"/>
<circle cx="685.8" cy="555.5" r="3.1" fill="rgb(136,136,136)" fill-opacity="0.29" stroke="#a8a8a8" stroke-width="0.8" stroke-opacity="0.19"/>
<circle cx="741.2" cy="584.3" r="3.0" fill="rgb(142,142,142)" fill-opacity="0.26" stroke="#a8a8a8" stroke-width="0.8" stroke-opacity="0.28"/>
<circle cx="846.7" cy="653.7" r="3.9" fill="rgb(146,146,146)" fill-opacity="0.20" stroke="#a8a8a8" stroke-width="0.8" stroke-opacity="0.38"/>
<circle cx="981.5" cy="693.4" r="2.6" fill="rgb(159,159,159)" fill-opacity="0.25" stroke="#a8a8a8" stroke-width="0.8" stroke-opacity="0.28"/>
<circle cx="582.8" cy="438.3" r="3.8" fill="rgb(140,140,140)" fill-opacity="0.21" stroke="#a8a8a8" stroke-width="0.8" stroke-opacity="0.26"/>
<circle cx="704.2" cy="532.8" r="2.7" fill="rgb(158,158,158)" fill-opacity="0.22" stroke="#a8a8a8" stroke-width="0.8" stroke-opacity="0.22"/>
<circle cx="621.5" cy="667.7" r="3.6" fill="rgb(156,156,156)" fill-opacity="0.24" stroke="#a8a8a8" stroke-width="0.8" stroke-opacity="0.23"/>
<circle cx="621.3" cy="513.9" r="2.4" fill="rgb(140,140,140)" fill-opacity="0.19" stroke="#a8a8a8" stroke-width="0.8" stroke-opacity="0.18"/>
<circle cx="592.6" cy="423.0" r="2.9" fill="rgb(159,159,159)" fill-opacity="0.31" stroke="#a8a8a8" stroke-width="0.8" stroke-opacity="0.18"/>
<circle cx="804.5" cy="381.9" r="3.4" fill="rgb(150,150,150)" fill-opacity="0.22" stroke="#a8a8a8" stroke-width="0.8" stroke-opacity="0.22"/>
<circle cx="742.3" cy="393.9" r="3.4" fill="rgb(155,155,155)" fill-opacity="0.14" stroke="#a8a8a8" stroke-width="0.8" stroke-opacity="0.40"/>
<circle cx="604.8" cy="708.7" r="4.0" fill="rgb(144,144,144)" fill-opacity="0.29" stroke="#a8a8a8" stroke-width="0.8" stroke-opacity="0.29"/>
<circle cx="650.3" cy="626.6" r="2.8" fill="rgb(136,136,136)" fill-opacity="0.27" stroke="#a8a8a8" stroke-width="0.8" stroke-opacity="0.20"/>
<circle cx="966.6" cy="451.3" r="2.8" fill="rgb(156,156,156)" fill-opacity="0.29" stroke="#a8a8a8" stroke-width="0.8" stroke-opacity="0.25"/>
<circle cx="811.3" cy="718.9" r="2.7" fill="rgb(140,140,140)" fill-opacity="0.14" stroke="#a8a8a8" stroke-width="0.8" stroke-opacity="0.32"/>
<circle cx="850.3" cy="424.1" r="3.5" fill="rgb(140,140,140)" fill-opacity="0.22" stroke="#a8a8a8" stroke-width="0.8" stroke-opacity="0.29"/>
<circle cx="798.8" cy="578.3" r="2.9" fill="rgb(153,153,153)" fill-opacity="0.16" stroke="#a8a8a8" stroke-width="0.8" stroke-opacity="0.37"/>
<circle cx="705.4" cy="657.5" r="3.3" fill="rgb(145,145,145)" fill-opacity="0.22" stroke="#a8a8a8" stroke-width="0.8" stroke-opacity="0.28"/>
<circle cx="720.1" cy="581.6" r="3.1" fill="rgb(157,157,157)" fill-opacity="0.17" stroke="#a8a8a8" stroke-width="0.8" stroke-opacity="0.34"/>
<circle cx="716.7" cy="685.7" r="3.7" fill="rgb(134,134,134)" fill-opacity="0.31" stroke="#a8a8a8" stroke-width="0.8" stroke-opacity="0.35"/>
<circle cx="833.4" cy="448.9" r="3.7" fill="rgb(149,149,149)" fill-opacity="0.17" stroke="#a8a8a8" stroke-width="0.8" stroke-opacity="0.31"/>
<circle cx="577.3" cy="631.0" r="2.5" fill="rgb(141,141,141)" fill-opacity="0.12" stroke="#a8a8a8" stroke-width="0.8" stroke-opacity="0.24"/>
<circle cx="809.9" cy="615.6" r="2.9" fill="rgb(140,140,140)" fill-opacity="0.14" stroke="#a8a8a8" stroke-width="0.8" stroke-opacity="0.24"/>
<circle cx="893.7" cy="715.0" r="3.9" fill="rgb(134,134,134)" fill-opacity="0.15" stroke="#a8a8a8" stroke-width="0.8" stroke-opacity="0.24"/>
<circle cx="787.2" cy="398.0" r="2.4" fill="rgb(156,156,156)" fill-opacity="0.32" stroke="#a8a8a8" stroke-width="0.8" stroke-opacity="0.26"/>
<circle cx="898.9" cy="632.2" r="3.6" fill="rgb(144,144,144)" fill-opacity="0.31" stroke="#a8a8a8" stroke-width="0.8" stroke-opacity="0.18"/>
<circle cx="647.3" cy="608.2" r="2.6" fill="rgb(157,157,157)" fill-opacity="0.28" stroke="#a8a8a8" stroke-width="0.8" stroke-opacity="0.35"/>
<circle cx="939.8" cy="608.2" r="2.5" fill="rgb(141,141,141)" fill-opacity="0.12" stroke="#a8a8a8" stroke-width="0.8" stroke-opacity="0.25"/>
<circle cx="823.9" cy="630.1" r="3.5" fill="rgb(139,139,139)" fill-opacity="0.30" stroke="#a8a8a8" stroke-width="0.8" stroke-opacity="0.29"/>
<circle cx="619.1" cy="716.3" r="3.4" fill="rgb(152,152,152)" fill-opacity="0.24" stroke="#a8a8a8" stroke-width="0.8" stroke-opacity="0.15"/>
<circle cx="783.7" cy="639.1" r="3.4" fill="rgb(138,138,138)" fill-opacity="0.21" stroke="#a8a8a8" stroke-width="0.8" stroke-opacity="0.33"/>
<circle cx="951.1" cy="462.5" r="3.2" fill="rgb(134,134,134)" fill-opacity="0.16" stroke="#a8a8a8" stroke-width="0.8" stroke-opacity="0.24"/>
<circle cx="528.1" cy="507.2" r="3.8" fill="rgb(141,141,141)" fill-opacity="0.15" stroke="#a8a8a8" stroke-width="0.8" stroke-opacity="0.18"/>
<circle cx="784.0" cy="524.4" r="3.3" fill="rgb(144,144,144)" fill-opacity="0.23" stroke="#a8a8a8" stroke-width="0.8" stroke-opacity="0.25"/>
<circle cx="657.9" cy="383.7" r="2.7" fill="rgb(154,154,154)" fill-opacity="0.19" stroke="#a8a8a8" stroke-width="0.8" stroke-opacity="0.34"/>
<circle cx="540.0" cy="632.5" r="3.7" fill="rgb(139,139,139)" fill-opacity="0.20" stroke="#a8a8a8" stroke-width="0.8" stroke-opacity="0.22"/>
<circle cx="728.4" cy="710.0" r="3.5" fill="rgb(135,135,135)" fill-opacity="0.32" stroke="#a8a8a8" stroke-width="0.8" stroke-opacity="0.32"/>
<circle cx="909.0" cy="681.5" r="3.9" fill="rgb(155,155,155)" fill-opacity="0.17" stroke="#a8a8a8" stroke-width="0.8" stroke-opacity="0.34"/>
<circle cx="839.6" cy="529.8" r="3.8" fill="rgb(132,132,132)" fill-opacity="0.22" stroke="#a8a8a8" stroke-width="0.8" stroke-opacity="0.37"/>
<circle cx="774.3" cy="517.2" r="2.4" fill="rgb(137,137,137)" fill-opacity="0.17" stroke="#a8a8a8" stroke-width="0.8" stroke-opacity="0.40"/>
<circle cx="782.1" cy="490.3" r="3.8" fill="rgb(150,150,150)" fill-opacity="0.18" stroke="#a8a8a8" stroke-width="0.8" stroke-opacity="0.31"/>
<circle cx="532.2" cy="567.4" r="3.1" fill="rgb(134,134,134)" fill-opacity="0.25" stroke="#a8a8a8" stroke-width="0.8" stroke-opacity="0.16"/>
<circle cx="612.8" cy="646.1" r="2.9" fill="rgb(153,153,153)" fill-opacity="0.23" stroke="#a8a8a8" stroke-width="0.8" stroke-opacity="0.27"/>
<circle cx="803.2" cy="387.3" r="2.2" fill="rgb(160,160,160)" fill-opacity="0.26" stroke="#a8a8a8" stroke-width="0.8" stroke-opacity="0.20"/>
<circle cx="851.4" cy="712.4" r="3.7" fill="rgb(151,151,151)" fill-opacity="0.23" stroke="#a8a8a8" stroke-width="0.8" stroke-opacity="0.31"/>
<circle cx="607.2" cy="540.1" r="3.8" fill="rgb(142,142,142)" fill-opacity="0.17" stroke="#a8a8a8" stroke-width="0.8" stroke-opacity="0.28"/>
<circle cx="908.5" cy="696.6" r="4.0" fill="rgb(160,160,160)" fill-opacity="0.14" stroke="#a8a8a8" stroke-width="0.8" stroke-opacity="0.26"/>
<circle cx="784.0" cy="623.3" r="2.4" fill="rgb(142,142,142)" fill-opacity="0.20" stroke="#a8a8a8" stroke-width="0.8" stroke-opacity="0.30"/>
<circle cx="696.5" cy="493.2" r="2.5" fill="rgb(151,151,151)" fill-opacity="0.18" stroke="#a8a8a8" stroke-width="0.8" stroke-opacity="0.20"/>
<circle cx="955.6" cy="518.1" r="2.7" fill="rgb(134,134,134)" fill-opacity="0.22" stroke="#a8a8a8" stroke-width="0.8" stroke-opacity="0.24"/>
<circle cx="799.6" cy="491.6" r="3.0" fill="rgb(135,135,135)" fill-opacity="0.13" stroke="#a8a8a8" stroke-width="0.8" stroke-opacity="0.38"/>
<circle cx="871.1" cy="530.7" r="2.6" fill="rgb(151,151,151)" fill-opacity="0.24" stroke="#a8a8a8" stroke-width="0.8" stroke-opacity="0.31"/>
<circle cx="987.3" cy="506.7" r="3.9" fill="rgb(145,145,145)" fill-opacity="0.32" stroke="#a8a8a8" stroke-width="0.8" stroke-opacity="0.39"/>
<circle cx="718.4" cy="559.1" r="3.8" fill="rgb(158,158,158)" fill-opacity="0.14" stroke="#a8a8a8" stroke-width="0.8" stroke-opacity="0.28"/>
<circle cx="566.9" cy="683.9" r="2.7" fill="rgb(141,141,141)" fill-opacity="0.18" stroke="#a8a8a8" stroke-width="0.8" stroke-opacity="0.33"/>
<circle cx="674.7" cy="538.3" r="3.8" fill="rgb(145,145,145)" fill-opacity="0.30" stroke="#a8a8a8" stroke-width="0.8" stroke-opacity="0.38"/>
<circle cx="737.2" cy="463.2" r="3.9" fill="rgb(148,148,148)" fill-opacity="0.19" stroke="#a8a8a8" stroke-width="0.8" stroke-opacity="0.16"/>
<circle cx="741.8" cy="392.4" r="3.3" fill="rgb(143,143,143)" fill-opacity="0.18" stroke="#a8a8a8" stroke-width="0.8" stroke-opacity="0.20"/>
<circle cx="881.8" cy="702.8" r="2.2" fill="rgb(147,147,147)" fill-opacity="0.14" stroke="#a8a8a8" stroke-width="0.8" stroke-opacity="0.16"/>
<circle cx="989.9" cy="492.5" r="3.2" fill="rgb(159,159,159)" fill-opacity="0.25" stroke="#a8a8a8" stroke-width="0.8" stroke-opacity="0.24"/>
<circle cx="855.6" cy="661.1" r="3.4" fill="rgb(143,143,143)" fill-opacity="0.27" stroke="#a8a8a8" stroke-width="0.8" stroke-opacity="0.24"/>
<circle cx="693.1" cy="481.0" r="4.0" fill="rgb(135,135,135)" fill-opacity="0.13" stroke="#a8a8a8" stroke-width="0.8" stroke-opacity="0.22"/>
<circle cx="579.0" cy="511.5" r="3.9" fill="rgb(160,160,160)" fill-opacity="0.17" stroke="#a8a8a8" stroke-width="0.8" stroke-opacity="0.22"/>
<circle cx="712.2" cy="721.0" r="2.7" fill="rgb(154,154,154)" fill-opacity="0.25" stroke="#a8a8a8" stroke-width="0.8" stroke-opacity="0.37"/>
<circle cx="652.3" cy="713.1" r="4.0" fill="rgb(143,143,143)" fill-opacity="0.31" stroke="#a8a8a8" stroke-width="0.8" stroke-opacity="0.33"/>
<circle cx="627.9" cy="538.6" r="2.7" fill="rgb(159,159,159)" fill-opacity="0.17" stroke="#a8a8a8" stroke-width="0.8" stroke-opacity="0.37"/>
<circle cx="652.4" cy="700.2" r="3.6" fill="rgb(153,153,153)" fill-opacity="0.17" stroke="#a8a8a8" stroke-width="0.8" stroke-opacity="0.33"/>
<circle cx="819.6" cy="504.8" r="4.0" fill="rgb(160,160,160)" fill-opacity="0.25" stroke="#a8a8a8" stroke-width="0.8" stroke-opacity="0.38"/>
<circle cx="679.8" cy="441.0" r="2.8" fill="rgb(149,149,149)" fill-opacity="0.30" stroke="#a8a8a8" stroke-width="0.8" stroke-opacity="0.36"/>
<circle cx="635.2" cy="673.8" r="3.8" fill="rgb(149,149,149)" fill-opacity="0.22" stroke="#a8a8a8" stroke-width="0.8" stroke-opacity="0.27"/>
<circle cx="614.4" cy="472.5" r="3.1" fill="rgb(147,147,147)" fill-opacity="0.23" stroke="#a8a8a8" stroke-width="0.8" stroke-opacity="0.26"/>
<circle cx="926.1" cy="440.1" r="2.5" fill="rgb(159,159,159)" fill-opacity="0.24" stroke="#a8a8a8" stroke-width="0.8" stroke-opacity="0.30"/>
<circle cx="745.5" cy="533.7" r="2.8" fill="rgb(148,148,148)" fill-opacity="0.29" stroke="#a8a8a8" stroke-width="0.8" stroke-opacity="0.16"/>
<circle cx="970.4" cy="448.1" r="3.1" fill="rgb(156,156,156)" fill-opacity="0.15" stroke="#a8a8a8" stroke-width="0.8" stroke-opacity="0.31"/>
<circle cx="809.6" cy="578.9" r="3.7" fill="rgb(135,135,135)" fill-opacity="0.16" stroke="#a8a8a8" stroke-width="0.8" stroke-opacity="0.38"/>
<circle cx="973.8" cy="424.6" r="3.4" fill="rgb(134,134,134)" fill-opacity="0.31" stroke="#a8a8a8" stroke-width="0.8" stroke-opacity="0.39"/>
<circle cx="850.3" cy="552.2" r="3.4" fill="rgb(148,148,148)" fill-opacity="0.28" stroke="#a8a8a8" stroke-width="0.8" stroke-opacity="0.36"/>
<circle cx="931.6" cy="680.9" r="2.6" fill="rgb(138,138,138)" fill-opacity="0.26" stroke="#a8a8a8" stroke-width="0.8" stroke-opacity="0.29"/>
<circle cx="982.9" cy="400.2" r="2.9" fill="rgb(158,158,158)" fill-opacity="0.21" stroke="#a8a8a8" stroke-width="0.8" stroke-opacity="0.18"/>
<circle cx="676.4" cy="725.4" r="3.6" fill="rgb(157,157,157)" fill-opacity="0.17" stroke="#a8a8a8" stroke-width="0.8" stroke-opacity="0.35"/>
<circle cx="522.5" cy="458.8" r="3.3" fill="rgb(151,151,151)" fill-opacity="0.21" stroke="#a8a8a8" stroke-width="0.8" stroke-opacity="0.39"/>
<circle cx="696.7" cy="477.7" r="2.6" fill="rgb(154,154,154)" fill-opacity="0.28" stroke="#a8a8a8" stroke-width="0.8" stroke-opacity="0.36"/>
<circle cx="817.3" cy="392.5" r="2.9" fill="rgb(137,137,137)" fill-opacity="0.18" stroke="#a8a8a8" stroke-width="0.8" stroke-opacity="0.16"/>
<circle cx="851.8" cy="469.8" r="3.2" fill="rgb(160,160,160)" fill-opacity="0.17" stroke="#a8a8a8" stroke-width="0.8" stroke-opacity="0.22"/>
<circle cx="642.5" cy="403.8" r="3.2" fill="rgb(148,148,148)" fill-opacity="0.24" stroke="#a8a8a8" stroke-width="0.8" stroke-opacity="0.39"/>
<circle cx="795.6" cy="599.0" r="3.8" fill="rgb(158,158,158)" fill-opacity="0.22" stroke="#a8a8a8" stroke-width="0.8" stroke-opacity="0.30"/>
<circle cx="695.5" cy="558.7" r="3.1" fill="rgb(147,147,147)" fill-opacity="0.17" stroke="#a8a8a8" stroke-width="0.8" stroke-opacity="0.30"/>
<circle cx="655.7" cy="491.5" r="2.8" fill="rgb(155,155,155)" fill-opacity="0.13" stroke="#a8a8a8" stroke-width="0.8" stroke-opacity="0.40"/>
<circle cx="598.9" cy="602.0" r="2.6" fill="rgb(152,152,152)" fill-opacity="0.29" stroke="#a8a8a8" stroke-width="0.8" stroke-opacity="0.26"/>
<circle cx="744.1" cy="733.1" r="3.3" fill="rgb(142,142,142)" fill-opacity="0.17" stroke="#a8a8a8" stroke-width="0.8" stroke-opacity="0.36"/>
<circle cx="854.2" cy="491.8" r="3.1" fill="rgb(136,136,136)" fill-opacity="0.28" stroke="#a8a8a8" stroke-width="0.8" stroke-opacity="0.37"/>
<circle cx="867.9" cy="635.5" r="2.4" fill="rgb(159,159,159)" fill-opacity="0.24" stroke="#a8a8a8" stroke-width="0.8" stroke-opacity="0.37"/>
<circle cx="876.7" cy="698.9" r="3.7" fill="rgb(153,153,153)" fill-opacity="0.24" stroke="#a8a8a8" stroke-width="0.8" stroke-opacity="0.22"/>
<circle cx="640.1" cy="708.5" r="3.6" fill="rgb(139,139,139)" fill-opacity="0.14" stroke="#a8a8a8" stroke-width="0.8" stroke-opacity="0.37"/>
<circle cx="526.5" cy="604.0" r="3.5" fill="rgb(144,144,144)" fill-opacity="0.30" stroke="#a8a8a8" stroke-width="0.8" stroke-opacity="0.31"/>
<circle cx="994.4" cy="628.0" r="3.2" fill="rgb(134,134,134)" fill-opacity="0.30" stroke="#a8a8a8" stroke-width="0.8" stroke-opacity="0.18"/>
<circle cx="651.8" cy="612.8" r="3.4" fill="rgb(159,159,159)" fill-opacity="0.31" stroke="#a8a8a8" stroke-width="0.8" stroke-opacity="0.38"/>
<circle cx="897.6" cy="517.1" r="3.5" fill="rgb(136,136,136)" fill-opacity="0.18" stroke="#a8a8a8" stroke-width="0.8" stroke-opacity="0.40"/>
<circle cx="825.7" cy="713.4" r="2.5" fill="rgb(149,149,149)" fill-opacity="0.16" stroke="#a8a8a8" stroke-width="0.8" stroke-opacity="0.33"/>
<circle cx="963.1" cy="536.7" r="2.2" fill="rgb(141,141,141)" fill-opacity="0.14" stroke="#a8a8a8" stroke-width="0.8" stroke-opacity="0.26"/>
<circle cx="903.2" cy="732.4" r="2.7" fill="rgb(136,136,136)" fill-opacity="0.13" stroke="#a8a8a8" stroke-width="0.8" stroke-opacity="0.23"/>
<circle cx="643.3" cy="454.4" r="3.8" fill="rgb(140,140,140)" fill-opacity="0.15" stroke="#a8a8a8" stroke-width="0.8" stroke-opacity="0.19"/>
<circle cx="866.7" cy="534.5" r="2.9" fill="rgb(153,153,153)" fill-opacity="0.25" stroke="#a8a8a8" stroke-width="0.8" stroke-opacity="0.27"/>
<circle cx="816.2" cy="490.7" r="3.0" fill="rgb(152,152,152)" fill-opacity="0.12" stroke="#a8a8a8" stroke-width="0.8" stroke-opacity="0.25"/>
<circle cx="702.6" cy="496.0" r="3.1" fill="rgb(152,152,152)" fill-opacity="0.27" stroke="#a8a8a8" stroke-width="0.8" stroke-opacity="0.34"/>
<circle cx="816.4" cy="385.6" r="2.6" fill="rgb(152,152,152)" fill-opacity="0.14" stroke="#a8a8a8" stroke-width="0.8" stroke-opacity="0.30"/>
<circle cx="527.3" cy="681.2" r="2.5" fill="rgb(145,145,145)" fill-opacity="0.14" stroke="#a8a8a8" stroke-width="0.8" stroke-opacity="0.19"/>
<circle cx="745.1" cy="567.2" r="3.8" fill="rgb(138,138,138)" fill-opacity="0.30" stroke="#a8a8a8" stroke-width="0.8" stroke-opacity="0.21"/>
<circle cx="708.3" cy="724.3" r="3.1" fill="rgb(139,139,139)" fill-opacity="0.21" stroke="#a8a8a8" stroke-width="0.8" stroke-opacity="0.36"/>
<circle cx="936.1" cy="420.5" r="3.1" fill="rgb(143,143,143)" fill-opacity="0.14" stroke="#a8a8a8" stroke-width="0.8" stroke-opacity="0.26"/>
<circle cx="661.0" cy="645.1" r="2.2" fill="rgb(145,145,145)" fill-opacity="0.19" stroke="#a8a8a8" stroke-width="0.8" stroke-opacity="0.26"/>
<circle cx="727.2" cy="731.4" r="3.4" fill="rgb(143,143,143)" fill-opacity="0.19" stroke="#a8a8a8" stroke-width="0.8" stroke-opacity="0.26"/>
<circle cx="966.4" cy="594.2" r="3.9" fill="rgb(138,138,138)" fill-opacity="0.22" stroke="#a8a8a8" stroke-width="0.8" stroke-opacity="0.33"/>
<circle cx="914.4" cy="417.3" r="2.9" fill="rgb(158,158,158)" fill-opacity="0.24" stroke="#a8a8a8" stroke-width="0.8" stroke-opacity="0.19"/>
<circle cx="721.0" cy="560.1" r="2.2" fill="rgb(144,144,144)" fill-opacity="0.21" stroke="#a8a8a8" stroke-width="0.8" stroke-opacity="0.39"/>
<circle cx="767.6" cy="569.2" r="2.3" fill="rgb(133,133,133)" fill-opacity="0.21" stroke="#a8a8a8" stroke-width="0.8" stroke-opacity="0.31"/>
<circle cx="624.2" cy="585.8" r="2.4" fill="rgb(140,140,140)" fill-opacity="0.22" stroke="#a8a8a8" stroke-width="0.8" stroke-opacity="0.23"/>
<circle cx="732.6" cy="635.8" r="2.5" fill="rgb(151,151,151)" fill-opacity="0.31" stroke="#a8a8a8" stroke-width="0.8" stroke-opacity="0.36"/>
<circle cx="699.4" cy="609.3" r="2.4" fill="rgb(153,153,153)" fill-opacity="0.27" stroke="#a8a8a8" stroke-width="0.8" stroke-opacity="0.21"/>
<circle cx="701.6" cy="597.1" r="3.4" fill="rgb(150,150,150)" fill-opacity="0.27" stroke="#a8a8a8" stroke-width="0.8" stroke-opacity="0.36"/>
<circle cx="744.5" cy="385.4" r="3.7" fill="rgb(135,135,135)" fill-opacity="0.23" stroke="#a8a8a8" stroke-width="0.8" stroke-opacity="0.33"/>
<circle cx="905.9" cy="570.4" r="3.3" fill="rgb(160,160,160)" fill-opacity="0.27" stroke="#a8a8a8" stroke-width="0.8" stroke-opacity="0.22"/>
<circle cx="966.8" cy="623.4" r="2.7" fill="rgb(140,140,140)" fill-opacity="0.21" stroke="#a8a8a8" stroke-width="0.8" stroke-opacity="0.28"/>
<circle cx="923.9" cy="543.9" r="3.5" fill="rgb(142,142,142)" fill-opacity="0.21" stroke="#a8a8a8" stroke-width="0.8" stroke-opacity="0.23"/>
<circle cx="707.5" cy="631.0" r="2.6" fill="rgb(146,146,146)" fill-opacity="0.27" stroke="#a8a8a8" stroke-width="0.8" stroke-opacity="0.15"/>
<circle cx="715.4" cy="657.4" r="3.4" fill="rgb(156,156,156)" fill-opacity="0.17" stroke="#a8a8a8" stroke-width="0.8" stroke-opacity="0.30"/>
<circle cx="667.3" cy="410.3" r="3.6" fill="rgb(140,140,140)" fill-opacity="0.27" stroke="#a8a8a8" stroke-width="0.8" stroke-opacity="0.34"/>
<circle cx="905.2" cy="484.1" r="3.6" fill="rgb(139,139,139)" fill-opacity="0.25" stroke="#a8a8a8" stroke-width="0.8" stroke-opacity="0.15"/>
<circle cx="895.4" cy="402.6" r="3.5" fill="rgb(150,150,150)" fill-opacity="0.13" stroke="#a8a8a8" stroke-width="0.8" stroke-opacity="0.30"/>
<circle cx="857.6" cy="669.9" r="4.0" fill="rgb(139,139,139)" fill-opacity="0.21" stroke="#a8a8a8" stroke-width="0.8" stroke-opacity="0.24"/>
<circle cx="836.5" cy="448.2" r="3.2" fill="rgb(139,139,139)" fill-opacity="0.16" stroke="#a8a8a8" stroke-width="0.8" stroke-opacity="0.34"/>
<circle cx="782.1" cy="659.5" r="3.4" fill="rgb(157,157,157)" fill-opacity="0.22" stroke="#a8a8a8" stroke-width="0.8" stroke-opacity="0.15"/>
<circle cx="997.9" cy="462.4" r="3.7" fill="rgb(137,137,137)" fill-opacity="0.22" stroke="#a8a8a8" stroke-width="0.8" stroke-opacity="0.22"/>
<circle cx="834.0" cy="408.5" r="2.3" fill="rgb(145,145,145)" fill-opacity="0.29" stroke="#a8a8a8" stroke-width="0.8" stroke-opacity="0.27"/>
<circle cx="576.4" cy="736.5" r="2.4" fill="rgb(141,141,141)" fill-opacity="0.23" stroke="#a8a8a8" stroke-width="0.8" stroke-opacity="0.22"/>
<circle cx="854.2" cy="530.5" r="3.6" fill="rgb(134,134,134)" fill-opacity="0.28" stroke="#a8a8a8" stroke-width="0.8" stroke-opacity="0.38"/>
<circle cx="641.4" cy="465.3" r="3.8" fill="rgb(144,144,144)" fill-opacity="0.20" stroke="#a8a8a8" stroke-width="0.8" stroke-opacity="0.30"/>
<circle cx="782.4" cy="671.8" r="3.4" fill="rgb(153,153,153)" fill-opacity="0.21" stroke="#a8a8a8" stroke-width="0.8" stroke-opacity="0.28"/>
<circle cx="928.7" cy="691.1" r="3.3" fill="rgb(149,149,149)" fill-opacity="0.18" stroke="#a8a8a8" stroke-width="0.8" stroke-opacity="0.27"/>
<circle cx="613.8" cy="554.4" r="2.3" fill="rgb(139,139,139)" fill-opacity="0.18" stroke="#a8a8a8" stroke-width="0.8" stroke-opacity="0.27"/>
<circle cx="846.1" cy="415.1" r="3.4" fill="rgb(155,155,155)" fill-opacity="0.15" stroke="#a8a8a8" stroke-width="0.8" stroke-opacity="0.18"/>
<circle cx="568.5" cy="607.0" r="2.9" fill="rgb(133,133,133)" fill-opacity="0.14" stroke="#a8a8a8" stroke-width="0.8" stroke-opacity="0.24"/>
<circle cx="544.9" cy="664.7" r="2.5" fill="rgb(156,156,156)" fill-opacity="0.13" stroke="#a8a8a8" stroke-width="0.8" stroke-opacity="0.23"/>
<circle cx="964.4" cy="434.5" r="2.3" fill="rgb(157,157,157)" fill-opacity="0.28" stroke="#a8a8a8" stroke-width="0.8" stroke-opacity="0.27"/>
<circle cx="580.3" cy="485.3" r="3.0" fill="rgb(160,160,160)" fill-opacity="0.16" stroke="#a8a8a8" stroke-width="0.8" stroke-opacity="0.32"/>
<circle cx="858.0" cy="692.5" r="3.4" fill="rgb(143,143,143)" fill-opacity="0.21" stroke="#a8a8a8" stroke-width="0.8" stroke-opacity="0.27"/>
<circle cx="801.3" cy="571.0" r="2.4" fill="rgb(155,155,155)" fill-opacity="0.19" stroke="#a8a8a8" stroke-width="0.8" stroke-opacity="0.31"/>
<circle cx="668.7" cy="540.6" r="4.0" fill="rgb(132,132,132)" fill-opacity="0.25" stroke="#a8a8a8" stroke-width="0.8" stroke-opacity="0.20"/>
<circle cx="976.4" cy="674.6" r="3.7" fill="rgb(157,157,157)" fill-opacity="0.19" stroke="#a8a8a8" stroke-width="0.8" stroke-opacity="0.28"/>
<circle cx="960.8" cy="549.1" r="3.9" fill="rgb(156,156,156)" fill-opacity="0.22" stroke="#a8a8a8" stroke-width="0.8" stroke-opacity="0.28"/>
<circle cx="768.5" cy="476.5" r="2.8" fill="rgb(144,144,144)" fill-opacity="0.23" stroke="#a8a8a8" stroke-width="0.8" stroke-opacity="0.37"/>
<circle cx="751.6" cy="580.5" r="3.5" fill="rgb(155,155,155)" fill-opacity="0.31" stroke="#a8a8a8" stroke-width="0.8" stroke-opacity="0.33"/>
<circle cx="806.2" cy="637.4" r="2.4" fill="rgb(154,154,154)" fill-opacity="0.16" stroke="#a8a8a8" stroke-width="0.8" stroke-opacity="0.37"/>
<circle cx="936.9" cy="605.5" r="3.9" fill="rgb(133,133,133)" fill-opacity="0.14" stroke="#a8a8a8" stroke-width="0.8" stroke-opacity="0.27"/>
<circle cx="614.8" cy="388.0" r="3.9" fill="rgb(144,144,144)" fill-opacity="0.29" stroke="#a8a8a8" stroke-width="0.8" stroke-opacity="0.22"/>
<circle cx="822.1" cy="404.8" r="3.3" fill="rgb(153,153,153)" fill-opacity="0.24" stroke="#a8a8a8" stroke-width="0.8" stroke-opacity="0.27"/>
<circle cx="873.0" cy="460.9" r="3.4" fill="rgb(140,140,140)" fill-opacity="0.13" stroke="#a8a8a8" stroke-width="0.8" stroke-opacity="0.24"/>
<circle cx="879.7" cy="439.5" r="3.6" fill="rgb(142,142,142)" fill-opacity="0.22" stroke="#a8a8a8" stroke-width="0.8" stroke-opacity="0.17"/>
<circle cx="600.0" cy="619.1" r="3.8" fill="rgb(140,140,140)" fill-opacity="0.26" stroke="#a8a8a8" stroke-width="0.8" stroke-opacity="0.37"/>
<circle cx="924.5" cy="721.6" r="2.4" fill="rgb(152,152,152)" fill-opacity="0.18" stroke="#a8a8a8" stroke-width="0.8" stroke-opacity="0.16"/>
<circle cx="758.6" cy="723.7" r="2.8" fill="rgb(139,139,139)" fill-opacity="0.32" stroke="#a8a8a8" stroke-width="0.8" stroke-opacity="0.32"/>
<circle cx="595.1" cy="387.4" r="2.3" fill="rgb(134,134,134)" fill-opacity="0.30" stroke="#a8a8a8" stroke-width="0.8" stroke-opacity="0.33"/>
<circle cx="606.8" cy="535.6" r="3.0" fill="rgb(157,157,157)" fill-opacity="0.31" stroke="#a8a8a8" stroke-width="0.8" stroke-opacity="0.15"/>
<circle cx="532.9" cy="600.1" r="2.3" fill="rgb(144,144,144)" fill-opacity="0.25" stroke="#a8a8a8" stroke-width="0.8" stroke-opacity="0.28"/>
<circle cx="608.8" cy="483.0" r="3.2" fill="rgb(136,136,136)" fill-opacity="0.31" stroke="#a8a8a8" stroke-width="0.8" stroke-opacity="0.21"/>
<circle cx="923.8" cy="450.4" r="3.1" fill="rgb(156,156,156)" fill-opacity="0.25" stroke="#a8a8a8" stroke-width="0.8" stroke-opacity="0.18"/>
<circle cx="643.5" cy="517.5" r="3.1" fill="rgb(160,160,160)" fill-opacity="0.19" stroke="#a8a8a8" stroke-width="0.8" stroke-opacity="0.24"/>
<circle cx="776.9" cy="461.9" r="3.7" fill="rgb(132,132,132)" fill-opacity="0.27" stroke="#a8a8a8" stroke-width="0.8" stroke-opacity="0.38"/>
<circle cx="678.3" cy="654.5" r="3.5" fill="rgb(155,155,155)" fill-opacity="0.25" stroke="#a8a8a8" stroke-width="0.8" stroke-opacity="0.29"/>
<circle cx="655.7" cy="532.5" r="2.4" fill="rgb(151,151,151)" fill-opacity="0.22" stroke="#a8a8a8" stroke-width="0.8" stroke-opacity="0.17"/>
<circle cx="573.1" cy="497.7" r="2.6" fill="rgb(137,137,137)" fill-opacity="0.27" stroke="#a8a8a8" stroke-width="0.8" stroke-opacity="0.23"/>
<circle cx="551.0" cy="710.3" r="3.9" fill="rgb(156,156,156)" fill-opacity="0.21" stroke="#a8a8a8" stroke-width="0.8" stroke-opacity="0.39"/>
<circle cx="954.0" cy="612.5" r="3.5" fill="rgb(153,153,153)" fill-opacity="0.23" stroke="#a8a8a8" stroke-width="0.8" stroke-opacity="0.37"/>
<circle cx="932.9" cy="650.0" r="3.5" fill="rgb(145,145,145)" fill-opacity="0.19" stroke="#a8a8a8" stroke-width="0.8" stroke-opacity="0.39"/>
<circle cx="796.8" cy="717.4" r="2.6" fill="rgb(136,136,136)" fill-opacity="0.27" stroke="#a8a8a8" stroke-width="0.8" stroke-opacity="0.32"/>
<circle cx="718.7" cy="565.9" r="3.9" fill="rgb(152,152,152)" fill-opacity="0.23" stroke="#a8a8a8" stroke-width="0.8" stroke-opacity="0.22"/>
<circle cx="601.0" cy="516.2" r="2.7" fill="rgb(153,153,153)" fill-opacity="0.32" stroke="#a8a8a8" stroke-width="0.8" stroke-opacity="0.37"/>
<circle cx="654.8" cy="488.0" r="3.3" fill="rgb(157,157,157)" fill-opacity="0.18" stroke="#a8a8a8" stroke-width="0.8" stroke-opacity="0.22"/>
<circle cx="748.8" cy="656.9" r="3.0" fill="rgb(132,132,132)" fill-opacity="0.26" stroke="#a8a8a8" stroke-width="0.8" stroke-opacity="0.37"/>
<circle cx="850.8" cy="392.0" r="2.7" fill="rgb(147,147,147)" fill-opacity="0.22" stroke="#a8a8a8" stroke-width="0.8" stroke-opacity="0.17"/>
<circle cx="656.1" cy="525.4" r="3.1" fill="rgb(161,161,161)" fill-opacity="0.26" stroke="#a8a8a8" stroke-width="0.8" stroke-opacity="0.28"/>
<circle cx="524.4" cy="391.6" r="3.6" fill="rgb(148,148,148)" fill-opacity="0.26" stroke="#a8a8a8" stroke-width="0.8" stroke-opacity="0.18"/>
<circle cx="986.5" cy="564.6" r="3.2" fill="rgb(152,152,152)" fill-opacity="0.25" stroke="#a8a8a8" stroke-width="0.8" stroke-opacity="0.35"/>
<circle cx="620.4" cy="402.3" r="3.0" fill="rgb(155,155,155)" fill-opacity="0.27" stroke="#a8a8a8" stroke-width="0.8" stroke-opacity="0.25"/>
<circle cx="877.0" cy="658.4" r="3.6" fill="rgb(160,160,160)" fill-opacity="0.21" stroke="#a8a8a8" stroke-width="0.8" stroke-opacity="0.33"/>
<circle cx="957.6" cy="484.4" r="4.0" fill="rgb(142,142,142)" fill-opacity="0.25" stroke="#a8a8a8" stroke-width="0.8" stroke-opacity="0.18"/>
<circle cx="610.9" cy="412.8" r="3.3" fill="rgb(132,132,132)" fill-opacity="0.22" stroke="#a8a8a8" stroke-width="0.8" stroke-opacity="0.34"/>
<circle cx="649.7" cy="449.3" r="3.9" fill="rgb(138,138,138)" fill-opacity="0.24" stroke="#a8a8a8" stroke-width="0.8" stroke-opacity="0.27"/>
<circle cx="953.3" cy="606.5" r="3.1" fill="rgb(139,139,139)" fill-opacity="0.29" stroke="#a8a8a8" stroke-width="0.8" stroke-opacity="0.23"/>
<circle cx="907.7" cy="630.8" r="3.2" fill="rgb(161,161,161)" fill-opacity="0.25" stroke="#a8a8a8" stroke-width="0.8" stroke-opacity="0.30"/>
<circle cx="857.7" cy="440.1" r="3.0" fill="rgb(132,132,132)" fill-opacity="0.15" stroke="#a8a8a8" stroke-width="0.8" stroke-opacity="0.16"/>
<circle cx="794.2" cy="497.0" r="2.5" fill="rgb(143,143,143)" fill-opacity="0.31" stroke="#a8a8a8" stroke-width="0.8" stroke-opacity="0.16"/>
<circle cx="573.4" cy="694.7" r="2.6" fill="rgb(151,151,151)" fill-opacity="0.14" stroke="#a8a8a8" stroke-width="0.8" stroke-opacity="0.16"/>
<circle cx="815.1" cy="646.4" r="2.6" fill="rgb(145,145,145)" fill-opacity="0.15" stroke="#a8a8a8" stroke-width="0.8" stroke-opacity="0.36"/>
<circle cx="584.4" cy="582.0" r="3.9" fill="rgb(138,138,138)" fill-opacity="0.27" stroke="#a8a8a8" stroke-width="0.8" stroke-opacity="0.27"/>
<circle cx="931.5" cy="690.2" r="3.1" fill="rgb(146,146,146)" fill-opacity="0.27" stroke="#a8a8a8" stroke-width="0.8" stroke-opacity="0.33"/>
<circle cx="677.8" cy="718.9" r="3.1" fill="rgb(139,139,139)" fill-opacity="0.20" stroke="#a8a8a8" stroke-width="0.8" stroke-opacity="0.25"/>
<circle cx="758.7" cy="503.9" r="3.0" fill="rgb(161,161,161)" fill-opacity="0.32" stroke="#a8a8a8" stroke-width="0.8" stroke-opacity="0.21"/>
<circle cx="667.6" cy="515.7" r="2.6" fill="rgb(138,138,138)" fill-opacity="0.22" stroke="#a8a8a8" stroke-width="0.8" stroke-opacity="0.25"/>
<circle cx="557.1" cy="567.0" r="3.1" fill="rgb(160,160,160)" fill-opacity="0.29" stroke="#a8a8a8" stroke-width="0.8" stroke-opacity="0.31"/>
<circle cx="770.3" cy="420.5" r="3.4" fill="rgb(159,159,159)" fill-opacity="0.31" stroke="#a8a8a8" stroke-width="0.8" stroke-opacity="0.38"/>
<circle cx="872.9" cy="503.7" r="2.5" fill="rgb(138,138,138)" fill-opacity="0.20" stroke="#a8a8a8" stroke-width="0.8" stroke-opacity="0.18"/>
<circle cx="666.0" cy="729.1" r="3.5" fill="rgb(153,153,153)" fill-opacity="0.15" stroke="#a8a8a8" stroke-width="0.8" stroke-opacity="0.28"/>
<circle cx="754.9" cy="712.3" r="3.4" fill="rgb(141,141,141)" fill-opacity="0.17" stroke="#a8a8a8" stroke-width="0.8" stroke-opacity="0.18"/>
<circle cx="758.4" cy="605.3" r="2.9" fill="rgb(160,160,160)" fill-opacity="0.27" stroke="#a8a8a8" stroke-width="0.8" stroke-opacity="0.29"/>
<circle cx="709.3" cy="615.8" r="3.4" fill="rgb(154,154,154)" fill-opacity="0.18" stroke="#a8a8a8" stroke-width="0.8" stroke-opacity="0.25"/>
<circle cx="632.5" cy="429.5" r="2.8" fill="rgb(139,139,139)" fill-opacity="0.18" stroke="#a8a8a8" stroke-width="0.8" stroke-opacity="0.27"/>
<circle cx="703.4" cy="643.0" r="2.7" fill="rgb(153,153,153)" fill-opacity="0.30" stroke="#a8a8a8" stroke-width="0.8" stroke-opacity="0.27"/>
<circle cx="905.4" cy="407.8" r="2.7" fill="rgb(134,134,134)" fill-opacity="0.22" stroke="#a8a8a8" stroke-width="0.8" stroke-opacity="0.24"/>
<circle cx="750.7" cy="462.9" r="2.3" fill="rgb(154,154,154)" fill-opacity="0.31" stroke="#a8a8a8" stroke-width="0.8" stroke-opacity="0.20"/>
<circle cx="873.0" cy="506.1" r="3.5" fill="rgb(150,150,150)" fill-opacity="0.27" stroke="#a8a8a8" stroke-width="0.8" stroke-opacity="0.40"/>
<circle cx="654.8" cy="695.7" r="2.6" fill="rgb(155,155,155)" fill-opacity="0.15" stroke="#a8a8a8" stroke-width="0.8" stroke-opacity="0.20"/>
<circle cx="725.5" cy="454.4" r="3.7" fill="rgb(133,133,133)" fill-opacity="0.19" stroke="#a8a8a8" stroke-width="0.8" stroke-opacity="0.29"/>
<circle cx="902.7" cy="730.2" r="3.2" fill="rgb(137,137,137)" fill-opacity="0.17" stroke="#a8a8a8" stroke-width="0.8" stroke-opacity="0.30"/>
<circle cx="590.4" cy="684.0" r="3.7" fill="rgb(153,153,153)" fill-opacity="0.31" stroke="#a8a8a8" stroke-width="0.8" stroke-opacity="0.26"/>
<circle cx="978.8" cy="451.7" r="2.7" fill="rgb(147,147,147)" fill-opacity="0.30" stroke="#a8a8a8" stroke-width="0.8" stroke-opacity="0.15"/>
<circle cx="929.2" cy="513.9" r="3.8" fill="rgb(157,157,157)" fill-opacity="0.30" stroke="#a8a8a8" stroke-width="0.8" stroke-opacity="0.29"/>
<circle cx="577.5" cy="488.2" r="2.8" fill="rgb(151,151,151)" fill-opacity="0.19" stroke="#a8a8a8" stroke-width="0.8" stroke-opacity="0.27"/>
<circle cx="692.7" cy="602.9" r="2.5" fill="rgb(143,143,143)" fill-opacity="0.30" stroke="#a8a8a8" stroke-width="0.8" stroke-opacity="0.22"/>
<circle cx="752.8" cy="659.2" r="3.4" fill="rgb(145,145,145)" fill-opacity="0.13" stroke="#a8a8a8" stroke-width="0.8" stroke-opacity="0.37"/>
<circle cx="959.7" cy="663.9" r="3.6" fill="rgb(158,158,158)" fill-opacity="0.29" stroke="#a8a8a8" stroke-width="0.8" stroke-opacity="0.27"/>
<circle cx="707.4" cy="543.5" r="2.4" fill="rgb(137,137,137)" fill-opacity="0.26" stroke="#a8a8a8" stroke-width="0.8" stroke-opacity="0.33"/>
<circle cx="851.1" cy="587.8" r="2.5" fill="rgb(143,143,143)" fill-opacity="0.31" stroke="#a8a8a8" stroke-width="0.8" stroke-opacity="0.39"/>
<circle cx="661.0" cy="514.4" r="2.5" fill="rgb(142,142,142)" fill-opacity="0.21" stroke="#a8a8a8" stroke-width="0.8" stroke-opacity="0.22"/>
<circle cx="953.5" cy="407.6" r="3.0" fill="rgb(134,134,134)" fill-opacity="0.19" stroke="#a8a8a8" stroke-width="0.8" stroke-opacity="0.34"/>
<circle cx="568.2" cy="588.0" r="3.2" fill="rgb(149,149,149)" fill-opacity="0.22" stroke="#a8a8a8" stroke-width="0.8" stroke-opacity="0.30"/>
<circle cx="646.3" cy="474.9" r="3.6" fill="rgb(137,137,137)" fill-opacity="0.28" stroke="#a8a8a8" stroke-width="0.8" stroke-opacity="0.37"/>
<circle cx="792.1" cy="480.6" r="3.0" fill="rgb(147,147,147)" fill-opacity="0.26" stroke="#a8a8a8" stroke-width="0.8" stroke-opacity="0.38"/>
<circle cx="724.0" cy="453.7" r="2.8" fill="rgb(160,160,160)" fill-opacity="0.16" stroke="#a8a8a8" stroke-width="0.8" stroke-opacity="0.21"/>
<circle cx="535.3" cy="599.8" r="3.0" fill="rgb(156,156,156)" fill-opacity="0.25" stroke="#a8a8a8" stroke-width="0.8" stroke-opacity="0.31"/>
<circle cx="847.2" cy="544.4" r="2.7" fill="rgb(132,132,132)" fill-opacity="0.20" stroke="#a8a8a8" stroke-width="0.8" stroke-opacity="0.15"/>
<circle cx="622.0" cy="515.2" r="3.1" fill="rgb(143,143,143)" fill-opacity="0.16" stroke="#a8a8a8" stroke-width="0.8" stroke-opacity="0.34"/>
<circle cx="671.7" cy="507.0" r="2.6" fill="rgb(134,134,134)" fill-opacity="0.27" stroke="#a8a8a8" stroke-width="0.8" stroke-opacity="0.26"/>
<circle cx="784.3" cy="693.0" r="3.8" fill="rgb(149,149,149)" fill-opacity="0.31" stroke="#a8a8a8" stroke-width="0.8" stroke-opacity="0.29"/>
<circle cx="941.2" cy="548.9" r="2.7" fill="rgb(146,146,146)" fill-opacity="0.15" stroke="#a8a8a8" stroke-width="0.8" stroke-opacity="0.25"/>
<circle cx="629.7" cy="542.5" r="2.4" fill="rgb(145,145,145)" fill-opacity="0.23" stroke="#a8a8a8" stroke-width="0.8" stroke-opacity="0.40"/>
<circle cx="996.6" cy="616.6" r="3.0" fill="rgb(154,154,154)" fill-opacity="0.30" stroke="#a8a8a8" stroke-width="0.8" stroke-opacity="0.32"/>
<circle cx="611.5" cy="598.7" r="3.1" fill="rgb(159,159,159)" fill-opacity="0.25" stroke="#a8a8a8" stroke-width="0.8" stroke-opacity="0.39"/>
<circle cx="542.2" cy="630.7" r="2.6" fill="rgb(146,146,146)" fill-opacity="0.29" stroke="#a8a8a8" stroke-width="0.8" stroke-opacity="0.40"/>
<circle cx="626.2" cy="689.0" r="2.4" fill="rgb(141,141,141)" fill-opacity="0.16" stroke="#a8a8a8" stroke-width="0.8" stroke-opacity="0.39"/>
<circle cx="570.9" cy="667.8" r="3.1" fill="rgb(153,153,153)" fill-opacity="0.14" stroke="#a8a8a8" stroke-width="0.8" stroke-opacity="0.27"/>
<circle cx="784.9" cy="484.5" r="3.4" fill="rgb(134,134,134)" fill-opacity="0.14" stroke="#a8a8a8" stroke-width="0.8" stroke-opacity="0.31"/>
<circle cx="646.2" cy="688.2" r="3.2" fill="rgb(158,158,158)" fill-opacity="0.29" stroke="#a8a8a8" stroke-width="0.8" stroke-opacity="0.33"/>
<circle cx="989.0" cy="468.5" r="3.2" fill="rgb(135,135,135)" fill-opacity="0.26" stroke="#a8a8a8" stroke-width="0.8" stroke-opacity="0.36"/>
<circle cx="948.0" cy="570.1" r="3.9" fill="rgb(143,143,143)" fill-opacity="0.19" stroke="#a8a8a8" stroke-width="0.8" stroke-opacity="0.33"/>
<circle cx="959.5" cy="408.8" r="3.1" fill="rgb(145,145,145)" fill-opacity="0.13" stroke="#a8a8a8" stroke-width="0.8" stroke-opacity="0.18"/>
<circle cx="912.2" cy="719.8" r="3.2" fill="rgb(139,139,139)" fill-opacity="0.32" stroke="#a8a8a8" stroke-width="0.8" stroke-opacity="0.26"/>
<circle cx="583.7" cy="662.8" r="3.5" fill="rgb(152,152,152)" fill-opacity="0.20" stroke="#a8a8a8" stroke-width="0.8" stroke-opacity="0.22"/>
<circle cx="629.3" cy="596.3" r="2.8" fill="rgb(153,153,153)" fill-opacity="0.30" stroke="#a8a8a8" stroke-width="0.8" stroke-opacity="0.36"/>
<circle cx="536.4" cy="612.2" r="2.3" fill="rgb(140,140,140)" fill-opacity="0.18" stroke="#a8a8a8" stroke-width="0.8" stroke-opacity="0.29"/>
<circle cx="540.7" cy="462.5" r="3.9" fill="rgb(132,132,132)" fill-opacity="0.19" stroke="#a8a8a8" stroke-width="0.8" stroke-opacity="0.27"/>
<circle cx="572.0" cy="484.8" r="3.3" fill="rgb(141,141,141)" fill-opacity="0.23" stroke="#a8a8a8" stroke-width="0.8" stroke-opacity="0.39"/>
<circle cx="566.1" cy="620.9" r="2.2" fill="rgb(143,143,143)" fill-opacity="0.26" stroke="#a8a8a8" stroke-width="0.8" stroke-opacity="0.39"/>
<circle cx="741.3" cy="605.9" r="3.1" fill="rgb(135,135,135)" fill-opacity="0.14" stroke="#a8a8a8" stroke-width="0.8" stroke-opacity="0.29"/>
<circle cx="938.0" cy="472.0" r="3.5" fill="rgb(150,150,150)" fill-opacity="0.19" stroke="#a8a8a8" stroke-width="0.8" stroke-opacity="0.31"/>
<circle cx="550.5" cy="471.5" r="2.9" fill="rgb(151,151,151)" fill-opacity="0.13" stroke="#a8a8a8" stroke-width="0.8" stroke-opacity="0.16"/>
<circle cx="963.1" cy="570.1" r="3.8" fill="rgb(161,161,161)" fill-opacity="0.15" stroke="#a8a8a8" stroke-width="0.8" stroke-opacity="0.24"/>
<circle cx="991.6" cy="382.8" r="4.0" fill="rgb(161,161,161)" fill-opacity="0.27" stroke="#a8a8a8" stroke-width="0.8" stroke-opacity="0.25"/>
<circle cx="843.6" cy="387.5" r="2.8" fill="rgb(133,133,133)" fill-opacity="0.21" stroke="#a8a8a8" stroke-width="0.8" stroke-opacity="0.32"/>
<circle cx="529.5" cy="701.5" r="2.4" fill="rgb(139,139,139)" fill-opacity="0.20" stroke="#a8a8a8" stroke-width="0.8" stroke-opacity="0.18"/>
<circle cx="877.6" cy="624.0" r="3.3" fill="rgb(144,144,144)" fill-opacity="0.24" stroke="#a8a8a8" stroke-width="0.8" stroke-opacity="0.24"/>
<circle cx="838.3" cy="701.3" r="3.6" fill="rgb(142,142,142)" fill-opacity="0.30" stroke="#a8a8a8" stroke-width="0.8" stroke-opacity="0.23"/>
<circle cx="844.8" cy="645.4" r="2.9" fill="rgb(157,157,157)" fill-opacity="0.31" stroke="#a8a8a8" stroke-width="0.8" stroke-opacity="0.18"/>
<circle cx="541.8" cy="485.5" r="2.2" fill="rgb(161,161,161)" fill-opacity="0.17" stroke="#a8a8a8" stroke-width="0.8" stroke-opacity="0.19"/>
<circle cx="800.0" cy="723.0" r="3.8" fill="rgb(158,158,158)" fill-opacity="0.16" stroke="#a8a8a8" stroke-width="0.8" stroke-opacity="0.22"/>
<circle cx="562.2" cy="630.7" r="2.8" fill="rgb(151,151,151)" fill-opacity="0.13" stroke="#a8a8a8" stroke-width="0.8" stroke-opacity="0.34"/>
<circle cx="581.4" cy="734.6" r="2.7" fill="rgb(146,146,146)" fill-opacity="0.28" stroke="#a8a8a8" stroke-width="0.8" stroke-opacity="0.31"/>
<circle cx="558.6" cy="712.3" r="3.5" fill="rgb(154,154,154)" fill-opacity="0.22" stroke="#a8a8a8" stroke-width="0.8" stroke-opacity="0.19"/>
<circle cx="833.2" cy="491.6" r="3.7" fill="rgb(141,141,141)" fill-opacity="0.25" stroke="#a8a8a8" stroke-width="0.8" stroke-opacity="0.29"/>
<circle cx="593.5" cy="625.0" r="3.9" fill="rgb(133,133,133)" fill-opacity="0.24" stroke="#a8a8a8" stroke-width="0.8" stroke-opacity="0.31"/>
<circle cx="920.9" cy="494.2" r="3.7" fill="rgb(154,154,154)" fill-opacity="0.16" stroke="#a8a8a8" stroke-width="0.8" stroke-opacity="0.34"/>
<circle cx="734.3" cy="453.3" r="2.6" fill="rgb(142,142,142)" fill-opacity="0.27" stroke="#a8a8a8" stroke-width="0.8" stroke-opacity="0.19"/>
<circle cx="827.3" cy="673.0" r="3.1" fill="rgb(159,159,159)" fill-opacity="0.26" stroke="#a8a8a8" stroke-width="0.8" stroke-opacity="0.28"/>
<circle cx="982.0" cy="577.7" r="2.5" fill="rgb(138,138,138)" fill-opacity="0.28" stroke="#a8a8a8" stroke-width="0.8" stroke-opacity="0.36"/>
<circle cx="708.3" cy="509.3" r="2.6" fill="rgb(157,157,157)" fill-opacity="0.32" stroke="#a8a8a8" stroke-width="0.8" stroke-opacity="0.38"/>
<circle cx="731.7" cy="700.4" r="2.6" fill="rgb(134,134,134)" fill-opacity="0.23" stroke="#a8a8a8" stroke-width="0.8" stroke-opacity="0.24"/>
<circle cx="749.7" cy="406.0" r="2.5" fill="rgb(146,146,146)" fill-opacity="0.22" stroke="#a8a8a8" stroke-width="0.8" stroke-opacity="0.33"/>
<circle cx="872.9" cy="518.1" r="3.0" fill="rgb(140,140,140)" fill-opacity="0.15" stroke="#a8a8a8" stroke-width="0.8" stroke-opacity="0.25"/>
<circle cx="797.9" cy="738.2" r="3.5" fill="rgb(156,156,156)" fill-opacity="0.29" stroke="#a8a8a8" stroke-width="0.8" stroke-opacity="0.38"/>
<circle cx="959.0" cy="443.5" r="2.8" fill="rgb(139,139,139)" fill-opacity="0.28" stroke="#a8a8a8" stroke-width="0.8" stroke-opacity="0.27"/>
<circle cx="971.9" cy="585.7" r="2.3" fill="rgb(139,139,139)" fill-opacity="0.20" stroke="#a8a8a8" stroke-width="0.8" stroke-opacity="0.18"/>
<circle cx="788.4" cy="397.0" r="2.6" fill="rgb(132,132,132)" fill-opacity="0.14" stroke="#a8a8a8" stroke-width="0.8" stroke-opacity="0.33"/>
<circle cx="760.5" cy="724.2" r="2.4" fill="rgb(137,137,137)" fill-opacity="0.13" stroke="#a8a8a8" stroke-width="0.8" stroke-opacity="0.20"/>
<circle cx="661.0" cy="534.2" r="2.6" fill="rgb(137,137,137)" fill-opacity="0.20" stroke="#a8a8a8" stroke-width="0.8" stroke-opacity="0.16"/>
<circle cx="913.7" cy="584.7" r="3.1" fill="rgb(145,145,145)" fill-opacity="0.23" stroke="#a8a8a8" stroke-width="0.8" stroke-opacity="0.40"/>
<circle cx="703.0" cy="583.9" r="2.6" fill="rgb(143,143,143)" fill-opacity="0.14" stroke="#a8a8a8" stroke-width="0.8" stroke-opacity="0.37"/>
<circle cx="845.2" cy="655.9" r="3.6" fill="rgb(136,136,136)" fill-opacity="0.25" stroke="#a8a8a8" stroke-width="0.8" stroke-opacity="0.19"/>
<circle cx="815.5" cy="428.1" r="2.5" fill="rgb(135,135,135)" fill-opacity="0.23" stroke="#a8a8a8" stroke-width="0.8" stroke-opacity="0.18"/>
<circle cx="694.1" cy="532.6" r="4.0" fill="rgb(155,155,155)" fill-opacity="0.24" stroke="#a8a8a8" stroke-width="0.8" stroke-opacity="0.33"/>
<circle cx="525.3" cy="512.2" r="2.7" fill="rgb(151,151,151)" fill-opacity="0.15" stroke="#a8a8a8" stroke-width="0.8" stroke-opacity="0.39"/>
<circle cx="674.9" cy="693.5" r="3.7" fill="rgb(145,145,145)" fill-opacity="0.12" stroke="#a8a8a8" stroke-width="0.8" stroke-opacity="0.18"/>
<circle cx="704.7" cy="645.0" r="3.1" fill="rgb(160,160,160)" fill-opacity="0.30" stroke="#a8a8a8" stroke-width="0.8" stroke-opacity="0.23"/>
<circle cx="992.8" cy="569.6" r="2.3" fill="rgb(133,133,133)" fill-opacity="0.19" stroke="#a8a8a8" stroke-width="0.8" stroke-opacity="0.25"/>
<circle cx="606.3" cy="703.2" r="2.8" fill="rgb(155,155,155)" fill-opacity="0.16" stroke="#a8a8a8" stroke-width="0.8" stroke-opacity="0.26"/>
<circle cx="703.0" cy="655.2" r="2.9" fill="rgb(138,138,138)" fill-opacity="0.29" stroke="#a8a8a8" stroke-width="0.8" stroke-opacity="0.31"/>
<circle cx="601.3" cy="465.4" r="2.4" fill="rgb(156,156,156)" fill-opacity="0.20" stroke="#a8a8a8" stroke-width="0.8" stroke-opacity="0.36"/>
<circle cx="799.0" cy="665.0" r="3.6" fill="rgb(145,145,145)" fill-opacity="0.17" stroke="#a8a8a8" stroke-width="0.8" stroke-opacity="0.25"/>
<circle cx="774.0" cy="737.9" r="2.7" fill="rgb(154,154,154)" fill-opacity="0.17" stroke="#a8a8a8" stroke-width="0.8" stroke-opacity="0.31"/>
<circle cx="871.4" cy="380.3" r="3.5" fill="rgb(158,158,158)" fill-opacity="0.30" stroke="#a8a8a8" stroke-width="0.8" stroke-opacity="0.37"/>
<circle cx="702.5" cy="432.7" r="2.8" fill="rgb(158,158,158)" fill-opacity="0.26" stroke="#a8a8a8" stroke-width="0.8" stroke-opacity="0.28"/>
<circle cx="522.9" cy="405.8" r="3.2" fill="rgb(158,158,158)" fill-opacity="0.24" stroke="#a8a8a8" stroke-width="0.8" stroke-opacity="0.24"/>
<circle cx="522.9" cy="455.6" r="3.3" fill="rgb(140,140,140)" fill-opacity="0.23" stroke="#a8a8a8" stroke-width="0.8" stroke-opacity="0.16"/>
<circle cx="778.0" cy="545.3" r="2.2" fill="rgb(156,156,156)" fill-opacity="0.28" stroke="#a8a8a8" stroke-width="0.8" stroke-opacity="0.18"/>
<circle cx="819.2" cy="688.3" r="3.1" fill="rgb(154,154,154)" fill-opacity="0.14" stroke="#a8a8a8" stroke-width="0.8" stroke-opacity="0.16"/>
<circle cx="632.6" cy="655.3" r="2.7" fill="rgb(157,157,157)" fill-opacity="0.13" stroke="#a8a8a8" stroke-width="0.8" stroke-opacity="0.27"/>
<circle cx="728.6" cy="671.3" r="3.4" fill="rgb(154,154,154)" fill-opacity="0.24" stroke="#a8a8a8" stroke-width="0.8" stroke-opacity="0.19"/>
<circle cx="883.6" cy="638.4" r="3.5" fill="rgb(145,145,145)" fill-opacity="0.20" stroke="#a8a8a8" stroke-width="0.8" stroke-opacity="0.19"/>
<circle cx="909.7" cy="536.2" r="3.9" fill="rgb(140,140,140)" fill-opacity="0.22" stroke="#a8a8a8" stroke-width="0.8" stroke-opacity="0.24"/>
<circle cx="810.4" cy="727.2" r="2.6" fill="rgb(143,143,143)" fill-opacity="0.18" stroke="#a8a8a8" stroke-width="0.8" stroke-opacity="0.17"/>
<circle cx="537.3" cy="736.4" r="2.8" fill="rgb(153,153,153)" fill-opacity="0.28" stroke="#a8a8a8" stroke-width="0.8" stroke-opacity="0.31"/>
<circle cx="646.7" cy="620.8" r="3.9" fill="rgb(145,145,145)" fill-opacity="0.30" stroke="#a8a8a8" stroke-width="0.8" stroke-opacity="0.37"/>
<circle cx="888.8" cy="629.9" r="3.9" fill="rgb(147,147,147)" fill-opacity="0.30" stroke="#a8a8a8" stroke-width="0.8" stroke-opacity="0.17"/>
<circle cx="858.9" cy="422.7" r="2.9" fill="rgb(149,149,149)" fill-opacity="0.26" stroke="#a8a8a8" stroke-width="0.8" stroke-opacity="0.32"/>
<circle cx="605.7" cy="411.9" r="2.5" fill="rgb(150,150,150)" fill-opacity="0.16" stroke="#a8a8a8" stroke-width="0.8" stroke-opacity="0.38"/>
<circle cx="845.0" cy="488.3" r="3.3" fill="rgb(134,134,134)" fill-opacity="0.24" stroke="#a8a8a8" stroke-width="0.8" stroke-opacity="0.19"/>
<circle cx="822.3" cy="480.2" r="3.2" fill="rgb(153,153,153)" fill-opacity="0.16" stroke="#a8a8a8" stroke-width="0.8" stroke-opacity="0.16"/>
<circle cx="587.9" cy="680.7" r="3.9" fill="rgb(149,149,149)" fill-opacity="0.14" stroke="#a8a8a8" stroke-width="0.8" stroke-opacity="0.30"/>
<circle cx="681.7" cy="442.1" r="3.5" fill="rgb(157,157,157)" fill-opacity="0.23" stroke="#a8a8a8" stroke-width="0.8" stroke-opacity="0.29"/>
<circle cx="972.4" cy="381.0" r="3.7" fill="rgb(159,159,159)" fill-opacity="0.29" stroke="#a8a8a8" stroke-width="0.8" stroke-opacity="0.29"/>
<circle cx="945.9" cy="558.3" r="2.9" fill="rgb(146,146,146)" fill-opacity="0.13" stroke="#a8a8a8" stroke-width="0.8" stroke-opacity="0.16"/>
<circle cx="767.9" cy="591.7" r="2.3" fill="rgb(154,154,154)" fill-opacity="0.15" stroke="#a8a8a8" stroke-width="0.8" stroke-opacity="0.20"/>
<circle cx="747.6" cy="658.0" r="3.1" fill="rgb(159,159,159)" fill-opacity="0.27" stroke="#a8a8a8" stroke-width="0.8" stroke-opacity="0.29"/>
<circle cx="935.5" cy="504.5" r="3.2" fill="rgb(151,151,151)" fill-opacity="0.14" stroke="#a8a8a8" stroke-width="0.8" stroke-opacity="0.22"/>
<circle cx="989.3" cy="489.7" r="3.8" fill="rgb(133,133,133)" fill-opacity="0.17" stroke="#a8a8a8" stroke-width="0.8" stroke-opacity="0.21"/>
<circle cx="521.0" cy="640.1" r="2.6" fill="rgb(149,149,149)" fill-opacity="0.14" stroke="#a8a8a8" stroke-width="0.8" stroke-opacity="0.29"/>
<circle cx="756.6" cy="549.2" r="3.6" fill="rgb(142,142,142)" fill-opacity="0.26" stroke="#a8a8a8" stroke-width="0.8" stroke-opacity="0.35"/>
<circle cx="636.5" cy="486.7" r="3.3" fill="rgb(137,137,137)" fill-opacity="0.12" stroke="#a8a8a8" stroke-width="0.8" stroke-opacity="0.30"/>
<circle cx="856.4" cy="418.4" r="3.2" fill="rgb(146,146,146)" fill-opacity="0.22" stroke="#a8a8a8" stroke-width="0.8" stroke-opacity="0.38"/>
<circle cx="540.7" cy="446.2" r="2.3" fill="rgb(150,150,150)" fill-opacity="0.29" stroke="#a8a8a8" stroke-width="0.8" stroke-opacity="0.28"/>
<circle cx="535.2" cy="560.7" r="2.4" fill="rgb(134,134,134)" fill-opacity="0.18" stroke="#a8a8a8" stroke-width="0.8" stroke-opacity="0.36"/>
<circle cx="852.6" cy="733.5" r="3.1" fill="rgb(137,137,137)" fill-opacity="0.19" stroke="#a8a8a8" stroke-width="0.8" stroke-opacity="0.17"/>
<circle cx="711.3" cy="596.4" r="3.4" fill="rgb(161,161,161)" fill-opacity="0.20" stroke="#a8a8a8" stroke-width="0.8" stroke-opacity="0.17"/>
<circle cx="932.7" cy="442.7" r="2.8" fill="rgb(136,136,136)" fill-opacity="0.26" stroke="#a8a8a8" stroke-width="0.8" stroke-opacity="0.37"/>
<circle cx="620.8" cy="588.0" r="2.2" fill="rgb(152,152,152)" fill-opacity="0.15" stroke="#a8a8a8" stroke-width="0.8" stroke-opacity="0.23"/>
<circle cx="784.3" cy="545.5" r="3.6" fill="rgb(133,133,133)" fill-opacity="0.16" stroke="#a8a8a8" stroke-width="0.8" stroke-opacity="0.20"/>
<circle cx="705.3" cy="685.0" r="3.9" fill="rgb(160,160,160)" fill-opacity="0.16" stroke="#a8a8a8" stroke-width="0.8" stroke-opacity="0.20"/>
<circle cx="657.3" cy="591.8" r="3.7" fill="rgb(147,147,147)" fill-opacity="0.13" stroke="#a8a8a8" stroke-width="0.8" stroke-opacity="0.32"/>
<circle cx="816.1" cy="515.6" r="3.2" fill="rgb(139,139,139)" fill-opacity="0.18" stroke="#a8a8a8" stroke-width="0.8" stroke-opacity="0.30"/>
<circle cx="697.3" cy="502.9" r="2.5" fill="rgb(158,158,158)" fill-opacity="0.22" stroke="#a8a8a8" stroke-width="0.8" stroke-opacity="0.37"/>
<circle cx="803.2" cy="406.5" r="2.3" fill="rgb(137,137,137)" fill-opacity="0.19" stroke="#a8a8a8" stroke-width="0.8" stroke-opacity="0.19"/>
<circle cx="687.3" cy="709.1" r="2.2" fill="rgb(134,134,134)" fill-opacity="0.26" stroke="#a8a8a8" stroke-width="0.8" stroke-opacity="0.33"/>
<circle cx="642.9" cy="406.9" r="2.8" fill="rgb(152,152,152)" fill-opacity="0.18" stroke="#a8a8a8" stroke-width="0.8" stroke-opacity="0.28"/>
<circle cx="728.5" cy="700.8" r="3.3" fill="rgb(142,142,142)" fill-opacity="0.20" stroke="#a8a8a8" stroke-width="0.8" stroke-opacity="0.18"/>
<circle cx="900.3" cy="448.4" r="2.4" fill="rgb(141,141,141)" fill-opacity="0.25" stroke="#a8a8a8" stroke-width="0.8" stroke-opacity="0.28"/>
<circle cx="524.5" cy="588.9" r="3.5" fill="rgb(153,153,153)" fill-opacity="0.16" stroke="#a8a8a8" stroke-width="0.8" stroke-opacity="0.17"/>
<circle cx="698.4" cy="455.9" r="3.9" fill="rgb(152,152,152)" fill-opacity="0.18" stroke="#a8a8a8" stroke-width="0.8" stroke-opacity="0.36"/>
<circle cx="807.0" cy="394.8" r="2.6" fill="rgb(139,139,139)" fill-opacity="0.30" stroke="#a8a8a8" stroke-width="0.8" stroke-opacity="0.31"/>
<circle cx="610.1" cy="684.1" r="2.9" fill="rgb(161,161,161)" fill-opacity="0.23" stroke="#a8a8a8" stroke-width="0.8" stroke-opacity="0.15"/>
<circle cx="712.9" cy="620.9" r="3.0" fill="rgb(151,151,151)" fill-opacity="0.14" stroke="#a8a8a8" stroke-width="0.8" stroke-opacity="0.15"/>
<circle cx="564.7" cy="609.1" r="2.6" fill="rgb(156,156,156)" fill-opacity="0.28" stroke="#a8a8a8" stroke-width="0.8" stroke-opacity="0.18"/>
<circle cx="547.8" cy="619.8" r="3.5" fill="rgb(158,158,158)" fill-opacity="0.19" stroke="#a8a8a8" stroke-width="0.8" stroke-opacity="0.16"/>
<circle cx="881.1" cy="594.6" r="3.9" fill="rgb(141,141,141)" fill-opacity="0.12" stroke="#a8a8a8" stroke-width="0.8" stroke-opacity="0.16"/>
<circle cx="942.9" cy="507.0" r="2.3" fill="rgb(132,132,132)" fill-opacity="0.25" stroke="#a8a8a8" stroke-width="0.8" stroke-opacity="0.24"/>
<circle cx="874.7" cy="598.2" r="2.6" fill="rgb(150,150,150)" fill-opacity="0.20" stroke="#a8a8a8" stroke-width="0.8" stroke-opacity="0.32"/>
<circle cx="637.6" cy="488.8" r="2.5" fill="rgb(136,136,136)" fill-opacity="0.20" stroke="#a8a8a8" stroke-width="0.8" stroke-opacity="0.30"/>
<circle cx="800.1" cy="448.3" r="2.9" fill="rgb(145,145,145)" fill-opacity="0.16" stroke="#a8a8a8" stroke-width="0.8" stroke-opacity="0.31"/>
<circle cx="682.9" cy="415.3" r="3.4" fill="rgb(137,137,137)" fill-opacity="0.19" stroke="#a8a8a8" stroke-width="0.8" stroke-opacity="0.34"/>
<circle cx="580.9" cy="577.6" r="3.3" fill="rgb(140,140,140)" fill-opacity="0.14" stroke="#a8a8a8" stroke-width="0.8" stroke-opacity="0.25"/>
<circle cx="631.2" cy="517.9" r="2.5" fill="rgb(143,143,143)" fill-opacity="0.30" stroke="#a8a8a8" stroke-width="0.8" stroke-opacity="0.15"/>
<circle cx="793.7" cy="529.7" r="3.7" fill="rgb(155,155,155)" fill-opacity="0.21" stroke="#a8a8a8" stroke-width="0.8" stroke-opacity="0.21"/>
<circle cx="970.8" cy="674.5" r="3.8" fill="rgb(134,134,134)" fill-opacity="0.20" stroke="#a8a8a8" stroke-width="0.8" stroke-opacity="0.27"/>
<circle cx="660.9" cy="460.1" r="2.8" fill="rgb(137,137,137)" fill-opacity="0.31" stroke="#a8a8a8" stroke-width="0.8" stroke-opacity="0.38"/>
<circle cx="817.0" cy="585.6" r="4.0" fill="rgb(146,146,146)" fill-opacity="0.27" stroke="#a8a8a8" stroke-width="0.8" stroke-opacity="0.16"/>
<circle cx="722.9" cy="448.8" r="2.4" fill="rgb(157,157,157)" fill-opacity="0.27" stroke="#a8a8a8" stroke-width="0.8" stroke-opacity="0.24"/>
<circle cx="578.3" cy="666.5" r="2.8" fill="rgb(155,155,155)" fill-opacity="0.24" stroke="#a8a8a8" stroke-width="0.8" stroke-opacity="0.33"/>
<circle cx="805.7" cy="725.0" r="2.6" fill="rgb(158,158,158)" fill-opacity="0.24" stroke="#a8a8a8" stroke-width="0.8" stroke-opacity="0.32"/>
<circle cx="990.4" cy="392.2" r="2.7" fill="rgb(153,153,153)" fill-opacity="0.28" stroke="#a8a8a8" stroke-width="0.8" stroke-opacity="0.21"/>
<circle cx="745.3" cy="688.4" r="4.0" fill="rgb(161,161,161)" fill-opacity="0.16" stroke="#a8a8a8" stroke-width="0.8" stroke-opacity="0.24"/>
<circle cx="725.7" cy="554.1" r="3.7" fill="rgb(146,146,146)" fill-opacity="0.18" stroke="#a8a8a8" stroke-width="0.8" stroke-opacity="0.31"/>
<circle cx="896.9" cy="597.6" r="3.9" fill="rgb(161,161,161)" fill-opacity="0.27" stroke="#a8a8a8" stroke-width="0.8" stroke-opacity="0.37"/>
<circle cx="561.6" cy="588.6" r="2.2" fill="rgb(140,140,140)" fill-opacity="0.25" stroke="#a8a8a8" stroke-width="0.8" stroke-opacity="0.32"/>
<circle cx="916.1" cy="681.1" r="2.7" fill="rgb(145,145,145)" fill-opacity="0.27" stroke="#a8a8a8" stroke-width="0.8" stroke-opacity="0.20"/>
<circle cx="940.7" cy="391.3" r="2.9" fill="rgb(133,133,133)" fill-opacity="0.18" stroke="#a8a8a8" stroke-width="0.8" stroke-opacity="0.36"/>
<circle cx="990.2" cy="533.0" r="2.6" fill="rgb(141,141,141)" fill-opacity="0.29" stroke="#a8a8a8" stroke-width="0.8" stroke-opacity="0.20"/>
<circle cx="887.4" cy="491.1" r="2.6" fill="rgb(158,158,158)" fill-opacity="0.16" stroke="#a8a8a8" stroke-width="0.8" stroke-opacity="0.39"/>
<circle cx="731.8" cy="737.7" r="3.5" fill="rgb(157,157,157)" fill-opacity="0.23" stroke="#a8a8a8" stroke-width="0.8" stroke-opacity="0.39"/>
<circle cx="861.7" cy="537.0" r="2.3" fill="rgb(137,137,137)" fill-opacity="0.29" stroke="#a8a8a8" stroke-width="0.8" stroke-opacity="0.39"/>
<circle cx="534.9" cy="527.4" r="3.0" fill="rgb(136,136,136)" fill-opacity="0.13" stroke="#a8a8a8" stroke-width="0.8" stroke-opacity="0.37"/>
<circle cx="917.0" cy="697.6" r="2.7" fill="rgb(158,158,158)" fill-opacity="0.31" stroke="#a8a8a8" stroke-width="0.8" stroke-opacity="0.35"/>
<circle cx="685.5" cy="514.6" r="3.1" fill="rgb(159,159,159)" fill-opacity="0.22" stroke="#a8a8a8" stroke-width="0.8" stroke-opacity="0.26"/>
<circle cx="549.4" cy="496.8" r="2.6" fill="rgb(146,146,146)" fill-opacity="0.22" stroke="#a8a8a8" stroke-width="0.8" stroke-opacity="0.20"/>
<circle cx="560.9" cy="607.5" r="2.6" fill="rgb(151,151,151)" fill-opacity="0.23" stroke="#a8a8a8" stroke-width="0.8" stroke-opacity="0.37"/>
<circle cx="645.7" cy="728.9" r="3.7" fill="rgb(146,146,146)" fill-opacity="0.19" stroke="#a8a8a8" stroke-width="0.8" stroke-opacity="0.20"/>
<circle cx="791.7" cy="446.2" r="2.8" fill="rgb(133,133,133)" fill-opacity="0.25" stroke="#a8a8a8" stroke-width="0.8" stroke-opacity="0.30"/>
<circle cx="844.9" cy="682.9" r="3.2" fill="rgb(143,143,143)" fill-opacity="0.17" stroke="#a8a8a8" stroke-width="0.8" stroke-opacity="0.28"/>
<circle cx="729.0" cy="537.5" r="2.7" fill="rgb(137,137,137)" fill-opacity="0.28" stroke="#a8a8a8" stroke-width="0.8" stroke-opacity="0.39"/>
<circle cx="839.5" cy="596.9" r="2.5" fill="rgb(145,145,145)" fill-opacity="0.31" stroke="#a8a8a8" stroke-width="0.8" stroke-opacity="0.39"/>
<circle cx="555.3" cy="682.2" r="2.6" fill="rgb(160,160,160)" fill-opacity="0.17" stroke="#a8a8a8" stroke-width="0.8" stroke-opacity="0.34"/>
<circle cx="977.6" cy="396.8" r="2.2" fill="rgb(148,148,148)" fill-opacity="0.21" stroke="#a8a8a8" stroke-width="0.8" stroke-opacity="0.39"/>
<circle cx="659.9" cy="387.3" r="3.8" fill="rgb(150,150,150)" fill-opacity="0.22" stroke="#a8a8a8" stroke-width="0.8" stroke-opacity="0.31"/>
<circle cx="952.2" cy="474.1" r="2.7" fill="rgb(161,161,161)" fill-opacity="0.22" stroke="#a8a8a8" stroke-width="0.8" stroke-opacity="0.16"/>
<circle cx="883.6" cy="582.6" r="2.3" fill="rgb(143,143,143)" fill-opacity="0.24" stroke="#a8a8a8" stroke-width="0.8" stroke-opacity="0.37"/>
<circle cx="835.9" cy="608.8" r="3.5" fill="rgb(144,144,144)" fill-opacity="0.28" stroke="#a8a8a8" stroke-width="0.8" stroke-opacity="0.33"/>
<circle cx="565.5" cy="640.2" r="3.8" fill="rgb(160,160,160)" fill-opacity="0.21" stroke="#a8a8a8" stroke-width="0.8" stroke-opacity="0.18"/>
<circle cx="791.6" cy="415.5" r="3.2" fill="rgb(154,154,154)" fill-opacity="0.24" stroke="#a8a8a8" stroke-width="0.8" stroke-opacity="0.32"/>
<circle cx="878.1" cy="551.9" r="2.7" fill="rgb(155,155,155)" fill-opacity="0.22" stroke="#a8a8a8" stroke-width="0.8" stroke-opacity="0.32"/>
<circle cx="705.6" cy="704.7" r="2.9" fill="rgb(150,150,150)" fill-opacity="0.25" stroke="#a8a8a8" stroke-width="0.8" stroke-opacity="0.28"/>
<circle cx="899.8" cy="476.4" r="2.3" fill="rgb(136,136,136)" fill-opacity="0.21" stroke="#a8a8a8" stroke-width="0.8" stroke-opacity="0.33"/>
<circle cx="593.4" cy="530.8" r="3.3" fill="rgb(138,138,138)" fill-opacity="0.25" stroke="#a8a8a8" stroke-width="0.8" stroke-opacity="0.31"/>
<circle cx="629.8" cy="700.3" r="3.9" fill="rgb(159,159,159)" fill-opacity="0.17" stroke="#a8a8a8" stroke-width="0.8" stroke-opacity="0.23"/>
<circle cx="779.9" cy="672.4" r="2.2" fill="rgb(139,139,139)" fill-opacity="0.25" stroke="#a8a8a8" stroke-width="0.8" stroke-opacity="0.21"/>
<circle cx="625.3" cy="737.8" r="3.3" fill="rgb(152,152,152)" fill-opacity="0.14" stroke="#a8a8a8" stroke-width="0.8" stroke-opacity="0.22"/>
<circle cx="578.3" cy="469.1" r="2.4" fill="rgb(135,135,135)" fill-opacity="0.27" stroke="#a8a8a8" stroke-width="0.8" stroke-opacity="0.22"/>
<circle cx="947.9" cy="383.7" r="2.8" fill="rgb(141,141,141)" fill-opacity="0.20" stroke="#a8a8a8" stroke-width="0.8" stroke-opacity="0.29"/>
<circle cx="761.0" cy="504.7" r="2.8" fill="rgb(153,153,153)" fill-opacity="0.18" stroke="#a8a8a8" stroke-width="0.8" stroke-opacity="0.32"/>
<circle cx="760.3" cy="465.7" r="3.6" fill="rgb(148,148,148)" fill-opacity="0.25" stroke="#a8a8a8" stroke-width="0.8" stroke-opacity="0.17"/>
<circle cx="739.5" cy="564.2" r="2.9" fill="rgb(143,143,143)" fill-opacity="0.15" stroke="#a8a8a8" stroke-width="0.8" stroke-opacity="0.27"/>
<circle cx="891.4" cy="589.4" r="2.8" fill="rgb(137,137,137)" fill-opacity="0.19" stroke="#a8a8a8" stroke-width="0.8" stroke-opacity="0.23"/>
<circle cx="610.9" cy="527.3" r="2.8" fill="rgb(147,147,147)" fill-opacity="0.29" stroke="#a8a8a8" stroke-width="0.8" stroke-opacity="0.24"/>
<circle cx="842.2" cy="441.2" r="2.6" fill="rgb(157,157,157)" fill-opacity="0.27" stroke="#a8a8a8" stroke-width="0.8" stroke-opacity="0.33"/>
<circle cx="912.2" cy="700.6" r="3.9" fill="rgb(153,153,153)" fill-opacity="0.31" stroke="#a8a8a8" stroke-width="0.8" stroke-opacity="0.22"/>
<circle cx="748.2" cy="448.1" r="2.4" fill="rgb(143,143,143)" fill-opacity="0.19" stroke="#a8a8a8" stroke-width="0.8" stroke-opacity="0.31"/>
<circle cx="714.5" cy="435.9" r="3.1" fill="rgb(141,141,141)" fill-opacity="0.27" stroke="#a8a8a8" stroke-width="0.8" stroke-opacity="0.32"/>
<circle cx="976.8" cy="726.6" r="3.2" fill="rgb(139,139,139)" fill-opacity="0.23" stroke="#a8a8a8" stroke-width="0.8" stroke-opacity="0.22"/>
<circle cx="768.7" cy="652.8" r="3.5" fill="rgb(145,145,145)" fill-opacity="0.18" stroke="#a8a8a8" stroke-width="0.8" stroke-opacity="0.16"/>
<circle cx="930.5" cy="678.8" r="3.3" fill="rgb(156,156,156)" fill-opacity="0.16" stroke="#a8a8a8" stroke-width="0.8" stroke-opacity="0.31"/>
<circle cx="659.6" cy="674.9" r="2.9" fill="rgb(146,146,146)" fill-opacity="0.19" stroke="#a8a8a8" stroke-width="0.8" stroke-opacity="0.26"/>
<circle cx="936.6" cy="729.3" r="2.7" fill="rgb(156,156,156)" fill-opacity="0.31" stroke="#a8a8a8" stroke-width="0.8" stroke-opacity="0.28"/>
<circle cx="806.2" cy="675.4" r="3.4" fill="rgb(148,148,148)" fill-opacity="0.30" stroke="#a8a8a8" stroke-width="0.8" stroke-opacity="0.29"/>
<circle cx="896.1" cy="708.8" r="2.8" fill="rgb(157,157,157)" fill-opacity="0.16" stroke="#a8a8a8" stroke-width="0.8" stroke-opacity="0.29"/>
<circle cx="833.1" cy="688.0" r="2.8" fill="rgb(161,161,161)" fill-opacity="0.27" stroke="#a8a8a8" stroke-width="0.8" stroke-opacity="0.38"/>
<circle cx="642.1" cy="576.4" r="3.0" fill="rgb(160,160,160)" fill-opacity="0.28" stroke="#a8a8a8" stroke-width="0.8" stroke-opacity="0.19"/>
<circle cx="955.4" cy="510.0" r="3.1" fill="rgb(133,133,133)" fill-opacity="0.22" stroke="#a8a8a8" stroke-width="0.8" stroke-opacity="0.38"/>
<circle cx="741.5" cy="391.7" r="3.7" fill="rgb(146,146,146)" fill-opacity="0.14" stroke="#a8a8a8" stroke-width="0.8" stroke-opacity="0.32"/>
<circle cx="608.4" cy="599.0" r="3.0" fill="rgb(139,139,139)" fill-opacity="0.21" stroke="#a8a8a8" stroke-width="0.8" stroke-opacity="0.22"/>
<circle cx="744.8" cy="589.9" r="3.1" fill="rgb(133,133,133)" fill-opacity="0.23" stroke="#a8a8a8" stroke-width="0.8" stroke-opacity="0.39"/>
<circle cx="927.8" cy="531.7" r="3.6" fill="rgb(137,137,137)" fill-opacity="0.26" stroke="#a8a8a8" stroke-width="0.8" stroke-opacity="0.19"/>
<circle cx="558.3" cy="617.9" r="2.8" fill="rgb(147,147,147)" fill-opacity="0.13" stroke="#a8a8a8" stroke-width="0.8" stroke-opacity="0.21"/>
<circle cx="556.3" cy="713.1" r="2.4" fill="rgb(159,159,159)" fill-opacity="0.13" stroke="#a8a8a8" stroke-width="0.8" stroke-opacity="0.20"/>
<circle cx="859.5" cy="607.0" r="2.3" fill="rgb(141,141,141)" fill-opacity="0.15" stroke="#a8a8a8" stroke-width="0.8" stroke-opacity="0.23"/>
<circle cx="691.0" cy="573.2" r="3.6" fill="rgb(132,132,132)" fill-opacity="0.26" stroke="#a8a8a8" stroke-width="0.8" stroke-opacity="0.38"/>
<circle cx="680.2" cy="617.6" r="3.0" fill="rgb(140,140,140)" fill-opacity="0.23" stroke="#a8a8a8" stroke-width="0.8" stroke-opacity="0.16"/>
<circle cx="844.6" cy="573.3" r="2.7" fill="rgb(132,132,132)" fill-opacity="0.31" stroke="#a8a8a8" stroke-width="0.8" stroke-opacity="0.31"/>
<circle cx="541.6" cy="663.3" r="2.4" fill="rgb(145,145,145)" fill-opacity="0.14" stroke="#a8a8a8" stroke-width="0.8" stroke-opacity="0.38"/>
<circle cx="826.5" cy="626.3" r="2.8" fill="rgb(141,141,141)" fill-opacity="0.13" stroke="#a8a8a8" stroke-width="0.8" stroke-opacity="0.37"/>
<circle cx="583.0" cy="598.8" r="2.6" fill="rgb(134,134,134)" fill-opacity="0.13" stroke="#a8a8a8" stroke-width="0.8" stroke-opacity="0.23"/>
<circle cx="575.7" cy="681.8" r="3.3" fill="rgb(137,137,137)" fill-opacity="0.13" stroke="#a8a8a8" stroke-width="0.8" stroke-opacity="0.27"/>
<circle cx="923.1" cy="469.0" r="3.2" fill="rgb(139,139,139)" fill-opacity="0.31" stroke="#a8a8a8" stroke-width="0.8" stroke-opacity="0.21"/>
<circle cx="619.2" cy="600.5" r="2.7" fill="rgb(157,157,157)" fill-opacity="0.27" stroke="#a8a8a8" stroke-width="0.8" stroke-opacity="0.32"/>
<circle cx="976.1" cy="534.3" r="2.3" fill="rgb(141,141,141)" fill-opacity="0.17" stroke="#a8a8a8" stroke-width="0.8" stroke-opacity="0.19"/>
<circle cx="710.7" cy="401.9" r="2.2" fill="rgb(147,147,147)" fill-opacity="0.15" stroke="#a8a8a8" stroke-width="0.8" stroke-opacity="0.36"/>
<circle cx="573.3" cy="413.9" r="3.3" fill="rgb(156,156,156)" fill-opacity="0.28" stroke="#a8a8a8" stroke-width="0.8" stroke-opacity="0.37"/>
<circle cx="741.2" cy="469.3" r="2.2" fill="rgb(160,160,160)" fill-opacity="0.24" stroke="#a8a8a8" stroke-width="0.8" stroke-opacity="0.39"/>
<circle cx="921.1" cy="617.5" r="3.6" fill="rgb(137,137,137)" fill-opacity="0.30" stroke="#a8a8a8" stroke-width="0.8" stroke-opacity="0.36"/>
<circle cx="747.8" cy="537.2" r="3.1" fill="rgb(149,149,149)" fill-opacity="0.15" stroke="#a8a8a8" stroke-width="0.8" stroke-opacity="0.39"/>
<circle cx="688.3" cy="393.2" r="3.3" fill="rgb(136,136,136)" fill-opacity="0.32" stroke="#a8a8a8" stroke-width="0.8" stroke-opacity="0.38"/>
<circle cx="880.8" cy="404.0" r="3.7" fill="rgb(137,137,137)" fill-opacity="0.25" stroke="#a8a8a8" stroke-width="0.8" stroke-opacity="0.19"/>
<circle cx="862.5" cy="633.5" r="2.8" fill="rgb(139,139,139)" fill-opacity="0.29" stroke="#a8a8a8" stroke-width="0.8" stroke-opacity="0.39"/>
<circle cx="600.7" cy="737.4" r="3.2" fill="rgb(141,141,141)" fill-opacity="0.22" stroke="#a8a8a8" stroke-width="0.8" stroke-opacity="0.17"/>
<circle cx="764.1" cy="595.8" r="3.1" fill="rgb(132,132,132)" fill-opacity="0.27" stroke="#a8a8a8" stroke-width="0.8" stroke-opacity="0.27"/>
<circle cx="600.8" cy="679.6" r="3.3" fill="rgb(132,132,132)" fill-opacity="0.21" stroke="#a8a8a8" stroke-width="0.8" stroke-opacity="0.34"/>
<circle cx="830.3" cy="516.9" r="3.6" fill="rgb(146,146,146)" fill-opacity="0.15" stroke="#a8a8a8" stroke-width="0.8" stroke-opacity="0.18"/>
<circle cx="948.9" cy="473.7" r="3.3" fill="rgb(139,139,139)" fill-opacity="0.18" stroke="#a8a8a8" stroke-width="0.8" stroke-opacity="0.23"/>
<circle cx="526.9" cy="383.7" r="2.4" fill="rgb(153,153,153)" fill-opacity="0.18" stroke="#a8a8a8" stroke-width="0.8" stroke-opacity="0.26"/>
<circle cx="816.0" cy="563.3" r="3.8" fill="rgb(155,155,155)" fill-opacity="0.30" stroke="#a8a8a8" stroke-width="0.8" stroke-opacity="0.23"/>
<circle cx="991.4" cy="721.7" r="3.4" fill="rgb(156,156,156)" fill-opacity="0.16" stroke="#a8a8a8" stroke-width="0.8" stroke-opacity="0.39"/>
<circle cx="612.1" cy="665.3" r="2.3" fill="rgb(155,155,155)" fill-opacity="0.23" stroke="#a8a8a8" stroke-width="0.8" stroke-opacity="0.25"/>
<circle cx="648.8" cy="550.0" r="2.7" fill="rgb(142,142,142)" fill-opacity="0.32" stroke="#a8a8a8" stroke-width="0.8" stroke-opacity="0.24"/>
<circle cx="936.4" cy="540.7" r="3.8" fill="rgb(153,153,153)" fill-opacity="0.29" stroke="#a8a8a8" stroke-width="0.8" stroke-opacity="0.33"/>
<circle cx="816.0" cy="698.9" r="3.4" fill="rgb(156,156,156)" fill-opacity="0.25" stroke="#a8a8a8" stroke-width="0.8" stroke-opacity="0.26"/>
<circle cx="656.4" cy="496.0" r="3.7" fill="rgb(139,139,139)" fill-opacity="0.18" stroke="#a8a8a8" stroke-width="0.8" stroke-opacity="0.39"/>
<circle cx="842.8" cy="500.7" r="3.4" fill="rgb(145,145,145)" fill-opacity="0.13" stroke="#a8a8a8" stroke-width="0.8" stroke-opacity="0.38"/>
<circle cx="545.1" cy="718.7" r="2.9" fill="rgb(148,148,148)" fill-opacity="0.22" stroke="#a8a8a8" stroke-width="0.8" stroke-opacity="0.27"/>
<circle cx="923.3" cy="500.4" r="4.0" fill="rgb(149,149,149)" fill-opacity="0.29" stroke="#a8a8a8" stroke-width="0.8" stroke-opacity="0.19"/>
<circle cx="609.9" cy="491.7" r="3.8" fill="rgb(144,144,144)" fill-opacity="0.28" stroke="#a8a8a8" stroke-width="0.8" stroke-opacity="0.32"/>
<circle cx="606.1" cy="558.3" r="2.4" fill="rgb(147,147,147)" fill-opacity="0.15" stroke="#a8a8a8" stroke-width="0.8" stroke-opacity="0.32"/>
<circle cx="738.7" cy="592.7" r="3.0" fill="rgb(149,149,149)" fill-opacity="0.20" stroke="#a8a8a8" stroke-width="0.8" stroke-opacity="0.22"/>
<circle cx="975.8" cy="569.8" r="2.5" fill="rgb(142,142,142)" fill-opacity="0.27" stroke="#a8a8a8" stroke-width="0.8" stroke-opacity="0.29"/>
<circle cx="749.6" cy="585.9" r="3.5" fill="rgb(161,161,161)" fill-opacity="0.15" stroke="#a8a8a8" stroke-width="0.8" stroke-opacity="0.38"/>
<circle cx="741.1" cy="602.3" r="3.0" fill="rgb(145,145,145)" fill-opacity="0.20" stroke="#a8a8a8" stroke-width="0.8" stroke-opacity="0.34"/>
<circle cx="751.7" cy="656.8" r="2.4" fill="rgb(132,132,132)" fill-opacity="0.17" stroke="#a8a8a8" stroke-width="0.8" stroke-opacity="0.21"/>
<circle cx="641.9" cy="539.0" r="3.4" fill="rgb(159,159,159)" fill-opacity="0.32" stroke="#a8a8a8" stroke-width="0.8" stroke-opacity="0.31"/>
<circle cx="949.4" cy="565.6" r="3.5" fill="rgb(158,158,158)" fill-opacity="0.26" stroke="#a8a8a8" stroke-width="0.8" stroke-opacity="0.25"/>
<circle cx="910.0" cy="657.1" r="4.0" fill="rgb(156,156,156)" fill-opacity="0.24" stroke="#a8a8a8" stroke-width="0.8" stroke-opacity="0.21"/>
<circle cx="524.3" cy="463.1" r="3.5" fill="rgb(136,136,136)" fill-opacity="0.26" stroke="#a8a8a8" stroke-width="0.8" stroke-opacity="0.22"/>
<circle cx="599.2" cy="689.6" r="2.4" fill="rgb(157,157,157)" fill-opacity="0.24" stroke="#a8a8a8" stroke-width="0.8" stroke-opacity="0.22"/>
<circle cx="632.9" cy="591.2" r="2.7" fill="rgb(150,150,150)" fill-opacity="0.24" stroke="#a8a8a8" stroke-width="0.8" stroke-opacity="0.16"/>
<circle cx="645.8" cy="643.0" r="2.4" fill="rgb(154,154,154)" fill-opacity="0.28" stroke="#a8a8a8" stroke-width="0.8" stroke-opacity="0.35"/>
<circle cx="942.8" cy="510.3" r="3.9" fill="rgb(133,133,133)" fill-opacity="0.13" stroke="#a8a8a8" stroke-width="0.8" stroke-opacity="0.30"/>
<circle cx="550.1" cy="567.2" r="2.8" fill="rgb(152,152,152)" fill-opacity="0.21" stroke="#a8a8a8" stroke-width="0.8" stroke-opacity="0.23"/>
<circle cx="834.9" cy="727.8" r="2.6" fill="rgb(134,134,134)" fill-opacity="0.15" stroke="#a8a8a8" stroke-width="0.8" stroke-opacity="0.38"/>
<circle cx="869.5" cy="381.0" r="2.6" fill="rgb(155,155,155)" fill-opacity="0.15" stroke="#a8a8a8" stroke-width="0.8" stroke-opacity="0.27"/>
<circle cx="610.3" cy="481.8" r="3.0" fill="rgb(146,146,146)" fill-opacity="0.29" stroke="#a8a8a8" stroke-width="0.8" stroke-opacity="0.27"/>
<circle cx="974.7" cy="566.1" r="3.0" fill="rgb(140,140,140)" fill-opacity="0.20" stroke="#a8a8a8" stroke-width="0.8" stroke-opacity="0.39"/>
<circle cx="777.9" cy="445.9" r="2.4" fill="rgb(151,151,151)" fill-opacity="0.23" stroke="#a8a8a8" stroke-width="0.8" stroke-opacity="0.28"/>
<circle cx="814.2" cy="406.7" r="2.3" fill="rgb(140,140,140)" fill-opacity="0.18" stroke="#a8a8a8" stroke-width="0.8" stroke-opacity="0.33"/>
<circle cx="936.0" cy="585.4" r="3.6" fill="rgb(155,155,155)" fill-opacity="0.20" stroke="#a8a8a8" stroke-width="0.8" stroke-opacity="0.29"/>
<circle cx="904.4" cy="721.3" r="3.7" fill="rgb(144,144,144)" fill-opacity="0.14" stroke="#a8a8a8" stroke-width="0.8" stroke-opacity="0.21"/>
<circle cx="773.1" cy="455.0" r="3.5" fill="rgb(139,139,139)" fill-opacity="0.21" stroke="#a8a8a8" stroke-width="0.8" stroke-opacity="0.25"/>
<circle cx="990.0" cy="529.9" r="3.4" fill="rgb(160,160,160)" fill-opacity="0.27" stroke="#a8a8a8" stroke-width="0.8" stroke-opacity="0.33"/>
<circle cx="916.7" cy="524.8" r="2.6" fill="rgb(138,138,138)" fill-opacity="0.14" stroke="#a8a8a8" stroke-width="0.8" stroke-opacity="0.17"/>
<path d="M527.4,444.0 527.4,445.4 527.3,446.8 527.2,448.2 526.8,449.5 526.3,450.7 525.5,451.6 524.5,452.2 523.6,452.6 522.7,453.0 521.8,453.6 521.0,454.2 520.0,454.6 519.0,454.7 518.0,454.5 517.0,454.0 516.2,453.3 515.3,452.5 514.6,451.5 514.0,450.4 513.6,449.2 513.3,447.9 513.0,446.6 512.8,445.3 512.5,444.0 512.4,442.6 512.4,441.2 512.7,439.8 513.3,438.6 514.1,437.6 514.9,436.8 515.7,436.1 516.4,435.4 517.2,434.7 518.1,434.1 519.0,433.7 520.0,433.6 521.0,433.5 522.0,433.5 523.1,433.7 524.0,434.2 524.9,435.1 525.5,436.4 525.8,437.7 526.2,439.0 526.5,440.2 526.9,441.4 527.2,442.7Z" fill="#424242" opacity="0.6" filter="url(#bl)"/>
<path d="M525.9,444.0 525.9,445.2 525.9,446.4 525.7,447.6 525.5,448.7 525.0,449.8 524.4,450.5 523.6,451.0 522.8,451.4 522.1,451.8 521.5,452.2 520.8,452.7 520.0,453.1 519.2,453.2 518.4,453.0 517.6,452.6 516.9,452.0 516.3,451.3 515.7,450.5 515.2,449.5 514.9,448.4 514.6,447.3 514.4,446.2 514.2,445.1 514.0,444.0 513.9,442.8 513.9,441.6 514.2,440.4 514.7,439.4 515.3,438.6 515.9,437.9 516.5,437.2 517.2,436.6 517.8,436.0 518.5,435.5 519.2,435.2 520.0,435.1 520.8,435.0 521.6,435.0 522.4,435.2 523.2,435.6 523.9,436.4 524.4,437.5 524.7,438.6 524.9,439.7 525.2,440.8 525.5,441.8 525.7,442.9Z" fill="#424242" filter="url(#tx)"/>
<polygon points="606,441 617,446 630,452 641,456 636,463 622,466 610,458 603,448" fill="#3a3a3a" filter="url(#bl)"/>
<polygon points="606,441 617,446 630,452 641,456 636,463 622,466 610,458 603,448" fill="#404040" opacity="0.8"/>
<path d="M659.8,429.0 659.4,432.1 659.1,435.3 658.5,438.5 657.1,441.5 655.0,444.1 652.5,446.3 649.8,448.3 647.0,450.1 644.0,451.5 640.7,452.3 637.3,452.5 634.0,452.6 630.6,452.8 627.1,453.0 623.6,452.6 620.3,451.2 617.6,449.0 615.3,446.5 613.3,443.9 611.3,441.2 609.8,438.4 609.0,435.3 608.8,432.1 608.6,429.0 608.1,425.8 607.6,422.4 607.9,418.9 609.4,415.7 612.1,413.3 615.3,411.5 618.3,409.9 621.2,408.3 624.2,407.0 627.5,406.2 630.8,406.1 634.0,406.2 637.2,406.1 640.7,405.8 644.3,405.8 647.7,406.8 650.7,408.7 653.1,411.1 655.3,413.7 657.5,416.3 659.2,419.2 660.2,422.4 660.3,425.8Z" fill="#383838" opacity="0.55"/>
<path d="M658.6,429.0 658.2,432.0 657.9,435.0 657.3,438.0 656.0,440.8 654.0,443.3 651.6,445.4 649.0,447.2 646.4,448.9 643.5,450.3 640.3,451.0 637.1,451.3 634.0,451.4 630.8,451.6 627.5,451.7 624.1,451.3 621.0,450.0 618.4,448.0 616.3,445.5 614.3,443.1 612.4,440.6 611.0,437.9 610.2,434.9 610.0,431.9 609.8,429.0 609.4,426.0 608.9,422.7 609.2,419.4 610.6,416.4 613.2,414.1 616.2,412.4 619.1,410.9 621.9,409.4 624.7,408.1 627.8,407.4 630.9,407.3 634.0,407.4 637.1,407.3 640.3,407.0 643.8,407.0 647.0,407.9 649.8,409.8 652.2,412.1 654.3,414.5 656.3,417.0 658.0,419.7 658.9,422.8 659.0,425.9Z" fill="url(#gb)" filter="url(#tx2)"/>
<path d="M763.2,440.1 762.9,443.2 762.3,446.3 761.4,449.2 760.2,452.1 758.6,454.9 756.6,457.3 754.2,459.4 751.6,461.1 748.7,462.4 745.7,463.3 742.7,463.7 739.6,463.7 736.6,463.4 733.6,462.8 730.7,462.0 727.8,460.8 725.0,459.3 722.5,457.4 720.4,455.0 718.8,452.3 717.6,449.3 716.7,446.3 716.1,443.2 715.9,440.1 716.1,437.0 716.9,433.9 718.1,431.1 719.5,428.4 721.2,425.8 722.9,423.2 725.0,420.8 727.5,418.8 730.3,417.4 733.4,416.7 736.5,416.5 739.6,416.5 742.6,416.6 745.7,417.0 748.8,417.7 751.6,419.0 754.1,420.9 756.3,423.2 758.2,425.6 759.9,428.2 761.4,430.9 762.5,433.9 763.1,437.0Z" fill="#383838" opacity="0.6"/>
<path d="M762.0,440.1 761.7,443.1 761.1,445.9 760.3,448.8 759.1,451.5 757.6,454.1 755.7,456.4 753.5,458.4 751.0,460.1 748.3,461.3 745.4,462.1 742.5,462.5 739.6,462.5 736.7,462.2 733.9,461.7 731.1,460.9 728.4,459.8 725.8,458.4 723.4,456.5 721.4,454.2 719.8,451.7 718.7,448.9 717.8,446.0 717.3,443.1 717.1,440.1 717.3,437.1 718.0,434.2 719.2,431.5 720.6,429.0 722.1,426.5 723.8,424.1 725.7,421.8 728.1,419.9 730.8,418.5 733.7,417.9 736.7,417.7 739.6,417.7 742.5,417.8 745.4,418.1 748.3,418.8 751.0,420.1 753.4,421.9 755.5,424.0 757.3,426.4 758.9,428.8 760.3,431.4 761.4,434.2 762.0,437.1Z" fill="#626262" filter="url(#tx)"/>
<path d="M720.7,451.1 719.6,448.5 718.8,445.8 718.3,442.9 718.1,440.1 718.3,437.3 719.0,434.5 720.1,431.9 721.4,429.4 722.9,427.1 724.5,424.8 726.3,422.6 728.6,420.8 731.2,419.5 734.0,418.8 736.8,418.6 739.6,418.7 742.4,418.8 745.2,419.1 747.9,419.8 750.5,421.0 752.8,422.7 754.8,424.7 756.5,427.0 758.1,429.3 759.4,431.8 760.4,434.4 761.0,437.2 761.0,440.1 760.7,442.9 760.2,445.7 759.4,448.4 758.3,451.0 756.8,453.5 755.0,455.7 752.9,457.6 750.5,459.2 747.9,460.4" fill="none" stroke="#c0c0c0" stroke-width="3.4" opacity="0.51" stroke-linecap="round" filter="url(#bs)"/>
<path d="M720.7,451.1 719.6,448.5 718.8,445.8" fill="none" stroke="#d6d6d6" stroke-width="1.6" opacity="0.58" stroke-linecap="round"/>
<path d="M718.8,445.8 718.3,442.9 718.1,440.1 718.3,437.3" fill="none" stroke="#d6d6d6" stroke-width="1.9" opacity="0.57" stroke-linecap="round"/>
<path d="M718.3,437.3 719.0,434.5 720.1,431.9 721.4,429.4" fill="none" stroke="#d6d6d6" stroke-width="1.6" opacity="0.84" stroke-linecap="round"/>
<path d="M721.4,429.4 722.9,427.1 724.5,424.8" fill="none" stroke="#d6d6d6" stroke-width="1.3" opacity="0.75" stroke-linecap="round"/>
<path d="M724.5,424.8 726.3,422.6 728.6,420.8" fill="none" stroke="#d6d6d6" stroke-width="1.3" opacity="0.32" stroke-linecap="round"/>
<path d="M728.6,420.8 731.2,419.5 734.0,418.8" fill="none" stroke="#d6d6d6" stroke-width="1.2" opacity="0.69" stroke-linecap="round"/>
<path d="M734.0,418.8 736.8,418.6 739.6,418.7" fill="none" stroke="#d6d6d6" stroke-width="1.4" opacity="0.47" stroke-linecap="round"/>
<path d="M739.6,418.7 742.4,418.8 745.2,419.1 747.9,419.8 750.5,421.0" fill="none" stroke="#d6d6d6" stroke-width="1.2" opacity="0.81" stroke-linecap="round"/>
<path d="M750.5,421.0 752.8,422.7 754.8,424.7" fill="none" stroke="#d6d6d6" stroke-width="2.1" opacity="0.59" stroke-linecap="round"/>
<path d="M754.8,424.7 756.5,427.0 758.1,429.3" fill="none" stroke="#d6d6d6" stroke-width="1.4" opacity="0.70" stroke-linecap="round"/>
<path d="M758.1,429.3 759.4,431.8 760.4,434.4 761.0,437.2 761.0,440.1" fill="none" stroke="#d6d6d6" stroke-width="2.1" opacity="0.36" stroke-linecap="round"/>
<path d="M761.0,440.1 760.7,442.9 760.2,445.7 759.4,448.4 758.3,451.0" fill="none" stroke="#d6d6d6" stroke-width="1.4" opacity="0.62" stroke-linecap="round"/>
<path d="M758.3,451.0 756.8,453.5 755.0,455.7 752.9,457.6 750.5,459.2" fill="none" stroke="#d6d6d6" stroke-width="1.6" opacity="0.38" stroke-linecap="round"/>
<path d="M750.5,459.2 747.9,460.4" fill="none" stroke="#d6d6d6" stroke-width="1.2" opacity="0.48" stroke-linecap="round"/>
<polygon points="840,438 848,452 860,460 870,464 860,468 846,463 836,452" fill="#3a3a3a" filter="url(#bl)"/>
<polygon points="840,438 848,452 860,460 870,464 860,468 846,463 836,452" fill="#404040" opacity="0.8"/>
<path d="M890.0,434.0 889.3,437.5 887.9,440.8 886.3,443.9 884.7,446.8 883.0,449.7 880.9,452.4 878.3,454.6 875.3,456.1 872.0,456.9 868.8,457.5 865.7,458.2 862.5,459.1 859.1,459.8 855.6,459.9 852.1,459.1 848.9,457.5 846.0,455.5 843.3,453.2 840.8,450.7 838.7,447.8 837.2,444.5 836.4,441.0 836.2,437.5 836.2,434.0 836.5,430.6 837.1,427.2 838.1,423.9 839.7,420.8 841.8,418.1 844.2,415.7 846.9,413.7 849.8,412.0 852.9,410.7 856.0,409.7 859.2,409.0 862.5,408.5 865.9,408.3 869.3,408.5 872.8,409.3 876.0,410.7 878.8,412.7 881.4,415.1 883.6,417.8 885.7,420.6 887.6,423.6 889.1,426.9 890.0,430.4Z" fill="#383838" opacity="0.55"/>
<path d="M888.7,434.0 887.9,437.3 886.6,440.5 885.1,443.4 883.6,446.2 882.0,449.0 880.0,451.5 877.5,453.6 874.6,455.0 871.5,455.8 868.5,456.4 865.5,457.0 862.5,457.9 859.3,458.6 855.9,458.6 852.6,457.8 849.6,456.3 846.8,454.4 844.3,452.2 841.9,449.8 839.8,447.1 838.4,444.0 837.7,440.7 837.5,437.3 837.5,434.0 837.8,430.7 838.3,427.5 839.3,424.4 840.8,421.5 842.8,418.9 845.1,416.6 847.7,414.7 850.4,413.1 853.3,411.9 856.3,410.9 859.4,410.3 862.5,409.8 865.7,409.6 869.0,409.7 872.2,410.5 875.3,411.8 878.0,413.8 880.4,416.1 882.6,418.6 884.5,421.3 886.4,424.1 887.8,427.2 888.6,430.6Z" fill="url(#gb)" filter="url(#tx2)"/>
<path d="M995.3,443.3 993.7,446.0 992.4,448.5 990.8,450.6 988.9,452.4 986.8,453.7 984.7,454.7 982.9,455.6 981.4,457.0 980.1,459.0 978.5,461.7 976.5,464.6 973.8,467.5 971.0,465.6 968.6,463.6 966.5,461.6 964.6,459.9 962.8,458.3 960.9,456.8 959.0,455.1 957.1,453.3 955.2,451.3 953.5,449.0 951.9,446.3 950.5,443.3 953.6,440.5 956.2,438.4 958.4,436.7 960.2,435.1 961.6,433.6 962.9,431.9 964.2,430.3 965.6,428.5 967.2,426.6 969.0,424.7 971.2,422.7 973.8,420.5 976.5,422.3 978.9,423.7 981.2,424.7 983.5,425.8 985.8,427.0 987.8,428.7 989.4,430.8 990.5,433.3 991.2,435.8 992.1,438.2 993.4,440.6Z" fill="#4a4a4a" opacity="0.6" filter="url(#bl)"/>
<path d="M993.6,443.3 992.2,445.8 990.9,448.1 989.5,450.1 987.7,451.7 985.8,452.9 983.9,453.8 982.2,454.7 980.8,456.0 979.6,457.8 978.2,460.3 976.3,463.0 973.8,465.7 971.2,463.9 969.0,462.0 967.1,460.2 965.3,458.6 963.6,457.2 961.9,455.7 960.2,454.2 958.4,452.6 956.7,450.7 955.1,448.6 953.6,446.1 952.4,443.3 955.2,440.7 957.6,438.8 959.6,437.2 961.3,435.7 962.6,434.3 963.8,432.8 965.0,431.2 966.2,429.6 967.7,427.9 969.4,426.1 971.4,424.2 973.8,422.2 976.2,423.8 978.5,425.1 980.6,426.1 982.8,427.1 984.9,428.2 986.7,429.8 988.2,431.8 989.1,434.0 989.9,436.3 990.7,438.6 991.8,440.8Z" fill="#4a4a4a" filter="url(#tx)"/>
<path d="M532.3,558.0 532.4,560.1 532.3,562.3 532.0,564.5 531.6,566.7 530.8,568.6 529.6,570.0 528.3,570.9 527.0,571.5 525.7,572.2 524.6,573.1 523.3,574.0 522.0,574.7 520.6,574.8 519.2,574.5 517.9,573.7 516.6,572.7 515.5,571.4 514.5,569.8 513.7,568.1 513.0,566.1 512.6,564.1 512.2,562.1 511.9,560.1 511.5,558.0 511.3,555.8 511.4,553.5 511.8,551.4 512.7,549.5 513.7,548.0 514.8,546.8 515.9,545.6 517.0,544.4 518.1,543.3 519.3,542.4 520.6,541.9 522.0,541.6 523.4,541.5 524.8,541.5 526.3,541.8 527.7,542.6 528.8,544.0 529.6,546.0 530.2,548.1 530.6,550.2 531.1,552.1 531.6,553.9 532.1,555.9Z" fill="#424242" opacity="0.6" filter="url(#bl)"/>
<path d="M530.8,558.0 530.9,559.9 530.8,561.9 530.6,563.9 530.2,565.9 529.5,567.6 528.5,568.9 527.4,569.7 526.3,570.3 525.2,570.9 524.2,571.7 523.1,572.5 522.0,573.1 520.8,573.3 519.6,573.0 518.5,572.3 517.4,571.3 516.4,570.2 515.5,568.8 514.8,567.2 514.3,565.4 513.9,563.6 513.6,561.7 513.3,559.9 513.0,558.0 512.8,556.0 512.9,553.9 513.3,552.0 514.0,550.3 514.9,548.9 515.9,547.8 516.8,546.7 517.7,545.7 518.7,544.7 519.7,543.8 520.8,543.3 522.0,543.1 523.2,543.0 524.4,543.0 525.7,543.3 526.9,544.0 527.8,545.3 528.5,547.1 529.0,549.0 529.4,550.9 529.8,552.6 530.2,554.3 530.6,556.1Z" fill="#424242" filter="url(#tx)"/>
<path d="M647.5,557.5 646.6,560.2 645.0,562.6 643.0,564.6 641.0,566.2 639.1,567.8 637.4,569.3 635.8,570.9 634.2,572.6 632.4,574.4 630.3,576.2 627.6,576.4 625.0,576.7 622.3,576.8 619.6,576.5 617.1,575.6 615.0,574.0 613.3,572.0 611.9,570.0 610.5,568.0 608.9,566.3 606.8,564.7 604.4,562.7 604.0,560.1 604.0,557.5 604.7,555.0 605.9,552.6 607.4,550.6 608.7,548.5 609.8,546.4 611.0,544.2 612.5,542.0 614.5,540.3 616.9,538.9 619.6,538.2 622.5,539.3 625.0,539.8 627.4,540.2 629.8,540.5 632.1,541.2 634.2,542.3 636.2,543.7 638.0,545.2 639.9,546.6 642.1,548.1 644.7,549.7 647.4,551.8 647.7,554.7Z" fill="#4a4a4a" opacity="0.6" filter="url(#bl)"/>
<path d="M645.8,557.5 645.0,560.0 643.5,562.2 641.7,564.0 639.8,565.6 638.0,567.0 636.5,568.4 635.0,569.8 633.5,571.4 631.8,573.1 629.9,574.7 627.4,574.9 625.0,575.1 622.5,575.3 620.0,575.0 617.7,574.1 615.7,572.7 614.1,570.9 612.9,569.0 611.6,567.2 610.1,565.6 608.1,564.1 605.9,562.3 605.6,559.9 605.6,557.5 606.2,555.2 607.4,553.0 608.7,551.1 609.9,549.3 610.9,547.3 612.0,545.2 613.4,543.2 615.3,541.6 617.5,540.4 620.0,539.7 622.7,540.7 625.0,541.2 627.2,541.5 629.4,541.9 631.6,542.5 633.5,543.5 635.3,544.8 637.0,546.1 638.8,547.5 640.8,548.9 643.2,550.4 645.7,552.3 646.0,554.9Z" fill="#4a4a4a" filter="url(#tx)"/>
<path d="M611,552 q6,-8 12,-2 q5,6 10,-1 q5,-5 10,3" fill="none" stroke="#2e2e2e" stroke-width="1.3" opacity="0.55"/>
<circle cx="617" cy="539" r="3.2" fill="#b8b8b8"/>
<circle cx="640" cy="544" r="2.6" fill="#b8b8b8"/>
<circle cx="646" cy="554" r="2.8" fill="#b8b8b8"/>
<circle cx="631" cy="582" r="2.4" fill="#b8b8b8"/>
<polygon points="727,556 736,566 748,572 744,580 732,579 724,568" fill="#3a3a3a" filter="url(#bl)"/>
<polygon points="727,556 736,566 748,572 744,580 732,579 724,568" fill="#404040" opacity="0.8"/>
<path d="M776.4,547.0 776.7,550.3 777.0,553.8 776.7,557.5 775.3,560.8 772.9,563.6 769.8,565.8 766.7,567.6 763.7,569.4 760.6,571.1 757.2,572.4 753.6,572.9 750.0,572.8 746.5,572.3 743.0,571.5 739.7,570.6 736.4,569.3 733.3,567.6 730.6,565.3 728.4,562.7 726.6,559.8 725.3,556.7 724.3,553.5 723.8,550.3 723.5,547.0 723.7,543.7 724.5,540.5 725.6,537.5 727.0,534.5 728.6,531.5 730.3,528.4 732.4,525.3 735.3,522.9 738.7,521.3 742.5,520.7 746.3,520.7 750.0,520.7 753.6,520.8 757.3,521.4 760.6,522.8 763.4,525.0 765.7,527.7 767.7,530.2 770.0,532.5 772.4,534.8 774.4,537.4 775.7,540.5 776.2,543.7Z" fill="#383838" opacity="0.55"/>
<path d="M775.2,547.0 775.5,550.2 775.7,553.5 775.4,556.9 774.1,560.1 771.8,562.7 768.9,564.8 765.9,566.6 763.0,568.3 760.1,569.9 756.8,571.1 753.4,571.6 750.0,571.5 746.6,571.0 743.4,570.3 740.1,569.4 737.0,568.2 734.1,566.6 731.5,564.4 729.4,561.9 727.7,559.1 726.5,556.2 725.6,553.2 725.0,550.1 724.8,547.0 725.0,543.9 725.7,540.9 726.8,537.9 728.1,535.1 729.6,532.2 731.2,529.3 733.3,526.4 736.0,524.1 739.3,522.6 742.9,522.0 746.5,522.0 750.0,522.0 753.5,522.1 756.9,522.6 760.1,524.0 762.8,526.1 764.9,528.7 766.9,531.1 769.0,533.2 771.3,535.4 773.3,537.9 774.5,540.8 775.0,543.9Z" fill="url(#gb)" filter="url(#tx2)"/>
<path d="M880.7,558.5 880.8,561.6 880.4,564.8 879.2,567.7 877.1,570.1 874.7,572.1 872.5,574.1 870.6,576.4 868.6,579.0 866.3,581.5 863.3,583.1 859.9,583.6 856.5,583.0 853.3,582.0 850.3,581.0 847.4,579.9 844.7,578.5 842.5,576.3 840.9,573.8 839.6,571.1 838.2,568.8 836.4,566.6 834.1,564.4 832.1,561.6 831.0,558.5 831.0,555.2 831.9,552.1 833.1,549.1 834.5,546.1 836.1,543.3 838.3,540.8 841.2,539.1 844.5,538.2 847.7,537.8 850.7,537.4 853.5,536.6 856.5,535.8 859.6,535.4 862.7,535.9 865.6,537.2 868.1,538.9 870.5,540.7 873.0,542.4 875.5,544.3 877.6,546.6 879.1,549.4 879.9,552.4 880.4,555.4Z" fill="#383838" opacity="0.6"/>
<path d="M879.5,558.5 879.6,561.5 879.2,564.4 878.0,567.2 876.1,569.5 873.8,571.4 871.7,573.3 869.9,575.5 868.0,577.9 865.8,580.3 862.9,581.9 859.7,582.3 856.5,581.8 853.5,580.8 850.6,579.9 847.8,578.8 845.3,577.4 843.2,575.4 841.6,573.0 840.5,570.5 839.2,568.2 837.4,566.2 835.2,564.1 833.3,561.5 832.2,558.5 832.3,555.4 833.1,552.4 834.3,549.5 835.6,546.7 837.1,544.0 839.3,541.7 842.0,540.1 845.1,539.2 848.1,538.9 851.0,538.4 853.7,537.8 856.5,537.0 859.5,536.6 862.4,537.1 865.1,538.3 867.5,539.9 869.8,541.6 872.2,543.2 874.5,545.0 876.6,547.2 878.0,549.8 878.7,552.7 879.2,555.6Z" fill="#626262" filter="url(#tx)"/>
<path d="M839.9,567.8 838.2,565.9 836.1,563.8 834.3,561.3 833.3,558.5 833.3,555.5 834.1,552.7 835.3,549.9 836.5,547.3 838.0,544.7 840.0,542.5 842.6,540.9 845.6,540.1 848.5,539.7 851.2,539.4 853.8,538.7 856.5,537.9 859.3,537.6 862.1,538.0 864.7,539.2 867.0,540.7 869.3,542.3 871.5,543.9 873.8,545.6 875.7,547.7 877.0,550.2 877.8,553.0 878.2,555.7 878.5,558.5 878.6,561.3 878.2,564.2 877.1,566.8 875.2,569.0 873.0,570.8 871.0,572.6 869.3,574.7 867.5,577.1 865.4,579.3" fill="none" stroke="#c0c0c0" stroke-width="3.4" opacity="0.51" stroke-linecap="round" filter="url(#bs)"/>
<path d="M839.9,567.8 838.2,565.9 836.1,563.8 834.3,561.3" fill="none" stroke="#d6d6d6" stroke-width="2.0" opacity="0.71" stroke-linecap="round"/>
<path d="M834.3,561.3 833.3,558.5 833.3,555.5 834.1,552.7" fill="none" stroke="#d6d6d6" stroke-width="1.5" opacity="0.63" stroke-linecap="round"/>
<path d="M834.1,552.7 835.3,549.9 836.5,547.3" fill="none" stroke="#d6d6d6" stroke-width="1.3" opacity="0.58" stroke-linecap="round"/>
<path d="M836.5,547.3 838.0,544.7 840.0,542.5" fill="none" stroke="#d6d6d6" stroke-width="1.7" opacity="0.85" stroke-linecap="round"/>
<path d="M840.0,542.5 842.6,540.9 845.6,540.1 848.5,539.7" fill="none" stroke="#d6d6d6" stroke-width="1.7" opacity="0.67" stroke-linecap="round"/>
<path d="M848.5,539.7 851.2,539.4 853.8,538.7 856.5,537.9 859.3,537.6" fill="none" stroke="#d6d6d6" stroke-width="1.3" opacity="0.72" stroke-linecap="round"/>
<path d="M859.3,537.6 862.1,538.0 864.7,539.2 867.0,540.7 869.3,542.3" fill="none" stroke="#d6d6d6" stroke-width="2.2" opacity="0.37" stroke-linecap="round"/>
<path d="M869.3,542.3 871.5,543.9 873.8,545.6 875.7,547.7 877.0,550.2" fill="none" stroke="#d6d6d6" stroke-width="1.6" opacity="0.65" stroke-linecap="round"/>
<path d="M877.0,550.2 877.8,553.0 878.2,555.7 878.5,558.5 878.6,561.3" fill="none" stroke="#d6d6d6" stroke-width="1.2" opacity="0.66" stroke-linecap="round"/>
<path d="M878.6,561.3 878.2,564.2 877.1,566.8 875.2,569.0" fill="none" stroke="#d6d6d6" stroke-width="1.9" opacity="0.79" stroke-linecap="round"/>
<path d="M875.2,569.0 873.0,570.8 871.0,572.6" fill="none" stroke="#d6d6d6" stroke-width="1.4" opacity="0.79" stroke-linecap="round"/>
<path d="M871.0,572.6 869.3,574.7 867.5,577.1" fill="none" stroke="#d6d6d6" stroke-width="1.9" opacity="0.74" stroke-linecap="round"/>
<path d="M867.5,577.1 865.4,579.3" fill="none" stroke="#d6d6d6" stroke-width="1.3" opacity="0.58" stroke-linecap="round"/>
<path d="M998.1,558.8 997.3,561.2 996.1,563.4 994.7,565.4 993.5,567.4 992.2,569.4 990.8,571.4 989.1,573.3 987.1,574.9 984.3,575.4 981.6,575.4 979.0,575.6 976.5,576.1 973.8,576.5 971.0,576.8 968.1,576.7 965.3,576.0 962.6,574.7 960.3,573.1 958.1,571.2 956.1,569.2 955.4,566.5 955.5,563.8 956.0,561.2 957.0,558.8 958.2,556.7 959.5,554.8 960.6,553.0 961.5,551.2 962.1,549.1 962.8,546.7 963.7,544.1 965.0,541.2 967.4,539.4 970.3,538.5 973.4,538.1 976.5,538.5 979.4,539.6 981.9,541.1 984.1,542.7 986.0,544.2 988.0,545.6 990.2,546.8 992.6,547.9 995.3,549.2 997.0,551.3 997.9,553.7 998.4,556.3Z" fill="#444444" opacity="0.6" filter="url(#bl)"/>
<path d="M996.6,558.8 995.8,561.0 994.7,563.0 993.4,564.9 992.2,566.7 991.1,568.6 989.8,570.4 988.2,572.1 986.3,573.6 983.7,574.0 981.2,574.1 978.8,574.3 976.5,574.7 974.0,575.1 971.4,575.4 968.7,575.2 966.1,574.6 963.6,573.4 961.4,571.9 959.4,570.2 957.5,568.3 956.9,565.9 957.0,563.3 957.5,561.0 958.4,558.8 959.5,556.9 960.7,555.1 961.8,553.5 962.6,551.8 963.2,549.9 963.8,547.7 964.6,545.3 965.8,542.6 968.0,541.0 970.8,540.1 973.6,539.8 976.5,540.2 979.2,541.1 981.5,542.5 983.5,544.0 985.4,545.4 987.2,546.6 989.2,547.7 991.4,548.8 994.0,550.0 995.5,551.9 996.4,554.2 996.8,556.5Z" fill="#444444" filter="url(#tx)"/>
<circle cx="992" cy="545" r="3" fill="#b8b8b8"/>
<circle cx="996" cy="553" r="2.6" fill="#b8b8b8"/>
<circle cx="961" cy="573" r="2.6" fill="#b8b8b8"/>
<circle cx="981" cy="583" r="2" fill="#b8b8b8"/>
<path d="M535.0,676.0 534.7,678.3 534.4,680.5 534.0,682.7 533.4,684.8 532.6,686.6 531.5,688.0 530.4,689.3 529.4,691.1 528.5,693.4 527.3,695.9 525.8,697.9 524.0,698.6 522.2,697.9 520.6,696.2 519.3,694.1 518.2,692.1 517.3,690.1 516.4,688.2 515.7,686.2 515.1,684.3 514.5,682.4 513.9,680.4 513.4,678.2 513.1,676.0 512.9,673.6 512.9,671.2 513.1,668.7 513.7,666.4 514.7,664.5 516.0,663.1 517.3,661.9 518.5,660.7 519.7,659.4 521.0,658.0 522.4,656.8 524.0,656.1 525.6,655.9 527.3,656.2 528.9,657.1 530.3,658.6 531.3,660.7 532.1,663.0 532.6,665.3 533.3,667.4 534.0,669.3 534.7,671.4 535.0,673.7Z" fill="#444444" opacity="0.6" filter="url(#bl)"/>
<path d="M533.6,676.0 533.3,678.1 533.1,680.1 532.7,682.1 532.2,684.1 531.4,685.7 530.5,687.0 529.5,688.3 528.7,689.8 527.9,692.0 526.9,694.3 525.6,696.1 524.0,696.8 522.4,696.1 521.1,694.5 519.9,692.6 519.0,690.8 518.1,689.0 517.4,687.2 516.8,685.4 516.2,683.6 515.7,681.8 515.2,680.0 514.8,678.1 514.5,676.0 514.3,673.8 514.3,671.6 514.5,669.3 515.1,667.2 515.9,665.5 517.0,664.1 518.2,663.0 519.2,662.0 520.3,660.7 521.4,659.5 522.6,658.4 524.0,657.7 525.4,657.5 526.9,657.8 528.2,658.6 529.4,660.0 530.4,661.9 531.0,664.1 531.5,666.2 532.1,668.1 532.7,669.9 533.3,671.8 533.6,673.9Z" fill="#444444" filter="url(#tx)"/>
<circle cx="529" cy="659" r="2.6" fill="#b8b8b8"/>
<circle cx="534" cy="667" r="2.4" fill="#b8b8b8"/>
<circle cx="531" cy="693" r="2.6" fill="#b8b8b8"/>
<circle cx="526" cy="700" r="2" fill="#b8b8b8"/>
<path d="M652.7,674.3 653.1,677.3 652.9,680.4 652.0,683.3 650.6,686.1 649.0,688.6 647.1,691.1 645.0,693.3 642.5,695.1 639.7,696.4 636.7,696.9 633.7,697.0 630.8,696.6 628.0,696.0 625.3,695.4 622.7,694.4 620.2,693.1 618.0,691.4 616.0,689.5 614.1,687.5 612.2,685.3 610.5,682.9 609.4,680.2 608.9,677.3 609.0,674.3 609.4,671.4 609.9,668.5 610.4,665.6 611.3,662.7 612.7,660.0 614.6,657.7 617.0,655.8 619.5,654.2 622.2,652.9 625.0,651.9 627.9,651.4 630.8,651.4 633.7,651.8 636.5,652.4 639.3,653.3 641.9,654.5 644.2,656.4 645.9,658.7 647.2,661.4 648.1,664.0 649.2,666.5 650.4,668.9 651.6,671.5Z" fill="#383838" opacity="0.6"/>
<path d="M651.5,674.3 651.9,677.2 651.7,680.0 650.8,682.8 649.5,685.4 648.0,687.9 646.2,690.2 644.2,692.2 641.8,694.0 639.2,695.2 636.4,695.7 633.5,695.8 630.8,695.4 628.2,694.9 625.6,694.3 623.1,693.4 620.8,692.1 618.7,690.5 616.8,688.7 615.0,686.8 613.2,684.8 611.6,682.5 610.5,679.9 610.1,677.1 610.2,674.3 610.6,671.6 611.0,668.8 611.5,666.1 612.3,663.3 613.6,660.8 615.5,658.6 617.7,656.8 620.1,655.3 622.6,654.0 625.3,653.1 628.0,652.6 630.8,652.6 633.5,653.0 636.2,653.5 638.8,654.4 641.3,655.6 643.5,657.3 645.1,659.6 646.3,662.1 647.2,664.6 648.2,666.9 649.3,669.2 650.5,671.6Z" fill="#4e4e4e" filter="url(#tx)"/>
<path d="M614.0,684.3 612.6,682.1 611.5,679.6 611.1,677.0 611.2,674.3 611.6,671.7 612.0,669.1 612.4,666.5 613.2,663.8 614.5,661.4 616.2,659.3 618.3,657.6 620.6,656.1 623.0,655.0 625.5,654.1 628.2,653.6 630.8,653.6 633.4,654.0 635.9,654.5 638.4,655.3 640.8,656.4 642.9,658.1 644.4,660.3 645.5,662.6 646.4,665.0 647.3,667.2 648.4,669.4 649.6,671.8 650.5,674.3 650.9,677.0 650.7,679.8 649.9,682.4 648.6,684.9 647.2,687.2 645.5,689.4 643.5,691.4 641.3,693.1 638.8,694.2" fill="none" stroke="#c0c0c0" stroke-width="3.4" opacity="0.33" stroke-linecap="round" filter="url(#bs)"/>
<path d="M614.0,684.3 612.6,682.1 611.5,679.6 611.1,677.0" fill="none" stroke="#d6d6d6" stroke-width="1.7" opacity="0.45" stroke-linecap="round"/>
<path d="M611.1,677.0 611.2,674.3 611.6,671.7 612.0,669.1 612.4,666.5" fill="none" stroke="#d6d6d6" stroke-width="1.7" opacity="0.28" stroke-linecap="round"/>
<path d="M612.4,666.5 613.2,663.8 614.5,661.4" fill="none" stroke="#d6d6d6" stroke-width="1.2" opacity="0.44" stroke-linecap="round"/>
<path d="M614.5,661.4 616.2,659.3 618.3,657.6 620.6,656.1 623.0,655.0" fill="none" stroke="#d6d6d6" stroke-width="1.2" opacity="0.35" stroke-linecap="round"/>
<path d="M623.0,655.0 625.5,654.1 628.2,653.6 630.8,653.6" fill="none" stroke="#d6d6d6" stroke-width="1.4" opacity="0.22" stroke-linecap="round"/>
<path d="M630.8,653.6 633.4,654.0 635.9,654.5 638.4,655.3" fill="none" stroke="#d6d6d6" stroke-width="1.8" opacity="0.37" stroke-linecap="round"/>
<path d="M638.4,655.3 640.8,656.4 642.9,658.1 644.4,660.3 645.5,662.6" fill="none" stroke="#d6d6d6" stroke-width="1.6" opacity="0.45" stroke-linecap="round"/>
<path d="M645.5,662.6 646.4,665.0 647.3,667.2 648.4,669.4" fill="none" stroke="#d6d6d6" stroke-width="1.9" opacity="0.33" stroke-linecap="round"/>
<path d="M648.4,669.4 649.6,671.8 650.5,674.3 650.9,677.0 650.7,679.8" fill="none" stroke="#d6d6d6" stroke-width="2.0" opacity="0.36" stroke-linecap="round"/>
<path d="M650.7,679.8 649.9,682.4 648.6,684.9 647.2,687.2 645.5,689.4" fill="none" stroke="#d6d6d6" stroke-width="2.0" opacity="0.33" stroke-linecap="round"/>
<path d="M645.5,689.4 643.5,691.4 641.3,693.1" fill="none" stroke="#d6d6d6" stroke-width="1.7" opacity="0.47" stroke-linecap="round"/>
<path d="M641.3,693.1 638.8,694.2" fill="none" stroke="#d6d6d6" stroke-width="1.9" opacity="0.53" stroke-linecap="round"/>
<circle cx="611" cy="663" r="2.6" fill="#b8b8b8"/>
<circle cx="613" cy="670" r="2.4" fill="#b8b8b8"/>
<circle cx="636" cy="650" r="2.2" fill="#b8b8b8"/>
<circle cx="633" cy="700" r="2.4" fill="#b8b8b8"/>
<circle cx="640" cy="651" r="2" fill="#b8b8b8"/>
<path d="M772.2,674.3 772.0,677.1 771.7,680.0 771.0,682.8 769.2,685.3 766.7,687.2 763.9,688.7 761.4,690.3 759.0,692.1 756.6,694.1 753.7,695.6 750.4,696.1 747.0,695.8 743.8,695.1 740.6,694.6 737.3,694.4 733.7,693.9 730.5,692.6 728.1,690.4 726.6,687.7 725.6,684.9 724.7,682.2 723.8,679.6 723.0,677.0 722.7,674.3 722.9,671.6 723.3,668.9 723.9,666.1 724.8,663.4 726.3,660.8 728.4,658.5 731.1,656.6 734.1,655.2 737.2,654.1 740.4,653.3 743.7,652.8 747.0,652.7 750.3,653.0 753.4,653.9 756.3,655.2 759.0,656.6 761.6,658.1 764.2,659.6 767.0,661.2 769.5,663.2 771.4,665.7 772.4,668.5 772.5,671.4Z" fill="#383838" opacity="0.6"/>
<path d="M771.0,674.3 770.8,677.0 770.6,679.6 769.8,682.3 768.2,684.6 765.8,686.5 763.1,687.9 760.7,689.4 758.5,691.1 756.1,693.0 753.4,694.4 750.2,694.9 747.0,694.6 743.9,693.9 740.9,693.5 737.7,693.3 734.4,692.8 731.3,691.6 729.0,689.5 727.5,686.9 726.6,684.3 725.7,681.8 724.9,679.3 724.2,676.8 723.9,674.3 724.0,671.7 724.5,669.2 725.0,666.6 725.9,664.0 727.3,661.5 729.3,659.3 731.9,657.6 734.7,656.3 737.7,655.3 740.7,654.5 743.8,654.0 747.0,653.9 750.1,654.2 753.1,655.0 755.8,656.2 758.4,657.6 760.9,659.0 763.4,660.4 766.0,662.0 768.4,663.8 770.2,666.2 771.1,668.8 771.3,671.6Z" fill="#666666" filter="url(#tx)"/>
<path d="M727.4,683.8 726.6,681.4 725.8,679.1 725.1,676.7 724.9,674.3 725.0,671.9 725.4,669.4 725.9,667.0 726.8,664.5 728.1,662.1 730.0,660.1 732.5,658.4 735.2,657.2 738.1,656.2 741.0,655.5 744.0,655.0 747.0,654.9 750.0,655.2 752.8,656.0 755.5,657.1 757.9,658.4 760.3,659.8 762.7,661.1 765.2,662.6 767.5,664.3 769.3,666.6 770.1,669.1 770.3,671.7 770.0,674.3 769.8,676.8 769.6,679.4 768.9,681.9 767.3,684.1 765.0,685.9 762.4,687.3 760.1,688.6 758.0,690.3 755.8,692.1" fill="none" stroke="#c0c0c0" stroke-width="3.4" opacity="0.60" stroke-linecap="round" filter="url(#bs)"/>
<path d="M727.4,683.8 726.6,681.4 725.8,679.1 725.1,676.7" fill="none" stroke="#d6d6d6" stroke-width="1.3" opacity="0.68" stroke-linecap="round"/>
<path d="M725.1,676.7 724.9,674.3 725.0,671.9" fill="none" stroke="#d6d6d6" stroke-width="1.8" opacity="0.85" stroke-linecap="round"/>
<path d="M725.0,671.9 725.4,669.4 725.9,667.0 726.8,664.5 728.1,662.1" fill="none" stroke="#d6d6d6" stroke-width="2.0" opacity="0.98" stroke-linecap="round"/>
<path d="M728.1,662.1 730.0,660.1 732.5,658.4" fill="none" stroke="#d6d6d6" stroke-width="1.4" opacity="0.48" stroke-linecap="round"/>
<path d="M732.5,658.4 735.2,657.2 738.1,656.2 741.0,655.5" fill="none" stroke="#d6d6d6" stroke-width="1.9" opacity="0.40" stroke-linecap="round"/>
<path d="M741.0,655.5 744.0,655.0 747.0,654.9 750.0,655.2" fill="none" stroke="#d6d6d6" stroke-width="1.6" opacity="0.61" stroke-linecap="round"/>
<path d="M750.0,655.2 752.8,656.0 755.5,657.1 757.9,658.4" fill="none" stroke="#d6d6d6" stroke-width="1.4" opacity="0.75" stroke-linecap="round"/>
<path d="M757.9,658.4 760.3,659.8 762.7,661.1 765.2,662.6 767.5,664.3" fill="none" stroke="#d6d6d6" stroke-width="1.9" opacity="0.40" stroke-linecap="round"/>
<path d="M767.5,664.3 769.3,666.6 770.1,669.1 770.3,671.7" fill="none" stroke="#d6d6d6" stroke-width="1.7" opacity="0.91" stroke-linecap="round"/>
<path d="M770.3,671.7 770.0,674.3 769.8,676.8 769.6,679.4 768.9,681.9" fill="none" stroke="#d6d6d6" stroke-width="1.6" opacity="0.95" stroke-linecap="round"/>
<path d="M768.9,681.9 767.3,684.1 765.0,685.9 762.4,687.3 760.1,688.6" fill="none" stroke="#d6d6d6" stroke-width="1.4" opacity="0.42" stroke-linecap="round"/>
<path d="M760.1,688.6 758.0,690.3 755.8,692.1" fill="none" stroke="#d6d6d6" stroke-width="1.3" opacity="0.64" stroke-linecap="round"/>
<path d="M886.3,675.0 886.1,678.0 885.0,680.8 883.3,683.2 881.4,685.5 879.9,687.9 878.4,690.6 876.6,693.1 874.0,695.1 870.9,696.2 867.6,697.0 864.3,697.7 861.0,698.3 857.6,698.3 854.3,697.3 851.5,695.4 849.0,693.5 846.5,691.9 843.6,690.5 840.8,688.9 838.5,686.6 837.2,683.8 836.6,680.8 836.1,677.9 835.7,675.0 835.8,672.0 836.9,669.2 838.5,666.7 840.2,664.3 841.6,661.7 842.9,658.8 844.7,656.1 847.5,654.1 850.9,653.2 854.4,653.0 857.8,653.0 861.0,653.0 864.2,653.2 867.3,654.1 870.1,655.4 872.8,656.8 875.8,657.8 879.1,658.9 882.2,660.5 884.5,662.9 885.6,665.9 885.9,669.0 886.1,672.0Z" fill="#383838" opacity="0.6"/>
<path d="M885.1,675.0 884.9,677.8 883.9,680.4 882.2,682.8 880.5,685.0 879.0,687.2 877.6,689.7 875.8,692.1 873.4,694.0 870.4,695.1 867.3,695.8 864.2,696.5 861.0,697.0 857.7,697.0 854.6,696.1 852.0,694.4 849.6,692.5 847.2,691.0 844.4,689.7 841.7,688.1 839.6,686.0 838.4,683.3 837.8,680.5 837.3,677.8 836.9,675.0 837.0,672.2 838.0,669.5 839.6,667.1 841.2,664.9 842.5,662.4 843.7,659.7 845.5,657.1 848.2,655.2 851.4,654.4 854.7,654.2 857.9,654.2 861.0,654.1 864.1,654.4 867.0,655.2 869.6,656.5 872.2,657.7 875.1,658.7 878.2,659.7 881.2,661.2 883.3,663.5 884.4,666.4 884.7,669.4 884.9,672.2Z" fill="#505050" filter="url(#tx)"/>
<path d="M840.5,685.4 839.3,682.9 838.7,680.3 838.3,677.6 837.9,675.0 838.0,672.3 839.0,669.8 840.5,667.5 842.0,665.3 843.3,663.0 844.5,660.4 846.2,657.9 848.7,656.2 851.8,655.4 855.0,655.2 858.0,655.2 861.0,655.1 863.9,655.4 866.7,656.1 869.3,657.4 871.8,658.6 874.5,659.5 877.5,660.4 880.4,661.9 882.4,664.1 883.4,666.8 883.7,669.6 883.9,672.3 884.1,675.0 883.9,677.7 882.9,680.2 881.3,682.4 879.6,684.5 878.2,686.7 876.9,689.0 875.2,691.3 872.8,693.1 870.0,694.2" fill="none" stroke="#c0c0c0" stroke-width="3.4" opacity="0.42" stroke-linecap="round" filter="url(#bs)"/>
<path d="M840.5,685.4 839.3,682.9 838.7,680.3" fill="none" stroke="#d6d6d6" stroke-width="2.0" opacity="0.61" stroke-linecap="round"/>
<path d="M838.7,680.3 838.3,677.6 837.9,675.0" fill="none" stroke="#d6d6d6" stroke-width="1.1" opacity="0.28" stroke-linecap="round"/>
<path d="M837.9,675.0 838.0,672.3 839.0,669.8" fill="none" stroke="#d6d6d6" stroke-width="2.0" opacity="0.36" stroke-linecap="round"/>
<path d="M839.0,669.8 840.5,667.5 842.0,665.3 843.3,663.0" fill="none" stroke="#d6d6d6" stroke-width="1.4" opacity="0.57" stroke-linecap="round"/>
<path d="M843.3,663.0 844.5,660.4 846.2,657.9" fill="none" stroke="#d6d6d6" stroke-width="2.0" opacity="0.68" stroke-linecap="round"/>
<path d="M846.2,657.9 848.7,656.2 851.8,655.4" fill="none" stroke="#d6d6d6" stroke-width="2.0" opacity="0.69" stroke-linecap="round"/>
<path d="M851.8,655.4 855.0,655.2 858.0,655.2 861.0,655.1 863.9,655.4" fill="none" stroke="#d6d6d6" stroke-width="1.3" opacity="0.61" stroke-linecap="round"/>
<path d="M863.9,655.4 866.7,656.1 869.3,657.4 871.8,658.6" fill="none" stroke="#d6d6d6" stroke-width="2.2" opacity="0.59" stroke-linecap="round"/>
<path d="M871.8,658.6 874.5,659.5 877.5,660.4 880.4,661.9 882.4,664.1" fill="none" stroke="#d6d6d6" stroke-width="1.5" opacity="0.35" stroke-linecap="round"/>
<path d="M882.4,664.1 883.4,666.8 883.7,669.6" fill="none" stroke="#d6d6d6" stroke-width="1.9" opacity="0.33" stroke-linecap="round"/>
<path d="M883.7,669.6 883.9,672.3 884.1,675.0 883.9,677.7" fill="none" stroke="#d6d6d6" stroke-width="1.6" opacity="0.47" stroke-linecap="round"/>
<path d="M883.9,677.7 882.9,680.2 881.3,682.4" fill="none" stroke="#d6d6d6" stroke-width="1.6" opacity="0.50" stroke-linecap="round"/>
<path d="M881.3,682.4 879.6,684.5 878.2,686.7" fill="none" stroke="#d6d6d6" stroke-width="1.7" opacity="0.42" stroke-linecap="round"/>
<path d="M878.2,686.7 876.9,689.0 875.2,691.3 872.8,693.1 870.0,694.2" fill="none" stroke="#d6d6d6" stroke-width="1.1" opacity="0.57" stroke-linecap="round"/>
<path d="M1002.2,670.5 1000.1,673.6 998.3,676.4 996.6,679.0 995.0,681.3 993.3,683.6 991.5,685.8 989.6,688.0 987.6,690.2 985.3,692.4 982.7,694.6 979.7,697.1 976.2,696.6 973.0,694.7 970.1,693.1 967.5,691.5 965.0,689.9 962.8,688.0 960.6,686.1 958.5,684.1 956.3,682.0 954.0,679.7 951.7,677.1 949.2,674.1 950.0,670.5 952.2,667.3 954.2,664.6 956.0,662.1 957.7,659.8 959.4,657.6 961.1,655.4 962.8,653.0 964.7,650.6 967.0,648.3 969.6,646.0 972.7,643.6 976.2,644.4 979.4,646.4 982.2,648.0 984.9,649.5 987.4,651.2 989.6,653.0 991.8,654.9 993.9,656.9 996.1,659.0 998.3,661.3 1000.6,664.0 1003.0,667.0Z" fill="#333" opacity="0.75"/>
<path d="M1001.9,669.5 999.9,672.5 998.2,675.2 996.6,677.6 995.0,679.9 993.3,682.0 991.6,684.1 989.8,686.2 987.9,688.4 985.7,690.5 983.2,692.6 980.4,695.0 977.0,694.5 973.9,692.7 971.2,691.2 968.6,689.7 966.3,688.0 964.1,686.3 962.1,684.4 960.0,682.5 957.9,680.5 955.7,678.3 953.5,675.8 951.2,672.9 951.9,669.5 954.0,666.5 955.9,663.8 957.6,661.5 959.3,659.3 960.9,657.2 962.5,655.0 964.1,652.7 966.0,650.4 968.2,648.2 970.7,646.0 973.6,643.8 977.0,644.5 980.0,646.4 982.8,648.0 985.3,649.4 987.7,651.0 989.9,652.7 992.0,654.5 994.0,656.5 996.1,658.5 998.2,660.7 1000.3,663.2 1002.7,666.1Z" fill="url(#gb)" filter="url(#tx2)"/>
<line x1="580.7" y1="491.5" x2="605.8" y2="528.1" stroke="#fff" stroke-width="3.2"/>
<polyline points="594.7,524.2 606.7,529.3 606.2,516.3" fill="none" stroke="#fff" stroke-width="3.4" stroke-linejoin="miter"/>
<line x1="703.5" y1="487" x2="727.4" y2="523.1" stroke="#fff" stroke-width="3.2"/>
<polyline points="716.3,519.1 728.2,524.4 728.0,511.4" fill="none" stroke="#fff" stroke-width="3.4" stroke-linejoin="miter"/>
<line x1="811" y1="490" x2="835.7" y2="525.6" stroke="#fff" stroke-width="3.2"/>
<polyline points="824.6,521.8 836.6,526.8 836.1,513.8" fill="none" stroke="#fff" stroke-width="3.4" stroke-linejoin="miter"/>
<text x="577" y="478.8" font-size="34" font-family="Liberation Sans, sans-serif" font-weight="bold" fill="#fff">i</text>
<text x="694" y="478.8" font-size="34" font-family="Liberation Sans, sans-serif" font-weight="bold" fill="#fff">ii</text>
<text x="796.6" y="478.8" font-size="34" font-family="Liberation Sans, sans-serif" font-weight="bold" fill="#fff">iii</text>
<text x="521" y="415.3" font-size="39.5" font-family="Liberation Sans, sans-serif" font-weight="bold" fill="#fff">d</text>
<rect x="846" y="717.4" width="38.3" height="7" fill="#fff"/>
<text x="892.5" y="729.1" font-size="28.5" font-family="Liberation Sans, sans-serif" font-weight="bold" fill="#fff">200 nm</text>
</svg>
</div></body></html>
